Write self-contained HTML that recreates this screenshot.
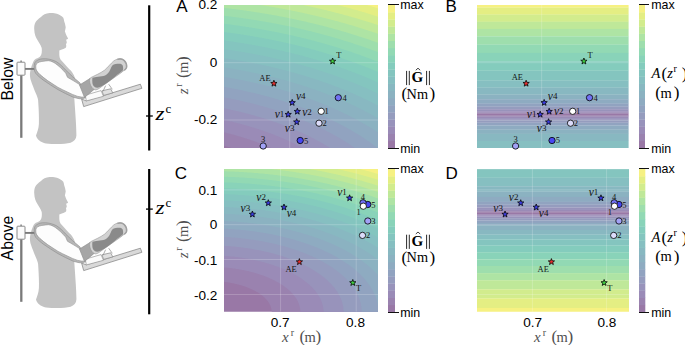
<!DOCTYPE html>
<html><head><meta charset="utf-8"><style>
html,body{margin:0;padding:0;background:#fff;}
body{width:685px;height:345px;position:relative;overflow:hidden;color:#000;}
.ab{position:absolute;}
.t{white-space:nowrap;line-height:1;}
.rot{white-space:nowrap;line-height:1;transform:translate(-50%,-50%) rotate(-90deg);}
.rotc{white-space:nowrap;line-height:1;transform:translate(-50%,-50%) rotate(-90deg);}
</style></head><body>
<svg class="ab" style="left:0;top:0" width="150" height="345" viewBox="0 0 150 345"><g transform="translate(0,0)">
<!-- stand -->
<line x1="21.3" y1="75" x2="21.3" y2="137.8" stroke="#7a7a7a" stroke-width="2.3"/>
<line x1="21.1" y1="60.6" x2="21.1" y2="62.3" stroke="#888" stroke-width="1.6"/>
<rect x="17" y="62.2" width="8" height="13" rx="0.8" fill="#fbfbfb" stroke="#8a8a8a" stroke-width="1"/>
<!-- body silhouette -->
<path d="M49.7,13 C45.5,13.3 43,15 41,17 C38.5,18.8 36.5,20.5 35.4,22.5 C34.4,24.5 34.1,26.7 34.2,28.9 C34.3,31.5 34.7,34 35.4,36.1 C36.5,38.8 38,41 39.4,43.3 C40.5,45 41.3,46.5 41.7,48 C41.9,49.5 41.9,51.2 41.7,52.8 C41.5,55 40.5,56.5 38.8,57.6 C37.8,58.2 36.9,58.5 35.9,58.7 C34,60 33.3,61.5 32.8,63 C31.8,65 31.2,67 30.9,68.8 C30.3,71 29.9,73 29.9,74.6 C30,77 30.3,79 30.9,80.4 C31.6,82.5 32.2,84.5 33,86.2 C34,89 35,91.5 35.9,93.5 C37,96 37.8,98 38.1,100 C38.5,106 39.2,116 38.9,124 C38.6,129 37.2,132 36,135.5 C37,139.5 40.5,142.2 46,143.4 C55,144.5 65,144.2 70.6,142.7 C74,141.5 76.3,139 76.4,135.5 C76.5,128 75.5,116 74.9,107 C74.6,102 74.2,97 73.8,92 L75,78 C73.5,74 71.5,71 69.6,69.6 C66.5,66 63,62.5 60.5,59.5 C59.7,58 59.3,56.5 59.3,55 L59.3,50.5 C60.4,49.8 61.8,49.3 63.3,48.9 C64.3,48.7 65.3,48.3 66.1,47.3 C66.4,46.4 66.3,45.3 66,44.2 C66.2,43.8 66.6,43.3 66.8,42.5 C66.8,41.6 66.4,40.8 66.1,39.8 C66.8,39.6 67.6,39.3 68.1,38.5 C66.8,36.5 65.5,33.5 64.9,31.3 C65.2,30 65.6,28.8 65.7,27.3 C65.4,25 64.8,23 64.1,21 C64,20 63.8,19 63.3,17.8 C61.8,16 59.5,14.8 56.9,13.8 C55,13.2 53,12.8 49.7,13 Z" fill="#c3c3c3"/>
<line x1="25" y1="68.9" x2="35.5" y2="68.9" stroke="#7a7a7a" stroke-width="1.9"/>
<!-- strap -->
<path d="M34.8,62.5 C37,60 39.5,59 42.3,58.8 C44.5,58.6 47,58.7 49.1,59.2 C52,59.8 54.5,60.6 56.6,61.8 C60,64 63,67 65.7,70.1 C70,74.5 75,79 80,82.9 L86.5,97.5 C84,98.5 81.5,98.9 79.2,98.7 C77,98.3 75,97.8 73.2,97.2 C68,95 63,92.3 58.1,89.7 C53,86.7 48,83.3 43,79.9 C40,77.7 37.5,75.5 35.5,73.1 C34,71 33.8,66 34.8,62.5 Z" fill="#b6b6b6" stroke="#8c8c8c" stroke-width="0.6"/>
<!-- upper arm -->
<path d="M36.3,64 C38,62.3 40.5,61.5 43,61.3 C45,61 46.8,60.8 48.3,60.7 C51,60.9 53,62 55.1,63.3 C59,66 62.5,69.5 65.7,73.1 C66.4,74.5 66.9,76 67.5,77.3 C69.5,78.5 71.5,79.5 73.2,80.6 C75.5,82 77.8,83.4 80,84.8 C82.5,87 84.6,90 85.6,93 C86,94.5 86.1,96 86,97.2 C83,97.3 80.3,97 77.7,96.4 C74,95.2 70.5,93.6 67.2,91.9 C64,90.4 61,89 58.1,87.4 C54.5,85.2 51,82.9 47.6,80.6 C45,78.7 42.4,76.7 40,74.6 C38.5,73.2 37.2,71.8 36.3,70.1 C35.6,68 35.6,65.5 36.3,64 Z" fill="#fdfdfd" stroke="#8c8c8c" stroke-width="0.6"/>
<!-- platform -->
<path d="M81.6,99 L86.2,100.9 L140.4,84.2 L141.9,88.3 L83.7,106.6 Z" fill="#d9d9d9" stroke="#8a8a8a" stroke-width="0.8" stroke-linejoin="round"/>
<path d="M85.2,95.2 L101,90.6 L103.5,96.3 L86.4,100.9 Z" fill="#fbfbfb" stroke="#8a8a8a" stroke-width="0.6"/>
<!-- forearm skin -->
<path d="M79.5,85 L90,78.5 L94,89.5 L84.5,97.5 Z" fill="#a6a6a6" stroke="#8a8a8a" stroke-width="0.6"/>
<!-- block + straps -->
<path d="M102,90.8 L110.7,88.8 L112.8,92.9 L103.6,95.4 Z" fill="#e0e0e0" stroke="#8a8a8a" stroke-width="0.7"/>
<line x1="105.6" y1="85.7" x2="103" y2="91.3" stroke="#8a8a8a" stroke-width="0.7"/>
<line x1="108.7" y1="84.2" x2="112.3" y2="89.3" stroke="#8a8a8a" stroke-width="0.7"/>
<!-- brace -->
<path d="M90.6,77.7 C93,76.5 95.3,75.4 97.6,74.3 C100,73 102.4,71.8 104.5,70.2 C106.2,68.8 107.7,67.2 109.1,65.6 C110.6,63.9 112.2,62.3 113.8,60.9 C115,60 116.1,59.5 117.3,59.2 C118.4,58.8 119.5,58.6 120.7,58.6 C122.2,58.8 123.3,59.5 124.2,60.4 C125.3,61.5 126.1,62.9 126.5,64.4 C126.8,65.6 126.8,66.8 126.5,67.9 C126,68.9 125.2,69.6 124.2,70.2 C123,71.2 121.9,72.2 120.7,73.1 C118.8,74.4 116.8,75.8 114.9,77.1 C113,78.5 111,79.8 109.1,81.2 C107.2,82.6 105.3,84 103.4,85.3 C101.8,86.5 100.3,87.6 98.7,88.7 C97.6,89.4 96.4,89.9 95.3,89.9 C94.4,89.7 93.6,89.3 93,88.7 C92,87.7 91.1,86.6 90.6,85.3 C90,83.8 89.6,82.2 89.5,80.6 C89.5,79.5 89.9,78.4 90.6,77.7 Z" fill="#d2d2d2" stroke="#959595" stroke-width="0.6"/>
<path d="M92.4,77.7 C95,77.2 97.5,76.9 99.9,76.6 C102.5,76.2 104.8,75.8 106.3,74.8 C108,73.5 109,72.3 109.7,70.8 C110.4,69.3 110.9,67.9 111.5,66.7 C112.2,65.5 112.9,64.8 113.8,64.4 C115.3,63.8 116.8,63.7 118.4,63.8 C119.8,63.8 121,63.9 121.9,64.4 C122.6,65 123,65.8 123,66.7 C123.2,68 123.2,69.3 123,70.2 C121.5,71.8 119.5,73.3 117.3,74.8 C115,76.7 112.7,78.7 110.3,80.6 C108,82.3 105.8,84 103.4,85.3 C101.8,86.2 100.3,87 98.7,87.6 C97,88 95.5,87.6 94.1,86.4 C93.2,85.5 92.6,84.2 92.4,82.9 C92.2,81.2 92.2,79.3 92.4,77.7 Z" fill="#8a8a8a"/>
<path d="M117.3,59.4 C119.5,58.7 122.5,58.9 124.3,60.6 C126,62.2 126.8,64.5 126.6,67.2 C126.3,68.6 125.5,69.6 124.3,70.3" fill="none" stroke="#a0a0a0" stroke-width="1.5"/>
</g><g transform="translate(0,164)">
<!-- stand -->
<line x1="21.3" y1="75" x2="21.3" y2="137.8" stroke="#7a7a7a" stroke-width="2.3"/>
<line x1="21.1" y1="60.6" x2="21.1" y2="62.3" stroke="#888" stroke-width="1.6"/>
<rect x="17" y="62.2" width="8" height="13" rx="0.8" fill="#fbfbfb" stroke="#8a8a8a" stroke-width="1"/>
<!-- body silhouette -->
<path d="M49.7,13 C45.5,13.3 43,15 41,17 C38.5,18.8 36.5,20.5 35.4,22.5 C34.4,24.5 34.1,26.7 34.2,28.9 C34.3,31.5 34.7,34 35.4,36.1 C36.5,38.8 38,41 39.4,43.3 C40.5,45 41.3,46.5 41.7,48 C41.9,49.5 41.9,51.2 41.7,52.8 C41.5,55 40.5,56.5 38.8,57.6 C37.8,58.2 36.9,58.5 35.9,58.7 C34,60 33.3,61.5 32.8,63 C31.8,65 31.2,67 30.9,68.8 C30.3,71 29.9,73 29.9,74.6 C30,77 30.3,79 30.9,80.4 C31.6,82.5 32.2,84.5 33,86.2 C34,89 35,91.5 35.9,93.5 C37,96 37.8,98 38.1,100 C38.5,106 39.2,116 38.9,124 C38.6,129 37.2,132 36,135.5 C37,139.5 40.5,142.2 46,143.4 C55,144.5 65,144.2 70.6,142.7 C74,141.5 76.3,139 76.4,135.5 C76.5,128 75.5,116 74.9,107 C74.6,102 74.2,97 73.8,92 L75,78 C73.5,74 71.5,71 69.6,69.6 C66.5,66 63,62.5 60.5,59.5 C59.7,58 59.3,56.5 59.3,55 L59.3,50.5 C60.4,49.8 61.8,49.3 63.3,48.9 C64.3,48.7 65.3,48.3 66.1,47.3 C66.4,46.4 66.3,45.3 66,44.2 C66.2,43.8 66.6,43.3 66.8,42.5 C66.8,41.6 66.4,40.8 66.1,39.8 C66.8,39.6 67.6,39.3 68.1,38.5 C66.8,36.5 65.5,33.5 64.9,31.3 C65.2,30 65.6,28.8 65.7,27.3 C65.4,25 64.8,23 64.1,21 C64,20 63.8,19 63.3,17.8 C61.8,16 59.5,14.8 56.9,13.8 C55,13.2 53,12.8 49.7,13 Z" fill="#c3c3c3"/>
<line x1="25" y1="68.9" x2="35.5" y2="68.9" stroke="#7a7a7a" stroke-width="1.9"/>
<!-- strap -->
<path d="M34.8,62.5 C37,60 39.5,59 42.3,58.8 C44.5,58.6 47,58.7 49.1,59.2 C52,59.8 54.5,60.6 56.6,61.8 C60,64 63,67 65.7,70.1 C70,74.5 75,79 80,82.9 L86.5,97.5 C84,98.5 81.5,98.9 79.2,98.7 C77,98.3 75,97.8 73.2,97.2 C68,95 63,92.3 58.1,89.7 C53,86.7 48,83.3 43,79.9 C40,77.7 37.5,75.5 35.5,73.1 C34,71 33.8,66 34.8,62.5 Z" fill="#b6b6b6" stroke="#8c8c8c" stroke-width="0.6"/>
<!-- upper arm -->
<path d="M36.3,64 C38,62.3 40.5,61.5 43,61.3 C45,61 46.8,60.8 48.3,60.7 C51,60.9 53,62 55.1,63.3 C59,66 62.5,69.5 65.7,73.1 C66.4,74.5 66.9,76 67.5,77.3 C69.5,78.5 71.5,79.5 73.2,80.6 C75.5,82 77.8,83.4 80,84.8 C82.5,87 84.6,90 85.6,93 C86,94.5 86.1,96 86,97.2 C83,97.3 80.3,97 77.7,96.4 C74,95.2 70.5,93.6 67.2,91.9 C64,90.4 61,89 58.1,87.4 C54.5,85.2 51,82.9 47.6,80.6 C45,78.7 42.4,76.7 40,74.6 C38.5,73.2 37.2,71.8 36.3,70.1 C35.6,68 35.6,65.5 36.3,64 Z" fill="#fdfdfd" stroke="#8c8c8c" stroke-width="0.6"/>
<!-- platform -->
<path d="M81.6,99 L86.2,100.9 L140.4,84.2 L141.9,88.3 L83.7,106.6 Z" fill="#d9d9d9" stroke="#8a8a8a" stroke-width="0.8" stroke-linejoin="round"/>
<path d="M85.2,95.2 L101,90.6 L103.5,96.3 L86.4,100.9 Z" fill="#fbfbfb" stroke="#8a8a8a" stroke-width="0.6"/>
<!-- forearm skin -->
<path d="M79.5,85 L90,78.5 L94,89.5 L84.5,97.5 Z" fill="#a6a6a6" stroke="#8a8a8a" stroke-width="0.6"/>
<!-- block + straps -->
<path d="M102,90.8 L110.7,88.8 L112.8,92.9 L103.6,95.4 Z" fill="#e0e0e0" stroke="#8a8a8a" stroke-width="0.7"/>
<line x1="105.6" y1="85.7" x2="103" y2="91.3" stroke="#8a8a8a" stroke-width="0.7"/>
<line x1="108.7" y1="84.2" x2="112.3" y2="89.3" stroke="#8a8a8a" stroke-width="0.7"/>
<!-- brace -->
<path d="M90.6,77.7 C93,76.5 95.3,75.4 97.6,74.3 C100,73 102.4,71.8 104.5,70.2 C106.2,68.8 107.7,67.2 109.1,65.6 C110.6,63.9 112.2,62.3 113.8,60.9 C115,60 116.1,59.5 117.3,59.2 C118.4,58.8 119.5,58.6 120.7,58.6 C122.2,58.8 123.3,59.5 124.2,60.4 C125.3,61.5 126.1,62.9 126.5,64.4 C126.8,65.6 126.8,66.8 126.5,67.9 C126,68.9 125.2,69.6 124.2,70.2 C123,71.2 121.9,72.2 120.7,73.1 C118.8,74.4 116.8,75.8 114.9,77.1 C113,78.5 111,79.8 109.1,81.2 C107.2,82.6 105.3,84 103.4,85.3 C101.8,86.5 100.3,87.6 98.7,88.7 C97.6,89.4 96.4,89.9 95.3,89.9 C94.4,89.7 93.6,89.3 93,88.7 C92,87.7 91.1,86.6 90.6,85.3 C90,83.8 89.6,82.2 89.5,80.6 C89.5,79.5 89.9,78.4 90.6,77.7 Z" fill="#d2d2d2" stroke="#959595" stroke-width="0.6"/>
<path d="M92.4,77.7 C95,77.2 97.5,76.9 99.9,76.6 C102.5,76.2 104.8,75.8 106.3,74.8 C108,73.5 109,72.3 109.7,70.8 C110.4,69.3 110.9,67.9 111.5,66.7 C112.2,65.5 112.9,64.8 113.8,64.4 C115.3,63.8 116.8,63.7 118.4,63.8 C119.8,63.8 121,63.9 121.9,64.4 C122.6,65 123,65.8 123,66.7 C123.2,68 123.2,69.3 123,70.2 C121.5,71.8 119.5,73.3 117.3,74.8 C115,76.7 112.7,78.7 110.3,80.6 C108,82.3 105.8,84 103.4,85.3 C101.8,86.2 100.3,87 98.7,87.6 C97,88 95.5,87.6 94.1,86.4 C93.2,85.5 92.6,84.2 92.4,82.9 C92.2,81.2 92.2,79.3 92.4,77.7 Z" fill="#8a8a8a"/>
<path d="M117.3,59.4 C119.5,58.7 122.5,58.9 124.3,60.6 C126,62.2 126.8,64.5 126.6,67.2 C126.3,68.6 125.5,69.6 124.3,70.3" fill="none" stroke="#a0a0a0" stroke-width="1.5"/>
</g></svg>
<div class="ab rot" style="left:8.1px;top:78.5px;font-size:15.8px;font-family:'Liberation Sans', sans-serif">Below</div>
<div class="ab rot" style="left:8.3px;top:238px;font-size:15.8px;font-family:'Liberation Sans', sans-serif">Above</div>
<svg class="ab" style="left:0;top:0" width="685" height="345">
<line x1="149.2" y1="5.3" x2="149.2" y2="150.5" stroke="#000" stroke-width="2.2"/>
<line x1="146" y1="116" x2="152.8" y2="116" stroke="#000" stroke-width="1.3"/>
<line x1="149.2" y1="169" x2="149.2" y2="314.3" stroke="#000" stroke-width="2.2"/>
<line x1="146" y1="209.1" x2="152.8" y2="209.1" stroke="#000" stroke-width="1.3"/>
</svg>
<svg class="ab" style="left:224px;top:5px;overflow:visible" width="154" height="143" viewBox="0 0 154 143">
<defs><clipPath id="cp2245"><rect x="0" y="0" width="154" height="143"/></clipPath></defs>
<g clip-path="url(#cp2245)"><rect x="-1" y="-1" width="156.0" height="145.0" fill="#9978a6"/>
<path d="M-0.2 -1.0L0.6 -1.0L1.4 -1.0L2.1 -1.0L2.9 -1.0L3.7 -1.0L4.5 -1.0L5.3 -1.0L6.1 -1.0L6.8 -1.0L7.6 -1.0L8.4 -1.0L9.2 -1.0L10.0 -1.0L10.8 -1.0L11.5 -1.0L12.3 -1.0L13.1 -1.0L13.9 -1.0L14.7 -1.0L15.5 -1.0L16.2 -1.0L17.0 -1.0L17.8 -1.0L18.6 -1.0L19.4 -1.0L20.2 -1.0L20.9 -1.0L21.7 -1.0L22.5 -1.0L23.3 -1.0L24.1 -1.0L24.9 -1.0L25.7 -1.0L26.4 -1.0L27.2 -1.0L28.0 -1.0L28.8 -1.0L29.6 -1.0L30.4 -1.0L31.1 -1.0L31.9 -1.0L32.7 -1.0L33.5 -1.0L34.3 -1.0L35.1 -1.0L35.8 -1.0L36.6 -1.0L37.4 -1.0L38.2 -1.0L39.0 -1.0L39.8 -1.0L40.5 -1.0L41.3 -1.0L42.1 -1.0L42.9 -1.0L43.7 -1.0L44.5 -1.0L45.3 -1.0L46.0 -1.0L46.8 -1.0L47.6 -1.0L48.4 -1.0L49.2 -1.0L50.0 -1.0L50.7 -1.0L51.5 -1.0L52.3 -1.0L53.1 -1.0L53.9 -1.0L54.7 -1.0L55.4 -1.0L56.2 -1.0L57.0 -1.0L57.8 -1.0L58.6 -1.0L59.4 -1.0L60.1 -1.0L60.9 -1.0L61.7 -1.0L62.5 -1.0L63.3 -1.0L64.1 -1.0L64.8 -1.0L65.6 -1.0L66.4 -1.0L67.2 -1.0L68.0 -1.0L68.8 -1.0L69.6 -1.0L70.3 -1.0L71.1 -1.0L71.9 -1.0L72.7 -1.0L73.5 -1.0L74.3 -1.0L75.0 -1.0L75.8 -1.0L76.6 -1.0L77.4 -1.0L78.2 -1.0L79.0 -1.0L79.7 -1.0L80.5 -1.0L81.3 -1.0L82.1 -1.0L82.9 -1.0L83.7 -1.0L84.4 -1.0L85.2 -1.0L86.0 -1.0L86.8 -1.0L87.6 -1.0L88.4 -1.0L89.2 -1.0L89.9 -1.0L90.7 -1.0L91.5 -1.0L92.3 -1.0L93.1 -1.0L93.9 -1.0L94.6 -1.0L95.4 -1.0L96.2 -1.0L97.0 -1.0L97.8 -1.0L98.6 -1.0L99.3 -1.0L100.1 -1.0L100.9 -1.0L101.7 -1.0L102.5 -1.0L103.3 -1.0L104.0 -1.0L104.8 -1.0L105.6 -1.0L106.4 -1.0L107.2 -1.0L108.0 -1.0L108.7 -1.0L109.5 -1.0L110.3 -1.0L111.1 -1.0L111.9 -1.0L112.7 -1.0L113.5 -1.0L114.2 -1.0L115.0 -1.0L115.8 -1.0L116.6 -1.0L117.4 -1.0L118.2 -1.0L118.9 -1.0L119.7 -1.0L120.5 -1.0L121.3 -1.0L122.1 -1.0L122.9 -1.0L123.6 -1.0L124.4 -1.0L125.2 -1.0L126.0 -1.0L126.8 -1.0L127.6 -1.0L128.3 -1.0L129.1 -1.0L129.9 -1.0L130.7 -1.0L131.5 -1.0L132.3 -1.0L133.1 -1.0L133.8 -1.0L134.6 -1.0L135.4 -1.0L136.2 -1.0L137.0 -1.0L137.8 -1.0L138.5 -1.0L139.3 -1.0L140.1 -1.0L140.9 -1.0L141.7 -1.0L142.5 -1.0L143.2 -1.0L144.0 -1.0L144.8 -1.0L145.6 -1.0L146.4 -1.0L147.2 -1.0L147.9 -1.0L148.7 -1.0L149.5 -1.0L150.3 -1.0L151.1 -1.0L151.9 -1.0L152.6 -1.0L153.4 -1.0L154.2 -1.0L155.0 -1.0L155.0 -0.2L155.0 0.5L155.0 1.3L155.0 2.1L155.0 2.8L155.0 3.6L155.0 4.4L155.0 5.1L155.0 5.9L155.0 6.7L155.0 7.4L155.0 8.2L155.0 9.0L155.0 9.7L155.0 10.5L155.0 11.3L155.0 12.0L155.0 12.8L155.0 13.6L155.0 14.3L155.0 15.1L155.0 15.9L155.0 16.6L155.0 17.4L155.0 18.2L155.0 18.9L155.0 19.7L155.0 20.5L155.0 21.2L155.0 22.0L155.0 22.8L155.0 23.6L155.0 24.3L155.0 25.1L155.0 25.9L155.0 26.6L155.0 27.4L155.0 28.2L155.0 28.9L155.0 29.7L155.0 30.5L155.0 31.2L155.0 32.0L155.0 32.8L155.0 33.5L155.0 34.3L155.0 35.1L155.0 35.8L155.0 36.6L155.0 37.4L155.0 38.1L155.0 38.9L155.0 39.7L155.0 40.4L155.0 41.2L155.0 42.0L155.0 42.7L155.0 43.5L155.0 44.3L155.0 45.0L155.0 45.8L155.0 46.6L155.0 47.3L155.0 48.1L155.0 48.9L155.0 49.6L155.0 50.4L155.0 51.2L155.0 51.9L155.0 52.7L155.0 53.5L155.0 54.2L155.0 55.0L155.0 55.8L155.0 56.5L155.0 57.3L155.0 58.1L155.0 58.8L155.0 59.6L155.0 60.4L155.0 61.1L155.0 61.9L155.0 62.7L155.0 63.4L155.0 64.2L155.0 65.0L155.0 65.7L155.0 66.5L155.0 67.3L155.0 68.0L155.0 68.8L155.0 69.6L155.0 70.3L155.0 71.1L155.0 71.9L155.0 72.7L155.0 73.4L155.0 74.2L155.0 75.0L155.0 75.7L155.0 76.5L155.0 77.3L155.0 78.0L155.0 78.8L155.0 79.6L155.0 80.3L155.0 81.1L155.0 81.9L155.0 82.6L155.0 83.4L155.0 84.2L155.0 84.9L155.0 85.7L155.0 86.5L155.0 87.2L155.0 88.0L155.0 88.8L155.0 89.5L155.0 90.3L155.0 91.1L155.0 91.8L155.0 92.6L155.0 93.4L155.0 94.1L155.0 94.9L155.0 95.7L155.0 96.4L155.0 97.2L155.0 98.0L155.0 98.7L155.0 99.5L155.0 100.3L155.0 101.0L155.0 101.8L155.0 102.6L155.0 103.3L155.0 104.1L155.0 104.9L155.0 105.6L155.0 106.4L155.0 107.2L155.0 107.9L155.0 108.7L155.0 109.5L155.0 110.2L155.0 111.0L155.0 111.8L155.0 112.5L155.0 113.3L155.0 114.1L155.0 114.8L155.0 115.6L155.0 116.4L155.0 117.1L155.0 117.9L155.0 118.7L155.0 119.4L155.0 120.2L155.0 121.0L155.0 121.8L155.0 122.5L155.0 123.3L155.0 124.1L155.0 124.8L155.0 125.6L155.0 126.4L155.0 127.1L155.0 127.9L155.0 128.7L155.0 129.4L155.0 130.2L155.0 131.0L155.0 131.7L155.0 132.5L155.0 133.3L155.0 134.0L155.0 134.8L155.0 135.6L155.0 136.3L155.0 137.1L155.0 137.9L155.0 138.6L155.0 139.4L155.0 140.2L155.0 140.9L155.0 141.7L155.0 142.5L155.0 143.2L155.0 144.0L154.2 144.0L153.4 144.0L152.6 144.0L151.9 144.0L151.1 144.0L150.3 144.0L149.5 144.0L148.7 144.0L147.9 144.0L147.2 144.0L146.4 144.0L145.6 144.0L144.8 144.0L144.0 144.0L143.2 144.0L142.5 144.0L141.7 144.0L140.9 144.0L140.1 144.0L139.3 144.0L138.5 144.0L137.8 144.0L137.0 144.0L136.2 144.0L135.4 144.0L134.6 144.0L133.8 144.0L133.1 144.0L132.3 144.0L131.5 144.0L130.7 144.0L129.9 144.0L129.1 144.0L128.3 144.0L127.6 144.0L126.8 144.0L126.0 144.0L125.2 144.0L124.4 144.0L123.6 144.0L122.9 144.0L122.1 144.0L121.3 144.0L120.5 144.0L119.7 144.0L118.9 144.0L118.2 144.0L117.4 144.0L116.6 144.0L115.8 144.0L115.0 144.0L114.2 144.0L113.5 144.0L112.7 144.0L111.9 144.0L111.1 144.0L110.3 144.0L109.5 144.0L108.7 144.0L108.0 144.0L107.2 144.0L106.4 144.0L105.6 144.0L104.8 144.0L104.0 144.0L103.3 144.0L102.5 144.0L101.7 144.0L100.9 144.0L100.1 144.0L99.3 144.0L98.6 144.0L97.8 144.0L97.0 144.0L96.2 144.0L95.4 144.0L94.6 144.0L93.9 144.0L93.1 144.0L92.3 144.0L91.5 144.0L90.7 144.0L89.9 144.0L89.2 144.0L88.4 144.0L87.6 144.0L86.8 144.0L86.0 144.0L85.2 144.0L84.4 144.0L83.7 144.0L82.9 144.0L82.1 144.0L81.3 144.0L80.5 144.0L79.7 144.0L79.0 144.0L78.2 144.0L77.4 144.0L76.6 144.0L75.8 144.0L75.0 144.0L74.3 144.0L73.5 144.0L72.7 144.0L71.9 144.0L71.1 144.0L70.3 144.0L69.6 144.0L68.8 144.0L68.0 144.0L67.2 144.0L66.4 144.0L65.6 144.0L64.8 144.0L64.1 144.0L63.3 144.0L62.5 144.0L61.7 144.0L60.9 144.0L60.1 144.0L59.4 144.0L58.6 144.0L57.8 144.0L57.0 144.0L56.2 144.0L55.4 144.0L54.7 144.0L53.9 144.0L53.1 144.0L52.3 144.0L51.5 144.0L50.7 144.0L50.0 144.0L49.2 144.0L48.4 144.0L47.6 144.0L46.8 144.0L46.0 144.0L45.3 144.0L44.5 144.0L43.7 144.0L42.9 144.0L42.1 144.0L41.3 144.0L40.5 144.0L39.8 144.0L39.0 144.0L38.2 144.0L37.4 144.0L36.6 144.0L35.8 144.0L35.1 144.0L34.3 144.0L33.5 144.0L32.7 144.0L31.9 144.0L31.1 144.0L30.4 144.0L29.6 144.0L28.8 144.0L28.0 144.0L27.2 144.0L26.4 144.0L25.7 144.0L24.9 144.0L24.1 144.0L23.3 144.0L22.5 144.0L21.7 144.0L20.9 144.0L20.2 144.0L19.4 144.0L18.6 144.0L17.8 144.0L17.0 144.0L16.2 144.0L15.5 144.0L14.7 144.0L13.9 144.0L13.1 144.0L12.3 144.0L11.5 144.0L11.0 144.0L10.8 143.9L10.0 143.7L9.2 143.4L8.6 143.2L8.4 143.2L7.6 142.9L6.8 142.7L6.1 142.5L6.1 142.5L5.3 142.2L4.5 142.0L3.7 141.8L3.5 141.7L2.9 141.5L2.1 141.3L1.4 141.1L0.9 140.9L0.6 140.8L-0.2 140.6L-1.0 140.4L-1.0 140.2L-1.0 139.4L-1.0 138.6L-1.0 137.9L-1.0 137.1L-1.0 136.3L-1.0 135.6L-1.0 134.8L-1.0 134.0L-1.0 133.3L-1.0 132.5L-1.0 131.7L-1.0 131.0L-1.0 130.2L-1.0 129.4L-1.0 128.7L-1.0 127.9L-1.0 127.1L-1.0 126.4L-1.0 125.6L-1.0 124.8L-1.0 124.1L-1.0 123.3L-1.0 122.5L-1.0 121.8L-1.0 121.0L-1.0 120.2L-1.0 119.4L-1.0 118.7L-1.0 117.9L-1.0 117.1L-1.0 116.4L-1.0 115.6L-1.0 114.8L-1.0 114.1L-1.0 113.3L-1.0 112.5L-1.0 111.8L-1.0 111.0L-1.0 110.2L-1.0 109.5L-1.0 108.7L-1.0 107.9L-1.0 107.2L-1.0 106.4L-1.0 105.6L-1.0 104.9L-1.0 104.1L-1.0 103.3L-1.0 102.6L-1.0 101.8L-1.0 101.0L-1.0 100.3L-1.0 99.5L-1.0 98.7L-1.0 98.0L-1.0 97.2L-1.0 96.4L-1.0 95.7L-1.0 94.9L-1.0 94.1L-1.0 93.4L-1.0 92.6L-1.0 91.8L-1.0 91.1L-1.0 90.3L-1.0 89.5L-1.0 88.8L-1.0 88.0L-1.0 87.2L-1.0 86.5L-1.0 85.7L-1.0 84.9L-1.0 84.2L-1.0 83.4L-1.0 82.6L-1.0 81.9L-1.0 81.1L-1.0 80.3L-1.0 79.6L-1.0 78.8L-1.0 78.0L-1.0 77.3L-1.0 76.5L-1.0 75.7L-1.0 75.0L-1.0 74.2L-1.0 73.4L-1.0 72.7L-1.0 71.9L-1.0 71.1L-1.0 70.3L-1.0 69.6L-1.0 68.8L-1.0 68.0L-1.0 67.3L-1.0 66.5L-1.0 65.7L-1.0 65.0L-1.0 64.2L-1.0 63.4L-1.0 62.7L-1.0 61.9L-1.0 61.1L-1.0 60.4L-1.0 59.6L-1.0 58.8L-1.0 58.1L-1.0 57.3L-1.0 56.5L-1.0 55.8L-1.0 55.0L-1.0 54.2L-1.0 53.5L-1.0 52.7L-1.0 51.9L-1.0 51.2L-1.0 50.4L-1.0 49.6L-1.0 48.9L-1.0 48.1L-1.0 47.3L-1.0 46.6L-1.0 45.8L-1.0 45.0L-1.0 44.3L-1.0 43.5L-1.0 42.7L-1.0 42.0L-1.0 41.2L-1.0 40.4L-1.0 39.7L-1.0 38.9L-1.0 38.1L-1.0 37.4L-1.0 36.6L-1.0 35.8L-1.0 35.1L-1.0 34.3L-1.0 33.5L-1.0 32.8L-1.0 32.0L-1.0 31.2L-1.0 30.5L-1.0 29.7L-1.0 28.9L-1.0 28.2L-1.0 27.4L-1.0 26.6L-1.0 25.9L-1.0 25.1L-1.0 24.3L-1.0 23.6L-1.0 22.8L-1.0 22.0L-1.0 21.2L-1.0 20.5L-1.0 19.7L-1.0 18.9L-1.0 18.2L-1.0 17.4L-1.0 16.6L-1.0 15.9L-1.0 15.1L-1.0 14.3L-1.0 13.6L-1.0 12.8L-1.0 12.0L-1.0 11.3L-1.0 10.5L-1.0 9.7L-1.0 9.0L-1.0 8.2L-1.0 7.4L-1.0 6.7L-1.0 5.9L-1.0 5.1L-1.0 4.4L-1.0 3.6L-1.0 2.8L-1.0 2.1L-1.0 1.3L-1.0 0.5L-1.0 -0.2L-1.0 -1.0Z" fill="#9a82af"/>
<path d="M-0.2 -1.0L0.6 -1.0L1.4 -1.0L2.1 -1.0L2.9 -1.0L3.7 -1.0L4.5 -1.0L5.3 -1.0L6.1 -1.0L6.8 -1.0L7.6 -1.0L8.4 -1.0L9.2 -1.0L10.0 -1.0L10.8 -1.0L11.5 -1.0L12.3 -1.0L13.1 -1.0L13.9 -1.0L14.7 -1.0L15.5 -1.0L16.2 -1.0L17.0 -1.0L17.8 -1.0L18.6 -1.0L19.4 -1.0L20.2 -1.0L20.9 -1.0L21.7 -1.0L22.5 -1.0L23.3 -1.0L24.1 -1.0L24.9 -1.0L25.7 -1.0L26.4 -1.0L27.2 -1.0L28.0 -1.0L28.8 -1.0L29.6 -1.0L30.4 -1.0L31.1 -1.0L31.9 -1.0L32.7 -1.0L33.5 -1.0L34.3 -1.0L35.1 -1.0L35.8 -1.0L36.6 -1.0L37.4 -1.0L38.2 -1.0L39.0 -1.0L39.8 -1.0L40.5 -1.0L41.3 -1.0L42.1 -1.0L42.9 -1.0L43.7 -1.0L44.5 -1.0L45.3 -1.0L46.0 -1.0L46.8 -1.0L47.6 -1.0L48.4 -1.0L49.2 -1.0L50.0 -1.0L50.7 -1.0L51.5 -1.0L52.3 -1.0L53.1 -1.0L53.9 -1.0L54.7 -1.0L55.4 -1.0L56.2 -1.0L57.0 -1.0L57.8 -1.0L58.6 -1.0L59.4 -1.0L60.1 -1.0L60.9 -1.0L61.7 -1.0L62.5 -1.0L63.3 -1.0L64.1 -1.0L64.8 -1.0L65.6 -1.0L66.4 -1.0L67.2 -1.0L68.0 -1.0L68.8 -1.0L69.6 -1.0L70.3 -1.0L71.1 -1.0L71.9 -1.0L72.7 -1.0L73.5 -1.0L74.3 -1.0L75.0 -1.0L75.8 -1.0L76.6 -1.0L77.4 -1.0L78.2 -1.0L79.0 -1.0L79.7 -1.0L80.5 -1.0L81.3 -1.0L82.1 -1.0L82.9 -1.0L83.7 -1.0L84.4 -1.0L85.2 -1.0L86.0 -1.0L86.8 -1.0L87.6 -1.0L88.4 -1.0L89.2 -1.0L89.9 -1.0L90.7 -1.0L91.5 -1.0L92.3 -1.0L93.1 -1.0L93.9 -1.0L94.6 -1.0L95.4 -1.0L96.2 -1.0L97.0 -1.0L97.8 -1.0L98.6 -1.0L99.3 -1.0L100.1 -1.0L100.9 -1.0L101.7 -1.0L102.5 -1.0L103.3 -1.0L104.0 -1.0L104.8 -1.0L105.6 -1.0L106.4 -1.0L107.2 -1.0L108.0 -1.0L108.7 -1.0L109.5 -1.0L110.3 -1.0L111.1 -1.0L111.9 -1.0L112.7 -1.0L113.5 -1.0L114.2 -1.0L115.0 -1.0L115.8 -1.0L116.6 -1.0L117.4 -1.0L118.2 -1.0L118.9 -1.0L119.7 -1.0L120.5 -1.0L121.3 -1.0L122.1 -1.0L122.9 -1.0L123.6 -1.0L124.4 -1.0L125.2 -1.0L126.0 -1.0L126.8 -1.0L127.6 -1.0L128.3 -1.0L129.1 -1.0L129.9 -1.0L130.7 -1.0L131.5 -1.0L132.3 -1.0L133.1 -1.0L133.8 -1.0L134.6 -1.0L135.4 -1.0L136.2 -1.0L137.0 -1.0L137.8 -1.0L138.5 -1.0L139.3 -1.0L140.1 -1.0L140.9 -1.0L141.7 -1.0L142.5 -1.0L143.2 -1.0L144.0 -1.0L144.8 -1.0L145.6 -1.0L146.4 -1.0L147.2 -1.0L147.9 -1.0L148.7 -1.0L149.5 -1.0L150.3 -1.0L151.1 -1.0L151.9 -1.0L152.6 -1.0L153.4 -1.0L154.2 -1.0L155.0 -1.0L155.0 -0.2L155.0 0.5L155.0 1.3L155.0 2.1L155.0 2.8L155.0 3.6L155.0 4.4L155.0 5.1L155.0 5.9L155.0 6.7L155.0 7.4L155.0 8.2L155.0 9.0L155.0 9.7L155.0 10.5L155.0 11.3L155.0 12.0L155.0 12.8L155.0 13.6L155.0 14.3L155.0 15.1L155.0 15.9L155.0 16.6L155.0 17.4L155.0 18.2L155.0 18.9L155.0 19.7L155.0 20.5L155.0 21.2L155.0 22.0L155.0 22.8L155.0 23.6L155.0 24.3L155.0 25.1L155.0 25.9L155.0 26.6L155.0 27.4L155.0 28.2L155.0 28.9L155.0 29.7L155.0 30.5L155.0 31.2L155.0 32.0L155.0 32.8L155.0 33.5L155.0 34.3L155.0 35.1L155.0 35.8L155.0 36.6L155.0 37.4L155.0 38.1L155.0 38.9L155.0 39.7L155.0 40.4L155.0 41.2L155.0 42.0L155.0 42.7L155.0 43.5L155.0 44.3L155.0 45.0L155.0 45.8L155.0 46.6L155.0 47.3L155.0 48.1L155.0 48.9L155.0 49.6L155.0 50.4L155.0 51.2L155.0 51.9L155.0 52.7L155.0 53.5L155.0 54.2L155.0 55.0L155.0 55.8L155.0 56.5L155.0 57.3L155.0 58.1L155.0 58.8L155.0 59.6L155.0 60.4L155.0 61.1L155.0 61.9L155.0 62.7L155.0 63.4L155.0 64.2L155.0 65.0L155.0 65.7L155.0 66.5L155.0 67.3L155.0 68.0L155.0 68.8L155.0 69.6L155.0 70.3L155.0 71.1L155.0 71.9L155.0 72.7L155.0 73.4L155.0 74.2L155.0 75.0L155.0 75.7L155.0 76.5L155.0 77.3L155.0 78.0L155.0 78.8L155.0 79.6L155.0 80.3L155.0 81.1L155.0 81.9L155.0 82.6L155.0 83.4L155.0 84.2L155.0 84.9L155.0 85.7L155.0 86.5L155.0 87.2L155.0 88.0L155.0 88.8L155.0 89.5L155.0 90.3L155.0 91.1L155.0 91.8L155.0 92.6L155.0 93.4L155.0 94.1L155.0 94.9L155.0 95.7L155.0 96.4L155.0 97.2L155.0 98.0L155.0 98.7L155.0 99.5L155.0 100.3L155.0 101.0L155.0 101.8L155.0 102.6L155.0 103.3L155.0 104.1L155.0 104.9L155.0 105.6L155.0 106.4L155.0 107.2L155.0 107.9L155.0 108.7L155.0 109.5L155.0 110.2L155.0 111.0L155.0 111.8L155.0 112.5L155.0 113.3L155.0 114.1L155.0 114.8L155.0 115.6L155.0 116.4L155.0 117.1L155.0 117.9L155.0 118.7L155.0 119.4L155.0 120.2L155.0 121.0L155.0 121.8L155.0 122.5L155.0 123.3L155.0 124.1L155.0 124.8L155.0 125.6L155.0 126.4L155.0 127.1L155.0 127.9L155.0 128.7L155.0 129.4L155.0 130.2L155.0 131.0L155.0 131.7L155.0 132.5L155.0 133.3L155.0 134.0L155.0 134.8L155.0 135.6L155.0 136.3L155.0 137.1L155.0 137.9L155.0 138.6L155.0 139.4L155.0 140.2L155.0 140.9L155.0 141.7L155.0 142.5L155.0 143.2L155.0 144.0L154.2 144.0L153.4 144.0L152.6 144.0L151.9 144.0L151.1 144.0L150.3 144.0L149.5 144.0L148.7 144.0L147.9 144.0L147.2 144.0L146.4 144.0L145.6 144.0L144.8 144.0L144.0 144.0L143.2 144.0L142.5 144.0L141.7 144.0L140.9 144.0L140.1 144.0L139.3 144.0L138.5 144.0L137.8 144.0L137.0 144.0L136.2 144.0L135.4 144.0L134.6 144.0L133.8 144.0L133.1 144.0L132.3 144.0L131.5 144.0L130.7 144.0L129.9 144.0L129.1 144.0L128.3 144.0L127.6 144.0L126.8 144.0L126.0 144.0L125.2 144.0L124.4 144.0L123.6 144.0L122.9 144.0L122.1 144.0L121.3 144.0L120.5 144.0L119.7 144.0L118.9 144.0L118.2 144.0L117.4 144.0L116.6 144.0L115.8 144.0L115.0 144.0L114.2 144.0L113.5 144.0L112.7 144.0L111.9 144.0L111.1 144.0L110.3 144.0L109.5 144.0L108.7 144.0L108.0 144.0L107.2 144.0L106.4 144.0L105.6 144.0L104.8 144.0L104.0 144.0L103.3 144.0L102.5 144.0L101.7 144.0L100.9 144.0L100.1 144.0L99.3 144.0L98.6 144.0L97.8 144.0L97.0 144.0L96.2 144.0L95.4 144.0L94.6 144.0L93.9 144.0L93.1 144.0L92.3 144.0L91.5 144.0L90.7 144.0L89.9 144.0L89.2 144.0L88.4 144.0L87.6 144.0L86.8 144.0L86.0 144.0L85.2 144.0L84.4 144.0L83.7 144.0L82.9 144.0L82.1 144.0L81.3 144.0L80.5 144.0L79.7 144.0L79.0 144.0L78.2 144.0L77.4 144.0L76.6 144.0L75.8 144.0L75.0 144.0L74.3 144.0L73.5 144.0L72.7 144.0L71.9 144.0L71.1 144.0L70.3 144.0L69.6 144.0L68.8 144.0L68.0 144.0L67.2 144.0L66.4 144.0L65.6 144.0L64.8 144.0L64.1 144.0L63.3 144.0L62.5 144.0L61.7 144.0L60.9 144.0L60.1 144.0L59.4 144.0L58.6 144.0L57.8 144.0L57.0 144.0L56.2 144.0L55.4 144.0L54.7 144.0L53.9 144.0L53.1 144.0L52.3 144.0L51.5 144.0L50.7 144.0L50.0 144.0L49.6 144.0L49.2 143.8L48.4 143.5L47.9 143.2L47.6 143.1L46.8 142.8L46.1 142.5L46.0 142.4L45.3 142.1L44.5 141.8L44.3 141.7L43.7 141.4L42.9 141.1L42.5 140.9L42.1 140.8L41.3 140.5L40.6 140.2L40.5 140.1L39.8 139.8L39.0 139.5L38.7 139.4L38.2 139.2L37.4 138.9L36.7 138.6L36.6 138.6L35.8 138.3L35.1 138.0L34.7 137.9L34.3 137.7L33.5 137.4L32.7 137.1L32.6 137.1L31.9 136.8L31.1 136.6L30.5 136.3L30.4 136.3L29.6 136.0L28.8 135.7L28.3 135.6L28.0 135.5L27.2 135.2L26.4 134.9L26.1 134.8L25.7 134.6L24.9 134.4L24.1 134.1L23.8 134.0L23.3 133.9L22.5 133.6L21.7 133.4L21.4 133.3L20.9 133.1L20.2 132.9L19.4 132.6L19.0 132.5L18.6 132.4L17.8 132.1L17.0 131.9L16.5 131.7L16.2 131.6L15.5 131.4L14.7 131.2L13.9 131.0L13.9 131.0L13.1 130.7L12.3 130.5L11.5 130.3L11.2 130.2L10.8 130.1L10.0 129.8L9.2 129.6L8.5 129.4L8.4 129.4L7.6 129.2L6.8 129.0L6.1 128.8L5.6 128.7L5.3 128.6L4.5 128.4L3.7 128.2L2.9 128.0L2.7 127.9L2.1 127.8L1.4 127.6L0.6 127.4L-0.2 127.2L-0.4 127.1L-1.0 127.0L-1.0 126.4L-1.0 125.6L-1.0 124.8L-1.0 124.1L-1.0 123.3L-1.0 122.5L-1.0 121.8L-1.0 121.0L-1.0 120.2L-1.0 119.4L-1.0 118.7L-1.0 117.9L-1.0 117.1L-1.0 116.4L-1.0 115.6L-1.0 114.8L-1.0 114.1L-1.0 113.3L-1.0 112.5L-1.0 111.8L-1.0 111.0L-1.0 110.2L-1.0 109.5L-1.0 108.7L-1.0 107.9L-1.0 107.2L-1.0 106.4L-1.0 105.6L-1.0 104.9L-1.0 104.1L-1.0 103.3L-1.0 102.6L-1.0 101.8L-1.0 101.0L-1.0 100.3L-1.0 99.5L-1.0 98.7L-1.0 98.0L-1.0 97.2L-1.0 96.4L-1.0 95.7L-1.0 94.9L-1.0 94.1L-1.0 93.4L-1.0 92.6L-1.0 91.8L-1.0 91.1L-1.0 90.3L-1.0 89.5L-1.0 88.8L-1.0 88.0L-1.0 87.2L-1.0 86.5L-1.0 85.7L-1.0 84.9L-1.0 84.2L-1.0 83.4L-1.0 82.6L-1.0 81.9L-1.0 81.1L-1.0 80.3L-1.0 79.6L-1.0 78.8L-1.0 78.0L-1.0 77.3L-1.0 76.5L-1.0 75.7L-1.0 75.0L-1.0 74.2L-1.0 73.4L-1.0 72.7L-1.0 71.9L-1.0 71.1L-1.0 70.3L-1.0 69.6L-1.0 68.8L-1.0 68.0L-1.0 67.3L-1.0 66.5L-1.0 65.7L-1.0 65.0L-1.0 64.2L-1.0 63.4L-1.0 62.7L-1.0 61.9L-1.0 61.1L-1.0 60.4L-1.0 59.6L-1.0 58.8L-1.0 58.1L-1.0 57.3L-1.0 56.5L-1.0 55.8L-1.0 55.0L-1.0 54.2L-1.0 53.5L-1.0 52.7L-1.0 51.9L-1.0 51.2L-1.0 50.4L-1.0 49.6L-1.0 48.9L-1.0 48.1L-1.0 47.3L-1.0 46.6L-1.0 45.8L-1.0 45.0L-1.0 44.3L-1.0 43.5L-1.0 42.7L-1.0 42.0L-1.0 41.2L-1.0 40.4L-1.0 39.7L-1.0 38.9L-1.0 38.1L-1.0 37.4L-1.0 36.6L-1.0 35.8L-1.0 35.1L-1.0 34.3L-1.0 33.5L-1.0 32.8L-1.0 32.0L-1.0 31.2L-1.0 30.5L-1.0 29.7L-1.0 28.9L-1.0 28.2L-1.0 27.4L-1.0 26.6L-1.0 25.9L-1.0 25.1L-1.0 24.3L-1.0 23.6L-1.0 22.8L-1.0 22.0L-1.0 21.2L-1.0 20.5L-1.0 19.7L-1.0 18.9L-1.0 18.2L-1.0 17.4L-1.0 16.6L-1.0 15.9L-1.0 15.1L-1.0 14.3L-1.0 13.6L-1.0 12.8L-1.0 12.0L-1.0 11.3L-1.0 10.5L-1.0 9.7L-1.0 9.0L-1.0 8.2L-1.0 7.4L-1.0 6.7L-1.0 5.9L-1.0 5.1L-1.0 4.4L-1.0 3.6L-1.0 2.8L-1.0 2.1L-1.0 1.3L-1.0 0.5L-1.0 -0.2L-1.0 -1.0Z" fill="#9a8bb7"/>
<path d="M-0.2 -1.0L0.6 -1.0L1.4 -1.0L2.1 -1.0L2.9 -1.0L3.7 -1.0L4.5 -1.0L5.3 -1.0L6.1 -1.0L6.8 -1.0L7.6 -1.0L8.4 -1.0L9.2 -1.0L10.0 -1.0L10.8 -1.0L11.5 -1.0L12.3 -1.0L13.1 -1.0L13.9 -1.0L14.7 -1.0L15.5 -1.0L16.2 -1.0L17.0 -1.0L17.8 -1.0L18.6 -1.0L19.4 -1.0L20.2 -1.0L20.9 -1.0L21.7 -1.0L22.5 -1.0L23.3 -1.0L24.1 -1.0L24.9 -1.0L25.7 -1.0L26.4 -1.0L27.2 -1.0L28.0 -1.0L28.8 -1.0L29.6 -1.0L30.4 -1.0L31.1 -1.0L31.9 -1.0L32.7 -1.0L33.5 -1.0L34.3 -1.0L35.1 -1.0L35.8 -1.0L36.6 -1.0L37.4 -1.0L38.2 -1.0L39.0 -1.0L39.8 -1.0L40.5 -1.0L41.3 -1.0L42.1 -1.0L42.9 -1.0L43.7 -1.0L44.5 -1.0L45.3 -1.0L46.0 -1.0L46.8 -1.0L47.6 -1.0L48.4 -1.0L49.2 -1.0L50.0 -1.0L50.7 -1.0L51.5 -1.0L52.3 -1.0L53.1 -1.0L53.9 -1.0L54.7 -1.0L55.4 -1.0L56.2 -1.0L57.0 -1.0L57.8 -1.0L58.6 -1.0L59.4 -1.0L60.1 -1.0L60.9 -1.0L61.7 -1.0L62.5 -1.0L63.3 -1.0L64.1 -1.0L64.8 -1.0L65.6 -1.0L66.4 -1.0L67.2 -1.0L68.0 -1.0L68.8 -1.0L69.6 -1.0L70.3 -1.0L71.1 -1.0L71.9 -1.0L72.7 -1.0L73.5 -1.0L74.3 -1.0L75.0 -1.0L75.8 -1.0L76.6 -1.0L77.4 -1.0L78.2 -1.0L79.0 -1.0L79.7 -1.0L80.5 -1.0L81.3 -1.0L82.1 -1.0L82.9 -1.0L83.7 -1.0L84.4 -1.0L85.2 -1.0L86.0 -1.0L86.8 -1.0L87.6 -1.0L88.4 -1.0L89.2 -1.0L89.9 -1.0L90.7 -1.0L91.5 -1.0L92.3 -1.0L93.1 -1.0L93.9 -1.0L94.6 -1.0L95.4 -1.0L96.2 -1.0L97.0 -1.0L97.8 -1.0L98.6 -1.0L99.3 -1.0L100.1 -1.0L100.9 -1.0L101.7 -1.0L102.5 -1.0L103.3 -1.0L104.0 -1.0L104.8 -1.0L105.6 -1.0L106.4 -1.0L107.2 -1.0L108.0 -1.0L108.7 -1.0L109.5 -1.0L110.3 -1.0L111.1 -1.0L111.9 -1.0L112.7 -1.0L113.5 -1.0L114.2 -1.0L115.0 -1.0L115.8 -1.0L116.6 -1.0L117.4 -1.0L118.2 -1.0L118.9 -1.0L119.7 -1.0L120.5 -1.0L121.3 -1.0L122.1 -1.0L122.9 -1.0L123.6 -1.0L124.4 -1.0L125.2 -1.0L126.0 -1.0L126.8 -1.0L127.6 -1.0L128.3 -1.0L129.1 -1.0L129.9 -1.0L130.7 -1.0L131.5 -1.0L132.3 -1.0L133.1 -1.0L133.8 -1.0L134.6 -1.0L135.4 -1.0L136.2 -1.0L137.0 -1.0L137.8 -1.0L138.5 -1.0L139.3 -1.0L140.1 -1.0L140.9 -1.0L141.7 -1.0L142.5 -1.0L143.2 -1.0L144.0 -1.0L144.8 -1.0L145.6 -1.0L146.4 -1.0L147.2 -1.0L147.9 -1.0L148.7 -1.0L149.5 -1.0L150.3 -1.0L151.1 -1.0L151.9 -1.0L152.6 -1.0L153.4 -1.0L154.2 -1.0L155.0 -1.0L155.0 -0.2L155.0 0.5L155.0 1.3L155.0 2.1L155.0 2.8L155.0 3.6L155.0 4.4L155.0 5.1L155.0 5.9L155.0 6.7L155.0 7.4L155.0 8.2L155.0 9.0L155.0 9.7L155.0 10.5L155.0 11.3L155.0 12.0L155.0 12.8L155.0 13.6L155.0 14.3L155.0 15.1L155.0 15.9L155.0 16.6L155.0 17.4L155.0 18.2L155.0 18.9L155.0 19.7L155.0 20.5L155.0 21.2L155.0 22.0L155.0 22.8L155.0 23.6L155.0 24.3L155.0 25.1L155.0 25.9L155.0 26.6L155.0 27.4L155.0 28.2L155.0 28.9L155.0 29.7L155.0 30.5L155.0 31.2L155.0 32.0L155.0 32.8L155.0 33.5L155.0 34.3L155.0 35.1L155.0 35.8L155.0 36.6L155.0 37.4L155.0 38.1L155.0 38.9L155.0 39.7L155.0 40.4L155.0 41.2L155.0 42.0L155.0 42.7L155.0 43.5L155.0 44.3L155.0 45.0L155.0 45.8L155.0 46.6L155.0 47.3L155.0 48.1L155.0 48.9L155.0 49.6L155.0 50.4L155.0 51.2L155.0 51.9L155.0 52.7L155.0 53.5L155.0 54.2L155.0 55.0L155.0 55.8L155.0 56.5L155.0 57.3L155.0 58.1L155.0 58.8L155.0 59.6L155.0 60.4L155.0 61.1L155.0 61.9L155.0 62.7L155.0 63.4L155.0 64.2L155.0 65.0L155.0 65.7L155.0 66.5L155.0 67.3L155.0 68.0L155.0 68.8L155.0 69.6L155.0 70.3L155.0 71.1L155.0 71.9L155.0 72.7L155.0 73.4L155.0 74.2L155.0 75.0L155.0 75.7L155.0 76.5L155.0 77.3L155.0 78.0L155.0 78.8L155.0 79.6L155.0 80.3L155.0 81.1L155.0 81.9L155.0 82.6L155.0 83.4L155.0 84.2L155.0 84.9L155.0 85.7L155.0 86.5L155.0 87.2L155.0 88.0L155.0 88.8L155.0 89.5L155.0 90.3L155.0 91.1L155.0 91.8L155.0 92.6L155.0 93.4L155.0 94.1L155.0 94.9L155.0 95.7L155.0 96.4L155.0 97.2L155.0 98.0L155.0 98.7L155.0 99.5L155.0 100.3L155.0 101.0L155.0 101.8L155.0 102.6L155.0 103.3L155.0 104.1L155.0 104.9L155.0 105.6L155.0 106.4L155.0 107.2L155.0 107.9L155.0 108.7L155.0 109.5L155.0 110.2L155.0 111.0L155.0 111.8L155.0 112.5L155.0 113.3L155.0 114.1L155.0 114.8L155.0 115.6L155.0 116.4L155.0 117.1L155.0 117.9L155.0 118.7L155.0 119.4L155.0 120.2L155.0 121.0L155.0 121.8L155.0 122.5L155.0 123.3L155.0 124.1L155.0 124.8L155.0 125.6L155.0 126.4L155.0 127.1L155.0 127.9L155.0 128.7L155.0 129.4L155.0 130.2L155.0 131.0L155.0 131.7L155.0 132.5L155.0 133.3L155.0 134.0L155.0 134.8L155.0 135.6L155.0 136.3L155.0 137.1L155.0 137.9L155.0 138.6L155.0 139.4L155.0 140.2L155.0 140.9L155.0 141.7L155.0 142.5L155.0 143.2L155.0 144.0L154.2 144.0L153.4 144.0L152.6 144.0L151.9 144.0L151.1 144.0L150.3 144.0L149.5 144.0L148.7 144.0L147.9 144.0L147.2 144.0L146.4 144.0L145.6 144.0L144.8 144.0L144.0 144.0L143.2 144.0L142.5 144.0L141.7 144.0L140.9 144.0L140.1 144.0L139.3 144.0L138.5 144.0L137.8 144.0L137.0 144.0L136.2 144.0L135.4 144.0L134.6 144.0L133.8 144.0L133.1 144.0L132.3 144.0L131.5 144.0L130.7 144.0L129.9 144.0L129.1 144.0L128.3 144.0L127.6 144.0L126.8 144.0L126.0 144.0L125.2 144.0L124.4 144.0L123.6 144.0L122.9 144.0L122.1 144.0L121.3 144.0L120.5 144.0L119.7 144.0L118.9 144.0L118.2 144.0L117.4 144.0L116.6 144.0L115.8 144.0L115.0 144.0L114.2 144.0L113.5 144.0L112.7 144.0L111.9 144.0L111.1 144.0L110.3 144.0L109.5 144.0L108.7 144.0L108.0 144.0L107.2 144.0L106.4 144.0L105.6 144.0L104.8 144.0L104.0 144.0L103.3 144.0L102.5 144.0L101.7 144.0L100.9 144.0L100.1 144.0L99.3 144.0L98.6 144.0L97.8 144.0L97.0 144.0L96.2 144.0L95.4 144.0L94.6 144.0L93.9 144.0L93.1 144.0L92.3 144.0L91.5 144.0L90.7 144.0L89.9 144.0L89.2 144.0L88.4 144.0L87.6 144.0L86.8 144.0L86.0 144.0L85.2 144.0L84.4 144.0L83.7 144.0L82.9 144.0L82.1 144.0L81.3 144.0L80.8 144.0L80.5 143.9L79.7 143.4L79.4 143.2L79.0 143.0L78.2 142.6L77.9 142.5L77.4 142.2L76.6 141.8L76.5 141.7L75.8 141.4L75.0 141.0L75.0 140.9L74.3 140.6L73.5 140.2L73.5 140.2L72.7 139.8L71.9 139.4L71.9 139.4L71.1 139.0L70.4 138.6L70.3 138.6L69.6 138.2L68.8 137.9L68.8 137.9L68.0 137.5L67.2 137.1L67.2 137.1L66.4 136.8L65.6 136.4L65.5 136.3L64.8 136.0L64.1 135.7L63.8 135.6L63.3 135.3L62.5 135.0L62.1 134.8L61.7 134.6L60.9 134.3L60.4 134.0L60.1 133.9L59.4 133.6L58.6 133.3L58.6 133.3L57.8 132.9L57.0 132.6L56.8 132.5L56.2 132.3L55.4 131.9L54.9 131.7L54.7 131.6L53.9 131.3L53.1 131.0L53.0 131.0L52.3 130.7L51.5 130.4L51.1 130.2L50.7 130.0L50.0 129.7L49.2 129.4L49.1 129.4L48.4 129.1L47.6 128.8L47.1 128.7L46.8 128.5L46.0 128.3L45.3 128.0L45.1 127.9L44.5 127.7L43.7 127.4L43.0 127.1L42.9 127.1L42.1 126.8L41.3 126.5L40.8 126.4L40.5 126.3L39.8 126.0L39.0 125.7L38.6 125.6L38.2 125.5L37.4 125.2L36.6 124.9L36.3 124.8L35.8 124.7L35.1 124.4L34.3 124.1L34.0 124.1L33.5 123.9L32.7 123.6L31.9 123.4L31.6 123.3L31.1 123.1L30.4 122.9L29.6 122.6L29.2 122.5L28.8 122.4L28.0 122.2L27.2 121.9L26.7 121.8L26.4 121.7L25.7 121.4L24.9 121.2L24.1 121.0L24.1 121.0L23.3 120.7L22.5 120.5L21.7 120.3L21.4 120.2L20.9 120.1L20.2 119.9L19.4 119.6L18.7 119.4L18.6 119.4L17.8 119.2L17.0 119.0L16.2 118.8L15.9 118.7L15.5 118.6L14.7 118.4L13.9 118.2L13.1 118.0L12.9 117.9L12.3 117.8L11.5 117.6L10.8 117.4L10.0 117.2L9.9 117.1L9.2 117.0L8.4 116.8L7.6 116.6L6.8 116.4L6.8 116.4L6.1 116.2L5.3 116.0L4.5 115.8L3.7 115.7L3.5 115.6L2.9 115.5L2.1 115.3L1.4 115.1L0.6 115.0L0.1 114.8L-0.2 114.8L-1.0 114.6L-1.0 114.1L-1.0 113.3L-1.0 112.5L-1.0 111.8L-1.0 111.0L-1.0 110.2L-1.0 109.5L-1.0 108.7L-1.0 107.9L-1.0 107.2L-1.0 106.4L-1.0 105.6L-1.0 104.9L-1.0 104.1L-1.0 103.3L-1.0 102.6L-1.0 101.8L-1.0 101.0L-1.0 100.3L-1.0 99.5L-1.0 98.7L-1.0 98.0L-1.0 97.2L-1.0 96.4L-1.0 95.7L-1.0 94.9L-1.0 94.1L-1.0 93.4L-1.0 92.6L-1.0 91.8L-1.0 91.1L-1.0 90.3L-1.0 89.5L-1.0 88.8L-1.0 88.0L-1.0 87.2L-1.0 86.5L-1.0 85.7L-1.0 84.9L-1.0 84.2L-1.0 83.4L-1.0 82.6L-1.0 81.9L-1.0 81.1L-1.0 80.3L-1.0 79.6L-1.0 78.8L-1.0 78.0L-1.0 77.3L-1.0 76.5L-1.0 75.7L-1.0 75.0L-1.0 74.2L-1.0 73.4L-1.0 72.7L-1.0 71.9L-1.0 71.1L-1.0 70.3L-1.0 69.6L-1.0 68.8L-1.0 68.0L-1.0 67.3L-1.0 66.5L-1.0 65.7L-1.0 65.0L-1.0 64.2L-1.0 63.4L-1.0 62.7L-1.0 61.9L-1.0 61.1L-1.0 60.4L-1.0 59.6L-1.0 58.8L-1.0 58.1L-1.0 57.3L-1.0 56.5L-1.0 55.8L-1.0 55.0L-1.0 54.2L-1.0 53.5L-1.0 52.7L-1.0 51.9L-1.0 51.2L-1.0 50.4L-1.0 49.6L-1.0 48.9L-1.0 48.1L-1.0 47.3L-1.0 46.6L-1.0 45.8L-1.0 45.0L-1.0 44.3L-1.0 43.5L-1.0 42.7L-1.0 42.0L-1.0 41.2L-1.0 40.4L-1.0 39.7L-1.0 38.9L-1.0 38.1L-1.0 37.4L-1.0 36.6L-1.0 35.8L-1.0 35.1L-1.0 34.3L-1.0 33.5L-1.0 32.8L-1.0 32.0L-1.0 31.2L-1.0 30.5L-1.0 29.7L-1.0 28.9L-1.0 28.2L-1.0 27.4L-1.0 26.6L-1.0 25.9L-1.0 25.1L-1.0 24.3L-1.0 23.6L-1.0 22.8L-1.0 22.0L-1.0 21.2L-1.0 20.5L-1.0 19.7L-1.0 18.9L-1.0 18.2L-1.0 17.4L-1.0 16.6L-1.0 15.9L-1.0 15.1L-1.0 14.3L-1.0 13.6L-1.0 12.8L-1.0 12.0L-1.0 11.3L-1.0 10.5L-1.0 9.7L-1.0 9.0L-1.0 8.2L-1.0 7.4L-1.0 6.7L-1.0 5.9L-1.0 5.1L-1.0 4.4L-1.0 3.6L-1.0 2.8L-1.0 2.1L-1.0 1.3L-1.0 0.5L-1.0 -0.2L-1.0 -1.0Z" fill="#9893bb"/>
<path d="M-0.2 -1.0L0.6 -1.0L1.4 -1.0L2.1 -1.0L2.9 -1.0L3.7 -1.0L4.5 -1.0L5.3 -1.0L6.1 -1.0L6.8 -1.0L7.6 -1.0L8.4 -1.0L9.2 -1.0L10.0 -1.0L10.8 -1.0L11.5 -1.0L12.3 -1.0L13.1 -1.0L13.9 -1.0L14.7 -1.0L15.5 -1.0L16.2 -1.0L17.0 -1.0L17.8 -1.0L18.6 -1.0L19.4 -1.0L20.2 -1.0L20.9 -1.0L21.7 -1.0L22.5 -1.0L23.3 -1.0L24.1 -1.0L24.9 -1.0L25.7 -1.0L26.4 -1.0L27.2 -1.0L28.0 -1.0L28.8 -1.0L29.6 -1.0L30.4 -1.0L31.1 -1.0L31.9 -1.0L32.7 -1.0L33.5 -1.0L34.3 -1.0L35.1 -1.0L35.8 -1.0L36.6 -1.0L37.4 -1.0L38.2 -1.0L39.0 -1.0L39.8 -1.0L40.5 -1.0L41.3 -1.0L42.1 -1.0L42.9 -1.0L43.7 -1.0L44.5 -1.0L45.3 -1.0L46.0 -1.0L46.8 -1.0L47.6 -1.0L48.4 -1.0L49.2 -1.0L50.0 -1.0L50.7 -1.0L51.5 -1.0L52.3 -1.0L53.1 -1.0L53.9 -1.0L54.7 -1.0L55.4 -1.0L56.2 -1.0L57.0 -1.0L57.8 -1.0L58.6 -1.0L59.4 -1.0L60.1 -1.0L60.9 -1.0L61.7 -1.0L62.5 -1.0L63.3 -1.0L64.1 -1.0L64.8 -1.0L65.6 -1.0L66.4 -1.0L67.2 -1.0L68.0 -1.0L68.8 -1.0L69.6 -1.0L70.3 -1.0L71.1 -1.0L71.9 -1.0L72.7 -1.0L73.5 -1.0L74.3 -1.0L75.0 -1.0L75.8 -1.0L76.6 -1.0L77.4 -1.0L78.2 -1.0L79.0 -1.0L79.7 -1.0L80.5 -1.0L81.3 -1.0L82.1 -1.0L82.9 -1.0L83.7 -1.0L84.4 -1.0L85.2 -1.0L86.0 -1.0L86.8 -1.0L87.6 -1.0L88.4 -1.0L89.2 -1.0L89.9 -1.0L90.7 -1.0L91.5 -1.0L92.3 -1.0L93.1 -1.0L93.9 -1.0L94.6 -1.0L95.4 -1.0L96.2 -1.0L97.0 -1.0L97.8 -1.0L98.6 -1.0L99.3 -1.0L100.1 -1.0L100.9 -1.0L101.7 -1.0L102.5 -1.0L103.3 -1.0L104.0 -1.0L104.8 -1.0L105.6 -1.0L106.4 -1.0L107.2 -1.0L108.0 -1.0L108.7 -1.0L109.5 -1.0L110.3 -1.0L111.1 -1.0L111.9 -1.0L112.7 -1.0L113.5 -1.0L114.2 -1.0L115.0 -1.0L115.8 -1.0L116.6 -1.0L117.4 -1.0L118.2 -1.0L118.9 -1.0L119.7 -1.0L120.5 -1.0L121.3 -1.0L122.1 -1.0L122.9 -1.0L123.6 -1.0L124.4 -1.0L125.2 -1.0L126.0 -1.0L126.8 -1.0L127.6 -1.0L128.3 -1.0L129.1 -1.0L129.9 -1.0L130.7 -1.0L131.5 -1.0L132.3 -1.0L133.1 -1.0L133.8 -1.0L134.6 -1.0L135.4 -1.0L136.2 -1.0L137.0 -1.0L137.8 -1.0L138.5 -1.0L139.3 -1.0L140.1 -1.0L140.9 -1.0L141.7 -1.0L142.5 -1.0L143.2 -1.0L144.0 -1.0L144.8 -1.0L145.6 -1.0L146.4 -1.0L147.2 -1.0L147.9 -1.0L148.7 -1.0L149.5 -1.0L150.3 -1.0L151.1 -1.0L151.9 -1.0L152.6 -1.0L153.4 -1.0L154.2 -1.0L155.0 -1.0L155.0 -0.2L155.0 0.5L155.0 1.3L155.0 2.1L155.0 2.8L155.0 3.6L155.0 4.4L155.0 5.1L155.0 5.9L155.0 6.7L155.0 7.4L155.0 8.2L155.0 9.0L155.0 9.7L155.0 10.5L155.0 11.3L155.0 12.0L155.0 12.8L155.0 13.6L155.0 14.3L155.0 15.1L155.0 15.9L155.0 16.6L155.0 17.4L155.0 18.2L155.0 18.9L155.0 19.7L155.0 20.5L155.0 21.2L155.0 22.0L155.0 22.8L155.0 23.6L155.0 24.3L155.0 25.1L155.0 25.9L155.0 26.6L155.0 27.4L155.0 28.2L155.0 28.9L155.0 29.7L155.0 30.5L155.0 31.2L155.0 32.0L155.0 32.8L155.0 33.5L155.0 34.3L155.0 35.1L155.0 35.8L155.0 36.6L155.0 37.4L155.0 38.1L155.0 38.9L155.0 39.7L155.0 40.4L155.0 41.2L155.0 42.0L155.0 42.7L155.0 43.5L155.0 44.3L155.0 45.0L155.0 45.8L155.0 46.6L155.0 47.3L155.0 48.1L155.0 48.9L155.0 49.6L155.0 50.4L155.0 51.2L155.0 51.9L155.0 52.7L155.0 53.5L155.0 54.2L155.0 55.0L155.0 55.8L155.0 56.5L155.0 57.3L155.0 58.1L155.0 58.8L155.0 59.6L155.0 60.4L155.0 61.1L155.0 61.9L155.0 62.7L155.0 63.4L155.0 64.2L155.0 65.0L155.0 65.7L155.0 66.5L155.0 67.3L155.0 68.0L155.0 68.8L155.0 69.6L155.0 70.3L155.0 71.1L155.0 71.9L155.0 72.7L155.0 73.4L155.0 74.2L155.0 75.0L155.0 75.7L155.0 76.5L155.0 77.3L155.0 78.0L155.0 78.8L155.0 79.6L155.0 80.3L155.0 81.1L155.0 81.9L155.0 82.6L155.0 83.4L155.0 84.2L155.0 84.9L155.0 85.7L155.0 86.5L155.0 87.2L155.0 88.0L155.0 88.8L155.0 89.5L155.0 90.3L155.0 91.1L155.0 91.8L155.0 92.6L155.0 93.4L155.0 94.1L155.0 94.9L155.0 95.7L155.0 96.4L155.0 97.2L155.0 98.0L155.0 98.7L155.0 99.5L155.0 100.3L155.0 101.0L155.0 101.8L155.0 102.6L155.0 103.3L155.0 104.1L155.0 104.9L155.0 105.6L155.0 106.4L155.0 107.2L155.0 107.9L155.0 108.7L155.0 109.5L155.0 110.2L155.0 111.0L155.0 111.8L155.0 112.5L155.0 113.3L155.0 114.1L155.0 114.8L155.0 115.6L155.0 116.4L155.0 117.1L155.0 117.9L155.0 118.7L155.0 119.4L155.0 120.2L155.0 121.0L155.0 121.8L155.0 122.5L155.0 123.3L155.0 124.1L155.0 124.8L155.0 125.6L155.0 126.4L155.0 127.1L155.0 127.9L155.0 128.7L155.0 129.4L155.0 130.2L155.0 131.0L155.0 131.7L155.0 132.5L155.0 133.3L155.0 134.0L155.0 134.8L155.0 135.6L155.0 136.3L155.0 137.1L155.0 137.9L155.0 138.6L155.0 139.4L155.0 140.2L155.0 140.9L155.0 141.7L155.0 142.5L155.0 143.2L155.0 144.0L154.2 144.0L153.4 144.0L152.6 144.0L151.9 144.0L151.1 144.0L150.3 144.0L149.5 144.0L148.7 144.0L147.9 144.0L147.2 144.0L146.4 144.0L145.6 144.0L144.8 144.0L144.0 144.0L143.2 144.0L142.5 144.0L141.7 144.0L140.9 144.0L140.1 144.0L139.3 144.0L138.5 144.0L137.8 144.0L137.0 144.0L136.2 144.0L135.4 144.0L134.6 144.0L133.8 144.0L133.1 144.0L132.3 144.0L131.5 144.0L130.7 144.0L129.9 144.0L129.1 144.0L128.3 144.0L127.6 144.0L126.8 144.0L126.0 144.0L125.2 144.0L124.4 144.0L123.6 144.0L122.9 144.0L122.1 144.0L121.3 144.0L120.5 144.0L119.7 144.0L118.9 144.0L118.2 144.0L117.4 144.0L116.6 144.0L115.8 144.0L115.0 144.0L114.2 144.0L113.5 144.0L112.7 144.0L111.9 144.0L111.1 144.0L110.3 144.0L109.5 144.0L108.7 144.0L108.0 144.0L107.9 144.0L107.2 143.6L106.7 143.2L106.4 143.1L105.6 142.6L105.4 142.5L104.8 142.1L104.2 141.7L104.0 141.6L103.3 141.1L102.9 140.9L102.5 140.7L101.7 140.2L101.6 140.2L100.9 139.8L100.3 139.4L100.1 139.3L99.3 138.8L99.0 138.6L98.6 138.4L97.8 137.9L97.6 137.9L97.0 137.5L96.3 137.1L96.2 137.1L95.4 136.6L94.9 136.3L94.6 136.2L93.9 135.8L93.4 135.6L93.1 135.4L92.3 134.9L92.0 134.8L91.5 134.5L90.7 134.1L90.6 134.0L89.9 133.7L89.2 133.3L89.1 133.3L88.4 132.9L87.6 132.5L87.6 132.5L86.8 132.1L86.0 131.7L86.0 131.7L85.2 131.3L84.5 131.0L84.4 130.9L83.7 130.6L82.9 130.2L82.9 130.2L82.1 129.8L81.3 129.4L81.3 129.4L80.5 129.1L79.7 128.7L79.7 128.7L79.0 128.3L78.2 128.0L78.0 127.9L77.4 127.6L76.6 127.2L76.3 127.1L75.8 126.9L75.0 126.5L74.6 126.4L74.3 126.2L73.5 125.9L72.9 125.6L72.7 125.5L71.9 125.2L71.1 124.8L71.1 124.8L70.3 124.5L69.6 124.2L69.3 124.1L68.8 123.8L68.0 123.5L67.4 123.3L67.2 123.2L66.4 122.9L65.6 122.6L65.5 122.5L64.8 122.2L64.1 121.9L63.6 121.8L63.3 121.6L62.5 121.3L61.7 121.0L61.7 121.0L60.9 120.7L60.1 120.4L59.7 120.2L59.4 120.1L58.6 119.8L57.8 119.5L57.6 119.4L57.0 119.2L56.2 118.9L55.6 118.7L55.4 118.6L54.7 118.4L53.9 118.1L53.4 117.9L53.1 117.8L52.3 117.5L51.5 117.2L51.3 117.1L50.7 117.0L50.0 116.7L49.2 116.4L49.1 116.4L48.4 116.2L47.6 115.9L46.8 115.6L46.8 115.6L46.0 115.4L45.3 115.1L44.5 114.8L44.5 114.8L43.7 114.6L42.9 114.3L42.1 114.1L42.1 114.1L41.3 113.8L40.5 113.6L39.8 113.3L39.7 113.3L39.0 113.1L38.2 112.9L37.4 112.6L37.2 112.5L36.6 112.4L35.8 112.1L35.1 111.9L34.6 111.8L34.3 111.7L33.5 111.4L32.7 111.2L32.0 111.0L31.9 111.0L31.1 110.8L30.4 110.5L29.6 110.3L29.3 110.2L28.8 110.1L28.0 109.9L27.2 109.7L26.5 109.5L26.4 109.5L25.7 109.2L24.9 109.0L24.1 108.8L23.6 108.7L23.3 108.6L22.5 108.4L21.7 108.2L20.9 108.0L20.7 107.9L20.2 107.8L19.4 107.6L18.6 107.4L17.8 107.2L17.6 107.2L17.0 107.0L16.2 106.8L15.5 106.7L14.7 106.5L14.4 106.4L13.9 106.3L13.1 106.1L12.3 105.9L11.5 105.7L11.1 105.6L10.8 105.6L10.0 105.4L9.2 105.2L8.4 105.0L7.7 104.9L7.6 104.9L6.8 104.7L6.1 104.5L5.3 104.3L4.5 104.2L4.2 104.1L3.7 104.0L2.9 103.8L2.1 103.7L1.4 103.5L0.6 103.4L0.4 103.3L-0.2 103.2L-1.0 103.1L-1.0 102.6L-1.0 101.8L-1.0 101.0L-1.0 100.3L-1.0 99.5L-1.0 98.7L-1.0 98.0L-1.0 97.2L-1.0 96.4L-1.0 95.7L-1.0 94.9L-1.0 94.1L-1.0 93.4L-1.0 92.6L-1.0 91.8L-1.0 91.1L-1.0 90.3L-1.0 89.5L-1.0 88.8L-1.0 88.0L-1.0 87.2L-1.0 86.5L-1.0 85.7L-1.0 84.9L-1.0 84.2L-1.0 83.4L-1.0 82.6L-1.0 81.9L-1.0 81.1L-1.0 80.3L-1.0 79.6L-1.0 78.8L-1.0 78.0L-1.0 77.3L-1.0 76.5L-1.0 75.7L-1.0 75.0L-1.0 74.2L-1.0 73.4L-1.0 72.7L-1.0 71.9L-1.0 71.1L-1.0 70.3L-1.0 69.6L-1.0 68.8L-1.0 68.0L-1.0 67.3L-1.0 66.5L-1.0 65.7L-1.0 65.0L-1.0 64.2L-1.0 63.4L-1.0 62.7L-1.0 61.9L-1.0 61.1L-1.0 60.4L-1.0 59.6L-1.0 58.8L-1.0 58.1L-1.0 57.3L-1.0 56.5L-1.0 55.8L-1.0 55.0L-1.0 54.2L-1.0 53.5L-1.0 52.7L-1.0 51.9L-1.0 51.2L-1.0 50.4L-1.0 49.6L-1.0 48.9L-1.0 48.1L-1.0 47.3L-1.0 46.6L-1.0 45.8L-1.0 45.0L-1.0 44.3L-1.0 43.5L-1.0 42.7L-1.0 42.0L-1.0 41.2L-1.0 40.4L-1.0 39.7L-1.0 38.9L-1.0 38.1L-1.0 37.4L-1.0 36.6L-1.0 35.8L-1.0 35.1L-1.0 34.3L-1.0 33.5L-1.0 32.8L-1.0 32.0L-1.0 31.2L-1.0 30.5L-1.0 29.7L-1.0 28.9L-1.0 28.2L-1.0 27.4L-1.0 26.6L-1.0 25.9L-1.0 25.1L-1.0 24.3L-1.0 23.6L-1.0 22.8L-1.0 22.0L-1.0 21.2L-1.0 20.5L-1.0 19.7L-1.0 18.9L-1.0 18.2L-1.0 17.4L-1.0 16.6L-1.0 15.9L-1.0 15.1L-1.0 14.3L-1.0 13.6L-1.0 12.8L-1.0 12.0L-1.0 11.3L-1.0 10.5L-1.0 9.7L-1.0 9.0L-1.0 8.2L-1.0 7.4L-1.0 6.7L-1.0 5.9L-1.0 5.1L-1.0 4.4L-1.0 3.6L-1.0 2.8L-1.0 2.1L-1.0 1.3L-1.0 0.5L-1.0 -0.2L-1.0 -1.0Z" fill="#959cbe"/>
<path d="M-0.2 -1.0L0.6 -1.0L1.4 -1.0L2.1 -1.0L2.9 -1.0L3.7 -1.0L4.5 -1.0L5.3 -1.0L6.1 -1.0L6.8 -1.0L7.6 -1.0L8.4 -1.0L9.2 -1.0L10.0 -1.0L10.8 -1.0L11.5 -1.0L12.3 -1.0L13.1 -1.0L13.9 -1.0L14.7 -1.0L15.5 -1.0L16.2 -1.0L17.0 -1.0L17.8 -1.0L18.6 -1.0L19.4 -1.0L20.2 -1.0L20.9 -1.0L21.7 -1.0L22.5 -1.0L23.3 -1.0L24.1 -1.0L24.9 -1.0L25.7 -1.0L26.4 -1.0L27.2 -1.0L28.0 -1.0L28.8 -1.0L29.6 -1.0L30.4 -1.0L31.1 -1.0L31.9 -1.0L32.7 -1.0L33.5 -1.0L34.3 -1.0L35.1 -1.0L35.8 -1.0L36.6 -1.0L37.4 -1.0L38.2 -1.0L39.0 -1.0L39.8 -1.0L40.5 -1.0L41.3 -1.0L42.1 -1.0L42.9 -1.0L43.7 -1.0L44.5 -1.0L45.3 -1.0L46.0 -1.0L46.8 -1.0L47.6 -1.0L48.4 -1.0L49.2 -1.0L50.0 -1.0L50.7 -1.0L51.5 -1.0L52.3 -1.0L53.1 -1.0L53.9 -1.0L54.7 -1.0L55.4 -1.0L56.2 -1.0L57.0 -1.0L57.8 -1.0L58.6 -1.0L59.4 -1.0L60.1 -1.0L60.9 -1.0L61.7 -1.0L62.5 -1.0L63.3 -1.0L64.1 -1.0L64.8 -1.0L65.6 -1.0L66.4 -1.0L67.2 -1.0L68.0 -1.0L68.8 -1.0L69.6 -1.0L70.3 -1.0L71.1 -1.0L71.9 -1.0L72.7 -1.0L73.5 -1.0L74.3 -1.0L75.0 -1.0L75.8 -1.0L76.6 -1.0L77.4 -1.0L78.2 -1.0L79.0 -1.0L79.7 -1.0L80.5 -1.0L81.3 -1.0L82.1 -1.0L82.9 -1.0L83.7 -1.0L84.4 -1.0L85.2 -1.0L86.0 -1.0L86.8 -1.0L87.6 -1.0L88.4 -1.0L89.2 -1.0L89.9 -1.0L90.7 -1.0L91.5 -1.0L92.3 -1.0L93.1 -1.0L93.9 -1.0L94.6 -1.0L95.4 -1.0L96.2 -1.0L97.0 -1.0L97.8 -1.0L98.6 -1.0L99.3 -1.0L100.1 -1.0L100.9 -1.0L101.7 -1.0L102.5 -1.0L103.3 -1.0L104.0 -1.0L104.8 -1.0L105.6 -1.0L106.4 -1.0L107.2 -1.0L108.0 -1.0L108.7 -1.0L109.5 -1.0L110.3 -1.0L111.1 -1.0L111.9 -1.0L112.7 -1.0L113.5 -1.0L114.2 -1.0L115.0 -1.0L115.8 -1.0L116.6 -1.0L117.4 -1.0L118.2 -1.0L118.9 -1.0L119.7 -1.0L120.5 -1.0L121.3 -1.0L122.1 -1.0L122.9 -1.0L123.6 -1.0L124.4 -1.0L125.2 -1.0L126.0 -1.0L126.8 -1.0L127.6 -1.0L128.3 -1.0L129.1 -1.0L129.9 -1.0L130.7 -1.0L131.5 -1.0L132.3 -1.0L133.1 -1.0L133.8 -1.0L134.6 -1.0L135.4 -1.0L136.2 -1.0L137.0 -1.0L137.8 -1.0L138.5 -1.0L139.3 -1.0L140.1 -1.0L140.9 -1.0L141.7 -1.0L142.5 -1.0L143.2 -1.0L144.0 -1.0L144.8 -1.0L145.6 -1.0L146.4 -1.0L147.2 -1.0L147.9 -1.0L148.7 -1.0L149.5 -1.0L150.3 -1.0L151.1 -1.0L151.9 -1.0L152.6 -1.0L153.4 -1.0L154.2 -1.0L155.0 -1.0L155.0 -0.2L155.0 0.5L155.0 1.3L155.0 2.1L155.0 2.8L155.0 3.6L155.0 4.4L155.0 5.1L155.0 5.9L155.0 6.7L155.0 7.4L155.0 8.2L155.0 9.0L155.0 9.7L155.0 10.5L155.0 11.3L155.0 12.0L155.0 12.8L155.0 13.6L155.0 14.3L155.0 15.1L155.0 15.9L155.0 16.6L155.0 17.4L155.0 18.2L155.0 18.9L155.0 19.7L155.0 20.5L155.0 21.2L155.0 22.0L155.0 22.8L155.0 23.6L155.0 24.3L155.0 25.1L155.0 25.9L155.0 26.6L155.0 27.4L155.0 28.2L155.0 28.9L155.0 29.7L155.0 30.5L155.0 31.2L155.0 32.0L155.0 32.8L155.0 33.5L155.0 34.3L155.0 35.1L155.0 35.8L155.0 36.6L155.0 37.4L155.0 38.1L155.0 38.9L155.0 39.7L155.0 40.4L155.0 41.2L155.0 42.0L155.0 42.7L155.0 43.5L155.0 44.3L155.0 45.0L155.0 45.8L155.0 46.6L155.0 47.3L155.0 48.1L155.0 48.9L155.0 49.6L155.0 50.4L155.0 51.2L155.0 51.9L155.0 52.7L155.0 53.5L155.0 54.2L155.0 55.0L155.0 55.8L155.0 56.5L155.0 57.3L155.0 58.1L155.0 58.8L155.0 59.6L155.0 60.4L155.0 61.1L155.0 61.9L155.0 62.7L155.0 63.4L155.0 64.2L155.0 65.0L155.0 65.7L155.0 66.5L155.0 67.3L155.0 68.0L155.0 68.8L155.0 69.6L155.0 70.3L155.0 71.1L155.0 71.9L155.0 72.7L155.0 73.4L155.0 74.2L155.0 75.0L155.0 75.7L155.0 76.5L155.0 77.3L155.0 78.0L155.0 78.8L155.0 79.6L155.0 80.3L155.0 81.1L155.0 81.9L155.0 82.6L155.0 83.4L155.0 84.2L155.0 84.9L155.0 85.7L155.0 86.5L155.0 87.2L155.0 88.0L155.0 88.8L155.0 89.5L155.0 90.3L155.0 91.1L155.0 91.8L155.0 92.6L155.0 93.4L155.0 94.1L155.0 94.9L155.0 95.7L155.0 96.4L155.0 97.2L155.0 98.0L155.0 98.7L155.0 99.5L155.0 100.3L155.0 101.0L155.0 101.8L155.0 102.6L155.0 103.3L155.0 104.1L155.0 104.9L155.0 105.6L155.0 106.4L155.0 107.2L155.0 107.9L155.0 108.7L155.0 109.5L155.0 110.2L155.0 111.0L155.0 111.8L155.0 112.5L155.0 113.3L155.0 114.1L155.0 114.8L155.0 115.6L155.0 116.4L155.0 117.1L155.0 117.9L155.0 118.7L155.0 119.4L155.0 120.2L155.0 121.0L155.0 121.8L155.0 122.5L155.0 123.3L155.0 124.1L155.0 124.8L155.0 125.6L155.0 126.4L155.0 127.1L155.0 127.9L155.0 128.7L155.0 129.4L155.0 130.2L155.0 131.0L155.0 131.7L155.0 132.5L155.0 133.3L155.0 134.0L155.0 134.8L155.0 135.6L155.0 136.3L155.0 137.1L155.0 137.9L155.0 138.6L155.0 139.4L155.0 140.2L155.0 140.9L155.0 141.7L155.0 142.5L155.0 143.2L155.0 144.0L154.2 144.0L153.4 144.0L152.6 144.0L151.9 144.0L151.1 144.0L150.3 144.0L149.5 144.0L148.7 144.0L147.9 144.0L147.2 144.0L146.4 144.0L145.6 144.0L144.8 144.0L144.0 144.0L143.2 144.0L142.5 144.0L141.7 144.0L140.9 144.0L140.1 144.0L139.3 144.0L138.5 144.0L137.8 144.0L137.0 144.0L136.2 144.0L135.4 144.0L134.6 144.0L133.8 144.0L133.1 144.0L132.4 144.0L132.3 143.9L131.5 143.4L131.3 143.2L130.7 142.8L130.2 142.5L129.9 142.3L129.1 141.7L129.1 141.7L128.3 141.2L127.9 140.9L127.6 140.7L126.8 140.2L126.8 140.1L126.0 139.6L125.6 139.4L125.2 139.1L124.5 138.6L124.4 138.6L123.6 138.1L123.3 137.9L122.9 137.6L122.1 137.1L122.1 137.1L121.3 136.6L120.9 136.3L120.5 136.1L119.7 135.6L119.6 135.6L118.9 135.1L118.4 134.8L118.2 134.7L117.4 134.2L117.1 134.0L116.6 133.7L115.8 133.3L115.8 133.3L115.0 132.8L114.5 132.5L114.2 132.3L113.5 131.9L113.2 131.7L112.7 131.4L111.9 131.0L111.8 131.0L111.1 130.5L110.5 130.2L110.3 130.1L109.5 129.7L109.1 129.4L108.7 129.2L108.0 128.8L107.7 128.7L107.2 128.4L106.4 128.0L106.2 127.9L105.6 127.5L104.8 127.1L104.8 127.1L104.0 126.7L103.3 126.4L103.3 126.3L102.5 125.9L101.9 125.6L101.7 125.5L100.9 125.1L100.3 124.8L100.1 124.7L99.3 124.3L98.8 124.1L98.6 123.9L97.8 123.5L97.3 123.3L97.0 123.2L96.2 122.8L95.7 122.5L95.4 122.4L94.6 122.0L94.1 121.8L93.9 121.6L93.1 121.3L92.4 121.0L92.3 120.9L91.5 120.5L90.8 120.2L90.7 120.2L89.9 119.8L89.2 119.5L89.1 119.4L88.4 119.1L87.6 118.8L87.4 118.7L86.8 118.4L86.0 118.1L85.7 117.9L85.2 117.7L84.4 117.4L83.9 117.1L83.7 117.0L82.9 116.7L82.1 116.4L82.1 116.4L81.3 116.0L80.5 115.7L80.3 115.6L79.7 115.4L79.0 115.1L78.4 114.8L78.2 114.7L77.4 114.4L76.6 114.1L76.5 114.1L75.8 113.8L75.0 113.5L74.6 113.3L74.3 113.2L73.5 112.9L72.7 112.6L72.6 112.5L71.9 112.3L71.1 112.0L70.6 111.8L70.3 111.7L69.6 111.4L68.8 111.1L68.6 111.0L68.0 110.8L67.2 110.5L66.5 110.2L66.4 110.2L65.6 109.9L64.8 109.6L64.4 109.5L64.1 109.3L63.3 109.1L62.5 108.8L62.3 108.7L61.7 108.5L60.9 108.2L60.1 108.0L60.1 107.9L59.4 107.7L58.6 107.4L57.8 107.2L57.8 107.2L57.0 106.9L56.2 106.6L55.5 106.4L55.4 106.4L54.7 106.1L53.9 105.9L53.2 105.6L53.1 105.6L52.3 105.4L51.5 105.1L50.8 104.9L50.7 104.9L50.0 104.6L49.2 104.4L48.4 104.1L48.3 104.1L47.6 103.9L46.8 103.6L46.0 103.4L45.8 103.3L45.3 103.2L44.5 102.9L43.7 102.7L43.2 102.6L42.9 102.5L42.1 102.2L41.3 102.0L40.6 101.8L40.5 101.8L39.8 101.6L39.0 101.3L38.2 101.1L37.9 101.0L37.4 100.9L36.6 100.7L35.8 100.5L35.1 100.3L35.1 100.3L34.3 100.1L33.5 99.8L32.7 99.6L32.2 99.5L31.9 99.4L31.1 99.2L30.4 99.0L29.6 98.8L29.3 98.7L28.8 98.6L28.0 98.4L27.2 98.2L26.4 98.0L26.2 98.0L25.7 97.8L24.9 97.6L24.1 97.4L23.3 97.3L23.1 97.2L22.5 97.1L21.7 96.9L20.9 96.7L20.2 96.5L19.8 96.4L19.4 96.3L18.6 96.2L17.8 96.0L17.0 95.8L16.5 95.7L16.2 95.6L15.5 95.4L14.7 95.3L13.9 95.1L13.1 94.9L13.0 94.9L12.3 94.8L11.5 94.6L10.8 94.4L10.0 94.3L9.3 94.1L9.2 94.1L8.4 93.9L7.6 93.8L6.8 93.6L6.1 93.5L5.5 93.4L5.3 93.3L4.5 93.2L3.7 93.0L2.9 92.9L2.1 92.7L1.5 92.6L1.4 92.6L0.6 92.4L-0.2 92.3L-1.0 92.1L-1.0 91.8L-1.0 91.1L-1.0 90.3L-1.0 89.5L-1.0 88.8L-1.0 88.0L-1.0 87.2L-1.0 86.5L-1.0 85.7L-1.0 84.9L-1.0 84.2L-1.0 83.4L-1.0 82.6L-1.0 81.9L-1.0 81.1L-1.0 80.3L-1.0 79.6L-1.0 78.8L-1.0 78.0L-1.0 77.3L-1.0 76.5L-1.0 75.7L-1.0 75.0L-1.0 74.2L-1.0 73.4L-1.0 72.7L-1.0 71.9L-1.0 71.1L-1.0 70.3L-1.0 69.6L-1.0 68.8L-1.0 68.0L-1.0 67.3L-1.0 66.5L-1.0 65.7L-1.0 65.0L-1.0 64.2L-1.0 63.4L-1.0 62.7L-1.0 61.9L-1.0 61.1L-1.0 60.4L-1.0 59.6L-1.0 58.8L-1.0 58.1L-1.0 57.3L-1.0 56.5L-1.0 55.8L-1.0 55.0L-1.0 54.2L-1.0 53.5L-1.0 52.7L-1.0 51.9L-1.0 51.2L-1.0 50.4L-1.0 49.6L-1.0 48.9L-1.0 48.1L-1.0 47.3L-1.0 46.6L-1.0 45.8L-1.0 45.0L-1.0 44.3L-1.0 43.5L-1.0 42.7L-1.0 42.0L-1.0 41.2L-1.0 40.4L-1.0 39.7L-1.0 38.9L-1.0 38.1L-1.0 37.4L-1.0 36.6L-1.0 35.8L-1.0 35.1L-1.0 34.3L-1.0 33.5L-1.0 32.8L-1.0 32.0L-1.0 31.2L-1.0 30.5L-1.0 29.7L-1.0 28.9L-1.0 28.2L-1.0 27.4L-1.0 26.6L-1.0 25.9L-1.0 25.1L-1.0 24.3L-1.0 23.6L-1.0 22.8L-1.0 22.0L-1.0 21.2L-1.0 20.5L-1.0 19.7L-1.0 18.9L-1.0 18.2L-1.0 17.4L-1.0 16.6L-1.0 15.9L-1.0 15.1L-1.0 14.3L-1.0 13.6L-1.0 12.8L-1.0 12.0L-1.0 11.3L-1.0 10.5L-1.0 9.7L-1.0 9.0L-1.0 8.2L-1.0 7.4L-1.0 6.7L-1.0 5.9L-1.0 5.1L-1.0 4.4L-1.0 3.6L-1.0 2.8L-1.0 2.1L-1.0 1.3L-1.0 0.5L-1.0 -0.2L-1.0 -1.0Z" fill="#91a3c0"/>
<path d="M-0.2 -1.0L0.6 -1.0L1.4 -1.0L2.1 -1.0L2.9 -1.0L3.7 -1.0L4.5 -1.0L5.3 -1.0L6.1 -1.0L6.8 -1.0L7.6 -1.0L8.4 -1.0L9.2 -1.0L10.0 -1.0L10.8 -1.0L11.5 -1.0L12.3 -1.0L13.1 -1.0L13.9 -1.0L14.7 -1.0L15.5 -1.0L16.2 -1.0L17.0 -1.0L17.8 -1.0L18.6 -1.0L19.4 -1.0L20.2 -1.0L20.9 -1.0L21.7 -1.0L22.5 -1.0L23.3 -1.0L24.1 -1.0L24.9 -1.0L25.7 -1.0L26.4 -1.0L27.2 -1.0L28.0 -1.0L28.8 -1.0L29.6 -1.0L30.4 -1.0L31.1 -1.0L31.9 -1.0L32.7 -1.0L33.5 -1.0L34.3 -1.0L35.1 -1.0L35.8 -1.0L36.6 -1.0L37.4 -1.0L38.2 -1.0L39.0 -1.0L39.8 -1.0L40.5 -1.0L41.3 -1.0L42.1 -1.0L42.9 -1.0L43.7 -1.0L44.5 -1.0L45.3 -1.0L46.0 -1.0L46.8 -1.0L47.6 -1.0L48.4 -1.0L49.2 -1.0L50.0 -1.0L50.7 -1.0L51.5 -1.0L52.3 -1.0L53.1 -1.0L53.9 -1.0L54.7 -1.0L55.4 -1.0L56.2 -1.0L57.0 -1.0L57.8 -1.0L58.6 -1.0L59.4 -1.0L60.1 -1.0L60.9 -1.0L61.7 -1.0L62.5 -1.0L63.3 -1.0L64.1 -1.0L64.8 -1.0L65.6 -1.0L66.4 -1.0L67.2 -1.0L68.0 -1.0L68.8 -1.0L69.6 -1.0L70.3 -1.0L71.1 -1.0L71.9 -1.0L72.7 -1.0L73.5 -1.0L74.3 -1.0L75.0 -1.0L75.8 -1.0L76.6 -1.0L77.4 -1.0L78.2 -1.0L79.0 -1.0L79.7 -1.0L80.5 -1.0L81.3 -1.0L82.1 -1.0L82.9 -1.0L83.7 -1.0L84.4 -1.0L85.2 -1.0L86.0 -1.0L86.8 -1.0L87.6 -1.0L88.4 -1.0L89.2 -1.0L89.9 -1.0L90.7 -1.0L91.5 -1.0L92.3 -1.0L93.1 -1.0L93.9 -1.0L94.6 -1.0L95.4 -1.0L96.2 -1.0L97.0 -1.0L97.8 -1.0L98.6 -1.0L99.3 -1.0L100.1 -1.0L100.9 -1.0L101.7 -1.0L102.5 -1.0L103.3 -1.0L104.0 -1.0L104.8 -1.0L105.6 -1.0L106.4 -1.0L107.2 -1.0L108.0 -1.0L108.7 -1.0L109.5 -1.0L110.3 -1.0L111.1 -1.0L111.9 -1.0L112.7 -1.0L113.5 -1.0L114.2 -1.0L115.0 -1.0L115.8 -1.0L116.6 -1.0L117.4 -1.0L118.2 -1.0L118.9 -1.0L119.7 -1.0L120.5 -1.0L121.3 -1.0L122.1 -1.0L122.9 -1.0L123.6 -1.0L124.4 -1.0L125.2 -1.0L126.0 -1.0L126.8 -1.0L127.6 -1.0L128.3 -1.0L129.1 -1.0L129.9 -1.0L130.7 -1.0L131.5 -1.0L132.3 -1.0L133.1 -1.0L133.8 -1.0L134.6 -1.0L135.4 -1.0L136.2 -1.0L137.0 -1.0L137.8 -1.0L138.5 -1.0L139.3 -1.0L140.1 -1.0L140.9 -1.0L141.7 -1.0L142.5 -1.0L143.2 -1.0L144.0 -1.0L144.8 -1.0L145.6 -1.0L146.4 -1.0L147.2 -1.0L147.9 -1.0L148.7 -1.0L149.5 -1.0L150.3 -1.0L151.1 -1.0L151.9 -1.0L152.6 -1.0L153.4 -1.0L154.2 -1.0L155.0 -1.0L155.0 -0.2L155.0 0.5L155.0 1.3L155.0 2.1L155.0 2.8L155.0 3.6L155.0 4.4L155.0 5.1L155.0 5.9L155.0 6.7L155.0 7.4L155.0 8.2L155.0 9.0L155.0 9.7L155.0 10.5L155.0 11.3L155.0 12.0L155.0 12.8L155.0 13.6L155.0 14.3L155.0 15.1L155.0 15.9L155.0 16.6L155.0 17.4L155.0 18.2L155.0 18.9L155.0 19.7L155.0 20.5L155.0 21.2L155.0 22.0L155.0 22.8L155.0 23.6L155.0 24.3L155.0 25.1L155.0 25.9L155.0 26.6L155.0 27.4L155.0 28.2L155.0 28.9L155.0 29.7L155.0 30.5L155.0 31.2L155.0 32.0L155.0 32.8L155.0 33.5L155.0 34.3L155.0 35.1L155.0 35.8L155.0 36.6L155.0 37.4L155.0 38.1L155.0 38.9L155.0 39.7L155.0 40.4L155.0 41.2L155.0 42.0L155.0 42.7L155.0 43.5L155.0 44.3L155.0 45.0L155.0 45.8L155.0 46.6L155.0 47.3L155.0 48.1L155.0 48.9L155.0 49.6L155.0 50.4L155.0 51.2L155.0 51.9L155.0 52.7L155.0 53.5L155.0 54.2L155.0 55.0L155.0 55.8L155.0 56.5L155.0 57.3L155.0 58.1L155.0 58.8L155.0 59.6L155.0 60.4L155.0 61.1L155.0 61.9L155.0 62.7L155.0 63.4L155.0 64.2L155.0 65.0L155.0 65.7L155.0 66.5L155.0 67.3L155.0 68.0L155.0 68.8L155.0 69.6L155.0 70.3L155.0 71.1L155.0 71.9L155.0 72.7L155.0 73.4L155.0 74.2L155.0 75.0L155.0 75.7L155.0 76.5L155.0 77.3L155.0 78.0L155.0 78.8L155.0 79.6L155.0 80.3L155.0 81.1L155.0 81.9L155.0 82.6L155.0 83.4L155.0 84.2L155.0 84.9L155.0 85.7L155.0 86.5L155.0 87.2L155.0 88.0L155.0 88.8L155.0 89.5L155.0 90.3L155.0 91.1L155.0 91.8L155.0 92.6L155.0 93.4L155.0 94.1L155.0 94.9L155.0 95.7L155.0 96.4L155.0 97.2L155.0 98.0L155.0 98.7L155.0 99.5L155.0 100.3L155.0 101.0L155.0 101.8L155.0 102.6L155.0 103.3L155.0 104.1L155.0 104.9L155.0 105.6L155.0 106.4L155.0 107.2L155.0 107.9L155.0 108.7L155.0 109.5L155.0 110.2L155.0 111.0L155.0 111.8L155.0 112.5L155.0 113.3L155.0 114.1L155.0 114.8L155.0 115.6L155.0 116.4L155.0 117.1L155.0 117.9L155.0 118.7L155.0 119.4L155.0 120.2L155.0 121.0L155.0 121.8L155.0 122.5L155.0 123.3L155.0 124.1L155.0 124.8L155.0 125.6L155.0 126.4L155.0 127.1L155.0 127.9L155.0 128.7L155.0 129.4L155.0 130.2L155.0 131.0L155.0 131.7L155.0 132.5L155.0 133.3L155.0 134.0L155.0 134.8L155.0 135.6L155.0 136.3L155.0 137.1L155.0 137.9L155.0 138.6L155.0 139.4L155.0 140.2L155.0 140.9L155.0 141.7L155.0 142.5L155.0 143.2L155.0 144.0L155.0 144.0L154.2 143.4L154.0 143.2L153.4 142.8L153.0 142.5L152.6 142.2L152.0 141.7L151.9 141.6L151.1 141.0L151.0 140.9L150.3 140.4L149.9 140.2L149.5 139.9L148.9 139.4L148.7 139.3L147.9 138.7L147.8 138.6L147.2 138.2L146.7 137.9L146.4 137.6L145.7 137.1L145.6 137.0L144.8 136.5L144.6 136.3L144.0 136.0L143.4 135.6L143.2 135.4L142.5 134.9L142.3 134.8L141.7 134.4L141.2 134.0L140.9 133.8L140.1 133.3L140.0 133.3L139.3 132.8L138.9 132.5L138.5 132.3L137.8 131.8L137.7 131.7L137.0 131.3L136.5 131.0L136.2 130.8L135.4 130.3L135.3 130.2L134.6 129.8L134.0 129.4L133.8 129.3L133.1 128.8L132.8 128.7L132.3 128.3L131.5 127.9L131.5 127.9L130.7 127.4L130.2 127.1L129.9 126.9L129.1 126.5L128.9 126.4L128.3 126.0L127.6 125.6L127.6 125.5L126.8 125.1L126.3 124.8L126.0 124.6L125.2 124.2L125.0 124.1L124.4 123.8L123.6 123.3L123.6 123.3L122.9 122.9L122.2 122.5L122.1 122.4L121.3 122.0L120.8 121.8L120.5 121.6L119.7 121.2L119.4 121.0L118.9 120.8L118.2 120.3L117.9 120.2L117.4 119.9L116.6 119.5L116.5 119.4L115.8 119.1L115.0 118.7L115.0 118.7L114.2 118.3L113.5 117.9L113.5 117.9L112.7 117.5L112.0 117.1L111.9 117.1L111.1 116.7L110.4 116.4L110.3 116.3L109.5 115.9L108.9 115.6L108.7 115.6L108.0 115.2L107.3 114.8L107.2 114.8L106.4 114.4L105.7 114.1L105.6 114.1L104.8 113.7L104.0 113.3L104.0 113.3L103.3 113.0L102.5 112.6L102.4 112.5L101.7 112.2L100.9 111.9L100.7 111.8L100.1 111.5L99.3 111.2L99.0 111.0L98.6 110.8L97.8 110.5L97.2 110.2L97.0 110.1L96.2 109.8L95.5 109.5L95.4 109.5L94.6 109.1L93.9 108.8L93.7 108.7L93.1 108.5L92.3 108.1L91.8 107.9L91.5 107.8L90.7 107.5L90.0 107.2L89.9 107.2L89.2 106.8L88.4 106.5L88.1 106.4L87.6 106.2L86.8 105.9L86.2 105.6L86.0 105.6L85.2 105.3L84.4 104.9L84.3 104.9L83.7 104.6L82.9 104.3L82.3 104.1L82.1 104.0L81.3 103.7L80.5 103.4L80.3 103.3L79.7 103.1L79.0 102.9L78.2 102.6L78.2 102.6L77.4 102.3L76.6 102.0L76.1 101.8L75.8 101.7L75.0 101.4L74.3 101.1L74.0 101.0L73.5 100.9L72.7 100.6L71.9 100.3L71.8 100.3L71.1 100.0L70.3 99.8L69.6 99.5L69.6 99.5L68.8 99.2L68.0 98.9L67.4 98.7L67.2 98.7L66.4 98.4L65.6 98.2L65.1 98.0L64.8 97.9L64.1 97.6L63.3 97.4L62.7 97.2L62.5 97.1L61.7 96.9L60.9 96.6L60.3 96.4L60.1 96.4L59.4 96.1L58.6 95.9L57.9 95.7L57.8 95.6L57.0 95.4L56.2 95.2L55.4 94.9L55.4 94.9L54.7 94.7L53.9 94.4L53.1 94.2L52.8 94.1L52.3 94.0L51.5 93.8L50.7 93.5L50.2 93.4L50.0 93.3L49.2 93.1L48.4 92.8L47.6 92.6L47.5 92.6L46.8 92.4L46.0 92.2L45.3 92.0L44.8 91.8L44.5 91.8L43.7 91.5L42.9 91.3L42.1 91.1L41.9 91.1L41.3 90.9L40.5 90.7L39.8 90.5L39.0 90.3L39.0 90.3L38.2 90.1L37.4 89.9L36.6 89.7L36.0 89.5L35.8 89.5L35.1 89.3L34.3 89.1L33.5 88.9L33.0 88.8L32.7 88.7L31.9 88.5L31.1 88.3L30.4 88.1L29.8 88.0L29.6 87.9L28.8 87.8L28.0 87.6L27.2 87.4L26.5 87.2L26.4 87.2L25.7 87.0L24.9 86.9L24.1 86.7L23.3 86.5L23.1 86.5L22.5 86.3L21.7 86.2L20.9 86.0L20.2 85.8L19.6 85.7L19.4 85.6L18.6 85.5L17.8 85.3L17.0 85.1L16.2 85.0L16.0 84.9L15.5 84.8L14.7 84.7L13.9 84.5L13.1 84.3L12.3 84.2L12.2 84.2L11.5 84.0L10.8 83.9L10.0 83.7L9.2 83.6L8.4 83.4L8.2 83.4L7.6 83.3L6.8 83.1L6.1 83.0L5.3 82.8L4.5 82.7L4.1 82.6L3.7 82.6L2.9 82.4L2.1 82.3L1.4 82.1L0.6 82.0L-0.2 81.9L-0.3 81.9L-1.0 81.7L-1.0 81.1L-1.0 80.3L-1.0 79.6L-1.0 78.8L-1.0 78.0L-1.0 77.3L-1.0 76.5L-1.0 75.7L-1.0 75.0L-1.0 74.2L-1.0 73.4L-1.0 72.7L-1.0 71.9L-1.0 71.1L-1.0 70.3L-1.0 69.6L-1.0 68.8L-1.0 68.0L-1.0 67.3L-1.0 66.5L-1.0 65.7L-1.0 65.0L-1.0 64.2L-1.0 63.4L-1.0 62.7L-1.0 61.9L-1.0 61.1L-1.0 60.4L-1.0 59.6L-1.0 58.8L-1.0 58.1L-1.0 57.3L-1.0 56.5L-1.0 55.8L-1.0 55.0L-1.0 54.2L-1.0 53.5L-1.0 52.7L-1.0 51.9L-1.0 51.2L-1.0 50.4L-1.0 49.6L-1.0 48.9L-1.0 48.1L-1.0 47.3L-1.0 46.6L-1.0 45.8L-1.0 45.0L-1.0 44.3L-1.0 43.5L-1.0 42.7L-1.0 42.0L-1.0 41.2L-1.0 40.4L-1.0 39.7L-1.0 38.9L-1.0 38.1L-1.0 37.4L-1.0 36.6L-1.0 35.8L-1.0 35.1L-1.0 34.3L-1.0 33.5L-1.0 32.8L-1.0 32.0L-1.0 31.2L-1.0 30.5L-1.0 29.7L-1.0 28.9L-1.0 28.2L-1.0 27.4L-1.0 26.6L-1.0 25.9L-1.0 25.1L-1.0 24.3L-1.0 23.6L-1.0 22.8L-1.0 22.0L-1.0 21.2L-1.0 20.5L-1.0 19.7L-1.0 18.9L-1.0 18.2L-1.0 17.4L-1.0 16.6L-1.0 15.9L-1.0 15.1L-1.0 14.3L-1.0 13.6L-1.0 12.8L-1.0 12.0L-1.0 11.3L-1.0 10.5L-1.0 9.7L-1.0 9.0L-1.0 8.2L-1.0 7.4L-1.0 6.7L-1.0 5.9L-1.0 5.1L-1.0 4.4L-1.0 3.6L-1.0 2.8L-1.0 2.1L-1.0 1.3L-1.0 0.5L-1.0 -0.2L-1.0 -1.0Z" fill="#8eabc1"/>
<path d="M-0.2 -1.0L0.6 -1.0L1.4 -1.0L2.1 -1.0L2.9 -1.0L3.7 -1.0L4.5 -1.0L5.3 -1.0L6.1 -1.0L6.8 -1.0L7.6 -1.0L8.4 -1.0L9.2 -1.0L10.0 -1.0L10.8 -1.0L11.5 -1.0L12.3 -1.0L13.1 -1.0L13.9 -1.0L14.7 -1.0L15.5 -1.0L16.2 -1.0L17.0 -1.0L17.8 -1.0L18.6 -1.0L19.4 -1.0L20.2 -1.0L20.9 -1.0L21.7 -1.0L22.5 -1.0L23.3 -1.0L24.1 -1.0L24.9 -1.0L25.7 -1.0L26.4 -1.0L27.2 -1.0L28.0 -1.0L28.8 -1.0L29.6 -1.0L30.4 -1.0L31.1 -1.0L31.9 -1.0L32.7 -1.0L33.5 -1.0L34.3 -1.0L35.1 -1.0L35.8 -1.0L36.6 -1.0L37.4 -1.0L38.2 -1.0L39.0 -1.0L39.8 -1.0L40.5 -1.0L41.3 -1.0L42.1 -1.0L42.9 -1.0L43.7 -1.0L44.5 -1.0L45.3 -1.0L46.0 -1.0L46.8 -1.0L47.6 -1.0L48.4 -1.0L49.2 -1.0L50.0 -1.0L50.7 -1.0L51.5 -1.0L52.3 -1.0L53.1 -1.0L53.9 -1.0L54.7 -1.0L55.4 -1.0L56.2 -1.0L57.0 -1.0L57.8 -1.0L58.6 -1.0L59.4 -1.0L60.1 -1.0L60.9 -1.0L61.7 -1.0L62.5 -1.0L63.3 -1.0L64.1 -1.0L64.8 -1.0L65.6 -1.0L66.4 -1.0L67.2 -1.0L68.0 -1.0L68.8 -1.0L69.6 -1.0L70.3 -1.0L71.1 -1.0L71.9 -1.0L72.7 -1.0L73.5 -1.0L74.3 -1.0L75.0 -1.0L75.8 -1.0L76.6 -1.0L77.4 -1.0L78.2 -1.0L79.0 -1.0L79.7 -1.0L80.5 -1.0L81.3 -1.0L82.1 -1.0L82.9 -1.0L83.7 -1.0L84.4 -1.0L85.2 -1.0L86.0 -1.0L86.8 -1.0L87.6 -1.0L88.4 -1.0L89.2 -1.0L89.9 -1.0L90.7 -1.0L91.5 -1.0L92.3 -1.0L93.1 -1.0L93.9 -1.0L94.6 -1.0L95.4 -1.0L96.2 -1.0L97.0 -1.0L97.8 -1.0L98.6 -1.0L99.3 -1.0L100.1 -1.0L100.9 -1.0L101.7 -1.0L102.5 -1.0L103.3 -1.0L104.0 -1.0L104.8 -1.0L105.6 -1.0L106.4 -1.0L107.2 -1.0L108.0 -1.0L108.7 -1.0L109.5 -1.0L110.3 -1.0L111.1 -1.0L111.9 -1.0L112.7 -1.0L113.5 -1.0L114.2 -1.0L115.0 -1.0L115.8 -1.0L116.6 -1.0L117.4 -1.0L118.2 -1.0L118.9 -1.0L119.7 -1.0L120.5 -1.0L121.3 -1.0L122.1 -1.0L122.9 -1.0L123.6 -1.0L124.4 -1.0L125.2 -1.0L126.0 -1.0L126.8 -1.0L127.6 -1.0L128.3 -1.0L129.1 -1.0L129.9 -1.0L130.7 -1.0L131.5 -1.0L132.3 -1.0L133.1 -1.0L133.8 -1.0L134.6 -1.0L135.4 -1.0L136.2 -1.0L137.0 -1.0L137.8 -1.0L138.5 -1.0L139.3 -1.0L140.1 -1.0L140.9 -1.0L141.7 -1.0L142.5 -1.0L143.2 -1.0L144.0 -1.0L144.8 -1.0L145.6 -1.0L146.4 -1.0L147.2 -1.0L147.9 -1.0L148.7 -1.0L149.5 -1.0L150.3 -1.0L151.1 -1.0L151.9 -1.0L152.6 -1.0L153.4 -1.0L154.2 -1.0L155.0 -1.0L155.0 -0.2L155.0 0.5L155.0 1.3L155.0 2.1L155.0 2.8L155.0 3.6L155.0 4.4L155.0 5.1L155.0 5.9L155.0 6.7L155.0 7.4L155.0 8.2L155.0 9.0L155.0 9.7L155.0 10.5L155.0 11.3L155.0 12.0L155.0 12.8L155.0 13.6L155.0 14.3L155.0 15.1L155.0 15.9L155.0 16.6L155.0 17.4L155.0 18.2L155.0 18.9L155.0 19.7L155.0 20.5L155.0 21.2L155.0 22.0L155.0 22.8L155.0 23.6L155.0 24.3L155.0 25.1L155.0 25.9L155.0 26.6L155.0 27.4L155.0 28.2L155.0 28.9L155.0 29.7L155.0 30.5L155.0 31.2L155.0 32.0L155.0 32.8L155.0 33.5L155.0 34.3L155.0 35.1L155.0 35.8L155.0 36.6L155.0 37.4L155.0 38.1L155.0 38.9L155.0 39.7L155.0 40.4L155.0 41.2L155.0 42.0L155.0 42.7L155.0 43.5L155.0 44.3L155.0 45.0L155.0 45.8L155.0 46.6L155.0 47.3L155.0 48.1L155.0 48.9L155.0 49.6L155.0 50.4L155.0 51.2L155.0 51.9L155.0 52.7L155.0 53.5L155.0 54.2L155.0 55.0L155.0 55.8L155.0 56.5L155.0 57.3L155.0 58.1L155.0 58.8L155.0 59.6L155.0 60.4L155.0 61.1L155.0 61.9L155.0 62.7L155.0 63.4L155.0 64.2L155.0 65.0L155.0 65.7L155.0 66.5L155.0 67.3L155.0 68.0L155.0 68.8L155.0 69.6L155.0 70.3L155.0 71.1L155.0 71.9L155.0 72.7L155.0 73.4L155.0 74.2L155.0 75.0L155.0 75.7L155.0 76.5L155.0 77.3L155.0 78.0L155.0 78.8L155.0 79.6L155.0 80.3L155.0 81.1L155.0 81.9L155.0 82.6L155.0 83.4L155.0 84.2L155.0 84.9L155.0 85.7L155.0 86.5L155.0 87.2L155.0 88.0L155.0 88.8L155.0 89.5L155.0 90.3L155.0 91.1L155.0 91.8L155.0 92.6L155.0 93.4L155.0 94.1L155.0 94.9L155.0 95.7L155.0 96.4L155.0 97.2L155.0 98.0L155.0 98.7L155.0 99.5L155.0 100.3L155.0 101.0L155.0 101.8L155.0 102.6L155.0 103.3L155.0 104.1L155.0 104.9L155.0 105.6L155.0 106.4L155.0 107.2L155.0 107.9L155.0 108.7L155.0 109.5L155.0 110.2L155.0 111.0L155.0 111.8L155.0 112.5L155.0 113.3L155.0 114.1L155.0 114.8L155.0 115.6L155.0 116.4L155.0 117.1L155.0 117.9L155.0 118.7L155.0 119.4L155.0 120.2L155.0 121.0L155.0 121.8L155.0 122.5L155.0 123.3L155.0 124.1L155.0 124.8L155.0 125.6L155.0 126.4L155.0 127.1L155.0 127.9L155.0 128.1L154.7 127.9L154.2 127.6L153.5 127.1L153.4 127.1L152.6 126.5L152.4 126.4L151.9 126.0L151.2 125.6L151.1 125.5L150.3 125.0L150.0 124.8L149.5 124.5L148.8 124.1L148.7 124.0L147.9 123.5L147.5 123.3L147.2 123.1L146.4 122.6L146.3 122.5L145.6 122.1L145.0 121.8L144.8 121.6L144.0 121.1L143.8 121.0L143.2 120.7L142.5 120.2L142.5 120.2L141.7 119.8L141.2 119.4L140.9 119.3L140.1 118.8L139.8 118.7L139.3 118.4L138.5 117.9L138.5 117.9L137.8 117.5L137.1 117.1L137.0 117.1L136.2 116.6L135.8 116.4L135.4 116.2L134.6 115.7L134.4 115.6L133.8 115.3L133.1 114.9L133.0 114.8L132.3 114.5L131.5 114.1L131.5 114.0L130.7 113.6L130.1 113.3L129.9 113.2L129.1 112.8L128.6 112.5L128.3 112.4L127.6 112.0L127.2 111.8L126.8 111.6L126.0 111.2L125.7 111.0L125.2 110.8L124.4 110.4L124.1 110.2L123.6 110.0L122.9 109.6L122.6 109.5L122.1 109.2L121.3 108.8L121.0 108.7L120.5 108.5L119.7 108.1L119.4 107.9L118.9 107.7L118.2 107.3L117.8 107.2L117.4 107.0L116.6 106.6L116.2 106.4L115.8 106.2L115.0 105.9L114.6 105.6L114.2 105.5L113.5 105.1L112.9 104.9L112.7 104.8L111.9 104.4L111.2 104.1L111.1 104.1L110.3 103.7L109.5 103.4L109.5 103.3L108.7 103.0L108.0 102.7L107.7 102.6L107.2 102.3L106.4 102.0L105.9 101.8L105.6 101.7L104.8 101.3L104.1 101.0L104.0 101.0L103.3 100.7L102.5 100.3L102.3 100.3L101.7 100.0L100.9 99.7L100.5 99.5L100.1 99.4L99.3 99.0L98.6 98.7L98.6 98.7L97.8 98.4L97.0 98.1L96.7 98.0L96.2 97.8L95.4 97.5L94.7 97.2L94.6 97.2L93.9 96.9L93.1 96.6L92.7 96.4L92.3 96.3L91.5 96.0L90.7 95.7L90.7 95.7L89.9 95.4L89.2 95.1L88.7 94.9L88.4 94.8L87.6 94.5L86.8 94.2L86.6 94.1L86.0 93.9L85.2 93.6L84.5 93.4L84.4 93.3L83.7 93.1L82.9 92.8L82.3 92.6L82.1 92.5L81.3 92.2L80.5 92.0L80.1 91.8L79.7 91.7L79.0 91.4L78.2 91.2L77.9 91.1L77.4 90.9L76.6 90.6L75.8 90.4L75.6 90.3L75.0 90.1L74.3 89.8L73.5 89.6L73.3 89.5L72.7 89.3L71.9 89.1L71.1 88.8L71.0 88.8L70.3 88.6L69.6 88.3L68.8 88.1L68.5 88.0L68.0 87.8L67.2 87.6L66.4 87.3L66.1 87.2L65.6 87.1L64.8 86.8L64.1 86.6L63.6 86.5L63.3 86.4L62.5 86.1L61.7 85.9L61.0 85.7L60.9 85.7L60.1 85.4L59.4 85.2L58.6 85.0L58.4 84.9L57.8 84.8L57.0 84.5L56.2 84.3L55.7 84.2L55.4 84.1L54.7 83.9L53.9 83.7L53.1 83.4L52.9 83.4L52.3 83.2L51.5 83.0L50.7 82.8L50.1 82.6L50.0 82.6L49.2 82.4L48.4 82.2L47.6 82.0L47.2 81.9L46.8 81.8L46.0 81.5L45.3 81.3L44.5 81.1L44.2 81.1L43.7 80.9L42.9 80.7L42.1 80.6L41.3 80.4L41.2 80.3L40.5 80.2L39.8 80.0L39.0 79.8L38.2 79.6L38.1 79.6L37.4 79.4L36.6 79.2L35.8 79.0L35.1 78.8L34.8 78.8L34.3 78.7L33.5 78.5L32.7 78.3L31.9 78.1L31.5 78.0L31.1 77.9L30.4 77.8L29.6 77.6L28.8 77.4L28.0 77.3L28.0 77.2L27.2 77.1L26.4 76.9L25.7 76.7L24.9 76.6L24.5 76.5L24.1 76.4L23.3 76.2L22.5 76.1L21.7 75.9L20.9 75.8L20.8 75.7L20.2 75.6L19.4 75.4L18.6 75.3L17.8 75.1L17.0 75.0L16.9 75.0L16.2 74.8L15.5 74.7L14.7 74.5L13.9 74.4L13.1 74.2L12.9 74.2L12.3 74.1L11.5 73.9L10.8 73.8L10.0 73.6L9.2 73.5L8.7 73.4L8.4 73.4L7.6 73.2L6.8 73.1L6.1 73.0L5.3 72.8L4.5 72.7L4.3 72.7L3.7 72.5L2.9 72.4L2.1 72.3L1.4 72.2L0.6 72.0L-0.2 71.9L-0.3 71.9L-1.0 71.8L-1.0 71.1L-1.0 70.3L-1.0 69.6L-1.0 68.8L-1.0 68.0L-1.0 67.3L-1.0 66.5L-1.0 65.7L-1.0 65.0L-1.0 64.2L-1.0 63.4L-1.0 62.7L-1.0 61.9L-1.0 61.1L-1.0 60.4L-1.0 59.6L-1.0 58.8L-1.0 58.1L-1.0 57.3L-1.0 56.5L-1.0 55.8L-1.0 55.0L-1.0 54.2L-1.0 53.5L-1.0 52.7L-1.0 51.9L-1.0 51.2L-1.0 50.4L-1.0 49.6L-1.0 48.9L-1.0 48.1L-1.0 47.3L-1.0 46.6L-1.0 45.8L-1.0 45.0L-1.0 44.3L-1.0 43.5L-1.0 42.7L-1.0 42.0L-1.0 41.2L-1.0 40.4L-1.0 39.7L-1.0 38.9L-1.0 38.1L-1.0 37.4L-1.0 36.6L-1.0 35.8L-1.0 35.1L-1.0 34.3L-1.0 33.5L-1.0 32.8L-1.0 32.0L-1.0 31.2L-1.0 30.5L-1.0 29.7L-1.0 28.9L-1.0 28.2L-1.0 27.4L-1.0 26.6L-1.0 25.9L-1.0 25.1L-1.0 24.3L-1.0 23.6L-1.0 22.8L-1.0 22.0L-1.0 21.2L-1.0 20.5L-1.0 19.7L-1.0 18.9L-1.0 18.2L-1.0 17.4L-1.0 16.6L-1.0 15.9L-1.0 15.1L-1.0 14.3L-1.0 13.6L-1.0 12.8L-1.0 12.0L-1.0 11.3L-1.0 10.5L-1.0 9.7L-1.0 9.0L-1.0 8.2L-1.0 7.4L-1.0 6.7L-1.0 5.9L-1.0 5.1L-1.0 4.4L-1.0 3.6L-1.0 2.8L-1.0 2.1L-1.0 1.3L-1.0 0.5L-1.0 -0.2L-1.0 -1.0Z" fill="#8bb2c1"/>
<path d="M-0.2 -1.0L0.6 -1.0L1.4 -1.0L2.1 -1.0L2.9 -1.0L3.7 -1.0L4.5 -1.0L5.3 -1.0L6.1 -1.0L6.8 -1.0L7.6 -1.0L8.4 -1.0L9.2 -1.0L10.0 -1.0L10.8 -1.0L11.5 -1.0L12.3 -1.0L13.1 -1.0L13.9 -1.0L14.7 -1.0L15.5 -1.0L16.2 -1.0L17.0 -1.0L17.8 -1.0L18.6 -1.0L19.4 -1.0L20.2 -1.0L20.9 -1.0L21.7 -1.0L22.5 -1.0L23.3 -1.0L24.1 -1.0L24.9 -1.0L25.7 -1.0L26.4 -1.0L27.2 -1.0L28.0 -1.0L28.8 -1.0L29.6 -1.0L30.4 -1.0L31.1 -1.0L31.9 -1.0L32.7 -1.0L33.5 -1.0L34.3 -1.0L35.1 -1.0L35.8 -1.0L36.6 -1.0L37.4 -1.0L38.2 -1.0L39.0 -1.0L39.8 -1.0L40.5 -1.0L41.3 -1.0L42.1 -1.0L42.9 -1.0L43.7 -1.0L44.5 -1.0L45.3 -1.0L46.0 -1.0L46.8 -1.0L47.6 -1.0L48.4 -1.0L49.2 -1.0L50.0 -1.0L50.7 -1.0L51.5 -1.0L52.3 -1.0L53.1 -1.0L53.9 -1.0L54.7 -1.0L55.4 -1.0L56.2 -1.0L57.0 -1.0L57.8 -1.0L58.6 -1.0L59.4 -1.0L60.1 -1.0L60.9 -1.0L61.7 -1.0L62.5 -1.0L63.3 -1.0L64.1 -1.0L64.8 -1.0L65.6 -1.0L66.4 -1.0L67.2 -1.0L68.0 -1.0L68.8 -1.0L69.6 -1.0L70.3 -1.0L71.1 -1.0L71.9 -1.0L72.7 -1.0L73.5 -1.0L74.3 -1.0L75.0 -1.0L75.8 -1.0L76.6 -1.0L77.4 -1.0L78.2 -1.0L79.0 -1.0L79.7 -1.0L80.5 -1.0L81.3 -1.0L82.1 -1.0L82.9 -1.0L83.7 -1.0L84.4 -1.0L85.2 -1.0L86.0 -1.0L86.8 -1.0L87.6 -1.0L88.4 -1.0L89.2 -1.0L89.9 -1.0L90.7 -1.0L91.5 -1.0L92.3 -1.0L93.1 -1.0L93.9 -1.0L94.6 -1.0L95.4 -1.0L96.2 -1.0L97.0 -1.0L97.8 -1.0L98.6 -1.0L99.3 -1.0L100.1 -1.0L100.9 -1.0L101.7 -1.0L102.5 -1.0L103.3 -1.0L104.0 -1.0L104.8 -1.0L105.6 -1.0L106.4 -1.0L107.2 -1.0L108.0 -1.0L108.7 -1.0L109.5 -1.0L110.3 -1.0L111.1 -1.0L111.9 -1.0L112.7 -1.0L113.5 -1.0L114.2 -1.0L115.0 -1.0L115.8 -1.0L116.6 -1.0L117.4 -1.0L118.2 -1.0L118.9 -1.0L119.7 -1.0L120.5 -1.0L121.3 -1.0L122.1 -1.0L122.9 -1.0L123.6 -1.0L124.4 -1.0L125.2 -1.0L126.0 -1.0L126.8 -1.0L127.6 -1.0L128.3 -1.0L129.1 -1.0L129.9 -1.0L130.7 -1.0L131.5 -1.0L132.3 -1.0L133.1 -1.0L133.8 -1.0L134.6 -1.0L135.4 -1.0L136.2 -1.0L137.0 -1.0L137.8 -1.0L138.5 -1.0L139.3 -1.0L140.1 -1.0L140.9 -1.0L141.7 -1.0L142.5 -1.0L143.2 -1.0L144.0 -1.0L144.8 -1.0L145.6 -1.0L146.4 -1.0L147.2 -1.0L147.9 -1.0L148.7 -1.0L149.5 -1.0L150.3 -1.0L151.1 -1.0L151.9 -1.0L152.6 -1.0L153.4 -1.0L154.2 -1.0L155.0 -1.0L155.0 -0.2L155.0 0.5L155.0 1.3L155.0 2.1L155.0 2.8L155.0 3.6L155.0 4.4L155.0 5.1L155.0 5.9L155.0 6.7L155.0 7.4L155.0 8.2L155.0 9.0L155.0 9.7L155.0 10.5L155.0 11.3L155.0 12.0L155.0 12.8L155.0 13.6L155.0 14.3L155.0 15.1L155.0 15.9L155.0 16.6L155.0 17.4L155.0 18.2L155.0 18.9L155.0 19.7L155.0 20.5L155.0 21.2L155.0 22.0L155.0 22.8L155.0 23.6L155.0 24.3L155.0 25.1L155.0 25.9L155.0 26.6L155.0 27.4L155.0 28.2L155.0 28.9L155.0 29.7L155.0 30.5L155.0 31.2L155.0 32.0L155.0 32.8L155.0 33.5L155.0 34.3L155.0 35.1L155.0 35.8L155.0 36.6L155.0 37.4L155.0 38.1L155.0 38.9L155.0 39.7L155.0 40.4L155.0 41.2L155.0 42.0L155.0 42.7L155.0 43.5L155.0 44.3L155.0 45.0L155.0 45.8L155.0 46.6L155.0 47.3L155.0 48.1L155.0 48.9L155.0 49.6L155.0 50.4L155.0 51.2L155.0 51.9L155.0 52.7L155.0 53.5L155.0 54.2L155.0 55.0L155.0 55.8L155.0 56.5L155.0 57.3L155.0 58.1L155.0 58.8L155.0 59.6L155.0 60.4L155.0 61.1L155.0 61.9L155.0 62.7L155.0 63.4L155.0 64.2L155.0 65.0L155.0 65.7L155.0 66.5L155.0 67.3L155.0 68.0L155.0 68.8L155.0 69.6L155.0 70.3L155.0 71.1L155.0 71.9L155.0 72.7L155.0 73.4L155.0 74.2L155.0 75.0L155.0 75.7L155.0 76.5L155.0 77.3L155.0 78.0L155.0 78.8L155.0 79.6L155.0 80.3L155.0 81.1L155.0 81.9L155.0 82.6L155.0 83.4L155.0 84.2L155.0 84.9L155.0 85.7L155.0 86.5L155.0 87.2L155.0 88.0L155.0 88.8L155.0 89.5L155.0 90.3L155.0 91.1L155.0 91.8L155.0 92.6L155.0 93.4L155.0 94.1L155.0 94.9L155.0 95.7L155.0 96.4L155.0 97.2L155.0 98.0L155.0 98.7L155.0 99.5L155.0 100.3L155.0 101.0L155.0 101.8L155.0 102.6L155.0 103.3L155.0 104.1L155.0 104.9L155.0 105.6L155.0 106.4L155.0 107.2L155.0 107.9L155.0 108.7L155.0 109.5L155.0 110.2L155.0 111.0L155.0 111.8L155.0 112.5L155.0 113.3L155.0 114.0L154.2 113.5L153.9 113.3L153.4 113.1L152.6 112.6L152.6 112.5L151.9 112.1L151.2 111.8L151.1 111.7L150.3 111.2L149.9 111.0L149.5 110.8L148.7 110.4L148.5 110.2L147.9 109.9L147.2 109.5L147.1 109.5L146.4 109.1L145.7 108.7L145.6 108.6L144.8 108.2L144.3 107.9L144.0 107.8L143.2 107.4L142.9 107.2L142.5 107.0L141.7 106.5L141.4 106.4L140.9 106.1L140.1 105.7L139.9 105.6L139.3 105.3L138.5 104.9L138.5 104.9L137.8 104.5L137.0 104.1L137.0 104.1L136.2 103.7L135.4 103.3L135.4 103.3L134.6 102.9L133.9 102.6L133.8 102.5L133.1 102.2L132.3 101.8L132.3 101.8L131.5 101.4L130.7 101.0L130.7 101.0L129.9 100.6L129.1 100.3L129.1 100.3L128.3 99.9L127.6 99.5L127.5 99.5L126.8 99.2L126.0 98.8L125.8 98.7L125.2 98.4L124.4 98.1L124.2 98.0L123.6 97.7L122.9 97.4L122.5 97.2L122.1 97.0L121.3 96.7L120.8 96.4L120.5 96.3L119.7 96.0L119.0 95.7L118.9 95.6L118.2 95.3L117.4 94.9L117.3 94.9L116.6 94.6L115.8 94.3L115.5 94.1L115.0 93.9L114.2 93.6L113.7 93.4L113.5 93.3L112.7 93.0L111.9 92.6L111.8 92.6L111.1 92.3L110.3 92.0L109.9 91.8L109.5 91.7L108.7 91.3L108.0 91.1L108.0 91.0L107.2 90.7L106.4 90.4L106.1 90.3L105.6 90.1L104.8 89.8L104.2 89.5L104.0 89.5L103.3 89.2L102.5 88.9L102.2 88.8L101.7 88.6L100.9 88.3L100.2 88.0L100.1 88.0L99.3 87.7L98.6 87.4L98.1 87.2L97.8 87.1L97.0 86.8L96.2 86.5L96.0 86.5L95.4 86.2L94.6 86.0L93.9 85.7L93.9 85.7L93.1 85.4L92.3 85.1L91.8 84.9L91.5 84.8L90.7 84.6L89.9 84.3L89.6 84.2L89.2 84.0L88.4 83.7L87.6 83.5L87.3 83.4L86.8 83.2L86.0 82.9L85.2 82.7L85.1 82.6L84.4 82.4L83.7 82.2L82.9 81.9L82.8 81.9L82.1 81.6L81.3 81.4L80.5 81.1L80.4 81.1L79.7 80.9L79.0 80.6L78.2 80.4L78.0 80.3L77.4 80.1L76.6 79.9L75.8 79.6L75.6 79.6L75.0 79.4L74.3 79.1L73.5 78.9L73.1 78.8L72.7 78.7L71.9 78.4L71.1 78.2L70.5 78.0L70.3 78.0L69.6 77.7L68.8 77.5L68.0 77.3L67.9 77.3L67.2 77.0L66.4 76.8L65.6 76.6L65.3 76.5L64.8 76.4L64.1 76.1L63.3 75.9L62.6 75.7L62.5 75.7L61.7 75.5L60.9 75.3L60.1 75.0L59.8 75.0L59.4 74.8L58.6 74.6L57.8 74.4L57.0 74.2L57.0 74.2L56.2 74.0L55.4 73.8L54.7 73.6L54.1 73.4L53.9 73.4L53.1 73.2L52.3 73.0L51.5 72.8L51.1 72.7L50.7 72.6L50.0 72.4L49.2 72.2L48.4 72.0L48.0 71.9L47.6 71.8L46.8 71.6L46.0 71.4L45.3 71.2L44.9 71.1L44.5 71.0L43.7 70.8L42.9 70.7L42.1 70.5L41.6 70.3L41.3 70.3L40.5 70.1L39.8 69.9L39.0 69.7L38.3 69.6L38.2 69.6L37.4 69.4L36.6 69.2L35.8 69.0L35.1 68.9L34.8 68.8L34.3 68.7L33.5 68.5L32.7 68.4L31.9 68.2L31.3 68.0L31.1 68.0L30.4 67.9L29.6 67.7L28.8 67.5L28.0 67.4L27.6 67.3L27.2 67.2L26.4 67.0L25.7 66.9L24.9 66.7L24.1 66.6L23.8 66.5L23.3 66.4L22.5 66.3L21.7 66.1L20.9 66.0L20.2 65.8L19.8 65.7L19.4 65.7L18.6 65.5L17.8 65.4L17.0 65.2L16.2 65.1L15.7 65.0L15.5 64.9L14.7 64.8L13.9 64.7L13.1 64.5L12.3 64.4L11.5 64.2L11.4 64.2L10.8 64.1L10.0 64.0L9.2 63.8L8.4 63.7L7.6 63.6L6.9 63.4L6.8 63.4L6.1 63.3L5.3 63.2L4.5 63.1L3.7 62.9L2.9 62.8L2.1 62.7L2.1 62.7L1.4 62.6L0.6 62.4L-0.2 62.3L-1.0 62.2L-1.0 61.9L-1.0 61.1L-1.0 60.4L-1.0 59.6L-1.0 58.8L-1.0 58.1L-1.0 57.3L-1.0 56.5L-1.0 55.8L-1.0 55.0L-1.0 54.2L-1.0 53.5L-1.0 52.7L-1.0 51.9L-1.0 51.2L-1.0 50.4L-1.0 49.6L-1.0 48.9L-1.0 48.1L-1.0 47.3L-1.0 46.6L-1.0 45.8L-1.0 45.0L-1.0 44.3L-1.0 43.5L-1.0 42.7L-1.0 42.0L-1.0 41.2L-1.0 40.4L-1.0 39.7L-1.0 38.9L-1.0 38.1L-1.0 37.4L-1.0 36.6L-1.0 35.8L-1.0 35.1L-1.0 34.3L-1.0 33.5L-1.0 32.8L-1.0 32.0L-1.0 31.2L-1.0 30.5L-1.0 29.7L-1.0 28.9L-1.0 28.2L-1.0 27.4L-1.0 26.6L-1.0 25.9L-1.0 25.1L-1.0 24.3L-1.0 23.6L-1.0 22.8L-1.0 22.0L-1.0 21.2L-1.0 20.5L-1.0 19.7L-1.0 18.9L-1.0 18.2L-1.0 17.4L-1.0 16.6L-1.0 15.9L-1.0 15.1L-1.0 14.3L-1.0 13.6L-1.0 12.8L-1.0 12.0L-1.0 11.3L-1.0 10.5L-1.0 9.7L-1.0 9.0L-1.0 8.2L-1.0 7.4L-1.0 6.7L-1.0 5.9L-1.0 5.1L-1.0 4.4L-1.0 3.6L-1.0 2.8L-1.0 2.1L-1.0 1.3L-1.0 0.5L-1.0 -0.2L-1.0 -1.0Z" fill="#88b8c1"/>
<path d="M-0.2 -1.0L0.6 -1.0L1.4 -1.0L2.1 -1.0L2.9 -1.0L3.7 -1.0L4.5 -1.0L5.3 -1.0L6.1 -1.0L6.8 -1.0L7.6 -1.0L8.4 -1.0L9.2 -1.0L10.0 -1.0L10.8 -1.0L11.5 -1.0L12.3 -1.0L13.1 -1.0L13.9 -1.0L14.7 -1.0L15.5 -1.0L16.2 -1.0L17.0 -1.0L17.8 -1.0L18.6 -1.0L19.4 -1.0L20.2 -1.0L20.9 -1.0L21.7 -1.0L22.5 -1.0L23.3 -1.0L24.1 -1.0L24.9 -1.0L25.7 -1.0L26.4 -1.0L27.2 -1.0L28.0 -1.0L28.8 -1.0L29.6 -1.0L30.4 -1.0L31.1 -1.0L31.9 -1.0L32.7 -1.0L33.5 -1.0L34.3 -1.0L35.1 -1.0L35.8 -1.0L36.6 -1.0L37.4 -1.0L38.2 -1.0L39.0 -1.0L39.8 -1.0L40.5 -1.0L41.3 -1.0L42.1 -1.0L42.9 -1.0L43.7 -1.0L44.5 -1.0L45.3 -1.0L46.0 -1.0L46.8 -1.0L47.6 -1.0L48.4 -1.0L49.2 -1.0L50.0 -1.0L50.7 -1.0L51.5 -1.0L52.3 -1.0L53.1 -1.0L53.9 -1.0L54.7 -1.0L55.4 -1.0L56.2 -1.0L57.0 -1.0L57.8 -1.0L58.6 -1.0L59.4 -1.0L60.1 -1.0L60.9 -1.0L61.7 -1.0L62.5 -1.0L63.3 -1.0L64.1 -1.0L64.8 -1.0L65.6 -1.0L66.4 -1.0L67.2 -1.0L68.0 -1.0L68.8 -1.0L69.6 -1.0L70.3 -1.0L71.1 -1.0L71.9 -1.0L72.7 -1.0L73.5 -1.0L74.3 -1.0L75.0 -1.0L75.8 -1.0L76.6 -1.0L77.4 -1.0L78.2 -1.0L79.0 -1.0L79.7 -1.0L80.5 -1.0L81.3 -1.0L82.1 -1.0L82.9 -1.0L83.7 -1.0L84.4 -1.0L85.2 -1.0L86.0 -1.0L86.8 -1.0L87.6 -1.0L88.4 -1.0L89.2 -1.0L89.9 -1.0L90.7 -1.0L91.5 -1.0L92.3 -1.0L93.1 -1.0L93.9 -1.0L94.6 -1.0L95.4 -1.0L96.2 -1.0L97.0 -1.0L97.8 -1.0L98.6 -1.0L99.3 -1.0L100.1 -1.0L100.9 -1.0L101.7 -1.0L102.5 -1.0L103.3 -1.0L104.0 -1.0L104.8 -1.0L105.6 -1.0L106.4 -1.0L107.2 -1.0L108.0 -1.0L108.7 -1.0L109.5 -1.0L110.3 -1.0L111.1 -1.0L111.9 -1.0L112.7 -1.0L113.5 -1.0L114.2 -1.0L115.0 -1.0L115.8 -1.0L116.6 -1.0L117.4 -1.0L118.2 -1.0L118.9 -1.0L119.7 -1.0L120.5 -1.0L121.3 -1.0L122.1 -1.0L122.9 -1.0L123.6 -1.0L124.4 -1.0L125.2 -1.0L126.0 -1.0L126.8 -1.0L127.6 -1.0L128.3 -1.0L129.1 -1.0L129.9 -1.0L130.7 -1.0L131.5 -1.0L132.3 -1.0L133.1 -1.0L133.8 -1.0L134.6 -1.0L135.4 -1.0L136.2 -1.0L137.0 -1.0L137.8 -1.0L138.5 -1.0L139.3 -1.0L140.1 -1.0L140.9 -1.0L141.7 -1.0L142.5 -1.0L143.2 -1.0L144.0 -1.0L144.8 -1.0L145.6 -1.0L146.4 -1.0L147.2 -1.0L147.9 -1.0L148.7 -1.0L149.5 -1.0L150.3 -1.0L151.1 -1.0L151.9 -1.0L152.6 -1.0L153.4 -1.0L154.2 -1.0L155.0 -1.0L155.0 -0.2L155.0 0.5L155.0 1.3L155.0 2.1L155.0 2.8L155.0 3.6L155.0 4.4L155.0 5.1L155.0 5.9L155.0 6.7L155.0 7.4L155.0 8.2L155.0 9.0L155.0 9.7L155.0 10.5L155.0 11.3L155.0 12.0L155.0 12.8L155.0 13.6L155.0 14.3L155.0 15.1L155.0 15.9L155.0 16.6L155.0 17.4L155.0 18.2L155.0 18.9L155.0 19.7L155.0 20.5L155.0 21.2L155.0 22.0L155.0 22.8L155.0 23.6L155.0 24.3L155.0 25.1L155.0 25.9L155.0 26.6L155.0 27.4L155.0 28.2L155.0 28.9L155.0 29.7L155.0 30.5L155.0 31.2L155.0 32.0L155.0 32.8L155.0 33.5L155.0 34.3L155.0 35.1L155.0 35.8L155.0 36.6L155.0 37.4L155.0 38.1L155.0 38.9L155.0 39.7L155.0 40.4L155.0 41.2L155.0 42.0L155.0 42.7L155.0 43.5L155.0 44.3L155.0 45.0L155.0 45.8L155.0 46.6L155.0 47.3L155.0 48.1L155.0 48.9L155.0 49.6L155.0 50.4L155.0 51.2L155.0 51.9L155.0 52.7L155.0 53.5L155.0 54.2L155.0 55.0L155.0 55.8L155.0 56.5L155.0 57.3L155.0 58.1L155.0 58.8L155.0 59.6L155.0 60.4L155.0 61.1L155.0 61.9L155.0 62.7L155.0 63.4L155.0 64.2L155.0 65.0L155.0 65.7L155.0 66.5L155.0 67.3L155.0 68.0L155.0 68.8L155.0 69.6L155.0 70.3L155.0 71.1L155.0 71.9L155.0 72.7L155.0 73.4L155.0 74.2L155.0 75.0L155.0 75.7L155.0 76.5L155.0 77.3L155.0 78.0L155.0 78.8L155.0 79.6L155.0 80.3L155.0 81.1L155.0 81.9L155.0 82.6L155.0 83.4L155.0 84.2L155.0 84.9L155.0 85.7L155.0 86.5L155.0 87.2L155.0 88.0L155.0 88.8L155.0 89.5L155.0 90.3L155.0 91.1L155.0 91.8L155.0 92.6L155.0 93.4L155.0 94.1L155.0 94.9L155.0 95.7L155.0 96.4L155.0 97.2L155.0 98.0L155.0 98.7L155.0 99.5L155.0 100.3L155.0 101.0L155.0 101.1L154.9 101.0L154.2 100.7L153.4 100.3L153.4 100.3L152.6 99.9L152.0 99.5L151.9 99.4L151.1 99.0L150.5 98.7L150.3 98.6L149.5 98.2L149.0 98.0L148.7 97.8L147.9 97.4L147.5 97.2L147.2 97.0L146.4 96.7L145.9 96.4L145.6 96.3L144.8 95.9L144.4 95.7L144.0 95.5L143.2 95.1L142.8 94.9L142.5 94.7L141.7 94.4L141.2 94.1L140.9 94.0L140.1 93.6L139.6 93.4L139.3 93.2L138.5 92.9L138.0 92.6L137.8 92.5L137.0 92.1L136.3 91.8L136.2 91.8L135.4 91.4L134.6 91.1L134.6 91.1L133.8 90.7L133.1 90.3L133.0 90.3L132.3 90.0L131.5 89.6L131.2 89.5L130.7 89.3L129.9 88.9L129.5 88.8L129.1 88.6L128.3 88.3L127.7 88.0L127.6 87.9L126.8 87.6L126.0 87.3L125.9 87.2L125.2 86.9L124.4 86.6L124.1 86.5L123.6 86.3L122.9 85.9L122.3 85.7L122.1 85.6L121.3 85.3L120.5 85.0L120.4 84.9L119.7 84.6L118.9 84.3L118.5 84.2L118.2 84.0L117.4 83.7L116.6 83.4L116.6 83.4L115.8 83.1L115.0 82.8L114.7 82.6L114.2 82.5L113.5 82.1L112.7 81.9L112.7 81.8L111.9 81.5L111.1 81.2L110.7 81.1L110.3 80.9L109.5 80.6L108.7 80.4L108.7 80.3L108.0 80.1L107.2 79.8L106.6 79.6L106.4 79.5L105.6 79.2L104.8 78.9L104.5 78.8L104.0 78.6L103.3 78.3L102.5 78.1L102.4 78.0L101.7 77.8L100.9 77.5L100.2 77.3L100.1 77.2L99.3 76.9L98.6 76.7L98.0 76.5L97.8 76.4L97.0 76.1L96.2 75.9L95.8 75.7L95.4 75.6L94.6 75.3L93.9 75.1L93.5 75.0L93.1 74.8L92.3 74.5L91.5 74.3L91.2 74.2L90.7 74.0L89.9 73.8L89.2 73.5L88.8 73.4L88.4 73.3L87.6 73.0L86.8 72.8L86.4 72.7L86.0 72.5L85.2 72.3L84.4 72.0L84.0 71.9L83.7 71.8L82.9 71.5L82.1 71.3L81.5 71.1L81.3 71.1L80.5 70.8L79.7 70.6L79.0 70.3L79.0 70.3L78.2 70.1L77.4 69.9L76.6 69.6L76.4 69.6L75.8 69.4L75.0 69.2L74.3 69.0L73.8 68.8L73.5 68.7L72.7 68.5L71.9 68.3L71.1 68.1L71.1 68.0L70.3 67.8L69.6 67.6L68.8 67.4L68.3 67.3L68.0 67.2L67.2 67.0L66.4 66.8L65.6 66.6L65.5 66.5L64.8 66.3L64.1 66.1L63.3 65.9L62.6 65.7L62.5 65.7L61.7 65.5L60.9 65.3L60.1 65.1L59.7 65.0L59.4 64.9L58.6 64.7L57.8 64.5L57.0 64.3L56.6 64.2L56.2 64.1L55.4 63.9L54.7 63.7L53.9 63.5L53.5 63.4L53.1 63.3L52.3 63.1L51.5 63.0L50.7 62.8L50.4 62.7L50.0 62.6L49.2 62.4L48.4 62.2L47.6 62.0L47.1 61.9L46.8 61.8L46.0 61.7L45.3 61.5L44.5 61.3L43.7 61.1L43.7 61.1L42.9 61.0L42.1 60.8L41.3 60.6L40.5 60.4L40.3 60.4L39.8 60.3L39.0 60.1L38.2 59.9L37.4 59.8L36.7 59.6L36.6 59.6L35.8 59.4L35.1 59.3L34.3 59.1L33.5 58.9L33.0 58.8L32.7 58.8L31.9 58.6L31.1 58.5L30.4 58.3L29.6 58.2L29.1 58.1L28.8 58.0L28.0 57.9L27.2 57.7L26.4 57.5L25.7 57.4L25.2 57.3L24.9 57.2L24.1 57.1L23.3 57.0L22.5 56.8L21.7 56.7L21.0 56.5L20.9 56.5L20.2 56.4L19.4 56.2L18.6 56.1L17.8 56.0L17.0 55.8L16.7 55.8L16.2 55.7L15.5 55.6L14.7 55.4L13.9 55.3L13.1 55.2L12.3 55.0L12.2 55.0L11.5 54.9L10.8 54.8L10.0 54.6L9.2 54.5L8.4 54.4L7.6 54.3L7.5 54.2L6.8 54.1L6.1 54.0L5.3 53.9L4.5 53.8L3.7 53.7L2.9 53.5L2.5 53.5L2.1 53.4L1.4 53.3L0.6 53.2L-0.2 53.1L-1.0 53.0L-1.0 52.7L-1.0 51.9L-1.0 51.2L-1.0 50.4L-1.0 49.6L-1.0 48.9L-1.0 48.1L-1.0 47.3L-1.0 46.6L-1.0 45.8L-1.0 45.0L-1.0 44.3L-1.0 43.5L-1.0 42.7L-1.0 42.0L-1.0 41.2L-1.0 40.4L-1.0 39.7L-1.0 38.9L-1.0 38.1L-1.0 37.4L-1.0 36.6L-1.0 35.8L-1.0 35.1L-1.0 34.3L-1.0 33.5L-1.0 32.8L-1.0 32.0L-1.0 31.2L-1.0 30.5L-1.0 29.7L-1.0 28.9L-1.0 28.2L-1.0 27.4L-1.0 26.6L-1.0 25.9L-1.0 25.1L-1.0 24.3L-1.0 23.6L-1.0 22.8L-1.0 22.0L-1.0 21.2L-1.0 20.5L-1.0 19.7L-1.0 18.9L-1.0 18.2L-1.0 17.4L-1.0 16.6L-1.0 15.9L-1.0 15.1L-1.0 14.3L-1.0 13.6L-1.0 12.8L-1.0 12.0L-1.0 11.3L-1.0 10.5L-1.0 9.7L-1.0 9.0L-1.0 8.2L-1.0 7.4L-1.0 6.7L-1.0 5.9L-1.0 5.1L-1.0 4.4L-1.0 3.6L-1.0 2.8L-1.0 2.1L-1.0 1.3L-1.0 0.5L-1.0 -0.2L-1.0 -1.0Z" fill="#86bfc1"/>
<path d="M-0.2 -1.0L0.6 -1.0L1.4 -1.0L2.1 -1.0L2.9 -1.0L3.7 -1.0L4.5 -1.0L5.3 -1.0L6.1 -1.0L6.8 -1.0L7.6 -1.0L8.4 -1.0L9.2 -1.0L10.0 -1.0L10.8 -1.0L11.5 -1.0L12.3 -1.0L13.1 -1.0L13.9 -1.0L14.7 -1.0L15.5 -1.0L16.2 -1.0L17.0 -1.0L17.8 -1.0L18.6 -1.0L19.4 -1.0L20.2 -1.0L20.9 -1.0L21.7 -1.0L22.5 -1.0L23.3 -1.0L24.1 -1.0L24.9 -1.0L25.7 -1.0L26.4 -1.0L27.2 -1.0L28.0 -1.0L28.8 -1.0L29.6 -1.0L30.4 -1.0L31.1 -1.0L31.9 -1.0L32.7 -1.0L33.5 -1.0L34.3 -1.0L35.1 -1.0L35.8 -1.0L36.6 -1.0L37.4 -1.0L38.2 -1.0L39.0 -1.0L39.8 -1.0L40.5 -1.0L41.3 -1.0L42.1 -1.0L42.9 -1.0L43.7 -1.0L44.5 -1.0L45.3 -1.0L46.0 -1.0L46.8 -1.0L47.6 -1.0L48.4 -1.0L49.2 -1.0L50.0 -1.0L50.7 -1.0L51.5 -1.0L52.3 -1.0L53.1 -1.0L53.9 -1.0L54.7 -1.0L55.4 -1.0L56.2 -1.0L57.0 -1.0L57.8 -1.0L58.6 -1.0L59.4 -1.0L60.1 -1.0L60.9 -1.0L61.7 -1.0L62.5 -1.0L63.3 -1.0L64.1 -1.0L64.8 -1.0L65.6 -1.0L66.4 -1.0L67.2 -1.0L68.0 -1.0L68.8 -1.0L69.6 -1.0L70.3 -1.0L71.1 -1.0L71.9 -1.0L72.7 -1.0L73.5 -1.0L74.3 -1.0L75.0 -1.0L75.8 -1.0L76.6 -1.0L77.4 -1.0L78.2 -1.0L79.0 -1.0L79.7 -1.0L80.5 -1.0L81.3 -1.0L82.1 -1.0L82.9 -1.0L83.7 -1.0L84.4 -1.0L85.2 -1.0L86.0 -1.0L86.8 -1.0L87.6 -1.0L88.4 -1.0L89.2 -1.0L89.9 -1.0L90.7 -1.0L91.5 -1.0L92.3 -1.0L93.1 -1.0L93.9 -1.0L94.6 -1.0L95.4 -1.0L96.2 -1.0L97.0 -1.0L97.8 -1.0L98.6 -1.0L99.3 -1.0L100.1 -1.0L100.9 -1.0L101.7 -1.0L102.5 -1.0L103.3 -1.0L104.0 -1.0L104.8 -1.0L105.6 -1.0L106.4 -1.0L107.2 -1.0L108.0 -1.0L108.7 -1.0L109.5 -1.0L110.3 -1.0L111.1 -1.0L111.9 -1.0L112.7 -1.0L113.5 -1.0L114.2 -1.0L115.0 -1.0L115.8 -1.0L116.6 -1.0L117.4 -1.0L118.2 -1.0L118.9 -1.0L119.7 -1.0L120.5 -1.0L121.3 -1.0L122.1 -1.0L122.9 -1.0L123.6 -1.0L124.4 -1.0L125.2 -1.0L126.0 -1.0L126.8 -1.0L127.6 -1.0L128.3 -1.0L129.1 -1.0L129.9 -1.0L130.7 -1.0L131.5 -1.0L132.3 -1.0L133.1 -1.0L133.8 -1.0L134.6 -1.0L135.4 -1.0L136.2 -1.0L137.0 -1.0L137.8 -1.0L138.5 -1.0L139.3 -1.0L140.1 -1.0L140.9 -1.0L141.7 -1.0L142.5 -1.0L143.2 -1.0L144.0 -1.0L144.8 -1.0L145.6 -1.0L146.4 -1.0L147.2 -1.0L147.9 -1.0L148.7 -1.0L149.5 -1.0L150.3 -1.0L151.1 -1.0L151.9 -1.0L152.6 -1.0L153.4 -1.0L154.2 -1.0L155.0 -1.0L155.0 -0.2L155.0 0.5L155.0 1.3L155.0 2.1L155.0 2.8L155.0 3.6L155.0 4.4L155.0 5.1L155.0 5.9L155.0 6.7L155.0 7.4L155.0 8.2L155.0 9.0L155.0 9.7L155.0 10.5L155.0 11.3L155.0 12.0L155.0 12.8L155.0 13.6L155.0 14.3L155.0 15.1L155.0 15.9L155.0 16.6L155.0 17.4L155.0 18.2L155.0 18.9L155.0 19.7L155.0 20.5L155.0 21.2L155.0 22.0L155.0 22.8L155.0 23.6L155.0 24.3L155.0 25.1L155.0 25.9L155.0 26.6L155.0 27.4L155.0 28.2L155.0 28.9L155.0 29.7L155.0 30.5L155.0 31.2L155.0 32.0L155.0 32.8L155.0 33.5L155.0 34.3L155.0 35.1L155.0 35.8L155.0 36.6L155.0 37.4L155.0 38.1L155.0 38.9L155.0 39.7L155.0 40.4L155.0 41.2L155.0 42.0L155.0 42.7L155.0 43.5L155.0 44.3L155.0 45.0L155.0 45.8L155.0 46.6L155.0 47.3L155.0 48.1L155.0 48.9L155.0 49.6L155.0 50.4L155.0 51.2L155.0 51.9L155.0 52.7L155.0 53.5L155.0 54.2L155.0 55.0L155.0 55.8L155.0 56.5L155.0 57.3L155.0 58.1L155.0 58.8L155.0 59.6L155.0 60.4L155.0 61.1L155.0 61.9L155.0 62.7L155.0 63.4L155.0 64.2L155.0 65.0L155.0 65.7L155.0 66.5L155.0 67.3L155.0 68.0L155.0 68.8L155.0 69.6L155.0 70.3L155.0 71.1L155.0 71.9L155.0 72.7L155.0 73.4L155.0 74.2L155.0 75.0L155.0 75.7L155.0 76.5L155.0 77.3L155.0 78.0L155.0 78.8L155.0 79.6L155.0 80.3L155.0 81.1L155.0 81.9L155.0 82.6L155.0 83.4L155.0 84.2L155.0 84.9L155.0 85.7L155.0 86.5L155.0 87.2L155.0 88.0L155.0 88.8L155.0 89.2L154.2 88.8L154.2 88.8L153.4 88.4L152.6 88.0L152.6 88.0L151.9 87.6L151.1 87.3L151.0 87.2L150.3 86.9L149.5 86.5L149.4 86.5L148.7 86.2L147.9 85.8L147.7 85.7L147.2 85.4L146.4 85.1L146.1 84.9L145.6 84.7L144.8 84.4L144.4 84.2L144.0 84.0L143.2 83.6L142.7 83.4L142.5 83.3L141.7 82.9L141.0 82.6L140.9 82.6L140.1 82.2L139.3 81.9L139.2 81.9L138.5 81.6L137.8 81.2L137.4 81.1L137.0 80.9L136.2 80.6L135.6 80.3L135.4 80.2L134.6 79.9L133.8 79.6L133.8 79.6L133.1 79.2L132.3 78.9L132.0 78.8L131.5 78.6L130.7 78.3L130.1 78.0L129.9 77.9L129.1 77.6L128.3 77.3L128.2 77.3L127.6 77.0L126.8 76.7L126.3 76.5L126.0 76.4L125.2 76.0L124.4 75.7L124.4 75.7L123.6 75.4L122.9 75.1L122.4 75.0L122.1 74.8L121.3 74.5L120.5 74.2L120.4 74.2L119.7 73.9L118.9 73.6L118.4 73.4L118.2 73.3L117.4 73.0L116.6 72.7L116.3 72.7L115.8 72.5L115.0 72.2L114.3 71.9L114.2 71.9L113.5 71.6L112.7 71.3L112.1 71.1L111.9 71.0L111.1 70.7L110.3 70.5L110.0 70.3L109.5 70.2L108.7 69.9L108.0 69.6L107.8 69.6L107.2 69.4L106.4 69.1L105.6 68.8L105.6 68.8L104.8 68.6L104.0 68.3L103.3 68.0L103.3 68.0L102.5 67.8L101.7 67.5L101.1 67.3L100.9 67.2L100.1 67.0L99.3 66.7L98.7 66.5L98.6 66.5L97.8 66.2L97.0 66.0L96.4 65.7L96.2 65.7L95.4 65.4L94.6 65.2L93.9 65.0L93.9 64.9L93.1 64.7L92.3 64.5L91.5 64.2L91.5 64.2L90.7 64.0L89.9 63.7L89.2 63.5L89.0 63.4L88.4 63.3L87.6 63.0L86.8 62.8L86.5 62.7L86.0 62.5L85.2 62.3L84.4 62.1L83.9 61.9L83.7 61.9L82.9 61.6L82.1 61.4L81.3 61.2L81.2 61.1L80.5 60.9L79.7 60.7L79.0 60.5L78.5 60.4L78.2 60.3L77.4 60.1L76.6 59.8L75.8 59.6L75.8 59.6L75.0 59.4L74.3 59.2L73.5 59.0L73.0 58.8L72.7 58.8L71.9 58.6L71.1 58.3L70.3 58.1L70.1 58.1L69.6 57.9L68.8 57.7L68.0 57.5L67.2 57.3L67.1 57.3L66.4 57.1L65.6 56.9L64.8 56.7L64.1 56.5L64.1 56.5L63.3 56.3L62.5 56.1L61.7 55.9L61.1 55.8L60.9 55.7L60.1 55.5L59.4 55.4L58.6 55.2L57.9 55.0L57.8 55.0L57.0 54.8L56.2 54.6L55.4 54.4L54.7 54.2L54.7 54.2L53.9 54.1L53.1 53.9L52.3 53.7L51.5 53.5L51.3 53.5L50.7 53.3L50.0 53.2L49.2 53.0L48.4 52.8L47.9 52.7L47.6 52.6L46.8 52.5L46.0 52.3L45.3 52.1L44.5 52.0L44.4 51.9L43.7 51.8L42.9 51.6L42.1 51.5L41.3 51.3L40.8 51.2L40.5 51.1L39.8 51.0L39.0 50.8L38.2 50.6L37.4 50.5L37.0 50.4L36.6 50.3L35.8 50.2L35.1 50.0L34.3 49.9L33.5 49.7L33.1 49.6L32.7 49.6L31.9 49.4L31.1 49.3L30.4 49.1L29.6 49.0L29.1 48.9L28.8 48.8L28.0 48.7L27.2 48.5L26.4 48.4L25.7 48.2L24.9 48.1L24.9 48.1L24.1 48.0L23.3 47.8L22.5 47.7L21.7 47.5L20.9 47.4L20.5 47.3L20.2 47.3L19.4 47.1L18.6 47.0L17.8 46.9L17.0 46.7L16.2 46.6L16.0 46.6L15.5 46.5L14.7 46.4L13.9 46.2L13.1 46.1L12.3 46.0L11.5 45.9L11.2 45.8L10.8 45.7L10.0 45.6L9.2 45.5L8.4 45.4L7.6 45.3L6.8 45.1L6.2 45.0L6.1 45.0L5.3 44.9L4.5 44.8L3.7 44.7L2.9 44.6L2.1 44.4L1.4 44.3L0.8 44.3L0.6 44.2L-0.2 44.1L-1.0 44.0L-1.0 43.5L-1.0 42.7L-1.0 42.0L-1.0 41.2L-1.0 40.4L-1.0 39.7L-1.0 38.9L-1.0 38.1L-1.0 37.4L-1.0 36.6L-1.0 35.8L-1.0 35.1L-1.0 34.3L-1.0 33.5L-1.0 32.8L-1.0 32.0L-1.0 31.2L-1.0 30.5L-1.0 29.7L-1.0 28.9L-1.0 28.2L-1.0 27.4L-1.0 26.6L-1.0 25.9L-1.0 25.1L-1.0 24.3L-1.0 23.6L-1.0 22.8L-1.0 22.0L-1.0 21.2L-1.0 20.5L-1.0 19.7L-1.0 18.9L-1.0 18.2L-1.0 17.4L-1.0 16.6L-1.0 15.9L-1.0 15.1L-1.0 14.3L-1.0 13.6L-1.0 12.8L-1.0 12.0L-1.0 11.3L-1.0 10.5L-1.0 9.7L-1.0 9.0L-1.0 8.2L-1.0 7.4L-1.0 6.7L-1.0 5.9L-1.0 5.1L-1.0 4.4L-1.0 3.6L-1.0 2.8L-1.0 2.1L-1.0 1.3L-1.0 0.5L-1.0 -0.2L-1.0 -1.0Z" fill="#84c5bf"/>
<path d="M-0.2 -1.0L0.6 -1.0L1.4 -1.0L2.1 -1.0L2.9 -1.0L3.7 -1.0L4.5 -1.0L5.3 -1.0L6.1 -1.0L6.8 -1.0L7.6 -1.0L8.4 -1.0L9.2 -1.0L10.0 -1.0L10.8 -1.0L11.5 -1.0L12.3 -1.0L13.1 -1.0L13.9 -1.0L14.7 -1.0L15.5 -1.0L16.2 -1.0L17.0 -1.0L17.8 -1.0L18.6 -1.0L19.4 -1.0L20.2 -1.0L20.9 -1.0L21.7 -1.0L22.5 -1.0L23.3 -1.0L24.1 -1.0L24.9 -1.0L25.7 -1.0L26.4 -1.0L27.2 -1.0L28.0 -1.0L28.8 -1.0L29.6 -1.0L30.4 -1.0L31.1 -1.0L31.9 -1.0L32.7 -1.0L33.5 -1.0L34.3 -1.0L35.1 -1.0L35.8 -1.0L36.6 -1.0L37.4 -1.0L38.2 -1.0L39.0 -1.0L39.8 -1.0L40.5 -1.0L41.3 -1.0L42.1 -1.0L42.9 -1.0L43.7 -1.0L44.5 -1.0L45.3 -1.0L46.0 -1.0L46.8 -1.0L47.6 -1.0L48.4 -1.0L49.2 -1.0L50.0 -1.0L50.7 -1.0L51.5 -1.0L52.3 -1.0L53.1 -1.0L53.9 -1.0L54.7 -1.0L55.4 -1.0L56.2 -1.0L57.0 -1.0L57.8 -1.0L58.6 -1.0L59.4 -1.0L60.1 -1.0L60.9 -1.0L61.7 -1.0L62.5 -1.0L63.3 -1.0L64.1 -1.0L64.8 -1.0L65.6 -1.0L66.4 -1.0L67.2 -1.0L68.0 -1.0L68.8 -1.0L69.6 -1.0L70.3 -1.0L71.1 -1.0L71.9 -1.0L72.7 -1.0L73.5 -1.0L74.3 -1.0L75.0 -1.0L75.8 -1.0L76.6 -1.0L77.4 -1.0L78.2 -1.0L79.0 -1.0L79.7 -1.0L80.5 -1.0L81.3 -1.0L82.1 -1.0L82.9 -1.0L83.7 -1.0L84.4 -1.0L85.2 -1.0L86.0 -1.0L86.8 -1.0L87.6 -1.0L88.4 -1.0L89.2 -1.0L89.9 -1.0L90.7 -1.0L91.5 -1.0L92.3 -1.0L93.1 -1.0L93.9 -1.0L94.6 -1.0L95.4 -1.0L96.2 -1.0L97.0 -1.0L97.8 -1.0L98.6 -1.0L99.3 -1.0L100.1 -1.0L100.9 -1.0L101.7 -1.0L102.5 -1.0L103.3 -1.0L104.0 -1.0L104.8 -1.0L105.6 -1.0L106.4 -1.0L107.2 -1.0L108.0 -1.0L108.7 -1.0L109.5 -1.0L110.3 -1.0L111.1 -1.0L111.9 -1.0L112.7 -1.0L113.5 -1.0L114.2 -1.0L115.0 -1.0L115.8 -1.0L116.6 -1.0L117.4 -1.0L118.2 -1.0L118.9 -1.0L119.7 -1.0L120.5 -1.0L121.3 -1.0L122.1 -1.0L122.9 -1.0L123.6 -1.0L124.4 -1.0L125.2 -1.0L126.0 -1.0L126.8 -1.0L127.6 -1.0L128.3 -1.0L129.1 -1.0L129.9 -1.0L130.7 -1.0L131.5 -1.0L132.3 -1.0L133.1 -1.0L133.8 -1.0L134.6 -1.0L135.4 -1.0L136.2 -1.0L137.0 -1.0L137.8 -1.0L138.5 -1.0L139.3 -1.0L140.1 -1.0L140.9 -1.0L141.7 -1.0L142.5 -1.0L143.2 -1.0L144.0 -1.0L144.8 -1.0L145.6 -1.0L146.4 -1.0L147.2 -1.0L147.9 -1.0L148.7 -1.0L149.5 -1.0L150.3 -1.0L151.1 -1.0L151.9 -1.0L152.6 -1.0L153.4 -1.0L154.2 -1.0L155.0 -1.0L155.0 -0.2L155.0 0.5L155.0 1.3L155.0 2.1L155.0 2.8L155.0 3.6L155.0 4.4L155.0 5.1L155.0 5.9L155.0 6.7L155.0 7.4L155.0 8.2L155.0 9.0L155.0 9.7L155.0 10.5L155.0 11.3L155.0 12.0L155.0 12.8L155.0 13.6L155.0 14.3L155.0 15.1L155.0 15.9L155.0 16.6L155.0 17.4L155.0 18.2L155.0 18.9L155.0 19.7L155.0 20.5L155.0 21.2L155.0 22.0L155.0 22.8L155.0 23.6L155.0 24.3L155.0 25.1L155.0 25.9L155.0 26.6L155.0 27.4L155.0 28.2L155.0 28.9L155.0 29.7L155.0 30.5L155.0 31.2L155.0 32.0L155.0 32.8L155.0 33.5L155.0 34.3L155.0 35.1L155.0 35.8L155.0 36.6L155.0 37.4L155.0 38.1L155.0 38.9L155.0 39.7L155.0 40.4L155.0 41.2L155.0 42.0L155.0 42.7L155.0 43.5L155.0 44.3L155.0 45.0L155.0 45.8L155.0 46.6L155.0 47.3L155.0 48.1L155.0 48.9L155.0 49.6L155.0 50.4L155.0 51.2L155.0 51.9L155.0 52.7L155.0 53.5L155.0 54.2L155.0 55.0L155.0 55.8L155.0 56.5L155.0 57.3L155.0 58.1L155.0 58.8L155.0 59.6L155.0 60.4L155.0 61.1L155.0 61.9L155.0 62.7L155.0 63.4L155.0 64.2L155.0 65.0L155.0 65.7L155.0 66.5L155.0 67.3L155.0 68.0L155.0 68.8L155.0 69.6L155.0 70.3L155.0 71.1L155.0 71.9L155.0 72.7L155.0 73.4L155.0 74.2L155.0 75.0L155.0 75.7L155.0 76.5L155.0 77.3L155.0 78.0L154.2 77.6L153.5 77.3L153.4 77.2L152.6 76.9L151.9 76.5L151.7 76.5L151.1 76.2L150.3 75.8L150.0 75.7L149.5 75.5L148.7 75.2L148.2 75.0L147.9 74.8L147.2 74.5L146.5 74.2L146.4 74.1L145.6 73.8L144.8 73.5L144.7 73.4L144.0 73.1L143.2 72.8L142.8 72.7L142.5 72.5L141.7 72.2L141.0 71.9L140.9 71.8L140.1 71.5L139.3 71.2L139.1 71.1L138.5 70.9L137.8 70.6L137.2 70.3L137.0 70.2L136.2 69.9L135.4 69.6L135.3 69.6L134.6 69.3L133.8 69.0L133.4 68.8L133.1 68.7L132.3 68.4L131.5 68.1L131.4 68.0L130.7 67.8L129.9 67.5L129.4 67.3L129.1 67.2L128.3 66.9L127.6 66.6L127.4 66.5L126.8 66.3L126.0 66.0L125.3 65.7L125.2 65.7L124.4 65.4L123.6 65.1L123.2 65.0L122.9 64.8L122.1 64.6L121.3 64.3L121.1 64.2L120.5 64.0L119.7 63.7L119.0 63.4L118.9 63.4L118.2 63.2L117.4 62.9L116.8 62.7L116.6 62.6L115.8 62.3L115.0 62.1L114.6 61.9L114.2 61.8L113.5 61.5L112.7 61.2L112.4 61.1L111.9 61.0L111.1 60.7L110.3 60.5L110.1 60.4L109.5 60.2L108.7 59.9L108.0 59.7L107.8 59.6L107.2 59.4L106.4 59.2L105.6 58.9L105.4 58.8L104.8 58.7L104.0 58.4L103.3 58.1L103.0 58.1L102.5 57.9L101.7 57.7L100.9 57.4L100.6 57.3L100.1 57.2L99.3 56.9L98.6 56.7L98.1 56.5L97.8 56.4L97.0 56.2L96.2 56.0L95.6 55.8L95.4 55.7L94.6 55.5L93.9 55.2L93.1 55.0L93.0 55.0L92.3 54.8L91.5 54.6L90.7 54.3L90.4 54.2L89.9 54.1L89.2 53.9L88.4 53.6L87.8 53.5L87.6 53.4L86.8 53.2L86.0 53.0L85.2 52.8L85.1 52.7L84.4 52.5L83.7 52.3L82.9 52.1L82.3 51.9L82.1 51.9L81.3 51.7L80.5 51.5L79.7 51.2L79.5 51.2L79.0 51.0L78.2 50.8L77.4 50.6L76.6 50.4L76.6 50.4L75.8 50.2L75.0 50.0L74.3 49.8L73.6 49.6L73.5 49.6L72.7 49.4L71.9 49.2L71.1 49.0L70.6 48.9L70.3 48.8L69.6 48.6L68.8 48.4L68.0 48.2L67.5 48.1L67.2 48.0L66.4 47.8L65.6 47.6L64.8 47.4L64.4 47.3L64.1 47.3L63.3 47.1L62.5 46.9L61.7 46.7L61.2 46.6L60.9 46.5L60.1 46.3L59.4 46.1L58.6 46.0L57.8 45.8L57.8 45.8L57.0 45.6L56.2 45.4L55.4 45.3L54.7 45.1L54.4 45.0L53.9 44.9L53.1 44.7L52.3 44.6L51.5 44.4L50.9 44.3L50.7 44.2L50.0 44.1L49.2 43.9L48.4 43.7L47.6 43.6L47.3 43.5L46.8 43.4L46.0 43.2L45.3 43.1L44.5 42.9L43.7 42.7L43.6 42.7L42.9 42.6L42.1 42.4L41.3 42.3L40.5 42.1L39.8 42.0L39.7 42.0L39.0 41.8L38.2 41.7L37.4 41.5L36.6 41.4L35.8 41.2L35.8 41.2L35.1 41.1L34.3 40.9L33.5 40.8L32.7 40.6L31.9 40.5L31.6 40.4L31.1 40.3L30.4 40.2L29.6 40.1L28.8 39.9L28.0 39.8L27.4 39.7L27.2 39.6L26.4 39.5L25.7 39.4L24.9 39.2L24.1 39.1L23.3 39.0L22.9 38.9L22.5 38.8L21.7 38.7L20.9 38.6L20.2 38.4L19.4 38.3L18.6 38.2L18.2 38.1L17.8 38.1L17.0 37.9L16.2 37.8L15.5 37.7L14.7 37.6L13.9 37.4L13.3 37.4L13.1 37.3L12.3 37.2L11.5 37.1L10.8 37.0L10.0 36.9L9.2 36.7L8.4 36.6L8.2 36.6L7.6 36.5L6.8 36.4L6.1 36.3L5.3 36.2L4.5 36.1L3.7 36.0L2.9 35.9L2.7 35.8L2.1 35.7L1.4 35.6L0.6 35.5L-0.2 35.4L-1.0 35.3L-1.0 35.1L-1.0 34.3L-1.0 33.5L-1.0 32.8L-1.0 32.0L-1.0 31.2L-1.0 30.5L-1.0 29.7L-1.0 28.9L-1.0 28.2L-1.0 27.4L-1.0 26.6L-1.0 25.9L-1.0 25.1L-1.0 24.3L-1.0 23.6L-1.0 22.8L-1.0 22.0L-1.0 21.2L-1.0 20.5L-1.0 19.7L-1.0 18.9L-1.0 18.2L-1.0 17.4L-1.0 16.6L-1.0 15.9L-1.0 15.1L-1.0 14.3L-1.0 13.6L-1.0 12.8L-1.0 12.0L-1.0 11.3L-1.0 10.5L-1.0 9.7L-1.0 9.0L-1.0 8.2L-1.0 7.4L-1.0 6.7L-1.0 5.9L-1.0 5.1L-1.0 4.4L-1.0 3.6L-1.0 2.8L-1.0 2.1L-1.0 1.3L-1.0 0.5L-1.0 -0.2L-1.0 -1.0Z" fill="#84ccbd"/>
<path d="M-0.2 -1.0L0.6 -1.0L1.4 -1.0L2.1 -1.0L2.9 -1.0L3.7 -1.0L4.5 -1.0L5.3 -1.0L6.1 -1.0L6.8 -1.0L7.6 -1.0L8.4 -1.0L9.2 -1.0L10.0 -1.0L10.8 -1.0L11.5 -1.0L12.3 -1.0L13.1 -1.0L13.9 -1.0L14.7 -1.0L15.5 -1.0L16.2 -1.0L17.0 -1.0L17.8 -1.0L18.6 -1.0L19.4 -1.0L20.2 -1.0L20.9 -1.0L21.7 -1.0L22.5 -1.0L23.3 -1.0L24.1 -1.0L24.9 -1.0L25.7 -1.0L26.4 -1.0L27.2 -1.0L28.0 -1.0L28.8 -1.0L29.6 -1.0L30.4 -1.0L31.1 -1.0L31.9 -1.0L32.7 -1.0L33.5 -1.0L34.3 -1.0L35.1 -1.0L35.8 -1.0L36.6 -1.0L37.4 -1.0L38.2 -1.0L39.0 -1.0L39.8 -1.0L40.5 -1.0L41.3 -1.0L42.1 -1.0L42.9 -1.0L43.7 -1.0L44.5 -1.0L45.3 -1.0L46.0 -1.0L46.8 -1.0L47.6 -1.0L48.4 -1.0L49.2 -1.0L50.0 -1.0L50.7 -1.0L51.5 -1.0L52.3 -1.0L53.1 -1.0L53.9 -1.0L54.7 -1.0L55.4 -1.0L56.2 -1.0L57.0 -1.0L57.8 -1.0L58.6 -1.0L59.4 -1.0L60.1 -1.0L60.9 -1.0L61.7 -1.0L62.5 -1.0L63.3 -1.0L64.1 -1.0L64.8 -1.0L65.6 -1.0L66.4 -1.0L67.2 -1.0L68.0 -1.0L68.8 -1.0L69.6 -1.0L70.3 -1.0L71.1 -1.0L71.9 -1.0L72.7 -1.0L73.5 -1.0L74.3 -1.0L75.0 -1.0L75.8 -1.0L76.6 -1.0L77.4 -1.0L78.2 -1.0L79.0 -1.0L79.7 -1.0L80.5 -1.0L81.3 -1.0L82.1 -1.0L82.9 -1.0L83.7 -1.0L84.4 -1.0L85.2 -1.0L86.0 -1.0L86.8 -1.0L87.6 -1.0L88.4 -1.0L89.2 -1.0L89.9 -1.0L90.7 -1.0L91.5 -1.0L92.3 -1.0L93.1 -1.0L93.9 -1.0L94.6 -1.0L95.4 -1.0L96.2 -1.0L97.0 -1.0L97.8 -1.0L98.6 -1.0L99.3 -1.0L100.1 -1.0L100.9 -1.0L101.7 -1.0L102.5 -1.0L103.3 -1.0L104.0 -1.0L104.8 -1.0L105.6 -1.0L106.4 -1.0L107.2 -1.0L108.0 -1.0L108.7 -1.0L109.5 -1.0L110.3 -1.0L111.1 -1.0L111.9 -1.0L112.7 -1.0L113.5 -1.0L114.2 -1.0L115.0 -1.0L115.8 -1.0L116.6 -1.0L117.4 -1.0L118.2 -1.0L118.9 -1.0L119.7 -1.0L120.5 -1.0L121.3 -1.0L122.1 -1.0L122.9 -1.0L123.6 -1.0L124.4 -1.0L125.2 -1.0L126.0 -1.0L126.8 -1.0L127.6 -1.0L128.3 -1.0L129.1 -1.0L129.9 -1.0L130.7 -1.0L131.5 -1.0L132.3 -1.0L133.1 -1.0L133.8 -1.0L134.6 -1.0L135.4 -1.0L136.2 -1.0L137.0 -1.0L137.8 -1.0L138.5 -1.0L139.3 -1.0L140.1 -1.0L140.9 -1.0L141.7 -1.0L142.5 -1.0L143.2 -1.0L144.0 -1.0L144.8 -1.0L145.6 -1.0L146.4 -1.0L147.2 -1.0L147.9 -1.0L148.7 -1.0L149.5 -1.0L150.3 -1.0L151.1 -1.0L151.9 -1.0L152.6 -1.0L153.4 -1.0L154.2 -1.0L155.0 -1.0L155.0 -0.2L155.0 0.5L155.0 1.3L155.0 2.1L155.0 2.8L155.0 3.6L155.0 4.4L155.0 5.1L155.0 5.9L155.0 6.7L155.0 7.4L155.0 8.2L155.0 9.0L155.0 9.7L155.0 10.5L155.0 11.3L155.0 12.0L155.0 12.8L155.0 13.6L155.0 14.3L155.0 15.1L155.0 15.9L155.0 16.6L155.0 17.4L155.0 18.2L155.0 18.9L155.0 19.7L155.0 20.5L155.0 21.2L155.0 22.0L155.0 22.8L155.0 23.6L155.0 24.3L155.0 25.1L155.0 25.9L155.0 26.6L155.0 27.4L155.0 28.2L155.0 28.9L155.0 29.7L155.0 30.5L155.0 31.2L155.0 32.0L155.0 32.8L155.0 33.5L155.0 34.3L155.0 35.1L155.0 35.8L155.0 36.6L155.0 37.4L155.0 38.1L155.0 38.9L155.0 39.7L155.0 40.4L155.0 41.2L155.0 42.0L155.0 42.7L155.0 43.5L155.0 44.3L155.0 45.0L155.0 45.8L155.0 46.6L155.0 47.3L155.0 48.1L155.0 48.9L155.0 49.6L155.0 50.4L155.0 51.2L155.0 51.9L155.0 52.7L155.0 53.5L155.0 54.2L155.0 55.0L155.0 55.8L155.0 56.5L155.0 57.3L155.0 58.1L155.0 58.8L155.0 59.6L155.0 60.4L155.0 61.1L155.0 61.9L155.0 62.7L155.0 63.4L155.0 64.2L155.0 65.0L155.0 65.7L155.0 66.5L155.0 67.3L155.0 67.3L154.9 67.3L154.2 67.0L153.4 66.7L153.1 66.5L152.6 66.3L151.9 66.0L151.2 65.7L151.1 65.7L150.3 65.4L149.5 65.0L149.4 65.0L148.7 64.7L147.9 64.4L147.5 64.2L147.2 64.1L146.4 63.8L145.6 63.5L145.6 63.4L144.8 63.1L144.0 62.8L143.6 62.7L143.2 62.5L142.5 62.2L141.7 61.9L141.7 61.9L140.9 61.6L140.1 61.3L139.7 61.1L139.3 61.0L138.5 60.7L137.8 60.4L137.7 60.4L137.0 60.1L136.2 59.8L135.7 59.6L135.4 59.5L134.6 59.2L133.8 58.9L133.6 58.8L133.1 58.6L132.3 58.3L131.5 58.1L131.5 58.1L130.7 57.8L129.9 57.5L129.4 57.3L129.1 57.2L128.3 56.9L127.6 56.6L127.3 56.5L126.8 56.4L126.0 56.1L125.2 55.8L125.1 55.8L124.4 55.5L123.6 55.3L122.9 55.0L122.9 55.0L122.1 54.7L121.3 54.5L120.6 54.2L120.5 54.2L119.7 53.9L118.9 53.7L118.4 53.5L118.2 53.4L117.4 53.1L116.6 52.9L116.1 52.7L115.8 52.6L115.0 52.4L114.2 52.1L113.7 51.9L113.5 51.9L112.7 51.6L111.9 51.3L111.3 51.2L111.1 51.1L110.3 50.8L109.5 50.6L108.9 50.4L108.7 50.4L108.0 50.1L107.2 49.9L106.4 49.6L106.4 49.6L105.6 49.4L104.8 49.1L104.0 48.9L103.9 48.9L103.3 48.7L102.5 48.4L101.7 48.2L101.4 48.1L100.9 48.0L100.1 47.7L99.3 47.5L98.8 47.3L98.6 47.3L97.8 47.0L97.0 46.8L96.2 46.6L96.2 46.6L95.4 46.4L94.6 46.1L93.9 45.9L93.5 45.8L93.1 45.7L92.3 45.5L91.5 45.2L90.7 45.0L90.7 45.0L89.9 44.8L89.2 44.6L88.4 44.4L88.0 44.3L87.6 44.2L86.8 44.0L86.0 43.7L85.2 43.5L85.1 43.5L84.4 43.3L83.7 43.1L82.9 42.9L82.2 42.7L82.1 42.7L81.3 42.5L80.5 42.3L79.7 42.1L79.2 42.0L79.0 41.9L78.2 41.7L77.4 41.5L76.6 41.3L76.2 41.2L75.8 41.1L75.0 40.9L74.3 40.7L73.5 40.5L73.1 40.4L72.7 40.3L71.9 40.1L71.1 39.9L70.3 39.8L69.9 39.7L69.6 39.6L68.8 39.4L68.0 39.2L67.2 39.0L66.7 38.9L66.4 38.8L65.6 38.7L64.8 38.5L64.1 38.3L63.3 38.1L63.3 38.1L62.5 37.9L61.7 37.8L60.9 37.6L60.1 37.4L59.9 37.4L59.4 37.2L58.6 37.1L57.8 36.9L57.0 36.7L56.4 36.6L56.2 36.6L55.4 36.4L54.7 36.2L53.9 36.1L53.1 35.9L52.8 35.8L52.3 35.7L51.5 35.6L50.7 35.4L50.0 35.2L49.2 35.1L49.1 35.1L48.4 34.9L47.6 34.8L46.8 34.6L46.0 34.4L45.3 34.3L45.2 34.3L44.5 34.1L43.7 34.0L42.9 33.8L42.1 33.7L41.3 33.5L41.3 33.5L40.5 33.4L39.8 33.2L39.0 33.1L38.2 32.9L37.4 32.8L37.2 32.8L36.6 32.7L35.8 32.5L35.1 32.4L34.3 32.2L33.5 32.1L32.9 32.0L32.7 32.0L31.9 31.8L31.1 31.7L30.4 31.5L29.6 31.4L28.8 31.3L28.5 31.2L28.0 31.1L27.2 31.0L26.4 30.9L25.7 30.7L24.9 30.6L24.1 30.5L23.9 30.5L23.3 30.4L22.5 30.2L21.7 30.1L20.9 30.0L20.2 29.9L19.4 29.7L19.1 29.7L18.6 29.6L17.8 29.5L17.0 29.4L16.2 29.3L15.5 29.1L14.7 29.0L14.0 28.9L13.9 28.9L13.1 28.8L12.3 28.7L11.5 28.6L10.8 28.5L10.0 28.3L9.2 28.2L8.6 28.2L8.4 28.1L7.6 28.0L6.8 27.9L6.1 27.8L5.3 27.7L4.5 27.6L3.7 27.5L3.0 27.4L2.9 27.4L2.1 27.3L1.4 27.2L0.6 27.1L-0.2 27.0L-1.0 26.9L-1.0 26.6L-1.0 25.9L-1.0 25.1L-1.0 24.3L-1.0 23.6L-1.0 22.8L-1.0 22.0L-1.0 21.2L-1.0 20.5L-1.0 19.7L-1.0 18.9L-1.0 18.2L-1.0 17.4L-1.0 16.6L-1.0 15.9L-1.0 15.1L-1.0 14.3L-1.0 13.6L-1.0 12.8L-1.0 12.0L-1.0 11.3L-1.0 10.5L-1.0 9.7L-1.0 9.0L-1.0 8.2L-1.0 7.4L-1.0 6.7L-1.0 5.9L-1.0 5.1L-1.0 4.4L-1.0 3.6L-1.0 2.8L-1.0 2.1L-1.0 1.3L-1.0 0.5L-1.0 -0.2L-1.0 -1.0Z" fill="#89d3b9"/>
<path d="M-0.2 -1.0L0.6 -1.0L1.4 -1.0L2.1 -1.0L2.9 -1.0L3.7 -1.0L4.5 -1.0L5.3 -1.0L6.1 -1.0L6.8 -1.0L7.6 -1.0L8.4 -1.0L9.2 -1.0L10.0 -1.0L10.8 -1.0L11.5 -1.0L12.3 -1.0L13.1 -1.0L13.9 -1.0L14.7 -1.0L15.5 -1.0L16.2 -1.0L17.0 -1.0L17.8 -1.0L18.6 -1.0L19.4 -1.0L20.2 -1.0L20.9 -1.0L21.7 -1.0L22.5 -1.0L23.3 -1.0L24.1 -1.0L24.9 -1.0L25.7 -1.0L26.4 -1.0L27.2 -1.0L28.0 -1.0L28.8 -1.0L29.6 -1.0L30.4 -1.0L31.1 -1.0L31.9 -1.0L32.7 -1.0L33.5 -1.0L34.3 -1.0L35.1 -1.0L35.8 -1.0L36.6 -1.0L37.4 -1.0L38.2 -1.0L39.0 -1.0L39.8 -1.0L40.5 -1.0L41.3 -1.0L42.1 -1.0L42.9 -1.0L43.7 -1.0L44.5 -1.0L45.3 -1.0L46.0 -1.0L46.8 -1.0L47.6 -1.0L48.4 -1.0L49.2 -1.0L50.0 -1.0L50.7 -1.0L51.5 -1.0L52.3 -1.0L53.1 -1.0L53.9 -1.0L54.7 -1.0L55.4 -1.0L56.2 -1.0L57.0 -1.0L57.8 -1.0L58.6 -1.0L59.4 -1.0L60.1 -1.0L60.9 -1.0L61.7 -1.0L62.5 -1.0L63.3 -1.0L64.1 -1.0L64.8 -1.0L65.6 -1.0L66.4 -1.0L67.2 -1.0L68.0 -1.0L68.8 -1.0L69.6 -1.0L70.3 -1.0L71.1 -1.0L71.9 -1.0L72.7 -1.0L73.5 -1.0L74.3 -1.0L75.0 -1.0L75.8 -1.0L76.6 -1.0L77.4 -1.0L78.2 -1.0L79.0 -1.0L79.7 -1.0L80.5 -1.0L81.3 -1.0L82.1 -1.0L82.9 -1.0L83.7 -1.0L84.4 -1.0L85.2 -1.0L86.0 -1.0L86.8 -1.0L87.6 -1.0L88.4 -1.0L89.2 -1.0L89.9 -1.0L90.7 -1.0L91.5 -1.0L92.3 -1.0L93.1 -1.0L93.9 -1.0L94.6 -1.0L95.4 -1.0L96.2 -1.0L97.0 -1.0L97.8 -1.0L98.6 -1.0L99.3 -1.0L100.1 -1.0L100.9 -1.0L101.7 -1.0L102.5 -1.0L103.3 -1.0L104.0 -1.0L104.8 -1.0L105.6 -1.0L106.4 -1.0L107.2 -1.0L108.0 -1.0L108.7 -1.0L109.5 -1.0L110.3 -1.0L111.1 -1.0L111.9 -1.0L112.7 -1.0L113.5 -1.0L114.2 -1.0L115.0 -1.0L115.8 -1.0L116.6 -1.0L117.4 -1.0L118.2 -1.0L118.9 -1.0L119.7 -1.0L120.5 -1.0L121.3 -1.0L122.1 -1.0L122.9 -1.0L123.6 -1.0L124.4 -1.0L125.2 -1.0L126.0 -1.0L126.8 -1.0L127.6 -1.0L128.3 -1.0L129.1 -1.0L129.9 -1.0L130.7 -1.0L131.5 -1.0L132.3 -1.0L133.1 -1.0L133.8 -1.0L134.6 -1.0L135.4 -1.0L136.2 -1.0L137.0 -1.0L137.8 -1.0L138.5 -1.0L139.3 -1.0L140.1 -1.0L140.9 -1.0L141.7 -1.0L142.5 -1.0L143.2 -1.0L144.0 -1.0L144.8 -1.0L145.6 -1.0L146.4 -1.0L147.2 -1.0L147.9 -1.0L148.7 -1.0L149.5 -1.0L150.3 -1.0L151.1 -1.0L151.9 -1.0L152.6 -1.0L153.4 -1.0L154.2 -1.0L155.0 -1.0L155.0 -0.2L155.0 0.5L155.0 1.3L155.0 2.1L155.0 2.8L155.0 3.6L155.0 4.4L155.0 5.1L155.0 5.9L155.0 6.7L155.0 7.4L155.0 8.2L155.0 9.0L155.0 9.7L155.0 10.5L155.0 11.3L155.0 12.0L155.0 12.8L155.0 13.6L155.0 14.3L155.0 15.1L155.0 15.9L155.0 16.6L155.0 17.4L155.0 18.2L155.0 18.9L155.0 19.7L155.0 20.5L155.0 21.2L155.0 22.0L155.0 22.8L155.0 23.6L155.0 24.3L155.0 25.1L155.0 25.9L155.0 26.6L155.0 27.4L155.0 28.2L155.0 28.9L155.0 29.7L155.0 30.5L155.0 31.2L155.0 32.0L155.0 32.8L155.0 33.5L155.0 34.3L155.0 35.1L155.0 35.8L155.0 36.6L155.0 37.4L155.0 38.1L155.0 38.9L155.0 39.7L155.0 40.4L155.0 41.2L155.0 42.0L155.0 42.7L155.0 43.5L155.0 44.3L155.0 45.0L155.0 45.8L155.0 46.6L155.0 47.3L155.0 48.1L155.0 48.9L155.0 49.6L155.0 50.4L155.0 51.2L155.0 51.9L155.0 52.7L155.0 53.5L155.0 54.2L155.0 55.0L155.0 55.8L155.0 56.5L155.0 57.2L154.2 56.9L153.4 56.6L153.3 56.5L152.6 56.3L151.9 56.0L151.4 55.8L151.1 55.7L150.3 55.4L149.5 55.0L149.4 55.0L148.7 54.7L147.9 54.4L147.4 54.2L147.2 54.1L146.4 53.8L145.6 53.5L145.4 53.5L144.8 53.2L144.0 53.0L143.4 52.7L143.2 52.7L142.5 52.4L141.7 52.1L141.3 51.9L140.9 51.8L140.1 51.5L139.3 51.2L139.2 51.2L138.5 50.9L137.8 50.7L137.1 50.4L137.0 50.4L136.2 50.1L135.4 49.8L134.9 49.6L134.6 49.5L133.8 49.3L133.1 49.0L132.7 48.9L132.3 48.7L131.5 48.4L130.7 48.2L130.5 48.1L129.9 47.9L129.1 47.6L128.3 47.4L128.3 47.3L127.6 47.1L126.8 46.8L126.0 46.6L126.0 46.6L125.2 46.3L124.4 46.0L123.7 45.8L123.6 45.8L122.9 45.5L122.1 45.3L121.3 45.0L121.3 45.0L120.5 44.8L119.7 44.5L118.9 44.3L118.9 44.3L118.2 44.0L117.4 43.8L116.6 43.5L116.5 43.5L115.8 43.3L115.0 43.0L114.2 42.8L114.1 42.7L113.5 42.5L112.7 42.3L111.9 42.1L111.6 42.0L111.1 41.8L110.3 41.6L109.5 41.3L109.0 41.2L108.7 41.1L108.0 40.9L107.2 40.6L106.4 40.4L106.4 40.4L105.6 40.2L104.8 40.0L104.0 39.7L103.8 39.7L103.3 39.5L102.5 39.3L101.7 39.1L101.1 38.9L100.9 38.8L100.1 38.6L99.3 38.4L98.6 38.2L98.4 38.1L97.8 37.9L97.0 37.7L96.2 37.5L95.6 37.4L95.4 37.3L94.6 37.1L93.9 36.9L93.1 36.7L92.8 36.6L92.3 36.5L91.5 36.2L90.7 36.0L89.9 35.8L89.9 35.8L89.2 35.6L88.4 35.4L87.6 35.2L87.0 35.1L86.8 35.0L86.0 34.8L85.2 34.6L84.4 34.4L84.0 34.3L83.7 34.2L82.9 34.0L82.1 33.8L81.3 33.6L80.9 33.5L80.5 33.4L79.7 33.2L79.0 33.0L78.2 32.9L77.8 32.8L77.4 32.7L76.6 32.5L75.8 32.3L75.0 32.1L74.6 32.0L74.3 31.9L73.5 31.7L72.7 31.5L71.9 31.4L71.3 31.2L71.1 31.2L70.3 31.0L69.6 30.8L68.8 30.6L68.0 30.5L67.9 30.5L67.2 30.3L66.4 30.1L65.6 29.9L64.8 29.8L64.5 29.7L64.1 29.6L63.3 29.4L62.5 29.3L61.7 29.1L60.9 28.9L60.9 28.9L60.1 28.8L59.4 28.6L58.6 28.4L57.8 28.3L57.3 28.2L57.0 28.1L56.2 27.9L55.4 27.8L54.7 27.6L53.9 27.5L53.6 27.4L53.1 27.3L52.3 27.1L51.5 27.0L50.7 26.8L50.0 26.7L49.7 26.6L49.2 26.5L48.4 26.4L47.6 26.2L46.8 26.1L46.0 25.9L45.7 25.9L45.3 25.8L44.5 25.6L43.7 25.5L42.9 25.3L42.1 25.2L41.6 25.1L41.3 25.0L40.5 24.9L39.8 24.8L39.0 24.6L38.2 24.5L37.4 24.3L37.3 24.3L36.6 24.2L35.8 24.1L35.1 23.9L34.3 23.8L33.5 23.7L32.9 23.6L32.7 23.5L31.9 23.4L31.1 23.3L30.4 23.1L29.6 23.0L28.8 22.9L28.3 22.8L28.0 22.7L27.2 22.6L26.4 22.5L25.7 22.4L24.9 22.2L24.1 22.1L23.5 22.0L23.3 22.0L22.5 21.9L21.7 21.7L20.9 21.6L20.2 21.5L19.4 21.4L18.6 21.3L18.4 21.2L17.8 21.2L17.0 21.0L16.2 20.9L15.5 20.8L14.7 20.7L13.9 20.6L13.1 20.5L13.1 20.5L12.3 20.4L11.5 20.3L10.8 20.2L10.0 20.0L9.2 19.9L8.4 19.8L7.6 19.7L7.5 19.7L6.8 19.6L6.1 19.5L5.3 19.4L4.5 19.3L3.7 19.2L2.9 19.1L2.1 19.0L1.5 18.9L1.4 18.9L0.6 18.8L-0.2 18.7L-1.0 18.6L-1.0 18.2L-1.0 17.4L-1.0 16.6L-1.0 15.9L-1.0 15.1L-1.0 14.3L-1.0 13.6L-1.0 12.8L-1.0 12.0L-1.0 11.3L-1.0 10.5L-1.0 9.7L-1.0 9.0L-1.0 8.2L-1.0 7.4L-1.0 6.7L-1.0 5.9L-1.0 5.1L-1.0 4.4L-1.0 3.6L-1.0 2.8L-1.0 2.1L-1.0 1.3L-1.0 0.5L-1.0 -0.2L-1.0 -1.0Z" fill="#92d9b4"/>
<path d="M-0.2 -1.0L0.6 -1.0L1.4 -1.0L2.1 -1.0L2.9 -1.0L3.7 -1.0L4.5 -1.0L5.3 -1.0L6.1 -1.0L6.8 -1.0L7.6 -1.0L8.4 -1.0L9.2 -1.0L10.0 -1.0L10.8 -1.0L11.5 -1.0L12.3 -1.0L13.1 -1.0L13.9 -1.0L14.7 -1.0L15.5 -1.0L16.2 -1.0L17.0 -1.0L17.8 -1.0L18.6 -1.0L19.4 -1.0L20.2 -1.0L20.9 -1.0L21.7 -1.0L22.5 -1.0L23.3 -1.0L24.1 -1.0L24.9 -1.0L25.7 -1.0L26.4 -1.0L27.2 -1.0L28.0 -1.0L28.8 -1.0L29.6 -1.0L30.4 -1.0L31.1 -1.0L31.9 -1.0L32.7 -1.0L33.5 -1.0L34.3 -1.0L35.1 -1.0L35.8 -1.0L36.6 -1.0L37.4 -1.0L38.2 -1.0L39.0 -1.0L39.8 -1.0L40.5 -1.0L41.3 -1.0L42.1 -1.0L42.9 -1.0L43.7 -1.0L44.5 -1.0L45.3 -1.0L46.0 -1.0L46.8 -1.0L47.6 -1.0L48.4 -1.0L49.2 -1.0L50.0 -1.0L50.7 -1.0L51.5 -1.0L52.3 -1.0L53.1 -1.0L53.9 -1.0L54.7 -1.0L55.4 -1.0L56.2 -1.0L57.0 -1.0L57.8 -1.0L58.6 -1.0L59.4 -1.0L60.1 -1.0L60.9 -1.0L61.7 -1.0L62.5 -1.0L63.3 -1.0L64.1 -1.0L64.8 -1.0L65.6 -1.0L66.4 -1.0L67.2 -1.0L68.0 -1.0L68.8 -1.0L69.6 -1.0L70.3 -1.0L71.1 -1.0L71.9 -1.0L72.7 -1.0L73.5 -1.0L74.3 -1.0L75.0 -1.0L75.8 -1.0L76.6 -1.0L77.4 -1.0L78.2 -1.0L79.0 -1.0L79.7 -1.0L80.5 -1.0L81.3 -1.0L82.1 -1.0L82.9 -1.0L83.7 -1.0L84.4 -1.0L85.2 -1.0L86.0 -1.0L86.8 -1.0L87.6 -1.0L88.4 -1.0L89.2 -1.0L89.9 -1.0L90.7 -1.0L91.5 -1.0L92.3 -1.0L93.1 -1.0L93.9 -1.0L94.6 -1.0L95.4 -1.0L96.2 -1.0L97.0 -1.0L97.8 -1.0L98.6 -1.0L99.3 -1.0L100.1 -1.0L100.9 -1.0L101.7 -1.0L102.5 -1.0L103.3 -1.0L104.0 -1.0L104.8 -1.0L105.6 -1.0L106.4 -1.0L107.2 -1.0L108.0 -1.0L108.7 -1.0L109.5 -1.0L110.3 -1.0L111.1 -1.0L111.9 -1.0L112.7 -1.0L113.5 -1.0L114.2 -1.0L115.0 -1.0L115.8 -1.0L116.6 -1.0L117.4 -1.0L118.2 -1.0L118.9 -1.0L119.7 -1.0L120.5 -1.0L121.3 -1.0L122.1 -1.0L122.9 -1.0L123.6 -1.0L124.4 -1.0L125.2 -1.0L126.0 -1.0L126.8 -1.0L127.6 -1.0L128.3 -1.0L129.1 -1.0L129.9 -1.0L130.7 -1.0L131.5 -1.0L132.3 -1.0L133.1 -1.0L133.8 -1.0L134.6 -1.0L135.4 -1.0L136.2 -1.0L137.0 -1.0L137.8 -1.0L138.5 -1.0L139.3 -1.0L140.1 -1.0L140.9 -1.0L141.7 -1.0L142.5 -1.0L143.2 -1.0L144.0 -1.0L144.8 -1.0L145.6 -1.0L146.4 -1.0L147.2 -1.0L147.9 -1.0L148.7 -1.0L149.5 -1.0L150.3 -1.0L151.1 -1.0L151.9 -1.0L152.6 -1.0L153.4 -1.0L154.2 -1.0L155.0 -1.0L155.0 -0.2L155.0 0.5L155.0 1.3L155.0 2.1L155.0 2.8L155.0 3.6L155.0 4.4L155.0 5.1L155.0 5.9L155.0 6.7L155.0 7.4L155.0 8.2L155.0 9.0L155.0 9.7L155.0 10.5L155.0 11.3L155.0 12.0L155.0 12.8L155.0 13.6L155.0 14.3L155.0 15.1L155.0 15.9L155.0 16.6L155.0 17.4L155.0 18.2L155.0 18.9L155.0 19.7L155.0 20.5L155.0 21.2L155.0 22.0L155.0 22.8L155.0 23.6L155.0 24.3L155.0 25.1L155.0 25.9L155.0 26.6L155.0 27.4L155.0 28.2L155.0 28.9L155.0 29.7L155.0 30.5L155.0 31.2L155.0 32.0L155.0 32.8L155.0 33.5L155.0 34.3L155.0 35.1L155.0 35.8L155.0 36.6L155.0 37.4L155.0 38.1L155.0 38.9L155.0 39.7L155.0 40.4L155.0 41.2L155.0 42.0L155.0 42.7L155.0 43.5L155.0 44.3L155.0 45.0L155.0 45.8L155.0 46.6L155.0 47.3L155.0 47.5L154.5 47.3L154.2 47.2L153.4 46.9L152.6 46.6L152.5 46.6L151.9 46.3L151.1 46.0L150.4 45.8L150.3 45.7L149.5 45.5L148.7 45.2L148.4 45.0L147.9 44.9L147.2 44.6L146.4 44.3L146.3 44.3L145.6 44.0L144.8 43.7L144.1 43.5L144.0 43.5L143.2 43.2L142.5 42.9L141.9 42.7L141.7 42.6L140.9 42.4L140.1 42.1L139.7 42.0L139.3 41.8L138.5 41.5L137.8 41.3L137.5 41.2L137.0 41.0L136.2 40.7L135.4 40.5L135.3 40.4L134.6 40.2L133.8 39.9L133.1 39.7L133.0 39.7L132.3 39.4L131.5 39.2L130.7 38.9L130.7 38.9L129.9 38.7L129.1 38.4L128.3 38.1L128.3 38.1L127.6 37.9L126.8 37.6L126.0 37.4L125.9 37.4L125.2 37.1L124.4 36.9L123.6 36.6L123.5 36.6L122.9 36.4L122.1 36.2L121.3 35.9L121.0 35.8L120.5 35.7L119.7 35.4L118.9 35.2L118.5 35.1L118.2 35.0L117.4 34.7L116.6 34.5L116.0 34.3L115.8 34.2L115.0 34.0L114.2 33.8L113.5 33.5L113.4 33.5L112.7 33.3L111.9 33.1L111.1 32.9L110.8 32.8L110.3 32.6L109.5 32.4L108.7 32.2L108.1 32.0L108.0 32.0L107.2 31.7L106.4 31.5L105.6 31.3L105.4 31.2L104.8 31.1L104.0 30.9L103.3 30.6L102.6 30.5L102.5 30.4L101.7 30.2L100.9 30.0L100.1 29.8L99.8 29.7L99.3 29.6L98.6 29.4L97.8 29.2L97.0 28.9L96.9 28.9L96.2 28.7L95.4 28.5L94.6 28.3L94.0 28.2L93.9 28.1L93.1 27.9L92.3 27.7L91.5 27.5L91.0 27.4L90.7 27.3L89.9 27.1L89.2 26.9L88.4 26.7L87.9 26.6L87.6 26.5L86.8 26.3L86.0 26.1L85.2 26.0L84.8 25.9L84.4 25.8L83.7 25.6L82.9 25.4L82.1 25.2L81.6 25.1L81.3 25.0L80.5 24.8L79.7 24.6L79.0 24.5L78.4 24.3L78.2 24.3L77.4 24.1L76.6 23.9L75.8 23.7L75.1 23.6L75.0 23.5L74.3 23.4L73.5 23.2L72.7 23.0L71.9 22.8L71.6 22.8L71.1 22.7L70.3 22.5L69.6 22.3L68.8 22.2L68.2 22.0L68.0 22.0L67.2 21.8L66.4 21.6L65.6 21.5L64.8 21.3L64.6 21.2L64.1 21.1L63.3 21.0L62.5 20.8L61.7 20.7L60.9 20.5L60.9 20.5L60.1 20.3L59.4 20.2L58.6 20.0L57.8 19.9L57.1 19.7L57.0 19.7L56.2 19.5L55.4 19.4L54.7 19.2L53.9 19.1L53.2 18.9L53.1 18.9L52.3 18.8L51.5 18.6L50.7 18.5L50.0 18.3L49.2 18.2L49.2 18.2L48.4 18.0L47.6 17.9L46.8 17.7L46.0 17.6L45.3 17.5L45.0 17.4L44.5 17.3L43.7 17.2L42.9 17.0L42.1 16.9L41.3 16.8L40.7 16.6L40.5 16.6L39.8 16.5L39.0 16.4L38.2 16.2L37.4 16.1L36.6 16.0L36.2 15.9L35.8 15.8L35.1 15.7L34.3 15.6L33.5 15.4L32.7 15.3L31.9 15.2L31.5 15.1L31.1 15.0L30.4 14.9L29.6 14.8L28.8 14.7L28.0 14.5L27.2 14.4L26.7 14.3L26.4 14.3L25.7 14.2L24.9 14.1L24.1 13.9L23.3 13.8L22.5 13.7L21.7 13.6L21.6 13.6L20.9 13.5L20.2 13.4L19.4 13.3L18.6 13.1L17.8 13.0L17.0 12.9L16.3 12.8L16.2 12.8L15.5 12.7L14.7 12.6L13.9 12.5L13.1 12.4L12.3 12.3L11.5 12.2L10.8 12.1L10.6 12.0L10.0 12.0L9.2 11.9L8.4 11.8L7.6 11.7L6.8 11.6L6.1 11.5L5.3 11.4L4.6 11.3L4.5 11.3L3.7 11.2L2.9 11.1L2.1 11.0L1.4 10.9L0.6 10.8L-0.2 10.7L-1.0 10.6L-1.0 10.5L-1.0 9.7L-1.0 9.0L-1.0 8.2L-1.0 7.4L-1.0 6.7L-1.0 5.9L-1.0 5.1L-1.0 4.4L-1.0 3.6L-1.0 2.8L-1.0 2.1L-1.0 1.3L-1.0 0.5L-1.0 -0.2L-1.0 -1.0Z" fill="#9edead"/>
<path d="M-0.2 -1.0L0.6 -1.0L1.4 -1.0L2.1 -1.0L2.9 -1.0L3.7 -1.0L4.5 -1.0L5.3 -1.0L6.1 -1.0L6.8 -1.0L7.6 -1.0L8.4 -1.0L9.2 -1.0L10.0 -1.0L10.8 -1.0L11.5 -1.0L12.3 -1.0L13.1 -1.0L13.9 -1.0L14.7 -1.0L15.5 -1.0L16.2 -1.0L17.0 -1.0L17.8 -1.0L18.6 -1.0L19.4 -1.0L20.2 -1.0L20.9 -1.0L21.7 -1.0L22.5 -1.0L23.3 -1.0L24.1 -1.0L24.9 -1.0L25.7 -1.0L26.4 -1.0L27.2 -1.0L28.0 -1.0L28.8 -1.0L29.6 -1.0L30.4 -1.0L31.1 -1.0L31.9 -1.0L32.7 -1.0L33.5 -1.0L34.3 -1.0L35.1 -1.0L35.8 -1.0L36.6 -1.0L37.4 -1.0L38.2 -1.0L39.0 -1.0L39.8 -1.0L40.5 -1.0L41.3 -1.0L42.1 -1.0L42.9 -1.0L43.7 -1.0L44.5 -1.0L45.3 -1.0L46.0 -1.0L46.8 -1.0L47.6 -1.0L48.4 -1.0L49.2 -1.0L50.0 -1.0L50.7 -1.0L51.5 -1.0L52.3 -1.0L53.1 -1.0L53.9 -1.0L54.7 -1.0L55.4 -1.0L56.2 -1.0L57.0 -1.0L57.8 -1.0L58.6 -1.0L59.4 -1.0L60.1 -1.0L60.9 -1.0L61.7 -1.0L62.5 -1.0L63.3 -1.0L64.1 -1.0L64.8 -1.0L65.6 -1.0L66.4 -1.0L67.2 -1.0L68.0 -1.0L68.8 -1.0L69.6 -1.0L70.3 -1.0L71.1 -1.0L71.9 -1.0L72.7 -1.0L73.5 -1.0L74.3 -1.0L75.0 -1.0L75.8 -1.0L76.6 -1.0L77.4 -1.0L78.2 -1.0L79.0 -1.0L79.7 -1.0L80.5 -1.0L81.3 -1.0L82.1 -1.0L82.9 -1.0L83.7 -1.0L84.4 -1.0L85.2 -1.0L86.0 -1.0L86.8 -1.0L87.6 -1.0L88.4 -1.0L89.2 -1.0L89.9 -1.0L90.7 -1.0L91.5 -1.0L92.3 -1.0L93.1 -1.0L93.9 -1.0L94.6 -1.0L95.4 -1.0L96.2 -1.0L97.0 -1.0L97.8 -1.0L98.6 -1.0L99.3 -1.0L100.1 -1.0L100.9 -1.0L101.7 -1.0L102.5 -1.0L103.3 -1.0L104.0 -1.0L104.8 -1.0L105.6 -1.0L106.4 -1.0L107.2 -1.0L108.0 -1.0L108.7 -1.0L109.5 -1.0L110.3 -1.0L111.1 -1.0L111.9 -1.0L112.7 -1.0L113.5 -1.0L114.2 -1.0L115.0 -1.0L115.8 -1.0L116.6 -1.0L117.4 -1.0L118.2 -1.0L118.9 -1.0L119.7 -1.0L120.5 -1.0L121.3 -1.0L122.1 -1.0L122.9 -1.0L123.6 -1.0L124.4 -1.0L125.2 -1.0L126.0 -1.0L126.8 -1.0L127.6 -1.0L128.3 -1.0L129.1 -1.0L129.9 -1.0L130.7 -1.0L131.5 -1.0L132.3 -1.0L133.1 -1.0L133.8 -1.0L134.6 -1.0L135.4 -1.0L136.2 -1.0L137.0 -1.0L137.8 -1.0L138.5 -1.0L139.3 -1.0L140.1 -1.0L140.9 -1.0L141.7 -1.0L142.5 -1.0L143.2 -1.0L144.0 -1.0L144.8 -1.0L145.6 -1.0L146.4 -1.0L147.2 -1.0L147.9 -1.0L148.7 -1.0L149.5 -1.0L150.3 -1.0L151.1 -1.0L151.9 -1.0L152.6 -1.0L153.4 -1.0L154.2 -1.0L155.0 -1.0L155.0 -0.2L155.0 0.5L155.0 1.3L155.0 2.1L155.0 2.8L155.0 3.6L155.0 4.4L155.0 5.1L155.0 5.9L155.0 6.7L155.0 7.4L155.0 8.2L155.0 9.0L155.0 9.7L155.0 10.5L155.0 11.3L155.0 12.0L155.0 12.8L155.0 13.6L155.0 14.3L155.0 15.1L155.0 15.9L155.0 16.6L155.0 17.4L155.0 18.2L155.0 18.9L155.0 19.7L155.0 20.5L155.0 21.2L155.0 22.0L155.0 22.8L155.0 23.6L155.0 24.3L155.0 25.1L155.0 25.9L155.0 26.6L155.0 27.4L155.0 28.2L155.0 28.9L155.0 29.7L155.0 30.5L155.0 31.2L155.0 32.0L155.0 32.8L155.0 33.5L155.0 34.3L155.0 35.1L155.0 35.8L155.0 36.6L155.0 37.4L155.0 38.1L155.0 38.2L154.9 38.1L154.2 37.9L153.4 37.6L152.8 37.4L152.6 37.3L151.9 37.0L151.1 36.8L150.6 36.6L150.3 36.5L149.5 36.2L148.7 35.9L148.4 35.8L147.9 35.7L147.2 35.4L146.4 35.1L146.2 35.1L145.6 34.8L144.8 34.6L144.0 34.3L144.0 34.3L143.2 34.0L142.5 33.8L141.7 33.5L141.7 33.5L140.9 33.3L140.1 33.0L139.4 32.8L139.3 32.7L138.5 32.5L137.8 32.2L137.0 32.0L137.0 32.0L136.2 31.7L135.4 31.5L134.7 31.2L134.6 31.2L133.8 31.0L133.1 30.7L132.3 30.5L132.3 30.5L131.5 30.2L130.7 30.0L129.9 29.7L129.8 29.7L129.1 29.5L128.3 29.2L127.6 29.0L127.4 28.9L126.8 28.7L126.0 28.5L125.2 28.3L124.8 28.2L124.4 28.0L123.6 27.8L122.9 27.6L122.3 27.4L122.1 27.3L121.3 27.1L120.5 26.9L119.7 26.6L119.7 26.6L118.9 26.4L118.2 26.2L117.4 25.9L117.1 25.9L116.6 25.7L115.8 25.5L115.0 25.3L114.4 25.1L114.2 25.0L113.5 24.8L112.7 24.6L111.9 24.4L111.7 24.3L111.1 24.2L110.3 23.9L109.5 23.7L108.9 23.6L108.7 23.5L108.0 23.3L107.2 23.1L106.4 22.9L106.1 22.8L105.6 22.7L104.8 22.5L104.0 22.2L103.3 22.0L103.2 22.0L102.5 21.8L101.7 21.6L100.9 21.4L100.3 21.2L100.1 21.2L99.3 21.0L98.6 20.8L97.8 20.6L97.3 20.5L97.0 20.4L96.2 20.2L95.4 20.0L94.6 19.8L94.2 19.7L93.9 19.6L93.1 19.4L92.3 19.2L91.5 19.0L91.1 18.9L90.7 18.8L89.9 18.7L89.2 18.5L88.4 18.3L87.9 18.2L87.6 18.1L86.8 17.9L86.0 17.7L85.2 17.5L84.7 17.4L84.4 17.4L83.7 17.2L82.9 17.0L82.1 16.8L81.4 16.6L81.3 16.6L80.5 16.4L79.7 16.3L79.0 16.1L78.2 15.9L78.0 15.9L77.4 15.7L76.6 15.6L75.8 15.4L75.0 15.2L74.5 15.1L74.3 15.1L73.5 14.9L72.7 14.7L71.9 14.5L71.1 14.4L71.0 14.3L70.3 14.2L69.6 14.0L68.8 13.9L68.0 13.7L67.3 13.6L67.2 13.6L66.4 13.4L65.6 13.2L64.8 13.1L64.1 12.9L63.6 12.8L63.3 12.8L62.5 12.6L61.7 12.4L60.9 12.3L60.1 12.1L59.7 12.0L59.4 12.0L58.6 11.8L57.8 11.7L57.0 11.5L56.2 11.4L55.7 11.3L55.4 11.2L54.7 11.1L53.9 10.9L53.1 10.8L52.3 10.6L51.6 10.5L51.5 10.5L50.7 10.3L50.0 10.2L49.2 10.1L48.4 9.9L47.6 9.8L47.4 9.7L46.8 9.6L46.0 9.5L45.3 9.4L44.5 9.2L43.7 9.1L43.0 9.0L42.9 9.0L42.1 8.8L41.3 8.7L40.5 8.6L39.8 8.4L39.0 8.3L38.5 8.2L38.2 8.2L37.4 8.0L36.6 7.9L35.8 7.8L35.1 7.7L34.3 7.5L33.7 7.4L33.5 7.4L32.7 7.3L31.9 7.2L31.1 7.0L30.4 6.9L29.6 6.8L28.8 6.7L28.8 6.7L28.0 6.6L27.2 6.4L26.4 6.3L25.7 6.2L24.9 6.1L24.1 6.0L23.6 5.9L23.3 5.9L22.5 5.7L21.7 5.6L20.9 5.5L20.2 5.4L19.4 5.3L18.6 5.2L18.2 5.1L17.8 5.1L17.0 5.0L16.2 4.9L15.5 4.8L14.7 4.7L13.9 4.6L13.1 4.5L12.5 4.4L12.3 4.4L11.5 4.3L10.8 4.2L10.0 4.1L9.2 4.0L8.4 3.9L7.6 3.8L6.8 3.7L6.4 3.6L6.1 3.6L5.3 3.5L4.5 3.4L3.7 3.3L2.9 3.2L2.1 3.1L1.4 3.0L0.6 2.9L-0.2 2.8L-0.2 2.8L-1.0 2.7L-1.0 2.1L-1.0 1.3L-1.0 0.5L-1.0 -0.2L-1.0 -1.0Z" fill="#aee4a4"/>
<path d="M30.4 -1.0L31.1 -1.0L31.9 -1.0L32.7 -1.0L33.5 -1.0L34.3 -1.0L35.1 -1.0L35.8 -1.0L36.6 -1.0L37.4 -1.0L38.2 -1.0L39.0 -1.0L39.8 -1.0L40.5 -1.0L41.3 -1.0L42.1 -1.0L42.9 -1.0L43.7 -1.0L44.5 -1.0L45.3 -1.0L46.0 -1.0L46.8 -1.0L47.6 -1.0L48.4 -1.0L49.2 -1.0L50.0 -1.0L50.7 -1.0L51.5 -1.0L52.3 -1.0L53.1 -1.0L53.9 -1.0L54.7 -1.0L55.4 -1.0L56.2 -1.0L57.0 -1.0L57.8 -1.0L58.6 -1.0L59.4 -1.0L60.1 -1.0L60.9 -1.0L61.7 -1.0L62.5 -1.0L63.3 -1.0L64.1 -1.0L64.8 -1.0L65.6 -1.0L66.4 -1.0L67.2 -1.0L68.0 -1.0L68.8 -1.0L69.6 -1.0L70.3 -1.0L71.1 -1.0L71.9 -1.0L72.7 -1.0L73.5 -1.0L74.3 -1.0L75.0 -1.0L75.8 -1.0L76.6 -1.0L77.4 -1.0L78.2 -1.0L79.0 -1.0L79.7 -1.0L80.5 -1.0L81.3 -1.0L82.1 -1.0L82.9 -1.0L83.7 -1.0L84.4 -1.0L85.2 -1.0L86.0 -1.0L86.8 -1.0L87.6 -1.0L88.4 -1.0L89.2 -1.0L89.9 -1.0L90.7 -1.0L91.5 -1.0L92.3 -1.0L93.1 -1.0L93.9 -1.0L94.6 -1.0L95.4 -1.0L96.2 -1.0L97.0 -1.0L97.8 -1.0L98.6 -1.0L99.3 -1.0L100.1 -1.0L100.9 -1.0L101.7 -1.0L102.5 -1.0L103.3 -1.0L104.0 -1.0L104.8 -1.0L105.6 -1.0L106.4 -1.0L107.2 -1.0L108.0 -1.0L108.7 -1.0L109.5 -1.0L110.3 -1.0L111.1 -1.0L111.9 -1.0L112.7 -1.0L113.5 -1.0L114.2 -1.0L115.0 -1.0L115.8 -1.0L116.6 -1.0L117.4 -1.0L118.2 -1.0L118.9 -1.0L119.7 -1.0L120.5 -1.0L121.3 -1.0L122.1 -1.0L122.9 -1.0L123.6 -1.0L124.4 -1.0L125.2 -1.0L126.0 -1.0L126.8 -1.0L127.6 -1.0L128.3 -1.0L129.1 -1.0L129.9 -1.0L130.7 -1.0L131.5 -1.0L132.3 -1.0L133.1 -1.0L133.8 -1.0L134.6 -1.0L135.4 -1.0L136.2 -1.0L137.0 -1.0L137.8 -1.0L138.5 -1.0L139.3 -1.0L140.1 -1.0L140.9 -1.0L141.7 -1.0L142.5 -1.0L143.2 -1.0L144.0 -1.0L144.8 -1.0L145.6 -1.0L146.4 -1.0L147.2 -1.0L147.9 -1.0L148.7 -1.0L149.5 -1.0L150.3 -1.0L151.1 -1.0L151.9 -1.0L152.6 -1.0L153.4 -1.0L154.2 -1.0L155.0 -1.0L155.0 -0.2L155.0 0.5L155.0 1.3L155.0 2.1L155.0 2.8L155.0 3.6L155.0 4.4L155.0 5.1L155.0 5.9L155.0 6.7L155.0 7.4L155.0 8.2L155.0 9.0L155.0 9.7L155.0 10.5L155.0 11.3L155.0 12.0L155.0 12.8L155.0 13.6L155.0 14.3L155.0 15.1L155.0 15.9L155.0 16.6L155.0 17.4L155.0 18.2L155.0 18.9L155.0 19.7L155.0 20.5L155.0 21.2L155.0 22.0L155.0 22.8L155.0 23.6L155.0 24.3L155.0 25.1L155.0 25.9L155.0 26.6L155.0 27.4L155.0 28.2L155.0 28.9L155.0 29.1L154.4 28.9L154.2 28.9L153.4 28.6L152.6 28.3L152.1 28.2L151.9 28.1L151.1 27.8L150.3 27.5L149.9 27.4L149.5 27.3L148.7 27.0L147.9 26.7L147.6 26.6L147.2 26.5L146.4 26.2L145.6 26.0L145.2 25.9L144.8 25.7L144.0 25.5L143.2 25.2L142.9 25.1L142.5 24.9L141.7 24.7L140.9 24.4L140.5 24.3L140.1 24.2L139.3 23.9L138.5 23.7L138.1 23.6L137.8 23.4L137.0 23.2L136.2 23.0L135.6 22.8L135.4 22.7L134.6 22.5L133.8 22.2L133.1 22.0L133.1 22.0L132.3 21.8L131.5 21.5L130.7 21.3L130.6 21.2L129.9 21.0L129.1 20.8L128.3 20.6L128.0 20.5L127.6 20.3L126.8 20.1L126.0 19.9L125.4 19.7L125.2 19.7L124.4 19.4L123.6 19.2L122.9 19.0L122.8 18.9L122.1 18.8L121.3 18.5L120.5 18.3L120.1 18.2L119.7 18.1L118.9 17.9L118.2 17.6L117.4 17.4L117.3 17.4L116.6 17.2L115.8 17.0L115.0 16.8L114.5 16.6L114.2 16.6L113.5 16.3L112.7 16.1L111.9 15.9L111.7 15.9L111.1 15.7L110.3 15.5L109.5 15.3L108.8 15.1L108.7 15.1L108.0 14.9L107.2 14.7L106.4 14.5L105.9 14.3L105.6 14.3L104.8 14.1L104.0 13.9L103.3 13.7L102.9 13.6L102.5 13.5L101.7 13.3L100.9 13.1L100.1 12.9L99.8 12.8L99.3 12.7L98.6 12.5L97.8 12.3L97.0 12.1L96.7 12.0L96.2 11.9L95.4 11.7L94.6 11.5L93.9 11.3L93.6 11.3L93.1 11.2L92.3 11.0L91.5 10.8L90.7 10.6L90.3 10.5L89.9 10.4L89.2 10.2L88.4 10.1L87.6 9.9L87.0 9.7L86.8 9.7L86.0 9.5L85.2 9.3L84.4 9.2L83.7 9.0L83.6 9.0L82.9 8.8L82.1 8.6L81.3 8.5L80.5 8.3L80.2 8.2L79.7 8.1L79.0 7.9L78.2 7.8L77.4 7.6L76.6 7.4L76.6 7.4L75.8 7.3L75.0 7.1L74.3 6.9L73.5 6.8L73.0 6.7L72.7 6.6L71.9 6.4L71.1 6.3L70.3 6.1L69.6 6.0L69.2 5.9L68.8 5.8L68.0 5.7L67.2 5.5L66.4 5.3L65.6 5.2L65.4 5.1L64.8 5.0L64.1 4.9L63.3 4.7L62.5 4.6L61.7 4.4L61.5 4.4L60.9 4.3L60.1 4.1L59.4 4.0L58.6 3.8L57.8 3.7L57.4 3.6L57.0 3.5L56.2 3.4L55.4 3.2L54.7 3.1L53.9 3.0L53.2 2.8L53.1 2.8L52.3 2.7L51.5 2.5L50.7 2.4L50.0 2.3L49.2 2.1L48.9 2.1L48.4 2.0L47.6 1.8L46.8 1.7L46.0 1.6L45.3 1.4L44.5 1.3L44.4 1.3L43.7 1.2L42.9 1.1L42.1 0.9L41.3 0.8L40.5 0.7L39.8 0.5L39.7 0.5L39.0 0.4L38.2 0.3L37.4 0.2L36.6 0.0L35.8 -0.1L35.1 -0.2L34.9 -0.2L34.3 -0.3L33.5 -0.4L32.7 -0.6L31.9 -0.7L31.1 -0.8L30.4 -0.9L29.8 -1.0Z" fill="#bfe899"/>
<path d="M74.3 -1.0L75.0 -1.0L75.8 -1.0L76.6 -1.0L77.4 -1.0L78.2 -1.0L79.0 -1.0L79.7 -1.0L80.5 -1.0L81.3 -1.0L82.1 -1.0L82.9 -1.0L83.7 -1.0L84.4 -1.0L85.2 -1.0L86.0 -1.0L86.8 -1.0L87.6 -1.0L88.4 -1.0L89.2 -1.0L89.9 -1.0L90.7 -1.0L91.5 -1.0L92.3 -1.0L93.1 -1.0L93.9 -1.0L94.6 -1.0L95.4 -1.0L96.2 -1.0L97.0 -1.0L97.8 -1.0L98.6 -1.0L99.3 -1.0L100.1 -1.0L100.9 -1.0L101.7 -1.0L102.5 -1.0L103.3 -1.0L104.0 -1.0L104.8 -1.0L105.6 -1.0L106.4 -1.0L107.2 -1.0L108.0 -1.0L108.7 -1.0L109.5 -1.0L110.3 -1.0L111.1 -1.0L111.9 -1.0L112.7 -1.0L113.5 -1.0L114.2 -1.0L115.0 -1.0L115.8 -1.0L116.6 -1.0L117.4 -1.0L118.2 -1.0L118.9 -1.0L119.7 -1.0L120.5 -1.0L121.3 -1.0L122.1 -1.0L122.9 -1.0L123.6 -1.0L124.4 -1.0L125.2 -1.0L126.0 -1.0L126.8 -1.0L127.6 -1.0L128.3 -1.0L129.1 -1.0L129.9 -1.0L130.7 -1.0L131.5 -1.0L132.3 -1.0L133.1 -1.0L133.8 -1.0L134.6 -1.0L135.4 -1.0L136.2 -1.0L137.0 -1.0L137.8 -1.0L138.5 -1.0L139.3 -1.0L140.1 -1.0L140.9 -1.0L141.7 -1.0L142.5 -1.0L143.2 -1.0L144.0 -1.0L144.8 -1.0L145.6 -1.0L146.4 -1.0L147.2 -1.0L147.9 -1.0L148.7 -1.0L149.5 -1.0L150.3 -1.0L151.1 -1.0L151.9 -1.0L152.6 -1.0L153.4 -1.0L154.2 -1.0L155.0 -1.0L155.0 -0.2L155.0 0.5L155.0 1.3L155.0 2.1L155.0 2.8L155.0 3.6L155.0 4.4L155.0 5.1L155.0 5.9L155.0 6.7L155.0 7.4L155.0 8.2L155.0 9.0L155.0 9.7L155.0 10.5L155.0 11.3L155.0 12.0L155.0 12.8L155.0 13.6L155.0 14.3L155.0 15.1L155.0 15.9L155.0 16.6L155.0 17.4L155.0 18.2L155.0 18.9L155.0 19.7L155.0 20.4L154.2 20.1L153.4 19.9L152.9 19.7L152.6 19.6L151.9 19.4L151.1 19.1L150.6 18.9L150.3 18.9L149.5 18.6L148.7 18.3L148.2 18.2L147.9 18.1L147.2 17.8L146.4 17.6L145.8 17.4L145.6 17.3L144.8 17.1L144.0 16.9L143.3 16.6L143.2 16.6L142.5 16.4L141.7 16.1L140.9 15.9L140.9 15.9L140.1 15.6L139.3 15.4L138.5 15.2L138.3 15.1L137.8 14.9L137.0 14.7L136.2 14.5L135.8 14.3L135.4 14.2L134.6 14.0L133.8 13.8L133.2 13.6L133.1 13.5L132.3 13.3L131.5 13.1L130.7 12.8L130.6 12.8L129.9 12.6L129.1 12.4L128.3 12.2L127.9 12.0L127.6 11.9L126.8 11.7L126.0 11.5L125.2 11.3L125.2 11.3L124.4 11.1L123.6 10.8L122.9 10.6L122.4 10.5L122.1 10.4L121.3 10.2L120.5 10.0L119.7 9.8L119.6 9.7L118.9 9.6L118.2 9.3L117.4 9.1L116.8 9.0L116.6 8.9L115.8 8.7L115.0 8.5L114.2 8.3L113.9 8.2L113.5 8.1L112.7 7.9L111.9 7.7L111.1 7.5L110.9 7.4L110.3 7.3L109.5 7.1L108.7 6.9L108.0 6.7L107.9 6.7L107.2 6.5L106.4 6.3L105.6 6.1L104.8 5.9L104.8 5.9L104.0 5.7L103.3 5.5L102.5 5.3L101.7 5.1L101.7 5.1L100.9 4.9L100.1 4.8L99.3 4.6L98.6 4.4L98.5 4.4L97.8 4.2L97.0 4.0L96.2 3.8L95.4 3.6L95.3 3.6L94.6 3.5L93.9 3.3L93.1 3.1L92.3 2.9L92.0 2.8L91.5 2.7L90.7 2.6L89.9 2.4L89.2 2.2L88.6 2.1L88.4 2.0L87.6 1.8L86.8 1.7L86.0 1.5L85.2 1.3L85.1 1.3L84.4 1.2L83.7 1.0L82.9 0.8L82.1 0.7L81.5 0.5L81.3 0.5L80.5 0.3L79.7 0.2L79.0 -0.0L78.2 -0.2L77.9 -0.2L77.4 -0.3L76.6 -0.5L75.8 -0.7L75.0 -0.8L74.3 -1.0L74.2 -1.0Z" fill="#d2ec8d"/>
<path d="M109.5 -1.0L110.3 -1.0L111.1 -1.0L111.9 -1.0L112.7 -1.0L113.5 -1.0L114.2 -1.0L115.0 -1.0L115.8 -1.0L116.6 -1.0L117.4 -1.0L118.2 -1.0L118.9 -1.0L119.7 -1.0L120.5 -1.0L121.3 -1.0L122.1 -1.0L122.9 -1.0L123.6 -1.0L124.4 -1.0L125.2 -1.0L126.0 -1.0L126.8 -1.0L127.6 -1.0L128.3 -1.0L129.1 -1.0L129.9 -1.0L130.7 -1.0L131.5 -1.0L132.3 -1.0L133.1 -1.0L133.8 -1.0L134.6 -1.0L135.4 -1.0L136.2 -1.0L137.0 -1.0L137.8 -1.0L138.5 -1.0L139.3 -1.0L140.1 -1.0L140.9 -1.0L141.7 -1.0L142.5 -1.0L143.2 -1.0L144.0 -1.0L144.8 -1.0L145.6 -1.0L146.4 -1.0L147.2 -1.0L147.9 -1.0L148.7 -1.0L149.5 -1.0L150.3 -1.0L151.1 -1.0L151.9 -1.0L152.6 -1.0L153.4 -1.0L154.2 -1.0L155.0 -1.0L155.0 -0.2L155.0 0.5L155.0 1.3L155.0 2.1L155.0 2.8L155.0 3.6L155.0 4.4L155.0 5.1L155.0 5.9L155.0 6.7L155.0 7.4L155.0 8.2L155.0 9.0L155.0 9.7L155.0 10.5L155.0 11.3L155.0 11.9L154.2 11.7L153.4 11.4L153.0 11.3L152.6 11.2L151.9 10.9L151.1 10.7L150.6 10.5L150.3 10.4L149.5 10.2L148.7 9.9L148.1 9.7L147.9 9.7L147.2 9.4L146.4 9.2L145.6 9.0L145.6 9.0L144.8 8.7L144.0 8.5L143.2 8.3L143.1 8.2L142.5 8.0L141.7 7.8L140.9 7.6L140.5 7.4L140.1 7.3L139.3 7.1L138.5 6.9L137.9 6.7L137.8 6.6L137.0 6.4L136.2 6.2L135.4 6.0L135.2 5.9L134.6 5.7L133.8 5.5L133.1 5.3L132.5 5.1L132.3 5.1L131.5 4.9L130.7 4.6L129.9 4.4L129.8 4.4L129.1 4.2L128.3 4.0L127.6 3.8L127.0 3.6L126.8 3.5L126.0 3.3L125.2 3.1L124.4 2.9L124.1 2.8L123.6 2.7L122.9 2.5L122.1 2.3L121.3 2.1L121.3 2.1L120.5 1.9L119.7 1.7L118.9 1.5L118.3 1.3L118.2 1.3L117.4 1.1L116.6 0.8L115.8 0.6L115.4 0.5L115.0 0.4L114.2 0.2L113.5 0.0L112.7 -0.1L112.3 -0.2L111.9 -0.3L111.1 -0.5L110.3 -0.7L109.5 -0.9L109.2 -1.0Z" fill="#e4ee83"/>
<path d="M139.3 -1.0L140.1 -1.0L140.9 -1.0L141.7 -1.0L142.5 -1.0L143.2 -1.0L144.0 -1.0L144.8 -1.0L145.6 -1.0L146.4 -1.0L147.2 -1.0L147.9 -1.0L148.7 -1.0L149.5 -1.0L150.3 -1.0L151.1 -1.0L151.9 -1.0L152.6 -1.0L153.4 -1.0L154.2 -1.0L155.0 -1.0L155.0 -0.2L155.0 0.5L155.0 1.3L155.0 2.1L155.0 2.8L155.0 3.6L155.0 3.6L154.9 3.6L154.2 3.4L153.4 3.2L152.6 2.9L152.4 2.8L151.9 2.7L151.1 2.4L150.3 2.2L149.8 2.1L149.5 2.0L148.7 1.7L147.9 1.5L147.3 1.3L147.2 1.3L146.4 1.0L145.6 0.8L144.8 0.6L144.7 0.5L144.0 0.4L143.2 0.1L142.5 -0.1L142.0 -0.2L141.7 -0.3L140.9 -0.6L140.1 -0.8L139.3 -1.0L139.3 -1.0Z" fill="#f6f182"/>
<line x1="65.70" y1="0" x2="65.70" y2="143.0" stroke="#fff" stroke-opacity="0.25" stroke-width="0.8"/><line x1="0" y1="57.70" x2="154.0" y2="57.70" stroke="#fff" stroke-opacity="0.25" stroke-width="0.8"/><line x1="0" y1="115.00" x2="154.0" y2="115.00" stroke="#fff" stroke-opacity="0.25" stroke-width="0.8"/></g>
<g font-family="'Liberation Serif', serif"><circle cx="76.20" cy="135.50" r="3.15" fill="#4848f2" stroke="#000" stroke-width="0.8"/>
<circle cx="114.30" cy="92.70" r="3.15" fill="#7272f4" stroke="#000" stroke-width="0.8"/>
<circle cx="39.20" cy="141.00" r="3.15" fill="#a2a2f6" stroke="#000" stroke-width="0.8"/>
<circle cx="95.00" cy="118.20" r="3.15" fill="#dcdcfa" stroke="#000" stroke-width="0.8"/>
<circle cx="97.20" cy="106.30" r="3.15" fill="#ffffff" stroke="#000" stroke-width="0.8"/>
<text x="82.20" y="135.50" font-size="8.5" text-anchor="middle" dominant-baseline="central" style="" fill="#151515">5</text>
<text x="120.50" y="93.40" font-size="8.5" text-anchor="middle" dominant-baseline="central" style="" fill="#151515">4</text>
<text x="39.20" y="134.30" font-size="8.5" text-anchor="middle" dominant-baseline="central" style="" fill="#151515">3</text>
<text x="100.50" y="118.20" font-size="8.5" text-anchor="middle" dominant-baseline="central" style="" fill="#151515">2</text>
<text x="102.70" y="106.30" font-size="8.5" text-anchor="middle" dominant-baseline="central" style="" fill="#151515">1</text>
<polygon points="64.20,106.20 65.01,108.38 67.34,108.48 65.52,109.93 66.14,112.17 64.20,110.89 62.26,112.17 62.88,109.93 61.06,108.48 63.39,108.38" fill="#3c3ce4" stroke="#000" stroke-width="0.75" stroke-linejoin="miter"/>
<text x="55.50" y="109.10" font-size="9" text-anchor="middle" dominant-baseline="central" fill="#151515"><tspan font-style="italic" font-size="11.5">&#957;</tspan>1</text>
<polygon points="73.30,103.20 74.11,105.38 76.44,105.48 74.62,106.93 75.24,109.17 73.30,107.89 71.36,109.17 71.98,106.93 70.16,105.48 72.49,105.38" fill="#3c3ce4" stroke="#000" stroke-width="0.75" stroke-linejoin="miter"/>
<text x="83.00" y="106.50" font-size="9" text-anchor="middle" dominant-baseline="central" fill="#151515"><tspan font-style="italic" font-size="11.5">&#957;</tspan>2</text>
<polygon points="72.70,113.70 73.51,115.88 75.84,115.98 74.02,117.43 74.64,119.67 72.70,118.39 70.76,119.67 71.38,117.43 69.56,115.98 71.89,115.88" fill="#3c3ce4" stroke="#000" stroke-width="0.75" stroke-linejoin="miter"/>
<text x="65.60" y="122.70" font-size="9" text-anchor="middle" dominant-baseline="central" fill="#151515"><tspan font-style="italic" font-size="11.5">&#957;</tspan>3</text>
<polygon points="68.20,94.40 69.01,96.58 71.34,96.68 69.52,98.13 70.14,100.37 68.20,99.09 66.26,100.37 66.88,98.13 65.06,96.68 67.39,96.58" fill="#3c3ce4" stroke="#000" stroke-width="0.75" stroke-linejoin="miter"/>
<text x="76.80" y="91.20" font-size="9" text-anchor="middle" dominant-baseline="central" fill="#151515"><tspan font-style="italic" font-size="11.5">&#957;</tspan>4</text>
<polygon points="49.90,75.20 50.71,77.38 53.04,77.48 51.22,78.93 51.84,81.17 49.90,79.89 47.96,81.17 48.58,78.93 46.76,77.48 49.09,77.38" fill="#e83030" stroke="#000" stroke-width="0.75" stroke-linejoin="miter"/>
<text x="41.00" y="72.50" font-size="8.5" text-anchor="middle" dominant-baseline="central" style="" fill="#151515">AE</text>
<polygon points="108.60,53.00 109.41,55.18 111.74,55.28 109.92,56.73 110.54,58.97 108.60,57.69 106.66,58.97 107.28,56.73 105.46,55.28 107.79,55.18" fill="#40d040" stroke="#000" stroke-width="0.75" stroke-linejoin="miter"/>
<text x="114.90" y="50.30" font-size="8.5" text-anchor="middle" dominant-baseline="central" style="" fill="#151515">T</text></g>
</svg>
<svg class="ab" style="left:477px;top:5px;overflow:visible" width="151.6" height="143" viewBox="0 0 151.6 143">
<defs><clipPath id="cp4775"><rect x="0" y="0" width="151.6" height="143"/></clipPath></defs>
<g clip-path="url(#cp4775)"><rect x="-1" y="-1.00" width="153.6" height="3.65" fill="#f6f182"/>
<rect x="-1" y="2.50" width="153.6" height="7.30" fill="#e4ee83"/>
<rect x="-1" y="9.65" width="153.6" height="7.25" fill="#d2ec8d"/>
<rect x="-1" y="16.75" width="153.6" height="7.30" fill="#bfe899"/>
<rect x="-1" y="23.90" width="153.6" height="7.55" fill="#aee4a4"/>
<rect x="-1" y="31.30" width="153.6" height="8.50" fill="#9edead"/>
<rect x="-1" y="39.65" width="153.6" height="8.45" fill="#92d9b4"/>
<rect x="-1" y="47.95" width="153.6" height="8.50" fill="#89d3b9"/>
<rect x="-1" y="56.30" width="153.6" height="9.50" fill="#84ccbd"/>
<rect x="-1" y="65.65" width="153.6" height="10.15" fill="#84c5bf"/>
<rect x="-1" y="75.65" width="153.6" height="7.15" fill="#86bfc1"/>
<rect x="-1" y="82.65" width="153.6" height="7.15" fill="#88b8c1"/>
<rect x="-1" y="89.65" width="153.6" height="4.65" fill="#8bb2c1"/>
<rect x="-1" y="94.15" width="153.6" height="4.70" fill="#8eabc1"/>
<rect x="-1" y="98.70" width="153.6" height="3.10" fill="#91a3c0"/>
<rect x="-1" y="101.65" width="153.6" height="2.65" fill="#959cbe"/>
<rect x="-1" y="104.15" width="153.6" height="2.20" fill="#9893bb"/>
<rect x="-1" y="106.20" width="153.6" height="1.60" fill="#9a8bb7"/>
<rect x="-1" y="107.65" width="153.6" height="1.15" fill="#9a82af"/>
<rect x="-1" y="108.65" width="153.6" height="2.15" fill="#9978a6"/>
<rect x="-1" y="110.65" width="153.6" height="1.15" fill="#9a82af"/>
<rect x="-1" y="111.65" width="153.6" height="1.55" fill="#9a8bb7"/>
<rect x="-1" y="113.05" width="153.6" height="2.25" fill="#9893bb"/>
<rect x="-1" y="115.15" width="153.6" height="2.65" fill="#959cbe"/>
<rect x="-1" y="117.65" width="153.6" height="2.95" fill="#91a3c0"/>
<rect x="-1" y="120.45" width="153.6" height="4.35" fill="#8eabc1"/>
<rect x="-1" y="124.65" width="153.6" height="4.30" fill="#8bb2c1"/>
<rect x="-1" y="128.80" width="153.6" height="7.20" fill="#88b8c1"/>
<rect x="-1" y="135.85" width="153.6" height="8.30" fill="#86bfc1"/>
<line x1="64.68" y1="0" x2="64.68" y2="143.0" stroke="#fff" stroke-opacity="0.25" stroke-width="0.8"/><line x1="0" y1="57.70" x2="151.6" y2="57.70" stroke="#fff" stroke-opacity="0.25" stroke-width="0.8"/><line x1="0" y1="115.00" x2="151.6" y2="115.00" stroke="#fff" stroke-opacity="0.25" stroke-width="0.8"/></g>
<g font-family="'Liberation Serif', serif"><circle cx="75.01" cy="135.50" r="3.15" fill="#4848f2" stroke="#000" stroke-width="0.8"/>
<circle cx="112.52" cy="92.70" r="3.15" fill="#7272f4" stroke="#000" stroke-width="0.8"/>
<circle cx="38.59" cy="141.00" r="3.15" fill="#a2a2f6" stroke="#000" stroke-width="0.8"/>
<circle cx="93.52" cy="118.20" r="3.15" fill="#dcdcfa" stroke="#000" stroke-width="0.8"/>
<circle cx="95.69" cy="106.30" r="3.15" fill="#ffffff" stroke="#000" stroke-width="0.8"/>
<text x="80.92" y="135.50" font-size="8.5" text-anchor="middle" dominant-baseline="central" style="" fill="#151515">5</text>
<text x="118.62" y="93.40" font-size="8.5" text-anchor="middle" dominant-baseline="central" style="" fill="#151515">4</text>
<text x="38.59" y="134.30" font-size="8.5" text-anchor="middle" dominant-baseline="central" style="" fill="#151515">3</text>
<text x="98.93" y="118.20" font-size="8.5" text-anchor="middle" dominant-baseline="central" style="" fill="#151515">2</text>
<text x="101.10" y="106.30" font-size="8.5" text-anchor="middle" dominant-baseline="central" style="" fill="#151515">1</text>
<polygon points="63.20,106.20 64.01,108.38 66.34,108.48 64.52,109.93 65.14,112.17 63.20,110.89 61.26,112.17 61.88,109.93 60.06,108.48 62.38,108.38" fill="#3c3ce4" stroke="#000" stroke-width="0.75" stroke-linejoin="miter"/>
<text x="54.64" y="109.10" font-size="9" text-anchor="middle" dominant-baseline="central" fill="#151515"><tspan font-style="italic" font-size="11.5">&#957;</tspan>1</text>
<polygon points="72.16,103.20 72.97,105.38 75.30,105.48 73.48,106.93 74.10,109.17 72.16,107.89 70.22,109.17 70.84,106.93 69.02,105.48 71.34,105.38" fill="#3c3ce4" stroke="#000" stroke-width="0.75" stroke-linejoin="miter"/>
<text x="81.71" y="106.50" font-size="9" text-anchor="middle" dominant-baseline="central" fill="#151515"><tspan font-style="italic" font-size="11.5">&#957;</tspan>2</text>
<polygon points="71.57,113.70 72.38,115.88 74.71,115.98 72.89,117.43 73.51,119.67 71.57,118.39 69.63,119.67 70.25,117.43 68.43,115.98 70.75,115.88" fill="#3c3ce4" stroke="#000" stroke-width="0.75" stroke-linejoin="miter"/>
<text x="64.58" y="122.70" font-size="9" text-anchor="middle" dominant-baseline="central" fill="#151515"><tspan font-style="italic" font-size="11.5">&#957;</tspan>3</text>
<polygon points="67.14,94.40 67.95,96.58 70.28,96.68 68.46,98.13 69.08,100.37 67.14,99.09 65.20,100.37 65.82,98.13 64.00,96.68 66.32,96.58" fill="#3c3ce4" stroke="#000" stroke-width="0.75" stroke-linejoin="miter"/>
<text x="75.60" y="91.20" font-size="9" text-anchor="middle" dominant-baseline="central" fill="#151515"><tspan font-style="italic" font-size="11.5">&#957;</tspan>4</text>
<polygon points="49.12,75.20 49.94,77.38 52.26,77.48 50.44,78.93 51.06,81.17 49.12,79.89 47.18,81.17 47.80,78.93 45.98,77.48 48.31,77.38" fill="#e83030" stroke="#000" stroke-width="0.75" stroke-linejoin="miter"/>
<text x="40.36" y="72.50" font-size="8.5" text-anchor="middle" dominant-baseline="central" style="" fill="#151515">AE</text>
<polygon points="106.91,53.00 107.72,55.18 110.05,55.28 108.23,56.73 108.85,58.97 106.91,57.69 104.97,58.97 105.59,56.73 103.77,55.28 106.09,55.18" fill="#40d040" stroke="#000" stroke-width="0.75" stroke-linejoin="miter"/>
<text x="113.11" y="50.30" font-size="8.5" text-anchor="middle" dominant-baseline="central" style="" fill="#151515">T</text></g>
</svg>
<svg class="ab" style="left:224px;top:168.8px;overflow:visible" width="154" height="142.8" viewBox="0 0 154 142.8">
<defs><clipPath id="cp224168"><rect x="0" y="0" width="154" height="142.8"/></clipPath></defs>
<g clip-path="url(#cp224168)"><rect x="-1" y="-1" width="156.0" height="144.8" fill="#9978a6"/>
<path d="M-0.2 -1.0L0.6 -1.0L1.4 -1.0L2.1 -1.0L2.9 -1.0L3.7 -1.0L4.5 -1.0L5.3 -1.0L6.1 -1.0L6.8 -1.0L7.6 -1.0L8.4 -1.0L9.2 -1.0L10.0 -1.0L10.8 -1.0L11.5 -1.0L12.3 -1.0L13.1 -1.0L13.9 -1.0L14.7 -1.0L15.5 -1.0L16.2 -1.0L17.0 -1.0L17.8 -1.0L18.6 -1.0L19.4 -1.0L20.2 -1.0L20.9 -1.0L21.7 -1.0L22.5 -1.0L23.3 -1.0L24.1 -1.0L24.9 -1.0L25.7 -1.0L26.4 -1.0L27.2 -1.0L28.0 -1.0L28.8 -1.0L29.6 -1.0L30.4 -1.0L31.1 -1.0L31.9 -1.0L32.7 -1.0L33.5 -1.0L34.3 -1.0L35.1 -1.0L35.8 -1.0L36.6 -1.0L37.4 -1.0L38.2 -1.0L39.0 -1.0L39.8 -1.0L40.5 -1.0L41.3 -1.0L42.1 -1.0L42.9 -1.0L43.7 -1.0L44.5 -1.0L45.3 -1.0L46.0 -1.0L46.8 -1.0L47.6 -1.0L48.4 -1.0L49.2 -1.0L50.0 -1.0L50.7 -1.0L51.5 -1.0L52.3 -1.0L53.1 -1.0L53.9 -1.0L54.7 -1.0L55.4 -1.0L56.2 -1.0L57.0 -1.0L57.8 -1.0L58.6 -1.0L59.4 -1.0L60.1 -1.0L60.9 -1.0L61.7 -1.0L62.5 -1.0L63.3 -1.0L64.1 -1.0L64.8 -1.0L65.6 -1.0L66.4 -1.0L67.2 -1.0L68.0 -1.0L68.8 -1.0L69.6 -1.0L70.3 -1.0L71.1 -1.0L71.9 -1.0L72.7 -1.0L73.5 -1.0L74.3 -1.0L75.0 -1.0L75.8 -1.0L76.6 -1.0L77.4 -1.0L78.2 -1.0L79.0 -1.0L79.7 -1.0L80.5 -1.0L81.3 -1.0L82.1 -1.0L82.9 -1.0L83.7 -1.0L84.4 -1.0L85.2 -1.0L86.0 -1.0L86.8 -1.0L87.6 -1.0L88.4 -1.0L89.2 -1.0L89.9 -1.0L90.7 -1.0L91.5 -1.0L92.3 -1.0L93.1 -1.0L93.9 -1.0L94.6 -1.0L95.4 -1.0L96.2 -1.0L97.0 -1.0L97.8 -1.0L98.6 -1.0L99.3 -1.0L100.1 -1.0L100.9 -1.0L101.7 -1.0L102.5 -1.0L103.3 -1.0L104.0 -1.0L104.8 -1.0L105.6 -1.0L106.4 -1.0L107.2 -1.0L108.0 -1.0L108.7 -1.0L109.5 -1.0L110.3 -1.0L111.1 -1.0L111.9 -1.0L112.7 -1.0L113.5 -1.0L114.2 -1.0L115.0 -1.0L115.8 -1.0L116.6 -1.0L117.4 -1.0L118.2 -1.0L118.9 -1.0L119.7 -1.0L120.5 -1.0L121.3 -1.0L122.1 -1.0L122.9 -1.0L123.6 -1.0L124.4 -1.0L125.2 -1.0L126.0 -1.0L126.8 -1.0L127.6 -1.0L128.3 -1.0L129.1 -1.0L129.9 -1.0L130.7 -1.0L131.5 -1.0L132.3 -1.0L133.1 -1.0L133.8 -1.0L134.6 -1.0L135.4 -1.0L136.2 -1.0L137.0 -1.0L137.8 -1.0L138.5 -1.0L139.3 -1.0L140.1 -1.0L140.9 -1.0L141.7 -1.0L142.5 -1.0L143.2 -1.0L144.0 -1.0L144.8 -1.0L145.6 -1.0L146.4 -1.0L147.2 -1.0L147.9 -1.0L148.7 -1.0L149.5 -1.0L150.3 -1.0L151.1 -1.0L151.9 -1.0L152.6 -1.0L153.4 -1.0L154.2 -1.0L155.0 -1.0L155.0 -0.2L155.0 0.5L155.0 1.3L155.0 2.1L155.0 2.8L155.0 3.6L155.0 4.4L155.0 5.1L155.0 5.9L155.0 6.7L155.0 7.4L155.0 8.2L155.0 9.0L155.0 9.7L155.0 10.5L155.0 11.3L155.0 12.0L155.0 12.8L155.0 13.6L155.0 14.3L155.0 15.1L155.0 15.9L155.0 16.6L155.0 17.4L155.0 18.2L155.0 18.9L155.0 19.7L155.0 20.5L155.0 21.2L155.0 22.0L155.0 22.8L155.0 23.5L155.0 24.3L155.0 25.0L155.0 25.8L155.0 26.6L155.0 27.3L155.0 28.1L155.0 28.9L155.0 29.6L155.0 30.4L155.0 31.2L155.0 31.9L155.0 32.7L155.0 33.5L155.0 34.2L155.0 35.0L155.0 35.8L155.0 36.5L155.0 37.3L155.0 38.1L155.0 38.8L155.0 39.6L155.0 40.4L155.0 41.1L155.0 41.9L155.0 42.7L155.0 43.4L155.0 44.2L155.0 45.0L155.0 45.7L155.0 46.5L155.0 47.3L155.0 48.0L155.0 48.8L155.0 49.6L155.0 50.3L155.0 51.1L155.0 51.9L155.0 52.6L155.0 53.4L155.0 54.2L155.0 54.9L155.0 55.7L155.0 56.5L155.0 57.2L155.0 58.0L155.0 58.8L155.0 59.5L155.0 60.3L155.0 61.1L155.0 61.8L155.0 62.6L155.0 63.4L155.0 64.1L155.0 64.9L155.0 65.7L155.0 66.4L155.0 67.2L155.0 68.0L155.0 68.7L155.0 69.5L155.0 70.3L155.0 71.0L155.0 71.8L155.0 72.5L155.0 73.3L155.0 74.1L155.0 74.8L155.0 75.6L155.0 76.4L155.0 77.1L155.0 77.9L155.0 78.7L155.0 79.4L155.0 80.2L155.0 81.0L155.0 81.7L155.0 82.5L155.0 83.3L155.0 84.0L155.0 84.8L155.0 85.6L155.0 86.3L155.0 87.1L155.0 87.9L155.0 88.6L155.0 89.4L155.0 90.2L155.0 90.9L155.0 91.7L155.0 92.5L155.0 93.2L155.0 94.0L155.0 94.8L155.0 95.5L155.0 96.3L155.0 97.1L155.0 97.8L155.0 98.6L155.0 99.4L155.0 100.1L155.0 100.9L155.0 101.7L155.0 102.4L155.0 103.2L155.0 104.0L155.0 104.7L155.0 105.5L155.0 106.3L155.0 107.0L155.0 107.8L155.0 108.6L155.0 109.3L155.0 110.1L155.0 110.9L155.0 111.6L155.0 112.4L155.0 113.2L155.0 113.9L155.0 114.7L155.0 115.5L155.0 116.2L155.0 117.0L155.0 117.8L155.0 118.5L155.0 119.3L155.0 120.0L155.0 120.8L155.0 121.6L155.0 122.3L155.0 123.1L155.0 123.9L155.0 124.6L155.0 125.4L155.0 126.2L155.0 126.9L155.0 127.7L155.0 128.5L155.0 129.2L155.0 130.0L155.0 130.8L155.0 131.5L155.0 132.3L155.0 133.1L155.0 133.8L155.0 134.6L155.0 135.4L155.0 136.1L155.0 136.9L155.0 137.7L155.0 138.4L155.0 139.2L155.0 140.0L155.0 140.7L155.0 141.5L155.0 142.3L155.0 143.0L155.0 143.8L154.2 143.8L153.4 143.8L152.6 143.8L151.9 143.8L151.1 143.8L150.3 143.8L149.5 143.8L148.7 143.8L147.9 143.8L147.2 143.8L146.4 143.8L145.6 143.8L144.8 143.8L144.0 143.8L143.2 143.8L142.5 143.8L141.7 143.8L140.9 143.8L140.1 143.8L139.3 143.8L138.5 143.8L137.8 143.8L137.0 143.8L136.2 143.8L135.4 143.8L134.6 143.8L133.8 143.8L133.1 143.8L132.3 143.8L131.5 143.8L130.7 143.8L129.9 143.8L129.1 143.8L128.3 143.8L127.6 143.8L126.8 143.8L126.0 143.8L125.2 143.8L124.4 143.8L123.6 143.8L122.9 143.8L122.1 143.8L121.3 143.8L120.5 143.8L119.7 143.8L118.9 143.8L118.2 143.8L117.4 143.8L116.6 143.8L115.8 143.8L115.0 143.8L114.2 143.8L113.5 143.8L112.7 143.8L111.9 143.8L111.1 143.8L110.3 143.8L109.5 143.8L108.7 143.8L108.0 143.8L107.2 143.8L106.4 143.8L105.6 143.8L104.8 143.8L104.0 143.8L103.3 143.8L102.5 143.8L101.7 143.8L100.9 143.8L100.1 143.8L99.3 143.8L98.6 143.8L97.8 143.8L97.0 143.8L96.2 143.8L95.4 143.8L94.6 143.8L93.9 143.8L93.1 143.8L92.3 143.8L91.5 143.8L90.7 143.8L89.9 143.8L89.2 143.8L88.4 143.8L87.6 143.8L86.8 143.8L86.0 143.8L85.2 143.8L84.4 143.8L83.7 143.8L82.9 143.8L82.1 143.8L81.3 143.8L80.5 143.8L79.7 143.8L79.0 143.8L78.2 143.8L77.4 143.8L76.6 143.8L75.8 143.8L75.0 143.8L74.3 143.8L73.5 143.8L72.7 143.8L71.9 143.8L71.1 143.8L70.3 143.8L69.6 143.8L68.8 143.8L68.0 143.8L67.2 143.8L66.4 143.8L65.6 143.8L64.8 143.8L64.1 143.8L63.3 143.8L62.5 143.8L61.7 143.8L60.9 143.8L60.1 143.8L59.4 143.8L58.6 143.8L57.8 143.8L57.0 143.8L56.2 143.8L55.4 143.8L54.7 143.8L53.9 143.8L53.1 143.8L52.3 143.8L51.5 143.8L50.7 143.8L50.0 143.8L49.2 143.8L48.4 143.8L47.7 143.8L47.7 143.0L47.7 142.3L47.6 141.5L47.6 141.5L47.5 140.7L47.4 140.0L47.2 139.2L47.0 138.4L46.8 137.9L46.7 137.7L46.5 136.9L46.1 136.1L46.0 135.9L45.8 135.4L45.3 134.6L45.3 134.5L44.9 133.8L44.5 133.2L44.4 133.1L43.8 132.3L43.7 132.1L43.2 131.5L42.9 131.1L42.6 130.8L42.1 130.2L41.9 130.0L41.3 129.4L41.2 129.2L40.5 128.6L40.4 128.5L39.8 127.9L39.5 127.7L39.0 127.2L38.6 126.9L38.2 126.6L37.7 126.2L37.4 126.0L36.6 125.4L36.6 125.4L35.8 124.9L35.5 124.6L35.1 124.3L34.4 123.9L34.3 123.8L33.5 123.3L33.1 123.1L32.7 122.9L31.9 122.4L31.8 122.3L31.1 122.0L30.4 121.6L30.4 121.6L29.6 121.2L28.8 120.8L28.8 120.8L28.0 120.4L27.2 120.1L27.2 120.0L26.4 119.7L25.7 119.4L25.4 119.3L24.9 119.1L24.1 118.7L23.5 118.5L23.3 118.4L22.5 118.1L21.7 117.8L21.5 117.8L20.9 117.6L20.2 117.3L19.4 117.0L19.2 117.0L18.6 116.8L17.8 116.5L17.0 116.3L16.7 116.2L16.2 116.1L15.5 115.9L14.7 115.6L13.9 115.5L13.9 115.4L13.1 115.2L12.3 115.1L11.5 114.9L10.8 114.7L10.8 114.7L10.0 114.5L9.2 114.3L8.4 114.2L7.6 114.0L7.1 113.9L6.8 113.9L6.1 113.7L5.3 113.6L4.5 113.5L3.7 113.3L2.9 113.2L2.5 113.2L2.1 113.1L1.4 113.0L0.6 112.9L-0.2 112.8L-1.0 112.7L-1.0 112.4L-1.0 111.6L-1.0 110.9L-1.0 110.1L-1.0 109.3L-1.0 108.6L-1.0 107.8L-1.0 107.0L-1.0 106.3L-1.0 105.5L-1.0 104.7L-1.0 104.0L-1.0 103.2L-1.0 102.4L-1.0 101.7L-1.0 100.9L-1.0 100.1L-1.0 99.4L-1.0 98.6L-1.0 97.8L-1.0 97.1L-1.0 96.3L-1.0 95.5L-1.0 94.8L-1.0 94.0L-1.0 93.2L-1.0 92.5L-1.0 91.7L-1.0 90.9L-1.0 90.2L-1.0 89.4L-1.0 88.6L-1.0 87.9L-1.0 87.1L-1.0 86.3L-1.0 85.6L-1.0 84.8L-1.0 84.0L-1.0 83.3L-1.0 82.5L-1.0 81.7L-1.0 81.0L-1.0 80.2L-1.0 79.4L-1.0 78.7L-1.0 77.9L-1.0 77.1L-1.0 76.4L-1.0 75.6L-1.0 74.8L-1.0 74.1L-1.0 73.3L-1.0 72.5L-1.0 71.8L-1.0 71.0L-1.0 70.3L-1.0 69.5L-1.0 68.7L-1.0 68.0L-1.0 67.2L-1.0 66.4L-1.0 65.7L-1.0 64.9L-1.0 64.1L-1.0 63.4L-1.0 62.6L-1.0 61.8L-1.0 61.1L-1.0 60.3L-1.0 59.5L-1.0 58.8L-1.0 58.0L-1.0 57.2L-1.0 56.5L-1.0 55.7L-1.0 54.9L-1.0 54.2L-1.0 53.4L-1.0 52.6L-1.0 51.9L-1.0 51.1L-1.0 50.3L-1.0 49.6L-1.0 48.8L-1.0 48.0L-1.0 47.3L-1.0 46.5L-1.0 45.7L-1.0 45.0L-1.0 44.2L-1.0 43.4L-1.0 42.7L-1.0 41.9L-1.0 41.1L-1.0 40.4L-1.0 39.6L-1.0 38.8L-1.0 38.1L-1.0 37.3L-1.0 36.5L-1.0 35.8L-1.0 35.0L-1.0 34.2L-1.0 33.5L-1.0 32.7L-1.0 31.9L-1.0 31.2L-1.0 30.4L-1.0 29.6L-1.0 28.9L-1.0 28.1L-1.0 27.3L-1.0 26.6L-1.0 25.8L-1.0 25.0L-1.0 24.3L-1.0 23.5L-1.0 22.8L-1.0 22.0L-1.0 21.2L-1.0 20.5L-1.0 19.7L-1.0 18.9L-1.0 18.2L-1.0 17.4L-1.0 16.6L-1.0 15.9L-1.0 15.1L-1.0 14.3L-1.0 13.6L-1.0 12.8L-1.0 12.0L-1.0 11.3L-1.0 10.5L-1.0 9.7L-1.0 9.0L-1.0 8.2L-1.0 7.4L-1.0 6.7L-1.0 5.9L-1.0 5.1L-1.0 4.4L-1.0 3.6L-1.0 2.8L-1.0 2.1L-1.0 1.3L-1.0 0.5L-1.0 -0.2L-1.0 -1.0Z" fill="#9a82af"/>
<path d="M-0.2 -1.0L0.6 -1.0L1.4 -1.0L2.1 -1.0L2.9 -1.0L3.7 -1.0L4.5 -1.0L5.3 -1.0L6.1 -1.0L6.8 -1.0L7.6 -1.0L8.4 -1.0L9.2 -1.0L10.0 -1.0L10.8 -1.0L11.5 -1.0L12.3 -1.0L13.1 -1.0L13.9 -1.0L14.7 -1.0L15.5 -1.0L16.2 -1.0L17.0 -1.0L17.8 -1.0L18.6 -1.0L19.4 -1.0L20.2 -1.0L20.9 -1.0L21.7 -1.0L22.5 -1.0L23.3 -1.0L24.1 -1.0L24.9 -1.0L25.7 -1.0L26.4 -1.0L27.2 -1.0L28.0 -1.0L28.8 -1.0L29.6 -1.0L30.4 -1.0L31.1 -1.0L31.9 -1.0L32.7 -1.0L33.5 -1.0L34.3 -1.0L35.1 -1.0L35.8 -1.0L36.6 -1.0L37.4 -1.0L38.2 -1.0L39.0 -1.0L39.8 -1.0L40.5 -1.0L41.3 -1.0L42.1 -1.0L42.9 -1.0L43.7 -1.0L44.5 -1.0L45.3 -1.0L46.0 -1.0L46.8 -1.0L47.6 -1.0L48.4 -1.0L49.2 -1.0L50.0 -1.0L50.7 -1.0L51.5 -1.0L52.3 -1.0L53.1 -1.0L53.9 -1.0L54.7 -1.0L55.4 -1.0L56.2 -1.0L57.0 -1.0L57.8 -1.0L58.6 -1.0L59.4 -1.0L60.1 -1.0L60.9 -1.0L61.7 -1.0L62.5 -1.0L63.3 -1.0L64.1 -1.0L64.8 -1.0L65.6 -1.0L66.4 -1.0L67.2 -1.0L68.0 -1.0L68.8 -1.0L69.6 -1.0L70.3 -1.0L71.1 -1.0L71.9 -1.0L72.7 -1.0L73.5 -1.0L74.3 -1.0L75.0 -1.0L75.8 -1.0L76.6 -1.0L77.4 -1.0L78.2 -1.0L79.0 -1.0L79.7 -1.0L80.5 -1.0L81.3 -1.0L82.1 -1.0L82.9 -1.0L83.7 -1.0L84.4 -1.0L85.2 -1.0L86.0 -1.0L86.8 -1.0L87.6 -1.0L88.4 -1.0L89.2 -1.0L89.9 -1.0L90.7 -1.0L91.5 -1.0L92.3 -1.0L93.1 -1.0L93.9 -1.0L94.6 -1.0L95.4 -1.0L96.2 -1.0L97.0 -1.0L97.8 -1.0L98.6 -1.0L99.3 -1.0L100.1 -1.0L100.9 -1.0L101.7 -1.0L102.5 -1.0L103.3 -1.0L104.0 -1.0L104.8 -1.0L105.6 -1.0L106.4 -1.0L107.2 -1.0L108.0 -1.0L108.7 -1.0L109.5 -1.0L110.3 -1.0L111.1 -1.0L111.9 -1.0L112.7 -1.0L113.5 -1.0L114.2 -1.0L115.0 -1.0L115.8 -1.0L116.6 -1.0L117.4 -1.0L118.2 -1.0L118.9 -1.0L119.7 -1.0L120.5 -1.0L121.3 -1.0L122.1 -1.0L122.9 -1.0L123.6 -1.0L124.4 -1.0L125.2 -1.0L126.0 -1.0L126.8 -1.0L127.6 -1.0L128.3 -1.0L129.1 -1.0L129.9 -1.0L130.7 -1.0L131.5 -1.0L132.3 -1.0L133.1 -1.0L133.8 -1.0L134.6 -1.0L135.4 -1.0L136.2 -1.0L137.0 -1.0L137.8 -1.0L138.5 -1.0L139.3 -1.0L140.1 -1.0L140.9 -1.0L141.7 -1.0L142.5 -1.0L143.2 -1.0L144.0 -1.0L144.8 -1.0L145.6 -1.0L146.4 -1.0L147.2 -1.0L147.9 -1.0L148.7 -1.0L149.5 -1.0L150.3 -1.0L151.1 -1.0L151.9 -1.0L152.6 -1.0L153.4 -1.0L154.2 -1.0L155.0 -1.0L155.0 -0.2L155.0 0.5L155.0 1.3L155.0 2.1L155.0 2.8L155.0 3.6L155.0 4.4L155.0 5.1L155.0 5.9L155.0 6.7L155.0 7.4L155.0 8.2L155.0 9.0L155.0 9.7L155.0 10.5L155.0 11.3L155.0 12.0L155.0 12.8L155.0 13.6L155.0 14.3L155.0 15.1L155.0 15.9L155.0 16.6L155.0 17.4L155.0 18.2L155.0 18.9L155.0 19.7L155.0 20.5L155.0 21.2L155.0 22.0L155.0 22.8L155.0 23.5L155.0 24.3L155.0 25.0L155.0 25.8L155.0 26.6L155.0 27.3L155.0 28.1L155.0 28.9L155.0 29.6L155.0 30.4L155.0 31.2L155.0 31.9L155.0 32.7L155.0 33.5L155.0 34.2L155.0 35.0L155.0 35.8L155.0 36.5L155.0 37.3L155.0 38.1L155.0 38.8L155.0 39.6L155.0 40.4L155.0 41.1L155.0 41.9L155.0 42.7L155.0 43.4L155.0 44.2L155.0 45.0L155.0 45.7L155.0 46.5L155.0 47.3L155.0 48.0L155.0 48.8L155.0 49.6L155.0 50.3L155.0 51.1L155.0 51.9L155.0 52.6L155.0 53.4L155.0 54.2L155.0 54.9L155.0 55.7L155.0 56.5L155.0 57.2L155.0 58.0L155.0 58.8L155.0 59.5L155.0 60.3L155.0 61.1L155.0 61.8L155.0 62.6L155.0 63.4L155.0 64.1L155.0 64.9L155.0 65.7L155.0 66.4L155.0 67.2L155.0 68.0L155.0 68.7L155.0 69.5L155.0 70.3L155.0 71.0L155.0 71.8L155.0 72.5L155.0 73.3L155.0 74.1L155.0 74.8L155.0 75.6L155.0 76.4L155.0 77.1L155.0 77.9L155.0 78.7L155.0 79.4L155.0 80.2L155.0 81.0L155.0 81.7L155.0 82.5L155.0 83.3L155.0 84.0L155.0 84.8L155.0 85.6L155.0 86.3L155.0 87.1L155.0 87.9L155.0 88.6L155.0 89.4L155.0 90.2L155.0 90.9L155.0 91.7L155.0 92.5L155.0 93.2L155.0 94.0L155.0 94.8L155.0 95.5L155.0 96.3L155.0 97.1L155.0 97.8L155.0 98.6L155.0 99.4L155.0 100.1L155.0 100.9L155.0 101.7L155.0 102.4L155.0 103.2L155.0 104.0L155.0 104.7L155.0 105.5L155.0 106.3L155.0 107.0L155.0 107.8L155.0 108.6L155.0 109.3L155.0 110.1L155.0 110.9L155.0 111.6L155.0 112.4L155.0 113.2L155.0 113.9L155.0 114.7L155.0 115.5L155.0 116.2L155.0 117.0L155.0 117.8L155.0 118.5L155.0 119.3L155.0 120.0L155.0 120.8L155.0 121.6L155.0 122.3L155.0 123.1L155.0 123.9L155.0 124.6L155.0 125.4L155.0 126.2L155.0 126.9L155.0 127.7L155.0 128.5L155.0 129.2L155.0 130.0L155.0 130.8L155.0 131.5L155.0 132.3L155.0 133.1L155.0 133.8L155.0 134.6L155.0 135.4L155.0 136.1L155.0 136.9L155.0 137.7L155.0 138.4L155.0 139.2L155.0 140.0L155.0 140.7L155.0 141.5L155.0 142.3L155.0 143.0L155.0 143.8L154.2 143.8L153.4 143.8L152.6 143.8L151.9 143.8L151.1 143.8L150.3 143.8L149.5 143.8L148.7 143.8L147.9 143.8L147.2 143.8L146.4 143.8L145.6 143.8L144.8 143.8L144.0 143.8L143.2 143.8L142.5 143.8L141.7 143.8L140.9 143.8L140.1 143.8L139.3 143.8L138.5 143.8L137.8 143.8L137.0 143.8L136.2 143.8L135.4 143.8L134.6 143.8L133.8 143.8L133.1 143.8L132.3 143.8L131.5 143.8L130.7 143.8L129.9 143.8L129.1 143.8L128.3 143.8L127.6 143.8L126.8 143.8L126.0 143.8L125.2 143.8L124.4 143.8L123.6 143.8L122.9 143.8L122.1 143.8L121.3 143.8L120.5 143.8L119.7 143.8L118.9 143.8L118.2 143.8L117.4 143.8L116.6 143.8L115.8 143.8L115.0 143.8L114.2 143.8L113.5 143.8L112.7 143.8L111.9 143.8L111.1 143.8L110.3 143.8L109.5 143.8L108.7 143.8L108.0 143.8L107.2 143.8L106.4 143.8L105.6 143.8L104.8 143.8L104.0 143.8L103.3 143.8L102.5 143.8L101.7 143.8L100.9 143.8L100.1 143.8L99.3 143.8L98.6 143.8L97.8 143.8L97.0 143.8L96.2 143.8L95.4 143.8L94.6 143.8L93.9 143.8L93.1 143.8L92.3 143.8L91.5 143.8L90.7 143.8L89.9 143.8L89.2 143.8L88.4 143.8L87.6 143.8L86.8 143.8L86.0 143.8L85.2 143.8L84.4 143.8L83.7 143.8L82.9 143.8L82.1 143.8L81.3 143.8L80.5 143.8L79.7 143.8L79.0 143.8L78.2 143.8L77.4 143.8L76.6 143.8L76.4 143.8L76.4 143.0L76.4 142.3L76.3 141.5L76.3 140.7L76.2 140.0L76.0 139.2L75.9 138.4L75.8 138.1L75.7 137.7L75.5 136.9L75.3 136.1L75.1 135.4L75.0 135.3L74.8 134.6L74.5 133.8L74.3 133.4L74.1 133.1L73.8 132.3L73.5 131.7L73.4 131.5L73.0 130.8L72.7 130.3L72.5 130.0L72.0 129.2L71.9 129.1L71.5 128.5L71.1 127.9L71.0 127.7L70.4 126.9L70.3 126.9L69.8 126.2L69.6 125.9L69.2 125.4L68.8 125.0L68.5 124.6L68.0 124.1L67.8 123.9L67.2 123.3L67.0 123.1L66.4 122.5L66.3 122.3L65.6 121.8L65.4 121.6L64.8 121.1L64.6 120.8L64.1 120.4L63.7 120.0L63.3 119.7L62.8 119.3L62.5 119.1L61.8 118.5L61.7 118.5L60.9 117.9L60.8 117.8L60.1 117.3L59.7 117.0L59.4 116.8L58.6 116.2L58.6 116.2L57.8 115.7L57.4 115.5L57.0 115.2L56.2 114.7L56.2 114.7L55.4 114.2L54.9 113.9L54.7 113.8L53.9 113.3L53.6 113.2L53.1 112.9L52.3 112.5L52.2 112.4L51.5 112.0L50.7 111.6L50.7 111.6L50.0 111.2L49.2 110.9L49.2 110.8L48.4 110.5L47.6 110.1L47.6 110.1L46.8 109.7L46.0 109.4L45.9 109.3L45.3 109.0L44.5 108.7L44.1 108.6L43.7 108.4L42.9 108.1L42.2 107.8L42.1 107.7L41.3 107.4L40.5 107.1L40.3 107.0L39.8 106.8L39.0 106.6L38.2 106.3L38.2 106.3L37.4 106.0L36.6 105.7L35.9 105.5L35.8 105.5L35.1 105.2L34.3 105.0L33.6 104.7L33.5 104.7L32.7 104.5L31.9 104.2L31.1 104.0L31.0 104.0L30.4 103.8L29.6 103.6L28.8 103.3L28.3 103.2L28.0 103.1L27.2 102.9L26.4 102.7L25.7 102.5L25.3 102.4L24.9 102.3L24.1 102.1L23.3 102.0L22.5 101.8L21.9 101.7L21.7 101.6L20.9 101.4L20.2 101.3L19.4 101.1L18.6 101.0L18.3 100.9L17.8 100.8L17.0 100.7L16.2 100.5L15.5 100.4L14.7 100.2L14.0 100.1L13.9 100.1L13.1 100.0L12.3 99.9L11.5 99.7L10.8 99.6L10.0 99.5L9.2 99.4L9.0 99.4L8.4 99.3L7.6 99.2L6.8 99.1L6.1 99.0L5.3 98.9L4.5 98.8L3.7 98.7L2.9 98.6L2.4 98.6L2.1 98.6L1.4 98.5L0.6 98.4L-0.2 98.4L-1.0 98.3L-1.0 97.8L-1.0 97.1L-1.0 96.3L-1.0 95.5L-1.0 94.8L-1.0 94.0L-1.0 93.2L-1.0 92.5L-1.0 91.7L-1.0 90.9L-1.0 90.2L-1.0 89.4L-1.0 88.6L-1.0 87.9L-1.0 87.1L-1.0 86.3L-1.0 85.6L-1.0 84.8L-1.0 84.0L-1.0 83.3L-1.0 82.5L-1.0 81.7L-1.0 81.0L-1.0 80.2L-1.0 79.4L-1.0 78.7L-1.0 77.9L-1.0 77.1L-1.0 76.4L-1.0 75.6L-1.0 74.8L-1.0 74.1L-1.0 73.3L-1.0 72.5L-1.0 71.8L-1.0 71.0L-1.0 70.3L-1.0 69.5L-1.0 68.7L-1.0 68.0L-1.0 67.2L-1.0 66.4L-1.0 65.7L-1.0 64.9L-1.0 64.1L-1.0 63.4L-1.0 62.6L-1.0 61.8L-1.0 61.1L-1.0 60.3L-1.0 59.5L-1.0 58.8L-1.0 58.0L-1.0 57.2L-1.0 56.5L-1.0 55.7L-1.0 54.9L-1.0 54.2L-1.0 53.4L-1.0 52.6L-1.0 51.9L-1.0 51.1L-1.0 50.3L-1.0 49.6L-1.0 48.8L-1.0 48.0L-1.0 47.3L-1.0 46.5L-1.0 45.7L-1.0 45.0L-1.0 44.2L-1.0 43.4L-1.0 42.7L-1.0 41.9L-1.0 41.1L-1.0 40.4L-1.0 39.6L-1.0 38.8L-1.0 38.1L-1.0 37.3L-1.0 36.5L-1.0 35.8L-1.0 35.0L-1.0 34.2L-1.0 33.5L-1.0 32.7L-1.0 31.9L-1.0 31.2L-1.0 30.4L-1.0 29.6L-1.0 28.9L-1.0 28.1L-1.0 27.3L-1.0 26.6L-1.0 25.8L-1.0 25.0L-1.0 24.3L-1.0 23.5L-1.0 22.8L-1.0 22.0L-1.0 21.2L-1.0 20.5L-1.0 19.7L-1.0 18.9L-1.0 18.2L-1.0 17.4L-1.0 16.6L-1.0 15.9L-1.0 15.1L-1.0 14.3L-1.0 13.6L-1.0 12.8L-1.0 12.0L-1.0 11.3L-1.0 10.5L-1.0 9.7L-1.0 9.0L-1.0 8.2L-1.0 7.4L-1.0 6.7L-1.0 5.9L-1.0 5.1L-1.0 4.4L-1.0 3.6L-1.0 2.8L-1.0 2.1L-1.0 1.3L-1.0 0.5L-1.0 -0.2L-1.0 -1.0Z" fill="#9a8bb7"/>
<path d="M-0.2 -1.0L0.6 -1.0L1.4 -1.0L2.1 -1.0L2.9 -1.0L3.7 -1.0L4.5 -1.0L5.3 -1.0L6.1 -1.0L6.8 -1.0L7.6 -1.0L8.4 -1.0L9.2 -1.0L10.0 -1.0L10.8 -1.0L11.5 -1.0L12.3 -1.0L13.1 -1.0L13.9 -1.0L14.7 -1.0L15.5 -1.0L16.2 -1.0L17.0 -1.0L17.8 -1.0L18.6 -1.0L19.4 -1.0L20.2 -1.0L20.9 -1.0L21.7 -1.0L22.5 -1.0L23.3 -1.0L24.1 -1.0L24.9 -1.0L25.7 -1.0L26.4 -1.0L27.2 -1.0L28.0 -1.0L28.8 -1.0L29.6 -1.0L30.4 -1.0L31.1 -1.0L31.9 -1.0L32.7 -1.0L33.5 -1.0L34.3 -1.0L35.1 -1.0L35.8 -1.0L36.6 -1.0L37.4 -1.0L38.2 -1.0L39.0 -1.0L39.8 -1.0L40.5 -1.0L41.3 -1.0L42.1 -1.0L42.9 -1.0L43.7 -1.0L44.5 -1.0L45.3 -1.0L46.0 -1.0L46.8 -1.0L47.6 -1.0L48.4 -1.0L49.2 -1.0L50.0 -1.0L50.7 -1.0L51.5 -1.0L52.3 -1.0L53.1 -1.0L53.9 -1.0L54.7 -1.0L55.4 -1.0L56.2 -1.0L57.0 -1.0L57.8 -1.0L58.6 -1.0L59.4 -1.0L60.1 -1.0L60.9 -1.0L61.7 -1.0L62.5 -1.0L63.3 -1.0L64.1 -1.0L64.8 -1.0L65.6 -1.0L66.4 -1.0L67.2 -1.0L68.0 -1.0L68.8 -1.0L69.6 -1.0L70.3 -1.0L71.1 -1.0L71.9 -1.0L72.7 -1.0L73.5 -1.0L74.3 -1.0L75.0 -1.0L75.8 -1.0L76.6 -1.0L77.4 -1.0L78.2 -1.0L79.0 -1.0L79.7 -1.0L80.5 -1.0L81.3 -1.0L82.1 -1.0L82.9 -1.0L83.7 -1.0L84.4 -1.0L85.2 -1.0L86.0 -1.0L86.8 -1.0L87.6 -1.0L88.4 -1.0L89.2 -1.0L89.9 -1.0L90.7 -1.0L91.5 -1.0L92.3 -1.0L93.1 -1.0L93.9 -1.0L94.6 -1.0L95.4 -1.0L96.2 -1.0L97.0 -1.0L97.8 -1.0L98.6 -1.0L99.3 -1.0L100.1 -1.0L100.9 -1.0L101.7 -1.0L102.5 -1.0L103.3 -1.0L104.0 -1.0L104.8 -1.0L105.6 -1.0L106.4 -1.0L107.2 -1.0L108.0 -1.0L108.7 -1.0L109.5 -1.0L110.3 -1.0L111.1 -1.0L111.9 -1.0L112.7 -1.0L113.5 -1.0L114.2 -1.0L115.0 -1.0L115.8 -1.0L116.6 -1.0L117.4 -1.0L118.2 -1.0L118.9 -1.0L119.7 -1.0L120.5 -1.0L121.3 -1.0L122.1 -1.0L122.9 -1.0L123.6 -1.0L124.4 -1.0L125.2 -1.0L126.0 -1.0L126.8 -1.0L127.6 -1.0L128.3 -1.0L129.1 -1.0L129.9 -1.0L130.7 -1.0L131.5 -1.0L132.3 -1.0L133.1 -1.0L133.8 -1.0L134.6 -1.0L135.4 -1.0L136.2 -1.0L137.0 -1.0L137.8 -1.0L138.5 -1.0L139.3 -1.0L140.1 -1.0L140.9 -1.0L141.7 -1.0L142.5 -1.0L143.2 -1.0L144.0 -1.0L144.8 -1.0L145.6 -1.0L146.4 -1.0L147.2 -1.0L147.9 -1.0L148.7 -1.0L149.5 -1.0L150.3 -1.0L151.1 -1.0L151.9 -1.0L152.6 -1.0L153.4 -1.0L154.2 -1.0L155.0 -1.0L155.0 -0.2L155.0 0.5L155.0 1.3L155.0 2.1L155.0 2.8L155.0 3.6L155.0 4.4L155.0 5.1L155.0 5.9L155.0 6.7L155.0 7.4L155.0 8.2L155.0 9.0L155.0 9.7L155.0 10.5L155.0 11.3L155.0 12.0L155.0 12.8L155.0 13.6L155.0 14.3L155.0 15.1L155.0 15.9L155.0 16.6L155.0 17.4L155.0 18.2L155.0 18.9L155.0 19.7L155.0 20.5L155.0 21.2L155.0 22.0L155.0 22.8L155.0 23.5L155.0 24.3L155.0 25.0L155.0 25.8L155.0 26.6L155.0 27.3L155.0 28.1L155.0 28.9L155.0 29.6L155.0 30.4L155.0 31.2L155.0 31.9L155.0 32.7L155.0 33.5L155.0 34.2L155.0 35.0L155.0 35.8L155.0 36.5L155.0 37.3L155.0 38.1L155.0 38.8L155.0 39.6L155.0 40.4L155.0 41.1L155.0 41.9L155.0 42.7L155.0 43.4L155.0 44.2L155.0 45.0L155.0 45.7L155.0 46.5L155.0 47.3L155.0 48.0L155.0 48.8L155.0 49.6L155.0 50.3L155.0 51.1L155.0 51.9L155.0 52.6L155.0 53.4L155.0 54.2L155.0 54.9L155.0 55.7L155.0 56.5L155.0 57.2L155.0 58.0L155.0 58.8L155.0 59.5L155.0 60.3L155.0 61.1L155.0 61.8L155.0 62.6L155.0 63.4L155.0 64.1L155.0 64.9L155.0 65.7L155.0 66.4L155.0 67.2L155.0 68.0L155.0 68.7L155.0 69.5L155.0 70.3L155.0 71.0L155.0 71.8L155.0 72.5L155.0 73.3L155.0 74.1L155.0 74.8L155.0 75.6L155.0 76.4L155.0 77.1L155.0 77.9L155.0 78.7L155.0 79.4L155.0 80.2L155.0 81.0L155.0 81.7L155.0 82.5L155.0 83.3L155.0 84.0L155.0 84.8L155.0 85.6L155.0 86.3L155.0 87.1L155.0 87.9L155.0 88.6L155.0 89.4L155.0 90.2L155.0 90.9L155.0 91.7L155.0 92.5L155.0 93.2L155.0 94.0L155.0 94.8L155.0 95.5L155.0 96.3L155.0 97.1L155.0 97.8L155.0 98.6L155.0 99.4L155.0 100.1L155.0 100.9L155.0 101.7L155.0 102.4L155.0 103.2L155.0 104.0L155.0 104.7L155.0 105.5L155.0 106.3L155.0 107.0L155.0 107.8L155.0 108.6L155.0 109.3L155.0 110.1L155.0 110.9L155.0 111.6L155.0 112.4L155.0 113.2L155.0 113.9L155.0 114.7L155.0 115.5L155.0 116.2L155.0 117.0L155.0 117.8L155.0 118.5L155.0 119.3L155.0 120.0L155.0 120.8L155.0 121.6L155.0 122.3L155.0 123.1L155.0 123.9L155.0 124.6L155.0 125.4L155.0 126.2L155.0 126.9L155.0 127.7L155.0 128.5L155.0 129.2L155.0 130.0L155.0 130.8L155.0 131.5L155.0 132.3L155.0 133.1L155.0 133.8L155.0 134.6L155.0 135.4L155.0 136.1L155.0 136.9L155.0 137.7L155.0 138.4L155.0 139.2L155.0 140.0L155.0 140.7L155.0 141.5L155.0 142.3L155.0 143.0L155.0 143.8L154.2 143.8L153.4 143.8L152.6 143.8L151.9 143.8L151.1 143.8L150.3 143.8L149.5 143.8L148.7 143.8L147.9 143.8L147.2 143.8L146.4 143.8L145.6 143.8L144.8 143.8L144.0 143.8L143.2 143.8L142.5 143.8L141.7 143.8L140.9 143.8L140.1 143.8L139.3 143.8L138.5 143.8L137.8 143.8L137.0 143.8L136.2 143.8L135.4 143.8L134.6 143.8L133.8 143.8L133.1 143.8L132.3 143.8L131.5 143.8L130.7 143.8L129.9 143.8L129.1 143.8L128.3 143.8L127.6 143.8L126.8 143.8L126.0 143.8L125.2 143.8L124.4 143.8L123.6 143.8L122.9 143.8L122.1 143.8L121.3 143.8L120.5 143.8L119.7 143.8L118.9 143.8L118.2 143.8L117.4 143.8L116.6 143.8L115.8 143.8L115.0 143.8L114.2 143.8L113.5 143.8L112.7 143.8L111.9 143.8L111.1 143.8L110.3 143.8L109.5 143.8L108.7 143.8L108.0 143.8L107.2 143.8L106.4 143.8L105.6 143.8L104.8 143.8L104.0 143.8L103.3 143.8L102.5 143.8L101.7 143.8L100.9 143.8L100.1 143.8L99.5 143.8L99.5 143.0L99.5 142.3L99.5 141.5L99.4 140.7L99.4 140.0L99.3 139.9L99.3 139.2L99.1 138.4L99.0 137.7L98.9 136.9L98.7 136.1L98.6 135.7L98.5 135.4L98.2 134.6L98.0 133.8L97.8 133.2L97.7 133.1L97.5 132.3L97.1 131.5L97.0 131.2L96.8 130.8L96.5 130.0L96.2 129.5L96.1 129.2L95.7 128.5L95.4 128.0L95.3 127.7L94.8 126.9L94.6 126.7L94.3 126.2L93.9 125.4L93.8 125.4L93.3 124.6L93.1 124.3L92.8 123.9L92.3 123.2L92.2 123.1L91.6 122.3L91.5 122.2L91.0 121.6L90.7 121.3L90.3 120.8L89.9 120.4L89.7 120.0L89.2 119.5L89.0 119.3L88.4 118.7L88.2 118.5L87.6 117.9L87.5 117.8L86.8 117.1L86.7 117.0L86.0 116.4L85.9 116.2L85.2 115.6L85.0 115.5L84.4 115.0L84.1 114.7L83.7 114.3L83.2 113.9L82.9 113.6L82.3 113.2L82.1 113.0L81.3 112.4L81.3 112.4L80.5 111.8L80.3 111.6L79.7 111.2L79.2 110.9L79.0 110.7L78.2 110.1L78.1 110.1L77.4 109.6L77.0 109.3L76.6 109.1L75.8 108.6L75.8 108.5L75.0 108.0L74.6 107.8L74.3 107.6L73.5 107.1L73.4 107.0L72.7 106.6L72.1 106.3L71.9 106.2L71.1 105.7L70.7 105.5L70.3 105.3L69.6 104.8L69.3 104.7L68.8 104.4L68.0 104.0L67.9 104.0L67.2 103.6L66.4 103.2L66.4 103.2L65.6 102.8L64.8 102.4L64.8 102.4L64.1 102.1L63.3 101.7L63.2 101.7L62.5 101.3L61.7 101.0L61.5 100.9L60.9 100.6L60.1 100.3L59.7 100.1L59.4 100.0L58.6 99.6L57.9 99.4L57.8 99.3L57.0 99.0L56.2 98.7L56.0 98.6L55.4 98.4L54.7 98.1L54.0 97.8L53.9 97.8L53.1 97.5L52.3 97.2L51.9 97.1L51.5 96.9L50.7 96.7L50.0 96.4L49.7 96.3L49.2 96.1L48.4 95.9L47.6 95.6L47.3 95.5L46.8 95.4L46.0 95.1L45.3 94.9L44.9 94.8L44.5 94.6L43.7 94.4L42.9 94.2L42.3 94.0L42.1 93.9L41.3 93.7L40.5 93.5L39.8 93.3L39.5 93.2L39.0 93.1L38.2 92.9L37.4 92.7L36.6 92.5L36.6 92.5L35.8 92.3L35.1 92.1L34.3 91.9L33.5 91.7L33.4 91.7L32.7 91.5L31.9 91.4L31.1 91.2L30.4 91.0L29.9 90.9L29.6 90.9L28.8 90.7L28.0 90.5L27.2 90.4L26.4 90.2L26.2 90.2L25.7 90.1L24.9 89.9L24.1 89.8L23.3 89.6L22.5 89.5L21.9 89.4L21.7 89.4L20.9 89.2L20.2 89.1L19.4 89.0L18.6 88.9L17.8 88.8L17.0 88.6L17.0 88.6L16.2 88.5L15.5 88.4L14.7 88.3L13.9 88.2L13.1 88.1L12.3 88.0L11.5 87.9L11.2 87.9L10.8 87.8L10.0 87.7L9.2 87.6L8.4 87.6L7.6 87.5L6.8 87.4L6.1 87.3L5.3 87.3L4.5 87.2L3.7 87.1L3.5 87.1L2.9 87.1L2.1 87.0L1.4 86.9L0.6 86.9L-0.2 86.8L-1.0 86.8L-1.0 86.3L-1.0 85.6L-1.0 84.8L-1.0 84.0L-1.0 83.3L-1.0 82.5L-1.0 81.7L-1.0 81.0L-1.0 80.2L-1.0 79.4L-1.0 78.7L-1.0 77.9L-1.0 77.1L-1.0 76.4L-1.0 75.6L-1.0 74.8L-1.0 74.1L-1.0 73.3L-1.0 72.5L-1.0 71.8L-1.0 71.0L-1.0 70.3L-1.0 69.5L-1.0 68.7L-1.0 68.0L-1.0 67.2L-1.0 66.4L-1.0 65.7L-1.0 64.9L-1.0 64.1L-1.0 63.4L-1.0 62.6L-1.0 61.8L-1.0 61.1L-1.0 60.3L-1.0 59.5L-1.0 58.8L-1.0 58.0L-1.0 57.2L-1.0 56.5L-1.0 55.7L-1.0 54.9L-1.0 54.2L-1.0 53.4L-1.0 52.6L-1.0 51.9L-1.0 51.1L-1.0 50.3L-1.0 49.6L-1.0 48.8L-1.0 48.0L-1.0 47.3L-1.0 46.5L-1.0 45.7L-1.0 45.0L-1.0 44.2L-1.0 43.4L-1.0 42.7L-1.0 41.9L-1.0 41.1L-1.0 40.4L-1.0 39.6L-1.0 38.8L-1.0 38.1L-1.0 37.3L-1.0 36.5L-1.0 35.8L-1.0 35.0L-1.0 34.2L-1.0 33.5L-1.0 32.7L-1.0 31.9L-1.0 31.2L-1.0 30.4L-1.0 29.6L-1.0 28.9L-1.0 28.1L-1.0 27.3L-1.0 26.6L-1.0 25.8L-1.0 25.0L-1.0 24.3L-1.0 23.5L-1.0 22.8L-1.0 22.0L-1.0 21.2L-1.0 20.5L-1.0 19.7L-1.0 18.9L-1.0 18.2L-1.0 17.4L-1.0 16.6L-1.0 15.9L-1.0 15.1L-1.0 14.3L-1.0 13.6L-1.0 12.8L-1.0 12.0L-1.0 11.3L-1.0 10.5L-1.0 9.7L-1.0 9.0L-1.0 8.2L-1.0 7.4L-1.0 6.7L-1.0 5.9L-1.0 5.1L-1.0 4.4L-1.0 3.6L-1.0 2.8L-1.0 2.1L-1.0 1.3L-1.0 0.5L-1.0 -0.2L-1.0 -1.0Z" fill="#9893bb"/>
<path d="M-0.2 -1.0L0.6 -1.0L1.4 -1.0L2.1 -1.0L2.9 -1.0L3.7 -1.0L4.5 -1.0L5.3 -1.0L6.1 -1.0L6.8 -1.0L7.6 -1.0L8.4 -1.0L9.2 -1.0L10.0 -1.0L10.8 -1.0L11.5 -1.0L12.3 -1.0L13.1 -1.0L13.9 -1.0L14.7 -1.0L15.5 -1.0L16.2 -1.0L17.0 -1.0L17.8 -1.0L18.6 -1.0L19.4 -1.0L20.2 -1.0L20.9 -1.0L21.7 -1.0L22.5 -1.0L23.3 -1.0L24.1 -1.0L24.9 -1.0L25.7 -1.0L26.4 -1.0L27.2 -1.0L28.0 -1.0L28.8 -1.0L29.6 -1.0L30.4 -1.0L31.1 -1.0L31.9 -1.0L32.7 -1.0L33.5 -1.0L34.3 -1.0L35.1 -1.0L35.8 -1.0L36.6 -1.0L37.4 -1.0L38.2 -1.0L39.0 -1.0L39.8 -1.0L40.5 -1.0L41.3 -1.0L42.1 -1.0L42.9 -1.0L43.7 -1.0L44.5 -1.0L45.3 -1.0L46.0 -1.0L46.8 -1.0L47.6 -1.0L48.4 -1.0L49.2 -1.0L50.0 -1.0L50.7 -1.0L51.5 -1.0L52.3 -1.0L53.1 -1.0L53.9 -1.0L54.7 -1.0L55.4 -1.0L56.2 -1.0L57.0 -1.0L57.8 -1.0L58.6 -1.0L59.4 -1.0L60.1 -1.0L60.9 -1.0L61.7 -1.0L62.5 -1.0L63.3 -1.0L64.1 -1.0L64.8 -1.0L65.6 -1.0L66.4 -1.0L67.2 -1.0L68.0 -1.0L68.8 -1.0L69.6 -1.0L70.3 -1.0L71.1 -1.0L71.9 -1.0L72.7 -1.0L73.5 -1.0L74.3 -1.0L75.0 -1.0L75.8 -1.0L76.6 -1.0L77.4 -1.0L78.2 -1.0L79.0 -1.0L79.7 -1.0L80.5 -1.0L81.3 -1.0L82.1 -1.0L82.9 -1.0L83.7 -1.0L84.4 -1.0L85.2 -1.0L86.0 -1.0L86.8 -1.0L87.6 -1.0L88.4 -1.0L89.2 -1.0L89.9 -1.0L90.7 -1.0L91.5 -1.0L92.3 -1.0L93.1 -1.0L93.9 -1.0L94.6 -1.0L95.4 -1.0L96.2 -1.0L97.0 -1.0L97.8 -1.0L98.6 -1.0L99.3 -1.0L100.1 -1.0L100.9 -1.0L101.7 -1.0L102.5 -1.0L103.3 -1.0L104.0 -1.0L104.8 -1.0L105.6 -1.0L106.4 -1.0L107.2 -1.0L108.0 -1.0L108.7 -1.0L109.5 -1.0L110.3 -1.0L111.1 -1.0L111.9 -1.0L112.7 -1.0L113.5 -1.0L114.2 -1.0L115.0 -1.0L115.8 -1.0L116.6 -1.0L117.4 -1.0L118.2 -1.0L118.9 -1.0L119.7 -1.0L120.5 -1.0L121.3 -1.0L122.1 -1.0L122.9 -1.0L123.6 -1.0L124.4 -1.0L125.2 -1.0L126.0 -1.0L126.8 -1.0L127.6 -1.0L128.3 -1.0L129.1 -1.0L129.9 -1.0L130.7 -1.0L131.5 -1.0L132.3 -1.0L133.1 -1.0L133.8 -1.0L134.6 -1.0L135.4 -1.0L136.2 -1.0L137.0 -1.0L137.8 -1.0L138.5 -1.0L139.3 -1.0L140.1 -1.0L140.9 -1.0L141.7 -1.0L142.5 -1.0L143.2 -1.0L144.0 -1.0L144.8 -1.0L145.6 -1.0L146.4 -1.0L147.2 -1.0L147.9 -1.0L148.7 -1.0L149.5 -1.0L150.3 -1.0L151.1 -1.0L151.9 -1.0L152.6 -1.0L153.4 -1.0L154.2 -1.0L155.0 -1.0L155.0 -0.2L155.0 0.5L155.0 1.3L155.0 2.1L155.0 2.8L155.0 3.6L155.0 4.4L155.0 5.1L155.0 5.9L155.0 6.7L155.0 7.4L155.0 8.2L155.0 9.0L155.0 9.7L155.0 10.5L155.0 11.3L155.0 12.0L155.0 12.8L155.0 13.6L155.0 14.3L155.0 15.1L155.0 15.9L155.0 16.6L155.0 17.4L155.0 18.2L155.0 18.9L155.0 19.7L155.0 20.5L155.0 21.2L155.0 22.0L155.0 22.8L155.0 23.5L155.0 24.3L155.0 25.0L155.0 25.8L155.0 26.6L155.0 27.3L155.0 28.1L155.0 28.9L155.0 29.6L155.0 30.4L155.0 31.2L155.0 31.9L155.0 32.7L155.0 33.5L155.0 34.2L155.0 35.0L155.0 35.8L155.0 36.5L155.0 37.3L155.0 38.1L155.0 38.8L155.0 39.6L155.0 40.4L155.0 41.1L155.0 41.9L155.0 42.7L155.0 43.4L155.0 44.2L155.0 45.0L155.0 45.7L155.0 46.5L155.0 47.3L155.0 48.0L155.0 48.8L155.0 49.6L155.0 50.3L155.0 51.1L155.0 51.9L155.0 52.6L155.0 53.4L155.0 54.2L155.0 54.9L155.0 55.7L155.0 56.5L155.0 57.2L155.0 58.0L155.0 58.8L155.0 59.5L155.0 60.3L155.0 61.1L155.0 61.8L155.0 62.6L155.0 63.4L155.0 64.1L155.0 64.9L155.0 65.7L155.0 66.4L155.0 67.2L155.0 68.0L155.0 68.7L155.0 69.5L155.0 70.3L155.0 71.0L155.0 71.8L155.0 72.5L155.0 73.3L155.0 74.1L155.0 74.8L155.0 75.6L155.0 76.4L155.0 77.1L155.0 77.9L155.0 78.7L155.0 79.4L155.0 80.2L155.0 81.0L155.0 81.7L155.0 82.5L155.0 83.3L155.0 84.0L155.0 84.8L155.0 85.6L155.0 86.3L155.0 87.1L155.0 87.9L155.0 88.6L155.0 89.4L155.0 90.2L155.0 90.9L155.0 91.7L155.0 92.5L155.0 93.2L155.0 94.0L155.0 94.8L155.0 95.5L155.0 96.3L155.0 97.1L155.0 97.8L155.0 98.6L155.0 99.4L155.0 100.1L155.0 100.9L155.0 101.7L155.0 102.4L155.0 103.2L155.0 104.0L155.0 104.7L155.0 105.5L155.0 106.3L155.0 107.0L155.0 107.8L155.0 108.6L155.0 109.3L155.0 110.1L155.0 110.9L155.0 111.6L155.0 112.4L155.0 113.2L155.0 113.9L155.0 114.7L155.0 115.5L155.0 116.2L155.0 117.0L155.0 117.8L155.0 118.5L155.0 119.3L155.0 120.0L155.0 120.8L155.0 121.6L155.0 122.3L155.0 123.1L155.0 123.9L155.0 124.6L155.0 125.4L155.0 126.2L155.0 126.9L155.0 127.7L155.0 128.5L155.0 129.2L155.0 130.0L155.0 130.8L155.0 131.5L155.0 132.3L155.0 133.1L155.0 133.8L155.0 134.6L155.0 135.4L155.0 136.1L155.0 136.9L155.0 137.7L155.0 138.4L155.0 139.2L155.0 140.0L155.0 140.7L155.0 141.5L155.0 142.3L155.0 143.0L155.0 143.8L154.2 143.8L153.4 143.8L152.6 143.8L151.9 143.8L151.1 143.8L150.3 143.8L149.5 143.8L148.7 143.8L147.9 143.8L147.2 143.8L146.4 143.8L145.6 143.8L144.8 143.8L144.0 143.8L143.2 143.8L142.5 143.8L141.7 143.8L140.9 143.8L140.1 143.8L139.3 143.8L138.5 143.8L137.8 143.8L137.0 143.8L136.2 143.8L135.4 143.8L134.6 143.8L133.8 143.8L133.1 143.8L132.3 143.8L131.5 143.8L130.7 143.8L129.9 143.8L129.1 143.8L128.3 143.8L127.6 143.8L126.8 143.8L126.0 143.8L125.2 143.8L124.4 143.8L123.6 143.8L122.9 143.8L122.1 143.8L121.3 143.8L120.5 143.8L119.7 143.8L119.6 143.8L119.6 143.0L119.6 142.3L119.6 141.5L119.5 140.7L119.5 140.0L119.4 139.2L119.3 138.4L119.2 137.7L119.1 136.9L118.9 136.3L118.9 136.1L118.7 135.4L118.5 134.6L118.3 133.8L118.2 133.2L118.1 133.1L117.9 132.3L117.6 131.5L117.4 130.9L117.3 130.8L117.0 130.0L116.7 129.2L116.6 129.0L116.4 128.5L116.0 127.7L115.8 127.3L115.6 126.9L115.2 126.2L115.0 125.8L114.8 125.4L114.4 124.6L114.2 124.4L113.9 123.9L113.5 123.1L113.5 123.1L113.0 122.3L112.7 121.9L112.4 121.6L111.9 120.8L111.9 120.8L111.3 120.0L111.1 119.7L110.8 119.3L110.3 118.7L110.2 118.5L109.5 117.8L109.5 117.8L108.9 117.0L108.7 116.8L108.2 116.2L108.0 115.9L107.5 115.5L107.2 115.1L106.8 114.7L106.4 114.3L106.1 113.9L105.6 113.5L105.3 113.2L104.8 112.7L104.5 112.4L104.0 112.0L103.7 111.6L103.3 111.2L102.8 110.9L102.5 110.5L102.0 110.1L101.7 109.9L101.1 109.3L100.9 109.2L100.1 108.6L100.1 108.5L99.3 107.9L99.2 107.8L98.6 107.3L98.2 107.0L97.8 106.7L97.2 106.3L97.0 106.1L96.2 105.5L96.1 105.5L95.4 105.0L95.1 104.7L94.6 104.4L94.0 104.0L93.9 103.9L93.1 103.4L92.8 103.2L92.3 102.8L91.6 102.4L91.5 102.3L90.7 101.8L90.4 101.7L89.9 101.4L89.2 100.9L89.2 100.9L88.4 100.4L87.9 100.1L87.6 100.0L86.8 99.5L86.6 99.4L86.0 99.1L85.2 98.6L85.2 98.6L84.4 98.2L83.8 97.8L83.7 97.8L82.9 97.4L82.3 97.1L82.1 97.0L81.3 96.6L80.8 96.3L80.5 96.2L79.7 95.8L79.3 95.5L79.0 95.4L78.2 95.0L77.7 94.8L77.4 94.6L76.6 94.3L76.0 94.0L75.8 93.9L75.0 93.6L74.3 93.2L74.3 93.2L73.5 92.9L72.7 92.6L72.5 92.5L71.9 92.2L71.1 91.9L70.6 91.7L70.3 91.6L69.6 91.3L68.8 91.0L68.7 90.9L68.0 90.6L67.2 90.3L66.7 90.2L66.4 90.0L65.6 89.8L64.8 89.5L64.7 89.4L64.1 89.2L63.3 88.9L62.5 88.6L62.5 88.6L61.7 88.4L60.9 88.1L60.3 87.9L60.1 87.8L59.4 87.6L58.6 87.3L57.9 87.1L57.8 87.1L57.0 86.8L56.2 86.6L55.5 86.3L55.4 86.3L54.7 86.1L53.9 85.9L53.1 85.6L52.9 85.6L52.3 85.4L51.5 85.2L50.7 85.0L50.2 84.8L50.0 84.8L49.2 84.5L48.4 84.3L47.6 84.1L47.3 84.0L46.8 83.9L46.0 83.7L45.3 83.5L44.5 83.3L44.2 83.3L43.7 83.1L42.9 83.0L42.1 82.8L41.3 82.6L41.0 82.5L40.5 82.4L39.8 82.2L39.0 82.1L38.2 81.9L37.5 81.7L37.4 81.7L36.6 81.6L35.8 81.4L35.1 81.3L34.3 81.1L33.6 81.0L33.5 80.9L32.7 80.8L31.9 80.7L31.1 80.5L30.4 80.4L29.6 80.2L29.5 80.2L28.8 80.1L28.0 80.0L27.2 79.8L26.4 79.7L25.7 79.6L24.9 79.5L24.8 79.4L24.1 79.3L23.3 79.2L22.5 79.1L21.7 79.0L20.9 78.9L20.2 78.8L19.4 78.7L19.4 78.7L18.6 78.6L17.8 78.5L17.0 78.4L16.2 78.3L15.5 78.2L14.7 78.1L13.9 78.0L13.1 77.9L13.0 77.9L12.3 77.8L11.5 77.8L10.8 77.7L10.0 77.6L9.2 77.5L8.4 77.5L7.6 77.4L6.8 77.3L6.1 77.3L5.3 77.2L4.5 77.1L4.4 77.1L3.7 77.1L2.9 77.0L2.1 77.0L1.4 76.9L0.6 76.9L-0.2 76.8L-1.0 76.8L-1.0 76.4L-1.0 75.6L-1.0 74.8L-1.0 74.1L-1.0 73.3L-1.0 72.5L-1.0 71.8L-1.0 71.0L-1.0 70.3L-1.0 69.5L-1.0 68.7L-1.0 68.0L-1.0 67.2L-1.0 66.4L-1.0 65.7L-1.0 64.9L-1.0 64.1L-1.0 63.4L-1.0 62.6L-1.0 61.8L-1.0 61.1L-1.0 60.3L-1.0 59.5L-1.0 58.8L-1.0 58.0L-1.0 57.2L-1.0 56.5L-1.0 55.7L-1.0 54.9L-1.0 54.2L-1.0 53.4L-1.0 52.6L-1.0 51.9L-1.0 51.1L-1.0 50.3L-1.0 49.6L-1.0 48.8L-1.0 48.0L-1.0 47.3L-1.0 46.5L-1.0 45.7L-1.0 45.0L-1.0 44.2L-1.0 43.4L-1.0 42.7L-1.0 41.9L-1.0 41.1L-1.0 40.4L-1.0 39.6L-1.0 38.8L-1.0 38.1L-1.0 37.3L-1.0 36.5L-1.0 35.8L-1.0 35.0L-1.0 34.2L-1.0 33.5L-1.0 32.7L-1.0 31.9L-1.0 31.2L-1.0 30.4L-1.0 29.6L-1.0 28.9L-1.0 28.1L-1.0 27.3L-1.0 26.6L-1.0 25.8L-1.0 25.0L-1.0 24.3L-1.0 23.5L-1.0 22.8L-1.0 22.0L-1.0 21.2L-1.0 20.5L-1.0 19.7L-1.0 18.9L-1.0 18.2L-1.0 17.4L-1.0 16.6L-1.0 15.9L-1.0 15.1L-1.0 14.3L-1.0 13.6L-1.0 12.8L-1.0 12.0L-1.0 11.3L-1.0 10.5L-1.0 9.7L-1.0 9.0L-1.0 8.2L-1.0 7.4L-1.0 6.7L-1.0 5.9L-1.0 5.1L-1.0 4.4L-1.0 3.6L-1.0 2.8L-1.0 2.1L-1.0 1.3L-1.0 0.5L-1.0 -0.2L-1.0 -1.0Z" fill="#959cbe"/>
<path d="M-0.2 -1.0L0.6 -1.0L1.4 -1.0L2.1 -1.0L2.9 -1.0L3.7 -1.0L4.5 -1.0L5.3 -1.0L6.1 -1.0L6.8 -1.0L7.6 -1.0L8.4 -1.0L9.2 -1.0L10.0 -1.0L10.8 -1.0L11.5 -1.0L12.3 -1.0L13.1 -1.0L13.9 -1.0L14.7 -1.0L15.5 -1.0L16.2 -1.0L17.0 -1.0L17.8 -1.0L18.6 -1.0L19.4 -1.0L20.2 -1.0L20.9 -1.0L21.7 -1.0L22.5 -1.0L23.3 -1.0L24.1 -1.0L24.9 -1.0L25.7 -1.0L26.4 -1.0L27.2 -1.0L28.0 -1.0L28.8 -1.0L29.6 -1.0L30.4 -1.0L31.1 -1.0L31.9 -1.0L32.7 -1.0L33.5 -1.0L34.3 -1.0L35.1 -1.0L35.8 -1.0L36.6 -1.0L37.4 -1.0L38.2 -1.0L39.0 -1.0L39.8 -1.0L40.5 -1.0L41.3 -1.0L42.1 -1.0L42.9 -1.0L43.7 -1.0L44.5 -1.0L45.3 -1.0L46.0 -1.0L46.8 -1.0L47.6 -1.0L48.4 -1.0L49.2 -1.0L50.0 -1.0L50.7 -1.0L51.5 -1.0L52.3 -1.0L53.1 -1.0L53.9 -1.0L54.7 -1.0L55.4 -1.0L56.2 -1.0L57.0 -1.0L57.8 -1.0L58.6 -1.0L59.4 -1.0L60.1 -1.0L60.9 -1.0L61.7 -1.0L62.5 -1.0L63.3 -1.0L64.1 -1.0L64.8 -1.0L65.6 -1.0L66.4 -1.0L67.2 -1.0L68.0 -1.0L68.8 -1.0L69.6 -1.0L70.3 -1.0L71.1 -1.0L71.9 -1.0L72.7 -1.0L73.5 -1.0L74.3 -1.0L75.0 -1.0L75.8 -1.0L76.6 -1.0L77.4 -1.0L78.2 -1.0L79.0 -1.0L79.7 -1.0L80.5 -1.0L81.3 -1.0L82.1 -1.0L82.9 -1.0L83.7 -1.0L84.4 -1.0L85.2 -1.0L86.0 -1.0L86.8 -1.0L87.6 -1.0L88.4 -1.0L89.2 -1.0L89.9 -1.0L90.7 -1.0L91.5 -1.0L92.3 -1.0L93.1 -1.0L93.9 -1.0L94.6 -1.0L95.4 -1.0L96.2 -1.0L97.0 -1.0L97.8 -1.0L98.6 -1.0L99.3 -1.0L100.1 -1.0L100.9 -1.0L101.7 -1.0L102.5 -1.0L103.3 -1.0L104.0 -1.0L104.8 -1.0L105.6 -1.0L106.4 -1.0L107.2 -1.0L108.0 -1.0L108.7 -1.0L109.5 -1.0L110.3 -1.0L111.1 -1.0L111.9 -1.0L112.7 -1.0L113.5 -1.0L114.2 -1.0L115.0 -1.0L115.8 -1.0L116.6 -1.0L117.4 -1.0L118.2 -1.0L118.9 -1.0L119.7 -1.0L120.5 -1.0L121.3 -1.0L122.1 -1.0L122.9 -1.0L123.6 -1.0L124.4 -1.0L125.2 -1.0L126.0 -1.0L126.8 -1.0L127.6 -1.0L128.3 -1.0L129.1 -1.0L129.9 -1.0L130.7 -1.0L131.5 -1.0L132.3 -1.0L133.1 -1.0L133.8 -1.0L134.6 -1.0L135.4 -1.0L136.2 -1.0L137.0 -1.0L137.8 -1.0L138.5 -1.0L139.3 -1.0L140.1 -1.0L140.9 -1.0L141.7 -1.0L142.5 -1.0L143.2 -1.0L144.0 -1.0L144.8 -1.0L145.6 -1.0L146.4 -1.0L147.2 -1.0L147.9 -1.0L148.7 -1.0L149.5 -1.0L150.3 -1.0L151.1 -1.0L151.9 -1.0L152.6 -1.0L153.4 -1.0L154.2 -1.0L155.0 -1.0L155.0 -0.2L155.0 0.5L155.0 1.3L155.0 2.1L155.0 2.8L155.0 3.6L155.0 4.4L155.0 5.1L155.0 5.9L155.0 6.7L155.0 7.4L155.0 8.2L155.0 9.0L155.0 9.7L155.0 10.5L155.0 11.3L155.0 12.0L155.0 12.8L155.0 13.6L155.0 14.3L155.0 15.1L155.0 15.9L155.0 16.6L155.0 17.4L155.0 18.2L155.0 18.9L155.0 19.7L155.0 20.5L155.0 21.2L155.0 22.0L155.0 22.8L155.0 23.5L155.0 24.3L155.0 25.0L155.0 25.8L155.0 26.6L155.0 27.3L155.0 28.1L155.0 28.9L155.0 29.6L155.0 30.4L155.0 31.2L155.0 31.9L155.0 32.7L155.0 33.5L155.0 34.2L155.0 35.0L155.0 35.8L155.0 36.5L155.0 37.3L155.0 38.1L155.0 38.8L155.0 39.6L155.0 40.4L155.0 41.1L155.0 41.9L155.0 42.7L155.0 43.4L155.0 44.2L155.0 45.0L155.0 45.7L155.0 46.5L155.0 47.3L155.0 48.0L155.0 48.8L155.0 49.6L155.0 50.3L155.0 51.1L155.0 51.9L155.0 52.6L155.0 53.4L155.0 54.2L155.0 54.9L155.0 55.7L155.0 56.5L155.0 57.2L155.0 58.0L155.0 58.8L155.0 59.5L155.0 60.3L155.0 61.1L155.0 61.8L155.0 62.6L155.0 63.4L155.0 64.1L155.0 64.9L155.0 65.7L155.0 66.4L155.0 67.2L155.0 68.0L155.0 68.7L155.0 69.5L155.0 70.3L155.0 71.0L155.0 71.8L155.0 72.5L155.0 73.3L155.0 74.1L155.0 74.8L155.0 75.6L155.0 76.4L155.0 77.1L155.0 77.9L155.0 78.7L155.0 79.4L155.0 80.2L155.0 81.0L155.0 81.7L155.0 82.5L155.0 83.3L155.0 84.0L155.0 84.8L155.0 85.6L155.0 86.3L155.0 87.1L155.0 87.9L155.0 88.6L155.0 89.4L155.0 90.2L155.0 90.9L155.0 91.7L155.0 92.5L155.0 93.2L155.0 94.0L155.0 94.8L155.0 95.5L155.0 96.3L155.0 97.1L155.0 97.8L155.0 98.6L155.0 99.4L155.0 100.1L155.0 100.9L155.0 101.7L155.0 102.4L155.0 103.2L155.0 104.0L155.0 104.7L155.0 105.5L155.0 106.3L155.0 107.0L155.0 107.8L155.0 108.6L155.0 109.3L155.0 110.1L155.0 110.9L155.0 111.6L155.0 112.4L155.0 113.2L155.0 113.9L155.0 114.7L155.0 115.5L155.0 116.2L155.0 117.0L155.0 117.8L155.0 118.5L155.0 119.3L155.0 120.0L155.0 120.8L155.0 121.6L155.0 122.3L155.0 123.1L155.0 123.9L155.0 124.6L155.0 125.4L155.0 126.2L155.0 126.9L155.0 127.7L155.0 128.5L155.0 129.2L155.0 130.0L155.0 130.8L155.0 131.5L155.0 132.3L155.0 133.1L155.0 133.8L155.0 134.6L155.0 135.4L155.0 136.1L155.0 136.9L155.0 137.7L155.0 138.4L155.0 139.2L155.0 140.0L155.0 140.7L155.0 141.5L155.0 142.3L155.0 143.0L155.0 143.8L154.2 143.8L153.4 143.8L152.6 143.8L151.9 143.8L151.1 143.8L150.3 143.8L149.5 143.8L148.7 143.8L147.9 143.8L147.2 143.8L146.4 143.8L145.6 143.8L144.8 143.8L144.0 143.8L143.2 143.8L142.5 143.8L141.7 143.8L140.9 143.8L140.1 143.8L139.3 143.8L138.5 143.8L137.8 143.8L137.7 143.8L137.7 143.0L137.7 142.3L137.7 141.5L137.6 140.7L137.6 140.0L137.5 139.2L137.4 138.4L137.3 137.7L137.2 136.9L137.1 136.1L137.0 135.6L136.9 135.4L136.8 134.6L136.6 133.8L136.4 133.1L136.2 132.4L136.2 132.3L135.9 131.5L135.7 130.8L135.4 130.0L135.4 129.9L135.2 129.2L134.9 128.5L134.6 127.9L134.5 127.7L134.2 126.9L133.9 126.2L133.8 126.1L133.5 125.4L133.1 124.6L133.1 124.5L132.7 123.9L132.3 123.1L132.3 123.0L131.9 122.3L131.5 121.7L131.4 121.6L131.0 120.8L130.7 120.4L130.5 120.0L130.0 119.3L129.9 119.2L129.4 118.5L129.1 118.1L128.9 117.8L128.3 117.0L128.3 117.0L127.8 116.2L127.6 116.0L127.2 115.5L126.8 115.0L126.5 114.7L126.0 114.0L125.9 113.9L125.2 113.2L125.2 113.1L124.6 112.4L124.4 112.2L123.9 111.6L123.6 111.4L123.1 110.9L122.9 110.6L122.4 110.1L122.1 109.8L121.6 109.3L121.3 109.0L120.8 108.6L120.5 108.2L120.0 107.8L119.7 107.5L119.2 107.0L118.9 106.8L118.3 106.3L118.2 106.1L117.5 105.5L117.4 105.4L116.6 104.7L116.6 104.7L115.8 104.1L115.6 104.0L115.0 103.5L114.7 103.2L114.2 102.8L113.7 102.4L113.5 102.2L112.7 101.7L112.7 101.6L111.9 101.0L111.7 100.9L111.1 100.5L110.6 100.1L110.3 99.9L109.5 99.4L109.5 99.4L108.7 98.8L108.4 98.6L108.0 98.3L107.3 97.8L107.2 97.8L106.4 97.3L106.1 97.1L105.6 96.8L104.9 96.3L104.8 96.3L104.0 95.8L103.6 95.5L103.3 95.3L102.5 94.8L102.4 94.8L101.7 94.4L101.1 94.0L100.9 93.9L100.1 93.5L99.7 93.2L99.3 93.0L98.6 92.6L98.3 92.5L97.8 92.2L97.0 91.7L96.9 91.7L96.2 91.3L95.5 90.9L95.4 90.9L94.6 90.5L94.0 90.2L93.9 90.1L93.1 89.7L92.4 89.4L92.3 89.3L91.5 89.0L90.8 88.6L90.7 88.6L89.9 88.2L89.2 87.9L89.2 87.9L88.4 87.5L87.6 87.1L87.5 87.1L86.8 86.8L86.0 86.5L85.8 86.3L85.2 86.1L84.4 85.8L84.0 85.6L83.7 85.4L82.9 85.1L82.1 84.8L82.1 84.8L81.3 84.5L80.5 84.2L80.2 84.0L79.7 83.9L79.0 83.6L78.2 83.3L78.2 83.3L77.4 83.0L76.6 82.7L76.2 82.5L75.8 82.4L75.0 82.1L74.3 81.8L74.1 81.7L73.5 81.5L72.7 81.3L71.9 81.0L71.9 81.0L71.1 80.7L70.3 80.5L69.6 80.2L69.6 80.2L68.8 79.9L68.0 79.7L67.2 79.4L67.2 79.4L66.4 79.2L65.6 79.0L64.8 78.7L64.7 78.7L64.1 78.5L63.3 78.2L62.5 78.0L62.1 77.9L61.7 77.8L60.9 77.6L60.1 77.3L59.4 77.1L59.4 77.1L58.6 76.9L57.8 76.7L57.0 76.5L56.6 76.4L56.2 76.3L55.4 76.1L54.7 75.9L53.9 75.7L53.6 75.6L53.1 75.5L52.3 75.3L51.5 75.1L50.7 74.9L50.4 74.8L50.0 74.7L49.2 74.6L48.4 74.4L47.6 74.2L47.1 74.1L46.8 74.0L46.0 73.9L45.3 73.7L44.5 73.5L43.7 73.4L43.5 73.3L42.9 73.2L42.1 73.0L41.3 72.9L40.5 72.7L39.8 72.6L39.6 72.5L39.0 72.4L38.2 72.3L37.4 72.1L36.6 72.0L35.8 71.9L35.4 71.8L35.1 71.7L34.3 71.6L33.5 71.5L32.7 71.3L31.9 71.2L31.1 71.1L30.7 71.0L30.4 71.0L29.6 70.8L28.8 70.7L28.0 70.6L27.2 70.5L26.4 70.4L25.7 70.3L25.5 70.3L24.9 70.2L24.1 70.1L23.3 70.0L22.5 69.9L21.7 69.8L20.9 69.7L20.2 69.6L19.4 69.5L19.4 69.5L18.6 69.4L17.8 69.3L17.0 69.2L16.2 69.1L15.5 69.1L14.7 69.0L13.9 68.9L13.1 68.8L12.3 68.8L11.9 68.7L11.5 68.7L10.8 68.6L10.0 68.6L9.2 68.5L8.4 68.4L7.6 68.4L6.8 68.3L6.1 68.3L5.3 68.2L4.5 68.1L3.7 68.1L2.9 68.0L2.1 68.0L1.4 68.0L1.2 68.0L0.6 67.9L-0.2 67.9L-1.0 67.8L-1.0 67.2L-1.0 66.4L-1.0 65.7L-1.0 64.9L-1.0 64.1L-1.0 63.4L-1.0 62.6L-1.0 61.8L-1.0 61.1L-1.0 60.3L-1.0 59.5L-1.0 58.8L-1.0 58.0L-1.0 57.2L-1.0 56.5L-1.0 55.7L-1.0 54.9L-1.0 54.2L-1.0 53.4L-1.0 52.6L-1.0 51.9L-1.0 51.1L-1.0 50.3L-1.0 49.6L-1.0 48.8L-1.0 48.0L-1.0 47.3L-1.0 46.5L-1.0 45.7L-1.0 45.0L-1.0 44.2L-1.0 43.4L-1.0 42.7L-1.0 41.9L-1.0 41.1L-1.0 40.4L-1.0 39.6L-1.0 38.8L-1.0 38.1L-1.0 37.3L-1.0 36.5L-1.0 35.8L-1.0 35.0L-1.0 34.2L-1.0 33.5L-1.0 32.7L-1.0 31.9L-1.0 31.2L-1.0 30.4L-1.0 29.6L-1.0 28.9L-1.0 28.1L-1.0 27.3L-1.0 26.6L-1.0 25.8L-1.0 25.0L-1.0 24.3L-1.0 23.5L-1.0 22.8L-1.0 22.0L-1.0 21.2L-1.0 20.5L-1.0 19.7L-1.0 18.9L-1.0 18.2L-1.0 17.4L-1.0 16.6L-1.0 15.9L-1.0 15.1L-1.0 14.3L-1.0 13.6L-1.0 12.8L-1.0 12.0L-1.0 11.3L-1.0 10.5L-1.0 9.7L-1.0 9.0L-1.0 8.2L-1.0 7.4L-1.0 6.7L-1.0 5.9L-1.0 5.1L-1.0 4.4L-1.0 3.6L-1.0 2.8L-1.0 2.1L-1.0 1.3L-1.0 0.5L-1.0 -0.2L-1.0 -1.0Z" fill="#91a3c0"/>
<path d="M-0.2 -1.0L0.6 -1.0L1.4 -1.0L2.1 -1.0L2.9 -1.0L3.7 -1.0L4.5 -1.0L5.3 -1.0L6.1 -1.0L6.8 -1.0L7.6 -1.0L8.4 -1.0L9.2 -1.0L10.0 -1.0L10.8 -1.0L11.5 -1.0L12.3 -1.0L13.1 -1.0L13.9 -1.0L14.7 -1.0L15.5 -1.0L16.2 -1.0L17.0 -1.0L17.8 -1.0L18.6 -1.0L19.4 -1.0L20.2 -1.0L20.9 -1.0L21.7 -1.0L22.5 -1.0L23.3 -1.0L24.1 -1.0L24.9 -1.0L25.7 -1.0L26.4 -1.0L27.2 -1.0L28.0 -1.0L28.8 -1.0L29.6 -1.0L30.4 -1.0L31.1 -1.0L31.9 -1.0L32.7 -1.0L33.5 -1.0L34.3 -1.0L35.1 -1.0L35.8 -1.0L36.6 -1.0L37.4 -1.0L38.2 -1.0L39.0 -1.0L39.8 -1.0L40.5 -1.0L41.3 -1.0L42.1 -1.0L42.9 -1.0L43.7 -1.0L44.5 -1.0L45.3 -1.0L46.0 -1.0L46.8 -1.0L47.6 -1.0L48.4 -1.0L49.2 -1.0L50.0 -1.0L50.7 -1.0L51.5 -1.0L52.3 -1.0L53.1 -1.0L53.9 -1.0L54.7 -1.0L55.4 -1.0L56.2 -1.0L57.0 -1.0L57.8 -1.0L58.6 -1.0L59.4 -1.0L60.1 -1.0L60.9 -1.0L61.7 -1.0L62.5 -1.0L63.3 -1.0L64.1 -1.0L64.8 -1.0L65.6 -1.0L66.4 -1.0L67.2 -1.0L68.0 -1.0L68.8 -1.0L69.6 -1.0L70.3 -1.0L71.1 -1.0L71.9 -1.0L72.7 -1.0L73.5 -1.0L74.3 -1.0L75.0 -1.0L75.8 -1.0L76.6 -1.0L77.4 -1.0L78.2 -1.0L79.0 -1.0L79.7 -1.0L80.5 -1.0L81.3 -1.0L82.1 -1.0L82.9 -1.0L83.7 -1.0L84.4 -1.0L85.2 -1.0L86.0 -1.0L86.8 -1.0L87.6 -1.0L88.4 -1.0L89.2 -1.0L89.9 -1.0L90.7 -1.0L91.5 -1.0L92.3 -1.0L93.1 -1.0L93.9 -1.0L94.6 -1.0L95.4 -1.0L96.2 -1.0L97.0 -1.0L97.8 -1.0L98.6 -1.0L99.3 -1.0L100.1 -1.0L100.9 -1.0L101.7 -1.0L102.5 -1.0L103.3 -1.0L104.0 -1.0L104.8 -1.0L105.6 -1.0L106.4 -1.0L107.2 -1.0L108.0 -1.0L108.7 -1.0L109.5 -1.0L110.3 -1.0L111.1 -1.0L111.9 -1.0L112.7 -1.0L113.5 -1.0L114.2 -1.0L115.0 -1.0L115.8 -1.0L116.6 -1.0L117.4 -1.0L118.2 -1.0L118.9 -1.0L119.7 -1.0L120.5 -1.0L121.3 -1.0L122.1 -1.0L122.9 -1.0L123.6 -1.0L124.4 -1.0L125.2 -1.0L126.0 -1.0L126.8 -1.0L127.6 -1.0L128.3 -1.0L129.1 -1.0L129.9 -1.0L130.7 -1.0L131.5 -1.0L132.3 -1.0L133.1 -1.0L133.8 -1.0L134.6 -1.0L135.4 -1.0L136.2 -1.0L137.0 -1.0L137.8 -1.0L138.5 -1.0L139.3 -1.0L140.1 -1.0L140.9 -1.0L141.7 -1.0L142.5 -1.0L143.2 -1.0L144.0 -1.0L144.8 -1.0L145.6 -1.0L146.4 -1.0L147.2 -1.0L147.9 -1.0L148.7 -1.0L149.5 -1.0L150.3 -1.0L151.1 -1.0L151.9 -1.0L152.6 -1.0L153.4 -1.0L154.2 -1.0L155.0 -1.0L155.0 -0.2L155.0 0.5L155.0 1.3L155.0 2.1L155.0 2.8L155.0 3.6L155.0 4.4L155.0 5.1L155.0 5.9L155.0 6.7L155.0 7.4L155.0 8.2L155.0 9.0L155.0 9.7L155.0 10.5L155.0 11.3L155.0 12.0L155.0 12.8L155.0 13.6L155.0 14.3L155.0 15.1L155.0 15.9L155.0 16.6L155.0 17.4L155.0 18.2L155.0 18.9L155.0 19.7L155.0 20.5L155.0 21.2L155.0 22.0L155.0 22.8L155.0 23.5L155.0 24.3L155.0 25.0L155.0 25.8L155.0 26.6L155.0 27.3L155.0 28.1L155.0 28.9L155.0 29.6L155.0 30.4L155.0 31.2L155.0 31.9L155.0 32.7L155.0 33.5L155.0 34.2L155.0 35.0L155.0 35.8L155.0 36.5L155.0 37.3L155.0 38.1L155.0 38.8L155.0 39.6L155.0 40.4L155.0 41.1L155.0 41.9L155.0 42.7L155.0 43.4L155.0 44.2L155.0 45.0L155.0 45.7L155.0 46.5L155.0 47.3L155.0 48.0L155.0 48.8L155.0 49.6L155.0 50.3L155.0 51.1L155.0 51.9L155.0 52.6L155.0 53.4L155.0 54.2L155.0 54.9L155.0 55.7L155.0 56.5L155.0 57.2L155.0 58.0L155.0 58.8L155.0 59.5L155.0 60.3L155.0 61.1L155.0 61.8L155.0 62.6L155.0 63.4L155.0 64.1L155.0 64.9L155.0 65.7L155.0 66.4L155.0 67.2L155.0 68.0L155.0 68.7L155.0 69.5L155.0 70.3L155.0 71.0L155.0 71.8L155.0 72.5L155.0 73.3L155.0 74.1L155.0 74.8L155.0 75.6L155.0 76.4L155.0 77.1L155.0 77.9L155.0 78.7L155.0 79.4L155.0 80.2L155.0 81.0L155.0 81.7L155.0 82.5L155.0 83.3L155.0 84.0L155.0 84.8L155.0 85.6L155.0 86.3L155.0 87.1L155.0 87.9L155.0 88.6L155.0 89.4L155.0 90.2L155.0 90.9L155.0 91.7L155.0 92.5L155.0 93.2L155.0 94.0L155.0 94.8L155.0 95.5L155.0 96.3L155.0 97.1L155.0 97.8L155.0 98.6L155.0 99.4L155.0 100.1L155.0 100.9L155.0 101.7L155.0 102.4L155.0 103.2L155.0 104.0L155.0 104.7L155.0 105.5L155.0 106.3L155.0 107.0L155.0 107.8L155.0 108.6L155.0 109.3L155.0 110.1L155.0 110.9L155.0 111.6L155.0 112.4L155.0 113.2L155.0 113.9L155.0 114.7L155.0 115.5L155.0 116.2L155.0 117.0L155.0 117.8L155.0 118.5L155.0 119.3L155.0 120.0L155.0 120.8L155.0 121.6L155.0 122.3L155.0 123.1L155.0 123.9L155.0 124.6L155.0 125.4L155.0 126.2L155.0 126.9L155.0 127.7L155.0 128.5L155.0 129.2L155.0 130.0L155.0 130.8L155.0 131.5L155.0 132.3L155.0 133.1L155.0 133.8L155.0 134.6L155.0 135.4L155.0 136.1L155.0 136.9L155.0 137.7L155.0 138.4L155.0 139.2L155.0 140.0L155.0 140.7L155.0 141.5L155.0 142.3L155.0 143.0L155.0 143.8L154.3 143.8L154.3 143.0L154.3 142.3L154.3 141.5L154.3 140.7L154.2 140.0L154.2 139.7L154.2 139.2L154.1 138.4L154.0 137.7L153.9 136.9L153.8 136.1L153.6 135.4L153.5 134.6L153.4 134.3L153.3 133.8L153.1 133.1L153.0 132.3L152.7 131.5L152.6 131.2L152.5 130.8L152.3 130.0L152.0 129.2L151.9 128.8L151.8 128.5L151.5 127.7L151.2 126.9L151.1 126.7L150.9 126.2L150.6 125.4L150.3 124.8L150.2 124.6L149.9 123.9L149.5 123.2L149.5 123.1L149.1 122.3L148.7 121.7L148.7 121.6L148.3 120.8L147.9 120.2L147.8 120.0L147.4 119.3L147.2 118.9L146.9 118.5L146.4 117.8L146.4 117.7L145.9 117.0L145.6 116.5L145.4 116.2L144.9 115.5L144.8 115.4L144.3 114.7L144.0 114.3L143.8 113.9L143.2 113.2L143.2 113.2L142.6 112.4L142.5 112.2L142.0 111.6L141.7 111.3L141.3 110.9L140.9 110.4L140.7 110.1L140.1 109.5L140.0 109.3L139.3 108.6L139.3 108.6L138.6 107.8L138.5 107.7L137.9 107.0L137.8 106.9L137.1 106.3L137.0 106.1L136.3 105.5L136.2 105.3L135.5 104.7L135.4 104.6L134.7 104.0L134.6 103.9L133.9 103.2L133.8 103.1L133.1 102.4L133.1 102.4L132.3 101.7L132.2 101.7L131.5 101.1L131.3 100.9L130.7 100.4L130.4 100.1L129.9 99.8L129.4 99.4L129.1 99.1L128.5 98.6L128.3 98.5L127.6 97.9L127.5 97.8L126.8 97.3L126.5 97.1L126.0 96.7L125.4 96.3L125.2 96.1L124.4 95.6L124.4 95.5L123.6 95.0L123.3 94.8L122.9 94.5L122.2 94.0L122.1 93.9L121.3 93.4L121.1 93.2L120.5 92.9L119.9 92.5L119.7 92.4L118.9 91.9L118.7 91.7L118.2 91.4L117.5 90.9L117.4 90.9L116.6 90.4L116.2 90.2L115.8 89.9L115.0 89.4L114.9 89.4L114.2 89.0L113.6 88.6L113.5 88.5L112.7 88.1L112.3 87.9L111.9 87.6L111.1 87.2L110.9 87.1L110.3 86.8L109.5 86.4L109.5 86.3L108.7 85.9L108.1 85.6L108.0 85.5L107.2 85.1L106.6 84.8L106.4 84.7L105.6 84.3L105.0 84.0L104.8 83.9L104.0 83.5L103.5 83.3L103.3 83.2L102.5 82.8L101.9 82.5L101.7 82.4L100.9 82.1L100.2 81.7L100.1 81.7L99.3 81.3L98.6 81.0L98.5 81.0L97.8 80.6L97.0 80.3L96.8 80.2L96.2 80.0L95.4 79.6L95.0 79.4L94.6 79.3L93.9 79.0L93.2 78.7L93.1 78.6L92.3 78.3L91.5 78.0L91.3 77.9L90.7 77.7L89.9 77.4L89.3 77.1L89.2 77.1L88.4 76.8L87.6 76.5L87.3 76.4L86.8 76.2L86.0 75.9L85.2 75.6L85.2 75.6L84.4 75.3L83.7 75.1L83.1 74.8L82.9 74.8L82.1 74.5L81.3 74.2L80.9 74.1L80.5 74.0L79.7 73.7L79.0 73.4L78.6 73.3L78.2 73.2L77.4 72.9L76.6 72.7L76.2 72.5L75.8 72.4L75.0 72.2L74.3 71.9L73.7 71.8L73.5 71.7L72.7 71.5L71.9 71.2L71.1 71.0L71.1 71.0L70.3 70.8L69.6 70.6L68.8 70.3L68.5 70.3L68.0 70.1L67.2 69.9L66.4 69.7L65.7 69.5L65.6 69.5L64.8 69.3L64.1 69.1L63.3 68.9L62.7 68.7L62.5 68.7L61.7 68.5L60.9 68.3L60.1 68.1L59.7 68.0L59.4 67.9L58.6 67.7L57.8 67.5L57.0 67.3L56.4 67.2L56.2 67.1L55.4 67.0L54.7 66.8L53.9 66.6L53.1 66.4L53.0 66.4L52.3 66.3L51.5 66.1L50.7 65.9L50.0 65.8L49.4 65.7L49.2 65.6L48.4 65.5L47.6 65.3L46.8 65.1L46.0 65.0L45.5 64.9L45.3 64.8L44.5 64.7L43.7 64.6L42.9 64.4L42.1 64.3L41.3 64.1L41.3 64.1L40.5 64.0L39.8 63.9L39.0 63.7L38.2 63.6L37.4 63.5L36.7 63.4L36.6 63.3L35.8 63.2L35.1 63.1L34.3 63.0L33.5 62.9L32.7 62.7L31.9 62.6L31.6 62.6L31.1 62.5L30.4 62.4L29.6 62.3L28.8 62.2L28.0 62.1L27.2 62.0L26.4 61.9L25.8 61.8L25.7 61.8L24.9 61.7L24.1 61.6L23.3 61.5L22.5 61.4L21.7 61.3L20.9 61.3L20.2 61.2L19.4 61.1L19.1 61.1L18.6 61.0L17.8 60.9L17.0 60.9L16.2 60.8L15.5 60.7L14.7 60.6L13.9 60.6L13.1 60.5L12.3 60.4L11.5 60.4L10.8 60.3L10.5 60.3L10.0 60.3L9.2 60.2L8.4 60.1L7.6 60.1L6.8 60.0L6.1 60.0L5.3 59.9L4.5 59.9L3.7 59.8L2.9 59.8L2.1 59.8L1.4 59.7L0.6 59.7L-0.2 59.6L-1.0 59.6L-1.0 59.5L-1.0 58.8L-1.0 58.0L-1.0 57.2L-1.0 56.5L-1.0 55.7L-1.0 54.9L-1.0 54.2L-1.0 53.4L-1.0 52.6L-1.0 51.9L-1.0 51.1L-1.0 50.3L-1.0 49.6L-1.0 48.8L-1.0 48.0L-1.0 47.3L-1.0 46.5L-1.0 45.7L-1.0 45.0L-1.0 44.2L-1.0 43.4L-1.0 42.7L-1.0 41.9L-1.0 41.1L-1.0 40.4L-1.0 39.6L-1.0 38.8L-1.0 38.1L-1.0 37.3L-1.0 36.5L-1.0 35.8L-1.0 35.0L-1.0 34.2L-1.0 33.5L-1.0 32.7L-1.0 31.9L-1.0 31.2L-1.0 30.4L-1.0 29.6L-1.0 28.9L-1.0 28.1L-1.0 27.3L-1.0 26.6L-1.0 25.8L-1.0 25.0L-1.0 24.3L-1.0 23.5L-1.0 22.8L-1.0 22.0L-1.0 21.2L-1.0 20.5L-1.0 19.7L-1.0 18.9L-1.0 18.2L-1.0 17.4L-1.0 16.6L-1.0 15.9L-1.0 15.1L-1.0 14.3L-1.0 13.6L-1.0 12.8L-1.0 12.0L-1.0 11.3L-1.0 10.5L-1.0 9.7L-1.0 9.0L-1.0 8.2L-1.0 7.4L-1.0 6.7L-1.0 5.9L-1.0 5.1L-1.0 4.4L-1.0 3.6L-1.0 2.8L-1.0 2.1L-1.0 1.3L-1.0 0.5L-1.0 -0.2L-1.0 -1.0Z" fill="#8eabc1"/>
<path d="M-0.2 -1.0L0.6 -1.0L1.4 -1.0L2.1 -1.0L2.9 -1.0L3.7 -1.0L4.5 -1.0L5.3 -1.0L6.1 -1.0L6.8 -1.0L7.6 -1.0L8.4 -1.0L9.2 -1.0L10.0 -1.0L10.8 -1.0L11.5 -1.0L12.3 -1.0L13.1 -1.0L13.9 -1.0L14.7 -1.0L15.5 -1.0L16.2 -1.0L17.0 -1.0L17.8 -1.0L18.6 -1.0L19.4 -1.0L20.2 -1.0L20.9 -1.0L21.7 -1.0L22.5 -1.0L23.3 -1.0L24.1 -1.0L24.9 -1.0L25.7 -1.0L26.4 -1.0L27.2 -1.0L28.0 -1.0L28.8 -1.0L29.6 -1.0L30.4 -1.0L31.1 -1.0L31.9 -1.0L32.7 -1.0L33.5 -1.0L34.3 -1.0L35.1 -1.0L35.8 -1.0L36.6 -1.0L37.4 -1.0L38.2 -1.0L39.0 -1.0L39.8 -1.0L40.5 -1.0L41.3 -1.0L42.1 -1.0L42.9 -1.0L43.7 -1.0L44.5 -1.0L45.3 -1.0L46.0 -1.0L46.8 -1.0L47.6 -1.0L48.4 -1.0L49.2 -1.0L50.0 -1.0L50.7 -1.0L51.5 -1.0L52.3 -1.0L53.1 -1.0L53.9 -1.0L54.7 -1.0L55.4 -1.0L56.2 -1.0L57.0 -1.0L57.8 -1.0L58.6 -1.0L59.4 -1.0L60.1 -1.0L60.9 -1.0L61.7 -1.0L62.5 -1.0L63.3 -1.0L64.1 -1.0L64.8 -1.0L65.6 -1.0L66.4 -1.0L67.2 -1.0L68.0 -1.0L68.8 -1.0L69.6 -1.0L70.3 -1.0L71.1 -1.0L71.9 -1.0L72.7 -1.0L73.5 -1.0L74.3 -1.0L75.0 -1.0L75.8 -1.0L76.6 -1.0L77.4 -1.0L78.2 -1.0L79.0 -1.0L79.7 -1.0L80.5 -1.0L81.3 -1.0L82.1 -1.0L82.9 -1.0L83.7 -1.0L84.4 -1.0L85.2 -1.0L86.0 -1.0L86.8 -1.0L87.6 -1.0L88.4 -1.0L89.2 -1.0L89.9 -1.0L90.7 -1.0L91.5 -1.0L92.3 -1.0L93.1 -1.0L93.9 -1.0L94.6 -1.0L95.4 -1.0L96.2 -1.0L97.0 -1.0L97.8 -1.0L98.6 -1.0L99.3 -1.0L100.1 -1.0L100.9 -1.0L101.7 -1.0L102.5 -1.0L103.3 -1.0L104.0 -1.0L104.8 -1.0L105.6 -1.0L106.4 -1.0L107.2 -1.0L108.0 -1.0L108.7 -1.0L109.5 -1.0L110.3 -1.0L111.1 -1.0L111.9 -1.0L112.7 -1.0L113.5 -1.0L114.2 -1.0L115.0 -1.0L115.8 -1.0L116.6 -1.0L117.4 -1.0L118.2 -1.0L118.9 -1.0L119.7 -1.0L120.5 -1.0L121.3 -1.0L122.1 -1.0L122.9 -1.0L123.6 -1.0L124.4 -1.0L125.2 -1.0L126.0 -1.0L126.8 -1.0L127.6 -1.0L128.3 -1.0L129.1 -1.0L129.9 -1.0L130.7 -1.0L131.5 -1.0L132.3 -1.0L133.1 -1.0L133.8 -1.0L134.6 -1.0L135.4 -1.0L136.2 -1.0L137.0 -1.0L137.8 -1.0L138.5 -1.0L139.3 -1.0L140.1 -1.0L140.9 -1.0L141.7 -1.0L142.5 -1.0L143.2 -1.0L144.0 -1.0L144.8 -1.0L145.6 -1.0L146.4 -1.0L147.2 -1.0L147.9 -1.0L148.7 -1.0L149.5 -1.0L150.3 -1.0L151.1 -1.0L151.9 -1.0L152.6 -1.0L153.4 -1.0L154.2 -1.0L155.0 -1.0L155.0 -0.2L155.0 0.5L155.0 1.3L155.0 2.1L155.0 2.8L155.0 3.6L155.0 4.4L155.0 5.1L155.0 5.9L155.0 6.7L155.0 7.4L155.0 8.2L155.0 9.0L155.0 9.7L155.0 10.5L155.0 11.3L155.0 12.0L155.0 12.8L155.0 13.6L155.0 14.3L155.0 15.1L155.0 15.9L155.0 16.6L155.0 17.4L155.0 18.2L155.0 18.9L155.0 19.7L155.0 20.5L155.0 21.2L155.0 22.0L155.0 22.8L155.0 23.5L155.0 24.3L155.0 25.0L155.0 25.8L155.0 26.6L155.0 27.3L155.0 28.1L155.0 28.9L155.0 29.6L155.0 30.4L155.0 31.2L155.0 31.9L155.0 32.7L155.0 33.5L155.0 34.2L155.0 35.0L155.0 35.8L155.0 36.5L155.0 37.3L155.0 38.1L155.0 38.8L155.0 39.6L155.0 40.4L155.0 41.1L155.0 41.9L155.0 42.7L155.0 43.4L155.0 44.2L155.0 45.0L155.0 45.7L155.0 46.5L155.0 47.3L155.0 48.0L155.0 48.8L155.0 49.6L155.0 50.3L155.0 51.1L155.0 51.9L155.0 52.6L155.0 53.4L155.0 54.2L155.0 54.9L155.0 55.7L155.0 56.5L155.0 57.2L155.0 58.0L155.0 58.8L155.0 59.5L155.0 60.3L155.0 61.1L155.0 61.8L155.0 62.6L155.0 63.4L155.0 64.1L155.0 64.9L155.0 65.7L155.0 66.4L155.0 67.2L155.0 68.0L155.0 68.7L155.0 69.5L155.0 70.3L155.0 71.0L155.0 71.8L155.0 72.5L155.0 73.3L155.0 74.1L155.0 74.8L155.0 75.6L155.0 76.4L155.0 77.1L155.0 77.9L155.0 78.7L155.0 79.4L155.0 80.2L155.0 81.0L155.0 81.7L155.0 82.5L155.0 83.3L155.0 84.0L155.0 84.8L155.0 85.6L155.0 86.3L155.0 87.1L155.0 87.9L155.0 88.6L155.0 89.4L155.0 90.2L155.0 90.9L155.0 91.7L155.0 92.5L155.0 93.2L155.0 94.0L155.0 94.8L155.0 95.5L155.0 96.3L155.0 97.1L155.0 97.8L155.0 98.6L155.0 99.4L155.0 100.1L155.0 100.9L155.0 101.7L155.0 102.4L155.0 103.2L155.0 104.0L155.0 104.7L155.0 105.5L155.0 106.3L155.0 107.0L155.0 107.2L154.9 107.0L154.2 106.3L154.2 106.3L153.5 105.5L153.4 105.4L152.8 104.7L152.6 104.6L152.1 104.0L151.9 103.8L151.3 103.2L151.1 103.0L150.6 102.4L150.3 102.2L149.8 101.7L149.5 101.4L149.0 100.9L148.7 100.7L148.2 100.1L147.9 99.9L147.3 99.4L147.2 99.2L146.5 98.6L146.4 98.5L145.6 97.8L145.6 97.8L144.8 97.2L144.7 97.1L144.0 96.5L143.8 96.3L143.2 95.9L142.8 95.5L142.5 95.2L141.9 94.8L141.7 94.6L140.9 94.0L140.9 94.0L140.1 93.4L139.9 93.2L139.3 92.8L138.9 92.5L138.5 92.2L137.8 91.7L137.8 91.6L137.0 91.1L136.8 90.9L136.2 90.5L135.7 90.2L135.4 90.0L134.6 89.4L134.6 89.4L133.8 88.9L133.4 88.6L133.1 88.4L132.3 87.9L132.3 87.9L131.5 87.4L131.1 87.1L130.7 86.9L129.9 86.4L129.9 86.3L129.1 85.9L128.6 85.6L128.3 85.4L127.6 84.9L127.4 84.8L126.8 84.5L126.1 84.0L126.0 84.0L125.2 83.6L124.7 83.3L124.4 83.1L123.6 82.7L123.4 82.5L122.9 82.2L122.1 81.8L122.0 81.7L121.3 81.4L120.6 81.0L120.5 81.0L119.7 80.5L119.1 80.2L118.9 80.1L118.2 79.7L117.6 79.4L117.4 79.3L116.6 78.9L116.1 78.7L115.8 78.5L115.0 78.2L114.5 77.9L114.2 77.8L113.5 77.4L112.9 77.1L112.7 77.0L111.9 76.7L111.3 76.4L111.1 76.3L110.3 75.9L109.6 75.6L109.5 75.6L108.7 75.2L108.0 74.9L107.9 74.8L107.2 74.5L106.4 74.2L106.1 74.1L105.6 73.9L104.8 73.5L104.3 73.3L104.0 73.2L103.3 72.9L102.5 72.6L102.4 72.5L101.7 72.2L100.9 71.9L100.5 71.8L100.1 71.6L99.3 71.3L98.6 71.0L98.6 71.0L97.8 70.7L97.0 70.4L96.6 70.3L96.2 70.1L95.4 69.8L94.6 69.5L94.5 69.5L93.9 69.3L93.1 69.0L92.3 68.7L92.3 68.7L91.5 68.4L90.7 68.2L90.1 68.0L89.9 67.9L89.2 67.6L88.4 67.4L87.9 67.2L87.6 67.1L86.8 66.8L86.0 66.6L85.5 66.4L85.2 66.3L84.4 66.1L83.7 65.8L83.1 65.7L82.9 65.6L82.1 65.4L81.3 65.1L80.5 64.9L80.5 64.9L79.7 64.7L79.0 64.4L78.2 64.2L77.9 64.1L77.4 64.0L76.6 63.7L75.8 63.5L75.2 63.4L75.0 63.3L74.3 63.1L73.5 62.9L72.7 62.7L72.4 62.6L71.9 62.5L71.1 62.3L70.3 62.1L69.6 61.9L69.4 61.8L68.8 61.7L68.0 61.5L67.2 61.3L66.4 61.1L66.3 61.1L65.6 60.9L64.8 60.7L64.1 60.5L63.3 60.3L63.1 60.3L62.5 60.2L61.7 60.0L60.9 59.8L60.1 59.6L59.7 59.5L59.4 59.5L58.6 59.3L57.8 59.1L57.0 58.9L56.2 58.8L56.1 58.8L55.4 58.6L54.7 58.5L53.9 58.3L53.1 58.2L52.3 58.0L52.3 58.0L51.5 57.9L50.7 57.7L50.0 57.6L49.2 57.4L48.4 57.3L48.2 57.2L47.6 57.1L46.8 57.0L46.0 56.9L45.3 56.7L44.5 56.6L43.7 56.5L43.7 56.5L42.9 56.3L42.1 56.2L41.3 56.1L40.5 55.9L39.8 55.8L39.0 55.7L38.9 55.7L38.2 55.6L37.4 55.5L36.6 55.4L35.8 55.2L35.1 55.1L34.3 55.0L33.6 54.9L33.5 54.9L32.7 54.8L31.9 54.7L31.1 54.6L30.4 54.5L29.6 54.4L28.8 54.3L28.0 54.2L27.5 54.2L27.2 54.1L26.4 54.0L25.7 53.9L24.9 53.9L24.1 53.8L23.3 53.7L22.5 53.6L21.7 53.5L20.9 53.5L20.4 53.4L20.2 53.4L19.4 53.3L18.6 53.2L17.8 53.2L17.0 53.1L16.2 53.0L15.5 53.0L14.7 52.9L13.9 52.8L13.1 52.8L12.3 52.7L11.5 52.6L11.3 52.6L10.8 52.6L10.0 52.5L9.2 52.5L8.4 52.4L7.6 52.4L6.8 52.3L6.1 52.3L5.3 52.2L4.5 52.2L3.7 52.2L2.9 52.1L2.1 52.1L1.4 52.0L0.6 52.0L-0.2 52.0L-1.0 51.9L-1.0 51.9L-1.0 51.1L-1.0 50.3L-1.0 49.6L-1.0 48.8L-1.0 48.0L-1.0 47.3L-1.0 46.5L-1.0 45.7L-1.0 45.0L-1.0 44.2L-1.0 43.4L-1.0 42.7L-1.0 41.9L-1.0 41.1L-1.0 40.4L-1.0 39.6L-1.0 38.8L-1.0 38.1L-1.0 37.3L-1.0 36.5L-1.0 35.8L-1.0 35.0L-1.0 34.2L-1.0 33.5L-1.0 32.7L-1.0 31.9L-1.0 31.2L-1.0 30.4L-1.0 29.6L-1.0 28.9L-1.0 28.1L-1.0 27.3L-1.0 26.6L-1.0 25.8L-1.0 25.0L-1.0 24.3L-1.0 23.5L-1.0 22.8L-1.0 22.0L-1.0 21.2L-1.0 20.5L-1.0 19.7L-1.0 18.9L-1.0 18.2L-1.0 17.4L-1.0 16.6L-1.0 15.9L-1.0 15.1L-1.0 14.3L-1.0 13.6L-1.0 12.8L-1.0 12.0L-1.0 11.3L-1.0 10.5L-1.0 9.7L-1.0 9.0L-1.0 8.2L-1.0 7.4L-1.0 6.7L-1.0 5.9L-1.0 5.1L-1.0 4.4L-1.0 3.6L-1.0 2.8L-1.0 2.1L-1.0 1.3L-1.0 0.5L-1.0 -0.2L-1.0 -1.0Z" fill="#8bb2c1"/>
<path d="M-0.2 -1.0L0.6 -1.0L1.4 -1.0L2.1 -1.0L2.9 -1.0L3.7 -1.0L4.5 -1.0L5.3 -1.0L6.1 -1.0L6.8 -1.0L7.6 -1.0L8.4 -1.0L9.2 -1.0L10.0 -1.0L10.8 -1.0L11.5 -1.0L12.3 -1.0L13.1 -1.0L13.9 -1.0L14.7 -1.0L15.5 -1.0L16.2 -1.0L17.0 -1.0L17.8 -1.0L18.6 -1.0L19.4 -1.0L20.2 -1.0L20.9 -1.0L21.7 -1.0L22.5 -1.0L23.3 -1.0L24.1 -1.0L24.9 -1.0L25.7 -1.0L26.4 -1.0L27.2 -1.0L28.0 -1.0L28.8 -1.0L29.6 -1.0L30.4 -1.0L31.1 -1.0L31.9 -1.0L32.7 -1.0L33.5 -1.0L34.3 -1.0L35.1 -1.0L35.8 -1.0L36.6 -1.0L37.4 -1.0L38.2 -1.0L39.0 -1.0L39.8 -1.0L40.5 -1.0L41.3 -1.0L42.1 -1.0L42.9 -1.0L43.7 -1.0L44.5 -1.0L45.3 -1.0L46.0 -1.0L46.8 -1.0L47.6 -1.0L48.4 -1.0L49.2 -1.0L50.0 -1.0L50.7 -1.0L51.5 -1.0L52.3 -1.0L53.1 -1.0L53.9 -1.0L54.7 -1.0L55.4 -1.0L56.2 -1.0L57.0 -1.0L57.8 -1.0L58.6 -1.0L59.4 -1.0L60.1 -1.0L60.9 -1.0L61.7 -1.0L62.5 -1.0L63.3 -1.0L64.1 -1.0L64.8 -1.0L65.6 -1.0L66.4 -1.0L67.2 -1.0L68.0 -1.0L68.8 -1.0L69.6 -1.0L70.3 -1.0L71.1 -1.0L71.9 -1.0L72.7 -1.0L73.5 -1.0L74.3 -1.0L75.0 -1.0L75.8 -1.0L76.6 -1.0L77.4 -1.0L78.2 -1.0L79.0 -1.0L79.7 -1.0L80.5 -1.0L81.3 -1.0L82.1 -1.0L82.9 -1.0L83.7 -1.0L84.4 -1.0L85.2 -1.0L86.0 -1.0L86.8 -1.0L87.6 -1.0L88.4 -1.0L89.2 -1.0L89.9 -1.0L90.7 -1.0L91.5 -1.0L92.3 -1.0L93.1 -1.0L93.9 -1.0L94.6 -1.0L95.4 -1.0L96.2 -1.0L97.0 -1.0L97.8 -1.0L98.6 -1.0L99.3 -1.0L100.1 -1.0L100.9 -1.0L101.7 -1.0L102.5 -1.0L103.3 -1.0L104.0 -1.0L104.8 -1.0L105.6 -1.0L106.4 -1.0L107.2 -1.0L108.0 -1.0L108.7 -1.0L109.5 -1.0L110.3 -1.0L111.1 -1.0L111.9 -1.0L112.7 -1.0L113.5 -1.0L114.2 -1.0L115.0 -1.0L115.8 -1.0L116.6 -1.0L117.4 -1.0L118.2 -1.0L118.9 -1.0L119.7 -1.0L120.5 -1.0L121.3 -1.0L122.1 -1.0L122.9 -1.0L123.6 -1.0L124.4 -1.0L125.2 -1.0L126.0 -1.0L126.8 -1.0L127.6 -1.0L128.3 -1.0L129.1 -1.0L129.9 -1.0L130.7 -1.0L131.5 -1.0L132.3 -1.0L133.1 -1.0L133.8 -1.0L134.6 -1.0L135.4 -1.0L136.2 -1.0L137.0 -1.0L137.8 -1.0L138.5 -1.0L139.3 -1.0L140.1 -1.0L140.9 -1.0L141.7 -1.0L142.5 -1.0L143.2 -1.0L144.0 -1.0L144.8 -1.0L145.6 -1.0L146.4 -1.0L147.2 -1.0L147.9 -1.0L148.7 -1.0L149.5 -1.0L150.3 -1.0L151.1 -1.0L151.9 -1.0L152.6 -1.0L153.4 -1.0L154.2 -1.0L155.0 -1.0L155.0 -0.2L155.0 0.5L155.0 1.3L155.0 2.1L155.0 2.8L155.0 3.6L155.0 4.4L155.0 5.1L155.0 5.9L155.0 6.7L155.0 7.4L155.0 8.2L155.0 9.0L155.0 9.7L155.0 10.5L155.0 11.3L155.0 12.0L155.0 12.8L155.0 13.6L155.0 14.3L155.0 15.1L155.0 15.9L155.0 16.6L155.0 17.4L155.0 18.2L155.0 18.9L155.0 19.7L155.0 20.5L155.0 21.2L155.0 22.0L155.0 22.8L155.0 23.5L155.0 24.3L155.0 25.0L155.0 25.8L155.0 26.6L155.0 27.3L155.0 28.1L155.0 28.9L155.0 29.6L155.0 30.4L155.0 31.2L155.0 31.9L155.0 32.7L155.0 33.5L155.0 34.2L155.0 35.0L155.0 35.8L155.0 36.5L155.0 37.3L155.0 38.1L155.0 38.8L155.0 39.6L155.0 40.4L155.0 41.1L155.0 41.9L155.0 42.7L155.0 43.4L155.0 44.2L155.0 45.0L155.0 45.7L155.0 46.5L155.0 47.3L155.0 48.0L155.0 48.8L155.0 49.6L155.0 50.3L155.0 51.1L155.0 51.9L155.0 52.6L155.0 53.4L155.0 54.2L155.0 54.9L155.0 55.7L155.0 56.5L155.0 57.2L155.0 58.0L155.0 58.8L155.0 59.5L155.0 60.3L155.0 61.1L155.0 61.8L155.0 62.6L155.0 63.4L155.0 64.1L155.0 64.9L155.0 65.7L155.0 66.4L155.0 67.2L155.0 68.0L155.0 68.7L155.0 69.5L155.0 70.3L155.0 71.0L155.0 71.8L155.0 72.5L155.0 73.3L155.0 74.1L155.0 74.8L155.0 75.6L155.0 76.4L155.0 77.1L155.0 77.9L155.0 78.7L155.0 79.4L155.0 80.2L155.0 81.0L155.0 81.7L155.0 82.5L155.0 83.3L155.0 84.0L155.0 84.8L155.0 85.6L155.0 86.3L155.0 87.1L155.0 87.9L155.0 88.6L155.0 89.4L155.0 90.2L155.0 90.9L155.0 91.5L154.2 90.9L154.2 90.9L153.4 90.3L153.3 90.2L152.6 89.7L152.3 89.4L151.9 89.1L151.2 88.6L151.1 88.5L150.3 87.9L150.2 87.9L149.5 87.4L149.1 87.1L148.7 86.8L148.1 86.3L147.9 86.3L147.2 85.7L147.0 85.6L146.4 85.2L145.8 84.8L145.6 84.6L144.8 84.1L144.7 84.0L144.0 83.6L143.5 83.3L143.2 83.1L142.5 82.6L142.3 82.5L141.7 82.1L141.1 81.7L140.9 81.6L140.1 81.1L139.8 81.0L139.3 80.7L138.6 80.2L138.5 80.2L137.8 79.7L137.3 79.4L137.0 79.3L136.2 78.8L135.9 78.7L135.4 78.4L134.6 77.9L134.6 77.9L133.8 77.5L133.2 77.1L133.1 77.1L132.3 76.6L131.8 76.4L131.5 76.2L130.7 75.8L130.4 75.6L129.9 75.4L129.1 75.0L128.9 74.8L128.3 74.6L127.6 74.2L127.4 74.1L126.8 73.8L126.0 73.4L125.8 73.3L125.2 73.0L124.4 72.6L124.3 72.5L123.6 72.3L122.9 71.9L122.7 71.8L122.1 71.5L121.3 71.1L121.0 71.0L120.5 70.8L119.7 70.4L119.3 70.3L118.9 70.1L118.2 69.7L117.6 69.5L117.4 69.4L116.6 69.0L115.8 68.7L115.8 68.7L115.0 68.4L114.2 68.0L114.0 68.0L113.5 67.7L112.7 67.4L112.2 67.2L111.9 67.1L111.1 66.7L110.3 66.4L110.3 66.4L109.5 66.1L108.7 65.8L108.3 65.7L108.0 65.5L107.2 65.2L106.4 64.9L106.3 64.9L105.6 64.6L104.8 64.3L104.3 64.1L104.0 64.0L103.3 63.7L102.5 63.5L102.2 63.4L101.7 63.2L100.9 62.9L100.1 62.6L100.0 62.6L99.3 62.4L98.6 62.1L97.8 61.8L97.8 61.8L97.0 61.6L96.2 61.3L95.5 61.1L95.4 61.0L94.6 60.8L93.9 60.5L93.1 60.3L93.1 60.3L92.3 60.0L91.5 59.8L90.7 59.5L90.7 59.5L89.9 59.3L89.2 59.1L88.4 58.8L88.2 58.8L87.6 58.6L86.8 58.4L86.0 58.1L85.6 58.0L85.2 57.9L84.4 57.7L83.7 57.5L82.9 57.2L82.9 57.2L82.1 57.0L81.3 56.8L80.5 56.6L80.1 56.5L79.7 56.4L79.0 56.2L78.2 56.0L77.4 55.8L77.1 55.7L76.6 55.6L75.8 55.4L75.0 55.2L74.3 55.0L74.1 54.9L73.5 54.8L72.7 54.6L71.9 54.4L71.1 54.2L70.9 54.2L70.3 54.0L69.6 53.8L68.8 53.7L68.0 53.5L67.6 53.4L67.2 53.3L66.4 53.1L65.6 53.0L64.8 52.8L64.1 52.6L64.1 52.6L63.3 52.4L62.5 52.3L61.7 52.1L60.9 52.0L60.4 51.9L60.1 51.8L59.4 51.6L58.6 51.5L57.8 51.3L57.0 51.2L56.5 51.1L56.2 51.0L55.4 50.9L54.7 50.7L53.9 50.6L53.1 50.5L52.4 50.3L52.3 50.3L51.5 50.2L50.7 50.0L50.0 49.9L49.2 49.8L48.4 49.6L47.9 49.6L47.6 49.5L46.8 49.4L46.0 49.3L45.3 49.1L44.5 49.0L43.7 48.9L43.1 48.8L42.9 48.8L42.1 48.7L41.3 48.5L40.5 48.4L39.8 48.3L39.0 48.2L38.2 48.1L37.7 48.0L37.4 48.0L36.6 47.9L35.8 47.8L35.1 47.7L34.3 47.6L33.5 47.5L32.7 47.4L31.9 47.3L31.7 47.3L31.1 47.2L30.4 47.1L29.6 47.0L28.8 46.9L28.0 46.8L27.2 46.8L26.4 46.7L25.7 46.6L24.9 46.5L24.8 46.5L24.1 46.4L23.3 46.4L22.5 46.3L21.7 46.2L20.9 46.1L20.2 46.1L19.4 46.0L18.6 45.9L17.8 45.9L17.0 45.8L16.3 45.7L16.2 45.7L15.5 45.7L14.7 45.6L13.9 45.5L13.1 45.5L12.3 45.4L11.5 45.4L10.8 45.3L10.0 45.3L9.2 45.2L8.4 45.2L7.6 45.1L6.8 45.1L6.1 45.1L5.3 45.0L4.5 45.0L4.4 45.0L3.7 44.9L2.9 44.9L2.1 44.9L1.4 44.8L0.6 44.8L-0.2 44.8L-1.0 44.7L-1.0 44.2L-1.0 43.4L-1.0 42.7L-1.0 41.9L-1.0 41.1L-1.0 40.4L-1.0 39.6L-1.0 38.8L-1.0 38.1L-1.0 37.3L-1.0 36.5L-1.0 35.8L-1.0 35.0L-1.0 34.2L-1.0 33.5L-1.0 32.7L-1.0 31.9L-1.0 31.2L-1.0 30.4L-1.0 29.6L-1.0 28.9L-1.0 28.1L-1.0 27.3L-1.0 26.6L-1.0 25.8L-1.0 25.0L-1.0 24.3L-1.0 23.5L-1.0 22.8L-1.0 22.0L-1.0 21.2L-1.0 20.5L-1.0 19.7L-1.0 18.9L-1.0 18.2L-1.0 17.4L-1.0 16.6L-1.0 15.9L-1.0 15.1L-1.0 14.3L-1.0 13.6L-1.0 12.8L-1.0 12.0L-1.0 11.3L-1.0 10.5L-1.0 9.7L-1.0 9.0L-1.0 8.2L-1.0 7.4L-1.0 6.7L-1.0 5.9L-1.0 5.1L-1.0 4.4L-1.0 3.6L-1.0 2.8L-1.0 2.1L-1.0 1.3L-1.0 0.5L-1.0 -0.2L-1.0 -1.0Z" fill="#88b8c1"/>
<path d="M-0.2 -1.0L0.6 -1.0L1.4 -1.0L2.1 -1.0L2.9 -1.0L3.7 -1.0L4.5 -1.0L5.3 -1.0L6.1 -1.0L6.8 -1.0L7.6 -1.0L8.4 -1.0L9.2 -1.0L10.0 -1.0L10.8 -1.0L11.5 -1.0L12.3 -1.0L13.1 -1.0L13.9 -1.0L14.7 -1.0L15.5 -1.0L16.2 -1.0L17.0 -1.0L17.8 -1.0L18.6 -1.0L19.4 -1.0L20.2 -1.0L20.9 -1.0L21.7 -1.0L22.5 -1.0L23.3 -1.0L24.1 -1.0L24.9 -1.0L25.7 -1.0L26.4 -1.0L27.2 -1.0L28.0 -1.0L28.8 -1.0L29.6 -1.0L30.4 -1.0L31.1 -1.0L31.9 -1.0L32.7 -1.0L33.5 -1.0L34.3 -1.0L35.1 -1.0L35.8 -1.0L36.6 -1.0L37.4 -1.0L38.2 -1.0L39.0 -1.0L39.8 -1.0L40.5 -1.0L41.3 -1.0L42.1 -1.0L42.9 -1.0L43.7 -1.0L44.5 -1.0L45.3 -1.0L46.0 -1.0L46.8 -1.0L47.6 -1.0L48.4 -1.0L49.2 -1.0L50.0 -1.0L50.7 -1.0L51.5 -1.0L52.3 -1.0L53.1 -1.0L53.9 -1.0L54.7 -1.0L55.4 -1.0L56.2 -1.0L57.0 -1.0L57.8 -1.0L58.6 -1.0L59.4 -1.0L60.1 -1.0L60.9 -1.0L61.7 -1.0L62.5 -1.0L63.3 -1.0L64.1 -1.0L64.8 -1.0L65.6 -1.0L66.4 -1.0L67.2 -1.0L68.0 -1.0L68.8 -1.0L69.6 -1.0L70.3 -1.0L71.1 -1.0L71.9 -1.0L72.7 -1.0L73.5 -1.0L74.3 -1.0L75.0 -1.0L75.8 -1.0L76.6 -1.0L77.4 -1.0L78.2 -1.0L79.0 -1.0L79.7 -1.0L80.5 -1.0L81.3 -1.0L82.1 -1.0L82.9 -1.0L83.7 -1.0L84.4 -1.0L85.2 -1.0L86.0 -1.0L86.8 -1.0L87.6 -1.0L88.4 -1.0L89.2 -1.0L89.9 -1.0L90.7 -1.0L91.5 -1.0L92.3 -1.0L93.1 -1.0L93.9 -1.0L94.6 -1.0L95.4 -1.0L96.2 -1.0L97.0 -1.0L97.8 -1.0L98.6 -1.0L99.3 -1.0L100.1 -1.0L100.9 -1.0L101.7 -1.0L102.5 -1.0L103.3 -1.0L104.0 -1.0L104.8 -1.0L105.6 -1.0L106.4 -1.0L107.2 -1.0L108.0 -1.0L108.7 -1.0L109.5 -1.0L110.3 -1.0L111.1 -1.0L111.9 -1.0L112.7 -1.0L113.5 -1.0L114.2 -1.0L115.0 -1.0L115.8 -1.0L116.6 -1.0L117.4 -1.0L118.2 -1.0L118.9 -1.0L119.7 -1.0L120.5 -1.0L121.3 -1.0L122.1 -1.0L122.9 -1.0L123.6 -1.0L124.4 -1.0L125.2 -1.0L126.0 -1.0L126.8 -1.0L127.6 -1.0L128.3 -1.0L129.1 -1.0L129.9 -1.0L130.7 -1.0L131.5 -1.0L132.3 -1.0L133.1 -1.0L133.8 -1.0L134.6 -1.0L135.4 -1.0L136.2 -1.0L137.0 -1.0L137.8 -1.0L138.5 -1.0L139.3 -1.0L140.1 -1.0L140.9 -1.0L141.7 -1.0L142.5 -1.0L143.2 -1.0L144.0 -1.0L144.8 -1.0L145.6 -1.0L146.4 -1.0L147.2 -1.0L147.9 -1.0L148.7 -1.0L149.5 -1.0L150.3 -1.0L151.1 -1.0L151.9 -1.0L152.6 -1.0L153.4 -1.0L154.2 -1.0L155.0 -1.0L155.0 -0.2L155.0 0.5L155.0 1.3L155.0 2.1L155.0 2.8L155.0 3.6L155.0 4.4L155.0 5.1L155.0 5.9L155.0 6.7L155.0 7.4L155.0 8.2L155.0 9.0L155.0 9.7L155.0 10.5L155.0 11.3L155.0 12.0L155.0 12.8L155.0 13.6L155.0 14.3L155.0 15.1L155.0 15.9L155.0 16.6L155.0 17.4L155.0 18.2L155.0 18.9L155.0 19.7L155.0 20.5L155.0 21.2L155.0 22.0L155.0 22.8L155.0 23.5L155.0 24.3L155.0 25.0L155.0 25.8L155.0 26.6L155.0 27.3L155.0 28.1L155.0 28.9L155.0 29.6L155.0 30.4L155.0 31.2L155.0 31.9L155.0 32.7L155.0 33.5L155.0 34.2L155.0 35.0L155.0 35.8L155.0 36.5L155.0 37.3L155.0 38.1L155.0 38.8L155.0 39.6L155.0 40.4L155.0 41.1L155.0 41.9L155.0 42.7L155.0 43.4L155.0 44.2L155.0 45.0L155.0 45.7L155.0 46.5L155.0 47.3L155.0 48.0L155.0 48.8L155.0 49.6L155.0 50.3L155.0 51.1L155.0 51.9L155.0 52.6L155.0 53.4L155.0 54.2L155.0 54.9L155.0 55.7L155.0 56.5L155.0 57.2L155.0 58.0L155.0 58.8L155.0 59.5L155.0 60.3L155.0 61.1L155.0 61.8L155.0 62.6L155.0 63.4L155.0 64.1L155.0 64.9L155.0 65.7L155.0 66.4L155.0 67.2L155.0 68.0L155.0 68.7L155.0 69.5L155.0 70.3L155.0 71.0L155.0 71.8L155.0 72.5L155.0 73.3L155.0 74.1L155.0 74.8L155.0 75.6L155.0 76.4L155.0 77.1L155.0 77.9L155.0 78.7L155.0 79.4L155.0 79.5L155.0 79.4L154.2 78.9L153.8 78.7L153.4 78.4L152.6 77.9L152.6 77.9L151.9 77.5L151.4 77.1L151.1 77.0L150.3 76.5L150.1 76.4L149.5 76.0L148.8 75.6L148.7 75.6L147.9 75.1L147.5 74.8L147.2 74.6L146.4 74.2L146.2 74.1L145.6 73.7L144.8 73.3L144.8 73.3L144.0 72.9L143.4 72.5L143.2 72.4L142.5 72.0L142.0 71.8L141.7 71.6L140.9 71.2L140.6 71.0L140.1 70.8L139.3 70.4L139.1 70.3L138.5 70.0L137.8 69.6L137.6 69.5L137.0 69.2L136.2 68.8L136.1 68.7L135.4 68.4L134.6 68.0L134.5 68.0L133.8 67.6L133.1 67.2L132.9 67.2L132.3 66.9L131.5 66.5L131.3 66.4L130.7 66.1L129.9 65.8L129.6 65.7L129.1 65.4L128.3 65.1L127.9 64.9L127.6 64.7L126.8 64.4L126.2 64.1L126.0 64.0L125.2 63.7L124.4 63.4L124.4 63.4L123.6 63.0L122.9 62.7L122.6 62.6L122.1 62.4L121.3 62.0L120.7 61.8L120.5 61.7L119.7 61.4L118.9 61.1L118.8 61.1L118.2 60.8L117.4 60.5L116.9 60.3L116.6 60.2L115.8 59.9L115.0 59.6L114.9 59.5L114.2 59.3L113.5 59.0L112.9 58.8L112.7 58.7L111.9 58.4L111.1 58.1L110.8 58.0L110.3 57.8L109.5 57.6L108.7 57.3L108.6 57.2L108.0 57.0L107.2 56.7L106.4 56.5L106.4 56.5L105.6 56.2L104.8 55.9L104.1 55.7L104.0 55.7L103.3 55.4L102.5 55.2L101.8 54.9L101.7 54.9L100.9 54.6L100.1 54.4L99.4 54.2L99.3 54.1L98.6 53.9L97.8 53.7L97.0 53.4L96.9 53.4L96.2 53.2L95.4 52.9L94.6 52.7L94.4 52.6L93.9 52.5L93.1 52.3L92.3 52.0L91.7 51.9L91.5 51.8L90.7 51.6L89.9 51.4L89.2 51.1L89.0 51.1L88.4 50.9L87.6 50.7L86.8 50.5L86.2 50.3L86.0 50.3L85.2 50.1L84.4 49.9L83.7 49.7L83.2 49.6L82.9 49.5L82.1 49.3L81.3 49.1L80.5 48.9L80.2 48.8L79.7 48.7L79.0 48.5L78.2 48.3L77.4 48.1L77.0 48.0L76.6 47.9L75.8 47.8L75.0 47.6L74.3 47.4L73.7 47.3L73.5 47.2L72.7 47.0L71.9 46.9L71.1 46.7L70.3 46.5L70.2 46.5L69.6 46.4L68.8 46.2L68.0 46.0L67.2 45.9L66.6 45.7L66.4 45.7L65.6 45.5L64.8 45.4L64.1 45.2L63.3 45.1L62.8 45.0L62.5 44.9L61.7 44.8L60.9 44.6L60.1 44.5L59.4 44.3L58.7 44.2L58.6 44.2L57.8 44.0L57.0 43.9L56.2 43.8L55.4 43.6L54.7 43.5L54.3 43.4L53.9 43.4L53.1 43.2L52.3 43.1L51.5 43.0L50.7 42.8L50.0 42.7L49.7 42.7L49.2 42.6L48.4 42.5L47.6 42.4L46.8 42.2L46.0 42.1L45.3 42.0L44.6 41.9L44.5 41.9L43.7 41.8L42.9 41.7L42.1 41.6L41.3 41.4L40.5 41.3L39.8 41.2L39.0 41.1L39.0 41.1L38.2 41.0L37.4 40.9L36.6 40.8L35.8 40.7L35.1 40.6L34.3 40.6L33.5 40.5L32.7 40.4L32.7 40.4L31.9 40.3L31.1 40.2L30.4 40.1L29.6 40.0L28.8 39.9L28.0 39.9L27.2 39.8L26.4 39.7L25.7 39.6L25.4 39.6L24.9 39.6L24.1 39.5L23.3 39.4L22.5 39.3L21.7 39.3L20.9 39.2L20.2 39.1L19.4 39.1L18.6 39.0L17.8 38.9L17.0 38.9L16.4 38.8L16.2 38.8L15.5 38.8L14.7 38.7L13.9 38.7L13.1 38.6L12.3 38.6L11.5 38.5L10.8 38.5L10.0 38.4L9.2 38.4L8.4 38.3L7.6 38.3L6.8 38.2L6.1 38.2L5.3 38.2L4.5 38.1L3.7 38.1L3.5 38.1L2.9 38.0L2.1 38.0L1.4 38.0L0.6 38.0L-0.2 37.9L-1.0 37.9L-1.0 37.3L-1.0 36.5L-1.0 35.8L-1.0 35.0L-1.0 34.2L-1.0 33.5L-1.0 32.7L-1.0 31.9L-1.0 31.2L-1.0 30.4L-1.0 29.6L-1.0 28.9L-1.0 28.1L-1.0 27.3L-1.0 26.6L-1.0 25.8L-1.0 25.0L-1.0 24.3L-1.0 23.5L-1.0 22.8L-1.0 22.0L-1.0 21.2L-1.0 20.5L-1.0 19.7L-1.0 18.9L-1.0 18.2L-1.0 17.4L-1.0 16.6L-1.0 15.9L-1.0 15.1L-1.0 14.3L-1.0 13.6L-1.0 12.8L-1.0 12.0L-1.0 11.3L-1.0 10.5L-1.0 9.7L-1.0 9.0L-1.0 8.2L-1.0 7.4L-1.0 6.7L-1.0 5.9L-1.0 5.1L-1.0 4.4L-1.0 3.6L-1.0 2.8L-1.0 2.1L-1.0 1.3L-1.0 0.5L-1.0 -0.2L-1.0 -1.0Z" fill="#86bfc1"/>
<path d="M-0.2 -1.0L0.6 -1.0L1.4 -1.0L2.1 -1.0L2.9 -1.0L3.7 -1.0L4.5 -1.0L5.3 -1.0L6.1 -1.0L6.8 -1.0L7.6 -1.0L8.4 -1.0L9.2 -1.0L10.0 -1.0L10.8 -1.0L11.5 -1.0L12.3 -1.0L13.1 -1.0L13.9 -1.0L14.7 -1.0L15.5 -1.0L16.2 -1.0L17.0 -1.0L17.8 -1.0L18.6 -1.0L19.4 -1.0L20.2 -1.0L20.9 -1.0L21.7 -1.0L22.5 -1.0L23.3 -1.0L24.1 -1.0L24.9 -1.0L25.7 -1.0L26.4 -1.0L27.2 -1.0L28.0 -1.0L28.8 -1.0L29.6 -1.0L30.4 -1.0L31.1 -1.0L31.9 -1.0L32.7 -1.0L33.5 -1.0L34.3 -1.0L35.1 -1.0L35.8 -1.0L36.6 -1.0L37.4 -1.0L38.2 -1.0L39.0 -1.0L39.8 -1.0L40.5 -1.0L41.3 -1.0L42.1 -1.0L42.9 -1.0L43.7 -1.0L44.5 -1.0L45.3 -1.0L46.0 -1.0L46.8 -1.0L47.6 -1.0L48.4 -1.0L49.2 -1.0L50.0 -1.0L50.7 -1.0L51.5 -1.0L52.3 -1.0L53.1 -1.0L53.9 -1.0L54.7 -1.0L55.4 -1.0L56.2 -1.0L57.0 -1.0L57.8 -1.0L58.6 -1.0L59.4 -1.0L60.1 -1.0L60.9 -1.0L61.7 -1.0L62.5 -1.0L63.3 -1.0L64.1 -1.0L64.8 -1.0L65.6 -1.0L66.4 -1.0L67.2 -1.0L68.0 -1.0L68.8 -1.0L69.6 -1.0L70.3 -1.0L71.1 -1.0L71.9 -1.0L72.7 -1.0L73.5 -1.0L74.3 -1.0L75.0 -1.0L75.8 -1.0L76.6 -1.0L77.4 -1.0L78.2 -1.0L79.0 -1.0L79.7 -1.0L80.5 -1.0L81.3 -1.0L82.1 -1.0L82.9 -1.0L83.7 -1.0L84.4 -1.0L85.2 -1.0L86.0 -1.0L86.8 -1.0L87.6 -1.0L88.4 -1.0L89.2 -1.0L89.9 -1.0L90.7 -1.0L91.5 -1.0L92.3 -1.0L93.1 -1.0L93.9 -1.0L94.6 -1.0L95.4 -1.0L96.2 -1.0L97.0 -1.0L97.8 -1.0L98.6 -1.0L99.3 -1.0L100.1 -1.0L100.9 -1.0L101.7 -1.0L102.5 -1.0L103.3 -1.0L104.0 -1.0L104.8 -1.0L105.6 -1.0L106.4 -1.0L107.2 -1.0L108.0 -1.0L108.7 -1.0L109.5 -1.0L110.3 -1.0L111.1 -1.0L111.9 -1.0L112.7 -1.0L113.5 -1.0L114.2 -1.0L115.0 -1.0L115.8 -1.0L116.6 -1.0L117.4 -1.0L118.2 -1.0L118.9 -1.0L119.7 -1.0L120.5 -1.0L121.3 -1.0L122.1 -1.0L122.9 -1.0L123.6 -1.0L124.4 -1.0L125.2 -1.0L126.0 -1.0L126.8 -1.0L127.6 -1.0L128.3 -1.0L129.1 -1.0L129.9 -1.0L130.7 -1.0L131.5 -1.0L132.3 -1.0L133.1 -1.0L133.8 -1.0L134.6 -1.0L135.4 -1.0L136.2 -1.0L137.0 -1.0L137.8 -1.0L138.5 -1.0L139.3 -1.0L140.1 -1.0L140.9 -1.0L141.7 -1.0L142.5 -1.0L143.2 -1.0L144.0 -1.0L144.8 -1.0L145.6 -1.0L146.4 -1.0L147.2 -1.0L147.9 -1.0L148.7 -1.0L149.5 -1.0L150.3 -1.0L151.1 -1.0L151.9 -1.0L152.6 -1.0L153.4 -1.0L154.2 -1.0L155.0 -1.0L155.0 -0.2L155.0 0.5L155.0 1.3L155.0 2.1L155.0 2.8L155.0 3.6L155.0 4.4L155.0 5.1L155.0 5.9L155.0 6.7L155.0 7.4L155.0 8.2L155.0 9.0L155.0 9.7L155.0 10.5L155.0 11.3L155.0 12.0L155.0 12.8L155.0 13.6L155.0 14.3L155.0 15.1L155.0 15.9L155.0 16.6L155.0 17.4L155.0 18.2L155.0 18.9L155.0 19.7L155.0 20.5L155.0 21.2L155.0 22.0L155.0 22.8L155.0 23.5L155.0 24.3L155.0 25.0L155.0 25.8L155.0 26.6L155.0 27.3L155.0 28.1L155.0 28.9L155.0 29.6L155.0 30.4L155.0 31.2L155.0 31.9L155.0 32.7L155.0 33.5L155.0 34.2L155.0 35.0L155.0 35.8L155.0 36.5L155.0 37.3L155.0 38.1L155.0 38.8L155.0 39.6L155.0 40.4L155.0 41.1L155.0 41.9L155.0 42.7L155.0 43.4L155.0 44.2L155.0 45.0L155.0 45.7L155.0 46.5L155.0 47.3L155.0 48.0L155.0 48.8L155.0 49.6L155.0 50.3L155.0 51.1L155.0 51.9L155.0 52.6L155.0 53.4L155.0 54.2L155.0 54.9L155.0 55.7L155.0 56.5L155.0 57.2L155.0 58.0L155.0 58.8L155.0 59.5L155.0 60.3L155.0 61.1L155.0 61.8L155.0 62.6L155.0 63.4L155.0 64.1L155.0 64.9L155.0 65.7L155.0 66.4L155.0 67.2L155.0 68.0L155.0 68.7L155.0 69.2L154.2 68.7L154.2 68.7L153.4 68.3L152.8 68.0L152.6 67.9L151.9 67.4L151.4 67.2L151.1 67.0L150.3 66.6L149.9 66.4L149.5 66.2L148.7 65.8L148.5 65.7L147.9 65.4L147.2 65.0L147.0 64.9L146.4 64.6L145.6 64.2L145.4 64.1L144.8 63.8L144.0 63.4L143.9 63.4L143.2 63.1L142.5 62.7L142.3 62.6L141.7 62.3L140.9 61.9L140.7 61.8L140.1 61.6L139.3 61.2L139.0 61.1L138.5 60.8L137.8 60.5L137.3 60.3L137.0 60.1L136.2 59.8L135.6 59.5L135.4 59.4L134.6 59.1L133.8 58.8L133.8 58.8L133.1 58.4L132.3 58.1L132.0 58.0L131.5 57.8L130.7 57.4L130.2 57.2L129.9 57.1L129.1 56.8L128.3 56.5L128.3 56.5L127.6 56.2L126.8 55.8L126.4 55.7L126.0 55.5L125.2 55.2L124.4 54.9L124.4 54.9L123.6 54.6L122.9 54.3L122.4 54.2L122.1 54.0L121.3 53.7L120.5 53.5L120.4 53.4L119.7 53.2L118.9 52.9L118.3 52.6L118.2 52.6L117.4 52.3L116.6 52.0L116.1 51.9L115.8 51.8L115.0 51.5L114.2 51.2L113.9 51.1L113.5 51.0L112.7 50.7L111.9 50.4L111.6 50.3L111.1 50.2L110.3 49.9L109.5 49.6L109.3 49.6L108.7 49.4L108.0 49.1L107.2 48.9L106.9 48.8L106.4 48.6L105.6 48.4L104.8 48.2L104.4 48.0L104.0 47.9L103.3 47.7L102.5 47.4L101.9 47.3L101.7 47.2L100.9 47.0L100.1 46.7L99.3 46.5L99.3 46.5L98.6 46.3L97.8 46.1L97.0 45.9L96.6 45.7L96.2 45.6L95.4 45.4L94.6 45.2L93.9 45.0L93.8 45.0L93.1 44.8L92.3 44.6L91.5 44.4L90.9 44.2L90.7 44.2L89.9 43.9L89.2 43.7L88.4 43.5L87.9 43.4L87.6 43.3L86.8 43.2L86.0 43.0L85.2 42.8L84.8 42.7L84.4 42.6L83.7 42.4L82.9 42.2L82.1 42.0L81.6 41.9L81.3 41.8L80.5 41.7L79.7 41.5L79.0 41.3L78.3 41.1L78.2 41.1L77.4 40.9L76.6 40.8L75.8 40.6L75.0 40.4L74.8 40.4L74.3 40.3L73.5 40.1L72.7 39.9L71.9 39.8L71.1 39.6L71.1 39.6L70.3 39.5L69.6 39.3L68.8 39.1L68.0 39.0L67.2 38.8L67.2 38.8L66.4 38.7L65.6 38.5L64.8 38.4L64.1 38.2L63.3 38.1L63.1 38.1L62.5 38.0L61.7 37.8L60.9 37.7L60.1 37.5L59.4 37.4L58.8 37.3L58.6 37.3L57.8 37.1L57.0 37.0L56.2 36.9L55.4 36.8L54.7 36.6L54.1 36.5L53.9 36.5L53.1 36.4L52.3 36.3L51.5 36.1L50.7 36.0L50.0 35.9L49.2 35.8L49.1 35.8L48.4 35.7L47.6 35.6L46.8 35.4L46.0 35.3L45.3 35.2L44.5 35.1L43.7 35.0L43.6 35.0L42.9 34.9L42.1 34.8L41.3 34.7L40.5 34.6L39.8 34.5L39.0 34.4L38.2 34.3L37.5 34.2L37.4 34.2L36.6 34.1L35.8 34.0L35.1 34.0L34.3 33.9L33.5 33.8L32.7 33.7L31.9 33.6L31.1 33.5L30.6 33.5L30.4 33.5L29.6 33.4L28.8 33.3L28.0 33.2L27.2 33.1L26.4 33.1L25.7 33.0L24.9 32.9L24.1 32.9L23.3 32.8L22.5 32.7L22.3 32.7L21.7 32.7L20.9 32.6L20.2 32.5L19.4 32.5L18.6 32.4L17.8 32.4L17.0 32.3L16.2 32.2L15.5 32.2L14.7 32.1L13.9 32.1L13.1 32.0L12.3 32.0L11.5 31.9L11.5 31.9L10.8 31.9L10.0 31.9L9.2 31.8L8.4 31.8L7.6 31.7L6.8 31.7L6.1 31.7L5.3 31.6L4.5 31.6L3.7 31.6L2.9 31.5L2.1 31.5L1.4 31.5L0.6 31.4L-0.2 31.4L-1.0 31.4L-1.0 31.2L-1.0 30.4L-1.0 29.6L-1.0 28.9L-1.0 28.1L-1.0 27.3L-1.0 26.6L-1.0 25.8L-1.0 25.0L-1.0 24.3L-1.0 23.5L-1.0 22.8L-1.0 22.0L-1.0 21.2L-1.0 20.5L-1.0 19.7L-1.0 18.9L-1.0 18.2L-1.0 17.4L-1.0 16.6L-1.0 15.9L-1.0 15.1L-1.0 14.3L-1.0 13.6L-1.0 12.8L-1.0 12.0L-1.0 11.3L-1.0 10.5L-1.0 9.7L-1.0 9.0L-1.0 8.2L-1.0 7.4L-1.0 6.7L-1.0 5.9L-1.0 5.1L-1.0 4.4L-1.0 3.6L-1.0 2.8L-1.0 2.1L-1.0 1.3L-1.0 0.5L-1.0 -0.2L-1.0 -1.0Z" fill="#84c5bf"/>
<path d="M-0.2 -1.0L0.6 -1.0L1.4 -1.0L2.1 -1.0L2.9 -1.0L3.7 -1.0L4.5 -1.0L5.3 -1.0L6.1 -1.0L6.8 -1.0L7.6 -1.0L8.4 -1.0L9.2 -1.0L10.0 -1.0L10.8 -1.0L11.5 -1.0L12.3 -1.0L13.1 -1.0L13.9 -1.0L14.7 -1.0L15.5 -1.0L16.2 -1.0L17.0 -1.0L17.8 -1.0L18.6 -1.0L19.4 -1.0L20.2 -1.0L20.9 -1.0L21.7 -1.0L22.5 -1.0L23.3 -1.0L24.1 -1.0L24.9 -1.0L25.7 -1.0L26.4 -1.0L27.2 -1.0L28.0 -1.0L28.8 -1.0L29.6 -1.0L30.4 -1.0L31.1 -1.0L31.9 -1.0L32.7 -1.0L33.5 -1.0L34.3 -1.0L35.1 -1.0L35.8 -1.0L36.6 -1.0L37.4 -1.0L38.2 -1.0L39.0 -1.0L39.8 -1.0L40.5 -1.0L41.3 -1.0L42.1 -1.0L42.9 -1.0L43.7 -1.0L44.5 -1.0L45.3 -1.0L46.0 -1.0L46.8 -1.0L47.6 -1.0L48.4 -1.0L49.2 -1.0L50.0 -1.0L50.7 -1.0L51.5 -1.0L52.3 -1.0L53.1 -1.0L53.9 -1.0L54.7 -1.0L55.4 -1.0L56.2 -1.0L57.0 -1.0L57.8 -1.0L58.6 -1.0L59.4 -1.0L60.1 -1.0L60.9 -1.0L61.7 -1.0L62.5 -1.0L63.3 -1.0L64.1 -1.0L64.8 -1.0L65.6 -1.0L66.4 -1.0L67.2 -1.0L68.0 -1.0L68.8 -1.0L69.6 -1.0L70.3 -1.0L71.1 -1.0L71.9 -1.0L72.7 -1.0L73.5 -1.0L74.3 -1.0L75.0 -1.0L75.8 -1.0L76.6 -1.0L77.4 -1.0L78.2 -1.0L79.0 -1.0L79.7 -1.0L80.5 -1.0L81.3 -1.0L82.1 -1.0L82.9 -1.0L83.7 -1.0L84.4 -1.0L85.2 -1.0L86.0 -1.0L86.8 -1.0L87.6 -1.0L88.4 -1.0L89.2 -1.0L89.9 -1.0L90.7 -1.0L91.5 -1.0L92.3 -1.0L93.1 -1.0L93.9 -1.0L94.6 -1.0L95.4 -1.0L96.2 -1.0L97.0 -1.0L97.8 -1.0L98.6 -1.0L99.3 -1.0L100.1 -1.0L100.9 -1.0L101.7 -1.0L102.5 -1.0L103.3 -1.0L104.0 -1.0L104.8 -1.0L105.6 -1.0L106.4 -1.0L107.2 -1.0L108.0 -1.0L108.7 -1.0L109.5 -1.0L110.3 -1.0L111.1 -1.0L111.9 -1.0L112.7 -1.0L113.5 -1.0L114.2 -1.0L115.0 -1.0L115.8 -1.0L116.6 -1.0L117.4 -1.0L118.2 -1.0L118.9 -1.0L119.7 -1.0L120.5 -1.0L121.3 -1.0L122.1 -1.0L122.9 -1.0L123.6 -1.0L124.4 -1.0L125.2 -1.0L126.0 -1.0L126.8 -1.0L127.6 -1.0L128.3 -1.0L129.1 -1.0L129.9 -1.0L130.7 -1.0L131.5 -1.0L132.3 -1.0L133.1 -1.0L133.8 -1.0L134.6 -1.0L135.4 -1.0L136.2 -1.0L137.0 -1.0L137.8 -1.0L138.5 -1.0L139.3 -1.0L140.1 -1.0L140.9 -1.0L141.7 -1.0L142.5 -1.0L143.2 -1.0L144.0 -1.0L144.8 -1.0L145.6 -1.0L146.4 -1.0L147.2 -1.0L147.9 -1.0L148.7 -1.0L149.5 -1.0L150.3 -1.0L151.1 -1.0L151.9 -1.0L152.6 -1.0L153.4 -1.0L154.2 -1.0L155.0 -1.0L155.0 -0.2L155.0 0.5L155.0 1.3L155.0 2.1L155.0 2.8L155.0 3.6L155.0 4.4L155.0 5.1L155.0 5.9L155.0 6.7L155.0 7.4L155.0 8.2L155.0 9.0L155.0 9.7L155.0 10.5L155.0 11.3L155.0 12.0L155.0 12.8L155.0 13.6L155.0 14.3L155.0 15.1L155.0 15.9L155.0 16.6L155.0 17.4L155.0 18.2L155.0 18.9L155.0 19.7L155.0 20.5L155.0 21.2L155.0 22.0L155.0 22.8L155.0 23.5L155.0 24.3L155.0 25.0L155.0 25.8L155.0 26.6L155.0 27.3L155.0 28.1L155.0 28.9L155.0 29.6L155.0 30.4L155.0 31.2L155.0 31.9L155.0 32.7L155.0 33.5L155.0 34.2L155.0 35.0L155.0 35.8L155.0 36.5L155.0 37.3L155.0 38.1L155.0 38.8L155.0 39.6L155.0 40.4L155.0 41.1L155.0 41.9L155.0 42.7L155.0 43.4L155.0 44.2L155.0 45.0L155.0 45.7L155.0 46.5L155.0 47.3L155.0 48.0L155.0 48.8L155.0 49.6L155.0 50.3L155.0 51.1L155.0 51.9L155.0 52.6L155.0 53.4L155.0 54.2L155.0 54.9L155.0 55.7L155.0 56.5L155.0 57.2L155.0 58.0L155.0 58.8L155.0 59.5L155.0 60.0L154.2 59.6L154.0 59.5L153.4 59.2L152.6 58.9L152.4 58.8L151.9 58.5L151.1 58.1L150.8 58.0L150.3 57.7L149.5 57.4L149.2 57.2L148.7 57.0L147.9 56.6L147.6 56.5L147.2 56.3L146.4 55.9L145.9 55.7L145.6 55.6L144.8 55.2L144.1 54.9L144.0 54.9L143.2 54.5L142.5 54.2L142.4 54.2L141.7 53.9L140.9 53.5L140.6 53.4L140.1 53.2L139.3 52.9L138.8 52.6L138.5 52.5L137.8 52.2L137.0 51.9L136.9 51.9L136.2 51.6L135.4 51.3L135.0 51.1L134.6 51.0L133.8 50.6L133.1 50.3L133.0 50.3L132.3 50.0L131.5 49.7L131.1 49.6L130.7 49.4L129.9 49.1L129.1 48.8L129.0 48.8L128.3 48.6L127.6 48.3L126.9 48.0L126.8 48.0L126.0 47.7L125.2 47.4L124.8 47.3L124.4 47.1L123.6 46.9L122.9 46.6L122.6 46.5L122.1 46.3L121.3 46.0L120.5 45.8L120.4 45.7L119.7 45.5L118.9 45.2L118.2 45.0L118.1 45.0L117.4 44.7L116.6 44.5L115.8 44.2L115.8 44.2L115.0 44.0L114.2 43.7L113.5 43.5L113.4 43.4L112.7 43.2L111.9 43.0L111.1 42.7L110.9 42.7L110.3 42.5L109.5 42.3L108.7 42.0L108.4 41.9L108.0 41.8L107.2 41.6L106.4 41.3L105.7 41.1L105.6 41.1L104.8 40.9L104.0 40.7L103.3 40.4L103.0 40.4L102.5 40.2L101.7 40.0L100.9 39.8L100.3 39.6L100.1 39.6L99.3 39.4L98.6 39.1L97.8 38.9L97.4 38.8L97.0 38.7L96.2 38.5L95.4 38.3L94.6 38.1L94.4 38.1L93.9 37.9L93.1 37.7L92.3 37.5L91.5 37.3L91.4 37.3L90.7 37.1L89.9 37.0L89.2 36.8L88.4 36.6L88.2 36.5L87.6 36.4L86.8 36.2L86.0 36.0L85.2 35.8L84.9 35.8L84.4 35.7L83.7 35.5L82.9 35.3L82.1 35.1L81.5 35.0L81.3 35.0L80.5 34.8L79.7 34.6L79.0 34.5L78.2 34.3L77.9 34.2L77.4 34.1L76.6 34.0L75.8 33.8L75.0 33.7L74.3 33.5L74.1 33.5L73.5 33.4L72.7 33.2L71.9 33.0L71.1 32.9L70.3 32.7L70.1 32.7L69.6 32.6L68.8 32.5L68.0 32.3L67.2 32.2L66.4 32.0L66.0 31.9L65.6 31.9L64.8 31.7L64.1 31.6L63.3 31.5L62.5 31.3L61.7 31.2L61.5 31.2L60.9 31.1L60.1 30.9L59.4 30.8L58.6 30.7L57.8 30.6L57.0 30.4L56.8 30.4L56.2 30.3L55.4 30.2L54.7 30.1L53.9 30.0L53.1 29.9L52.3 29.7L51.7 29.6L51.5 29.6L50.7 29.5L50.0 29.4L49.2 29.3L48.4 29.2L47.6 29.1L46.8 29.0L46.1 28.9L46.0 28.9L45.3 28.8L44.5 28.7L43.7 28.6L42.9 28.5L42.1 28.4L41.3 28.3L40.5 28.2L39.9 28.1L39.8 28.1L39.0 28.0L38.2 27.9L37.4 27.8L36.6 27.7L35.8 27.7L35.1 27.6L34.3 27.5L33.5 27.4L32.9 27.3L32.7 27.3L31.9 27.2L31.1 27.2L30.4 27.1L29.6 27.0L28.8 26.9L28.0 26.9L27.2 26.8L26.4 26.7L25.7 26.7L24.9 26.6L24.7 26.6L24.1 26.5L23.3 26.5L22.5 26.4L21.7 26.3L20.9 26.3L20.2 26.2L19.4 26.2L18.6 26.1L17.8 26.1L17.0 26.0L16.2 26.0L15.5 25.9L14.7 25.9L14.1 25.8L13.9 25.8L13.1 25.8L12.3 25.7L11.5 25.7L10.8 25.6L10.0 25.6L9.2 25.5L8.4 25.5L7.6 25.5L6.8 25.4L6.1 25.4L5.3 25.4L4.5 25.3L3.7 25.3L2.9 25.3L2.1 25.2L1.4 25.2L0.6 25.2L-0.2 25.2L-1.0 25.1L-1.0 25.0L-1.0 24.3L-1.0 23.5L-1.0 22.8L-1.0 22.0L-1.0 21.2L-1.0 20.5L-1.0 19.7L-1.0 18.9L-1.0 18.2L-1.0 17.4L-1.0 16.6L-1.0 15.9L-1.0 15.1L-1.0 14.3L-1.0 13.6L-1.0 12.8L-1.0 12.0L-1.0 11.3L-1.0 10.5L-1.0 9.7L-1.0 9.0L-1.0 8.2L-1.0 7.4L-1.0 6.7L-1.0 5.9L-1.0 5.1L-1.0 4.4L-1.0 3.6L-1.0 2.8L-1.0 2.1L-1.0 1.3L-1.0 0.5L-1.0 -0.2L-1.0 -1.0Z" fill="#84ccbd"/>
<path d="M-0.2 -1.0L0.6 -1.0L1.4 -1.0L2.1 -1.0L2.9 -1.0L3.7 -1.0L4.5 -1.0L5.3 -1.0L6.1 -1.0L6.8 -1.0L7.6 -1.0L8.4 -1.0L9.2 -1.0L10.0 -1.0L10.8 -1.0L11.5 -1.0L12.3 -1.0L13.1 -1.0L13.9 -1.0L14.7 -1.0L15.5 -1.0L16.2 -1.0L17.0 -1.0L17.8 -1.0L18.6 -1.0L19.4 -1.0L20.2 -1.0L20.9 -1.0L21.7 -1.0L22.5 -1.0L23.3 -1.0L24.1 -1.0L24.9 -1.0L25.7 -1.0L26.4 -1.0L27.2 -1.0L28.0 -1.0L28.8 -1.0L29.6 -1.0L30.4 -1.0L31.1 -1.0L31.9 -1.0L32.7 -1.0L33.5 -1.0L34.3 -1.0L35.1 -1.0L35.8 -1.0L36.6 -1.0L37.4 -1.0L38.2 -1.0L39.0 -1.0L39.8 -1.0L40.5 -1.0L41.3 -1.0L42.1 -1.0L42.9 -1.0L43.7 -1.0L44.5 -1.0L45.3 -1.0L46.0 -1.0L46.8 -1.0L47.6 -1.0L48.4 -1.0L49.2 -1.0L50.0 -1.0L50.7 -1.0L51.5 -1.0L52.3 -1.0L53.1 -1.0L53.9 -1.0L54.7 -1.0L55.4 -1.0L56.2 -1.0L57.0 -1.0L57.8 -1.0L58.6 -1.0L59.4 -1.0L60.1 -1.0L60.9 -1.0L61.7 -1.0L62.5 -1.0L63.3 -1.0L64.1 -1.0L64.8 -1.0L65.6 -1.0L66.4 -1.0L67.2 -1.0L68.0 -1.0L68.8 -1.0L69.6 -1.0L70.3 -1.0L71.1 -1.0L71.9 -1.0L72.7 -1.0L73.5 -1.0L74.3 -1.0L75.0 -1.0L75.8 -1.0L76.6 -1.0L77.4 -1.0L78.2 -1.0L79.0 -1.0L79.7 -1.0L80.5 -1.0L81.3 -1.0L82.1 -1.0L82.9 -1.0L83.7 -1.0L84.4 -1.0L85.2 -1.0L86.0 -1.0L86.8 -1.0L87.6 -1.0L88.4 -1.0L89.2 -1.0L89.9 -1.0L90.7 -1.0L91.5 -1.0L92.3 -1.0L93.1 -1.0L93.9 -1.0L94.6 -1.0L95.4 -1.0L96.2 -1.0L97.0 -1.0L97.8 -1.0L98.6 -1.0L99.3 -1.0L100.1 -1.0L100.9 -1.0L101.7 -1.0L102.5 -1.0L103.3 -1.0L104.0 -1.0L104.8 -1.0L105.6 -1.0L106.4 -1.0L107.2 -1.0L108.0 -1.0L108.7 -1.0L109.5 -1.0L110.3 -1.0L111.1 -1.0L111.9 -1.0L112.7 -1.0L113.5 -1.0L114.2 -1.0L115.0 -1.0L115.8 -1.0L116.6 -1.0L117.4 -1.0L118.2 -1.0L118.9 -1.0L119.7 -1.0L120.5 -1.0L121.3 -1.0L122.1 -1.0L122.9 -1.0L123.6 -1.0L124.4 -1.0L125.2 -1.0L126.0 -1.0L126.8 -1.0L127.6 -1.0L128.3 -1.0L129.1 -1.0L129.9 -1.0L130.7 -1.0L131.5 -1.0L132.3 -1.0L133.1 -1.0L133.8 -1.0L134.6 -1.0L135.4 -1.0L136.2 -1.0L137.0 -1.0L137.8 -1.0L138.5 -1.0L139.3 -1.0L140.1 -1.0L140.9 -1.0L141.7 -1.0L142.5 -1.0L143.2 -1.0L144.0 -1.0L144.8 -1.0L145.6 -1.0L146.4 -1.0L147.2 -1.0L147.9 -1.0L148.7 -1.0L149.5 -1.0L150.3 -1.0L151.1 -1.0L151.9 -1.0L152.6 -1.0L153.4 -1.0L154.2 -1.0L155.0 -1.0L155.0 -0.2L155.0 0.5L155.0 1.3L155.0 2.1L155.0 2.8L155.0 3.6L155.0 4.4L155.0 5.1L155.0 5.9L155.0 6.7L155.0 7.4L155.0 8.2L155.0 9.0L155.0 9.7L155.0 10.5L155.0 11.3L155.0 12.0L155.0 12.8L155.0 13.6L155.0 14.3L155.0 15.1L155.0 15.9L155.0 16.6L155.0 17.4L155.0 18.2L155.0 18.9L155.0 19.7L155.0 20.5L155.0 21.2L155.0 22.0L155.0 22.8L155.0 23.5L155.0 24.3L155.0 25.0L155.0 25.8L155.0 26.6L155.0 27.3L155.0 28.1L155.0 28.9L155.0 29.6L155.0 30.4L155.0 31.2L155.0 31.9L155.0 32.7L155.0 33.5L155.0 34.2L155.0 35.0L155.0 35.8L155.0 36.5L155.0 37.3L155.0 38.1L155.0 38.8L155.0 39.6L155.0 40.4L155.0 41.1L155.0 41.9L155.0 42.7L155.0 43.4L155.0 44.2L155.0 45.0L155.0 45.7L155.0 46.5L155.0 47.3L155.0 48.0L155.0 48.8L155.0 49.6L155.0 50.3L155.0 51.1L155.0 51.7L154.2 51.3L153.7 51.1L153.4 51.0L152.6 50.6L152.0 50.3L151.9 50.3L151.1 49.9L150.3 49.6L150.2 49.6L149.5 49.3L148.7 48.9L148.4 48.8L147.9 48.6L147.2 48.3L146.6 48.0L146.4 47.9L145.6 47.6L144.8 47.3L144.7 47.3L144.0 47.0L143.2 46.7L142.8 46.5L142.5 46.4L141.7 46.0L140.9 45.7L140.9 45.7L140.1 45.4L139.3 45.1L138.9 45.0L138.5 44.8L137.8 44.5L137.0 44.2L136.9 44.2L136.2 43.9L135.4 43.7L134.8 43.4L134.6 43.4L133.8 43.1L133.1 42.8L132.7 42.7L132.3 42.5L131.5 42.2L130.7 42.0L130.5 41.9L129.9 41.7L129.1 41.4L128.3 41.1L128.3 41.1L127.6 40.9L126.8 40.6L126.1 40.4L126.0 40.3L125.2 40.1L124.4 39.8L123.8 39.6L123.6 39.6L122.9 39.3L122.1 39.1L121.4 38.8L121.3 38.8L120.5 38.6L119.7 38.3L118.9 38.1L118.9 38.1L118.2 37.8L117.4 37.6L116.6 37.3L116.5 37.3L115.8 37.1L115.0 36.9L114.2 36.6L113.9 36.5L113.5 36.4L112.7 36.2L111.9 36.0L111.3 35.8L111.1 35.7L110.3 35.5L109.5 35.3L108.7 35.1L108.6 35.0L108.0 34.8L107.2 34.6L106.4 34.4L105.8 34.2L105.6 34.2L104.8 34.0L104.0 33.8L103.3 33.6L102.9 33.5L102.5 33.4L101.7 33.2L100.9 33.0L100.1 32.8L99.9 32.7L99.3 32.6L98.6 32.4L97.8 32.2L97.0 32.0L96.9 31.9L96.2 31.8L95.4 31.6L94.6 31.4L93.9 31.2L93.7 31.2L93.1 31.0L92.3 30.8L91.5 30.7L90.7 30.5L90.4 30.4L89.9 30.3L89.2 30.1L88.4 30.0L87.6 29.8L87.0 29.6L86.8 29.6L86.0 29.4L85.2 29.3L84.4 29.1L83.7 28.9L83.4 28.9L82.9 28.8L82.1 28.6L81.3 28.4L80.5 28.3L79.7 28.1L79.7 28.1L79.0 28.0L78.2 27.8L77.4 27.7L76.6 27.5L75.8 27.4L75.8 27.3L75.0 27.2L74.3 27.1L73.5 26.9L72.7 26.8L71.9 26.6L71.7 26.6L71.1 26.5L70.3 26.3L69.6 26.2L68.8 26.1L68.0 25.9L67.3 25.8L67.2 25.8L66.4 25.7L65.6 25.5L64.8 25.4L64.1 25.3L63.3 25.1L62.7 25.0L62.5 25.0L61.7 24.9L60.9 24.8L60.1 24.6L59.4 24.5L58.6 24.4L57.8 24.3L57.8 24.3L57.0 24.2L56.2 24.0L55.4 23.9L54.7 23.8L53.9 23.7L53.1 23.6L52.5 23.5L52.3 23.5L51.5 23.4L50.7 23.3L50.0 23.2L49.2 23.1L48.4 23.0L47.6 22.9L46.8 22.8L46.7 22.8L46.0 22.7L45.3 22.6L44.5 22.5L43.7 22.4L42.9 22.3L42.1 22.2L41.3 22.1L40.5 22.0L40.2 22.0L39.8 21.9L39.0 21.8L38.2 21.8L37.4 21.7L36.6 21.6L35.8 21.5L35.1 21.4L34.3 21.4L33.5 21.3L32.9 21.2L32.7 21.2L31.9 21.1L31.1 21.1L30.4 21.0L29.6 20.9L28.8 20.8L28.0 20.8L27.2 20.7L26.4 20.6L25.7 20.6L24.9 20.5L24.1 20.5L24.1 20.5L23.3 20.4L22.5 20.3L21.7 20.3L20.9 20.2L20.2 20.2L19.4 20.1L18.6 20.1L17.8 20.0L17.0 19.9L16.2 19.9L15.5 19.8L14.7 19.8L13.9 19.8L13.1 19.7L12.7 19.7L12.3 19.7L11.5 19.6L10.8 19.6L10.0 19.5L9.2 19.5L8.4 19.5L7.6 19.4L6.8 19.4L6.1 19.4L5.3 19.3L4.5 19.3L3.7 19.3L2.9 19.2L2.1 19.2L1.4 19.2L0.6 19.2L-0.2 19.1L-1.0 19.1L-1.0 18.9L-1.0 18.2L-1.0 17.4L-1.0 16.6L-1.0 15.9L-1.0 15.1L-1.0 14.3L-1.0 13.6L-1.0 12.8L-1.0 12.0L-1.0 11.3L-1.0 10.5L-1.0 9.7L-1.0 9.0L-1.0 8.2L-1.0 7.4L-1.0 6.7L-1.0 5.9L-1.0 5.1L-1.0 4.4L-1.0 3.6L-1.0 2.8L-1.0 2.1L-1.0 1.3L-1.0 0.5L-1.0 -0.2L-1.0 -1.0Z" fill="#89d3b9"/>
<path d="M-0.2 -1.0L0.6 -1.0L1.4 -1.0L2.1 -1.0L2.9 -1.0L3.7 -1.0L4.5 -1.0L5.3 -1.0L6.1 -1.0L6.8 -1.0L7.6 -1.0L8.4 -1.0L9.2 -1.0L10.0 -1.0L10.8 -1.0L11.5 -1.0L12.3 -1.0L13.1 -1.0L13.9 -1.0L14.7 -1.0L15.5 -1.0L16.2 -1.0L17.0 -1.0L17.8 -1.0L18.6 -1.0L19.4 -1.0L20.2 -1.0L20.9 -1.0L21.7 -1.0L22.5 -1.0L23.3 -1.0L24.1 -1.0L24.9 -1.0L25.7 -1.0L26.4 -1.0L27.2 -1.0L28.0 -1.0L28.8 -1.0L29.6 -1.0L30.4 -1.0L31.1 -1.0L31.9 -1.0L32.7 -1.0L33.5 -1.0L34.3 -1.0L35.1 -1.0L35.8 -1.0L36.6 -1.0L37.4 -1.0L38.2 -1.0L39.0 -1.0L39.8 -1.0L40.5 -1.0L41.3 -1.0L42.1 -1.0L42.9 -1.0L43.7 -1.0L44.5 -1.0L45.3 -1.0L46.0 -1.0L46.8 -1.0L47.6 -1.0L48.4 -1.0L49.2 -1.0L50.0 -1.0L50.7 -1.0L51.5 -1.0L52.3 -1.0L53.1 -1.0L53.9 -1.0L54.7 -1.0L55.4 -1.0L56.2 -1.0L57.0 -1.0L57.8 -1.0L58.6 -1.0L59.4 -1.0L60.1 -1.0L60.9 -1.0L61.7 -1.0L62.5 -1.0L63.3 -1.0L64.1 -1.0L64.8 -1.0L65.6 -1.0L66.4 -1.0L67.2 -1.0L68.0 -1.0L68.8 -1.0L69.6 -1.0L70.3 -1.0L71.1 -1.0L71.9 -1.0L72.7 -1.0L73.5 -1.0L74.3 -1.0L75.0 -1.0L75.8 -1.0L76.6 -1.0L77.4 -1.0L78.2 -1.0L79.0 -1.0L79.7 -1.0L80.5 -1.0L81.3 -1.0L82.1 -1.0L82.9 -1.0L83.7 -1.0L84.4 -1.0L85.2 -1.0L86.0 -1.0L86.8 -1.0L87.6 -1.0L88.4 -1.0L89.2 -1.0L89.9 -1.0L90.7 -1.0L91.5 -1.0L92.3 -1.0L93.1 -1.0L93.9 -1.0L94.6 -1.0L95.4 -1.0L96.2 -1.0L97.0 -1.0L97.8 -1.0L98.6 -1.0L99.3 -1.0L100.1 -1.0L100.9 -1.0L101.7 -1.0L102.5 -1.0L103.3 -1.0L104.0 -1.0L104.8 -1.0L105.6 -1.0L106.4 -1.0L107.2 -1.0L108.0 -1.0L108.7 -1.0L109.5 -1.0L110.3 -1.0L111.1 -1.0L111.9 -1.0L112.7 -1.0L113.5 -1.0L114.2 -1.0L115.0 -1.0L115.8 -1.0L116.6 -1.0L117.4 -1.0L118.2 -1.0L118.9 -1.0L119.7 -1.0L120.5 -1.0L121.3 -1.0L122.1 -1.0L122.9 -1.0L123.6 -1.0L124.4 -1.0L125.2 -1.0L126.0 -1.0L126.8 -1.0L127.6 -1.0L128.3 -1.0L129.1 -1.0L129.9 -1.0L130.7 -1.0L131.5 -1.0L132.3 -1.0L133.1 -1.0L133.8 -1.0L134.6 -1.0L135.4 -1.0L136.2 -1.0L137.0 -1.0L137.8 -1.0L138.5 -1.0L139.3 -1.0L140.1 -1.0L140.9 -1.0L141.7 -1.0L142.5 -1.0L143.2 -1.0L144.0 -1.0L144.8 -1.0L145.6 -1.0L146.4 -1.0L147.2 -1.0L147.9 -1.0L148.7 -1.0L149.5 -1.0L150.3 -1.0L151.1 -1.0L151.9 -1.0L152.6 -1.0L153.4 -1.0L154.2 -1.0L155.0 -1.0L155.0 -0.2L155.0 0.5L155.0 1.3L155.0 2.1L155.0 2.8L155.0 3.6L155.0 4.4L155.0 5.1L155.0 5.9L155.0 6.7L155.0 7.4L155.0 8.2L155.0 9.0L155.0 9.7L155.0 10.5L155.0 11.3L155.0 12.0L155.0 12.8L155.0 13.6L155.0 14.3L155.0 15.1L155.0 15.9L155.0 16.6L155.0 17.4L155.0 18.2L155.0 18.9L155.0 19.7L155.0 20.5L155.0 21.2L155.0 22.0L155.0 22.8L155.0 23.5L155.0 24.3L155.0 25.0L155.0 25.8L155.0 26.6L155.0 27.3L155.0 28.1L155.0 28.9L155.0 29.6L155.0 30.4L155.0 31.2L155.0 31.9L155.0 32.7L155.0 33.5L155.0 34.2L155.0 35.0L155.0 35.8L155.0 36.5L155.0 37.3L155.0 38.1L155.0 38.8L155.0 39.6L155.0 40.4L155.0 41.1L155.0 41.9L155.0 42.7L155.0 43.4L155.0 43.9L154.2 43.6L153.8 43.4L153.4 43.3L152.6 43.0L151.9 42.7L151.9 42.7L151.1 42.3L150.3 42.0L150.0 41.9L149.5 41.7L148.7 41.4L148.0 41.1L147.9 41.1L147.2 40.8L146.4 40.5L146.1 40.4L145.6 40.2L144.8 39.9L144.0 39.6L144.0 39.6L143.2 39.3L142.5 39.0L142.0 38.8L141.7 38.7L140.9 38.4L140.1 38.2L139.9 38.1L139.3 37.9L138.5 37.6L137.8 37.3L137.7 37.3L137.0 37.0L136.2 36.8L135.5 36.5L135.4 36.5L134.6 36.2L133.8 36.0L133.3 35.8L133.1 35.7L132.3 35.4L131.5 35.2L131.0 35.0L130.7 34.9L129.9 34.7L129.1 34.4L128.6 34.2L128.3 34.2L127.6 33.9L126.8 33.7L126.2 33.5L126.0 33.4L125.2 33.2L124.4 32.9L123.7 32.7L123.6 32.7L122.9 32.4L122.1 32.2L121.3 32.0L121.2 31.9L120.5 31.7L119.7 31.5L118.9 31.3L118.6 31.2L118.2 31.0L117.4 30.8L116.6 30.6L115.9 30.4L115.8 30.4L115.0 30.2L114.2 29.9L113.5 29.7L113.2 29.6L112.7 29.5L111.9 29.3L111.1 29.1L110.4 28.9L110.3 28.9L109.5 28.7L108.7 28.4L108.0 28.2L107.5 28.1L107.2 28.0L106.4 27.8L105.6 27.6L104.8 27.4L104.5 27.3L104.0 27.2L103.3 27.0L102.5 26.8L101.7 26.7L101.4 26.6L100.9 26.5L100.1 26.3L99.3 26.1L98.6 25.9L98.2 25.8L97.8 25.7L97.0 25.5L96.2 25.4L95.4 25.2L94.9 25.0L94.6 25.0L93.9 24.8L93.1 24.6L92.3 24.5L91.5 24.3L91.4 24.3L90.7 24.1L89.9 24.0L89.2 23.8L88.4 23.6L87.9 23.5L87.6 23.5L86.8 23.3L86.0 23.1L85.2 23.0L84.4 22.8L84.1 22.8L83.7 22.7L82.9 22.5L82.1 22.3L81.3 22.2L80.5 22.0L80.2 22.0L79.7 21.9L79.0 21.7L78.2 21.6L77.4 21.4L76.6 21.3L76.2 21.2L75.8 21.2L75.0 21.0L74.3 20.9L73.5 20.7L72.7 20.6L71.9 20.5L71.8 20.5L71.1 20.3L70.3 20.2L69.6 20.1L68.8 19.9L68.0 19.8L67.3 19.7L67.2 19.7L66.4 19.5L65.6 19.4L64.8 19.3L64.1 19.2L63.3 19.1L62.5 18.9L62.4 18.9L61.7 18.8L60.9 18.7L60.1 18.6L59.4 18.5L58.6 18.3L57.8 18.2L57.2 18.2L57.0 18.1L56.2 18.0L55.4 17.9L54.7 17.8L53.9 17.7L53.1 17.6L52.3 17.5L51.6 17.4L51.5 17.4L50.7 17.3L50.0 17.2L49.2 17.1L48.4 17.0L47.6 16.9L46.8 16.8L46.0 16.7L45.3 16.6L45.3 16.6L44.5 16.5L43.7 16.4L42.9 16.3L42.1 16.3L41.3 16.2L40.5 16.1L39.8 16.0L39.0 15.9L38.4 15.9L38.2 15.8L37.4 15.8L36.6 15.7L35.8 15.6L35.1 15.5L34.3 15.5L33.5 15.4L32.7 15.3L31.9 15.2L31.1 15.2L30.4 15.1L30.3 15.1L29.6 15.0L28.8 15.0L28.0 14.9L27.2 14.8L26.4 14.8L25.7 14.7L24.9 14.6L24.1 14.6L23.3 14.5L22.5 14.5L21.7 14.4L20.9 14.4L20.4 14.3L20.2 14.3L19.4 14.3L18.6 14.2L17.8 14.2L17.0 14.1L16.2 14.1L15.5 14.0L14.7 14.0L13.9 13.9L13.1 13.9L12.3 13.8L11.5 13.8L10.8 13.8L10.0 13.7L9.2 13.7L8.4 13.6L7.6 13.6L6.8 13.6L6.3 13.6L6.1 13.5L5.3 13.5L4.5 13.5L3.7 13.5L2.9 13.4L2.1 13.4L1.4 13.4L0.6 13.4L-0.2 13.3L-1.0 13.3L-1.0 12.8L-1.0 12.0L-1.0 11.3L-1.0 10.5L-1.0 9.7L-1.0 9.0L-1.0 8.2L-1.0 7.4L-1.0 6.7L-1.0 5.9L-1.0 5.1L-1.0 4.4L-1.0 3.6L-1.0 2.8L-1.0 2.1L-1.0 1.3L-1.0 0.5L-1.0 -0.2L-1.0 -1.0Z" fill="#92d9b4"/>
<path d="M-0.2 -1.0L0.6 -1.0L1.4 -1.0L2.1 -1.0L2.9 -1.0L3.7 -1.0L4.5 -1.0L5.3 -1.0L6.1 -1.0L6.8 -1.0L7.6 -1.0L8.4 -1.0L9.2 -1.0L10.0 -1.0L10.8 -1.0L11.5 -1.0L12.3 -1.0L13.1 -1.0L13.9 -1.0L14.7 -1.0L15.5 -1.0L16.2 -1.0L17.0 -1.0L17.8 -1.0L18.6 -1.0L19.4 -1.0L20.2 -1.0L20.9 -1.0L21.7 -1.0L22.5 -1.0L23.3 -1.0L24.1 -1.0L24.9 -1.0L25.7 -1.0L26.4 -1.0L27.2 -1.0L28.0 -1.0L28.8 -1.0L29.6 -1.0L30.4 -1.0L31.1 -1.0L31.9 -1.0L32.7 -1.0L33.5 -1.0L34.3 -1.0L35.1 -1.0L35.8 -1.0L36.6 -1.0L37.4 -1.0L38.2 -1.0L39.0 -1.0L39.8 -1.0L40.5 -1.0L41.3 -1.0L42.1 -1.0L42.9 -1.0L43.7 -1.0L44.5 -1.0L45.3 -1.0L46.0 -1.0L46.8 -1.0L47.6 -1.0L48.4 -1.0L49.2 -1.0L50.0 -1.0L50.7 -1.0L51.5 -1.0L52.3 -1.0L53.1 -1.0L53.9 -1.0L54.7 -1.0L55.4 -1.0L56.2 -1.0L57.0 -1.0L57.8 -1.0L58.6 -1.0L59.4 -1.0L60.1 -1.0L60.9 -1.0L61.7 -1.0L62.5 -1.0L63.3 -1.0L64.1 -1.0L64.8 -1.0L65.6 -1.0L66.4 -1.0L67.2 -1.0L68.0 -1.0L68.8 -1.0L69.6 -1.0L70.3 -1.0L71.1 -1.0L71.9 -1.0L72.7 -1.0L73.5 -1.0L74.3 -1.0L75.0 -1.0L75.8 -1.0L76.6 -1.0L77.4 -1.0L78.2 -1.0L79.0 -1.0L79.7 -1.0L80.5 -1.0L81.3 -1.0L82.1 -1.0L82.9 -1.0L83.7 -1.0L84.4 -1.0L85.2 -1.0L86.0 -1.0L86.8 -1.0L87.6 -1.0L88.4 -1.0L89.2 -1.0L89.9 -1.0L90.7 -1.0L91.5 -1.0L92.3 -1.0L93.1 -1.0L93.9 -1.0L94.6 -1.0L95.4 -1.0L96.2 -1.0L97.0 -1.0L97.8 -1.0L98.6 -1.0L99.3 -1.0L100.1 -1.0L100.9 -1.0L101.7 -1.0L102.5 -1.0L103.3 -1.0L104.0 -1.0L104.8 -1.0L105.6 -1.0L106.4 -1.0L107.2 -1.0L108.0 -1.0L108.7 -1.0L109.5 -1.0L110.3 -1.0L111.1 -1.0L111.9 -1.0L112.7 -1.0L113.5 -1.0L114.2 -1.0L115.0 -1.0L115.8 -1.0L116.6 -1.0L117.4 -1.0L118.2 -1.0L118.9 -1.0L119.7 -1.0L120.5 -1.0L121.3 -1.0L122.1 -1.0L122.9 -1.0L123.6 -1.0L124.4 -1.0L125.2 -1.0L126.0 -1.0L126.8 -1.0L127.6 -1.0L128.3 -1.0L129.1 -1.0L129.9 -1.0L130.7 -1.0L131.5 -1.0L132.3 -1.0L133.1 -1.0L133.8 -1.0L134.6 -1.0L135.4 -1.0L136.2 -1.0L137.0 -1.0L137.8 -1.0L138.5 -1.0L139.3 -1.0L140.1 -1.0L140.9 -1.0L141.7 -1.0L142.5 -1.0L143.2 -1.0L144.0 -1.0L144.8 -1.0L145.6 -1.0L146.4 -1.0L147.2 -1.0L147.9 -1.0L148.7 -1.0L149.5 -1.0L150.3 -1.0L151.1 -1.0L151.9 -1.0L152.6 -1.0L153.4 -1.0L154.2 -1.0L155.0 -1.0L155.0 -0.2L155.0 0.5L155.0 1.3L155.0 2.1L155.0 2.8L155.0 3.6L155.0 4.4L155.0 5.1L155.0 5.9L155.0 6.7L155.0 7.4L155.0 8.2L155.0 9.0L155.0 9.7L155.0 10.5L155.0 11.3L155.0 12.0L155.0 12.8L155.0 13.6L155.0 14.3L155.0 15.1L155.0 15.9L155.0 16.6L155.0 17.4L155.0 18.2L155.0 18.9L155.0 19.7L155.0 20.5L155.0 21.2L155.0 22.0L155.0 22.8L155.0 23.5L155.0 24.3L155.0 25.0L155.0 25.8L155.0 26.6L155.0 27.3L155.0 28.1L155.0 28.9L155.0 29.6L155.0 30.4L155.0 31.2L155.0 31.9L155.0 32.7L155.0 33.5L155.0 34.2L155.0 35.0L155.0 35.8L155.0 36.5L155.0 36.7L154.6 36.5L154.2 36.4L153.4 36.1L152.6 35.8L152.6 35.8L151.9 35.5L151.1 35.2L150.6 35.0L150.3 34.9L149.5 34.6L148.7 34.3L148.5 34.2L147.9 34.0L147.2 33.8L146.4 33.5L146.4 33.5L145.6 33.2L144.8 32.9L144.2 32.7L144.0 32.6L143.2 32.4L142.5 32.1L142.0 31.9L141.7 31.8L140.9 31.6L140.1 31.3L139.8 31.2L139.3 31.0L138.5 30.8L137.8 30.5L137.5 30.4L137.0 30.2L136.2 30.0L135.4 29.7L135.1 29.6L134.6 29.5L133.8 29.2L133.1 29.0L132.7 28.9L132.3 28.7L131.5 28.5L130.7 28.2L130.3 28.1L129.9 28.0L129.1 27.8L128.3 27.5L127.8 27.3L127.6 27.3L126.8 27.1L126.0 26.8L125.2 26.6L125.2 26.6L124.4 26.4L123.6 26.1L122.9 25.9L122.5 25.8L122.1 25.7L121.3 25.5L120.5 25.2L119.8 25.0L119.7 25.0L118.9 24.8L118.2 24.6L117.4 24.4L117.0 24.3L116.6 24.2L115.8 24.0L115.0 23.7L114.2 23.5L114.2 23.5L113.5 23.3L112.7 23.1L111.9 22.9L111.2 22.8L111.1 22.7L110.3 22.5L109.5 22.3L108.7 22.1L108.2 22.0L108.0 21.9L107.2 21.7L106.4 21.5L105.6 21.4L105.0 21.2L104.8 21.2L104.0 21.0L103.3 20.8L102.5 20.6L101.8 20.5L101.7 20.4L100.9 20.2L100.1 20.1L99.3 19.9L98.6 19.7L98.5 19.7L97.8 19.5L97.0 19.4L96.2 19.2L95.4 19.0L95.0 18.9L94.6 18.8L93.9 18.7L93.1 18.5L92.3 18.3L91.5 18.2L91.4 18.2L90.7 18.0L89.9 17.9L89.2 17.7L88.4 17.5L87.6 17.4L87.6 17.4L86.8 17.2L86.0 17.1L85.2 16.9L84.4 16.8L83.7 16.6L83.7 16.6L82.9 16.5L82.1 16.3L81.3 16.2L80.5 16.0L79.7 15.9L79.5 15.9L79.0 15.7L78.2 15.6L77.4 15.5L76.6 15.3L75.8 15.2L75.2 15.1L75.0 15.1L74.3 14.9L73.5 14.8L72.7 14.7L71.9 14.5L71.1 14.4L70.6 14.3L70.3 14.3L69.6 14.1L68.8 14.0L68.0 13.9L67.2 13.8L66.4 13.7L65.8 13.6L65.6 13.5L64.8 13.4L64.1 13.3L63.3 13.2L62.5 13.1L61.7 13.0L60.9 12.8L60.6 12.8L60.1 12.7L59.4 12.6L58.6 12.5L57.8 12.4L57.0 12.3L56.2 12.2L55.4 12.1L54.9 12.0L54.7 12.0L53.9 11.9L53.1 11.8L52.3 11.7L51.5 11.6L50.7 11.5L50.0 11.4L49.2 11.3L48.8 11.3L48.4 11.2L47.6 11.1L46.8 11.0L46.0 10.9L45.3 10.9L44.5 10.8L43.7 10.7L42.9 10.6L42.1 10.5L41.9 10.5L41.3 10.4L40.5 10.3L39.8 10.3L39.0 10.2L38.2 10.1L37.4 10.0L36.6 10.0L35.8 9.9L35.1 9.8L34.3 9.7L34.1 9.7L33.5 9.7L32.7 9.6L31.9 9.5L31.1 9.5L30.4 9.4L29.6 9.3L28.8 9.3L28.0 9.2L27.2 9.1L26.4 9.1L25.7 9.0L24.9 9.0L24.7 9.0L24.1 8.9L23.3 8.9L22.5 8.8L21.7 8.8L20.9 8.7L20.2 8.6L19.4 8.6L18.6 8.5L17.8 8.5L17.0 8.5L16.2 8.4L15.5 8.4L14.7 8.3L13.9 8.3L13.1 8.2L12.3 8.2L12.2 8.2L11.5 8.2L10.8 8.1L10.0 8.1L9.2 8.1L8.4 8.0L7.6 8.0L6.8 8.0L6.1 7.9L5.3 7.9L4.5 7.9L3.7 7.8L2.9 7.8L2.1 7.8L1.4 7.8L0.6 7.7L-0.2 7.7L-1.0 7.7L-1.0 7.4L-1.0 6.7L-1.0 5.9L-1.0 5.1L-1.0 4.4L-1.0 3.6L-1.0 2.8L-1.0 2.1L-1.0 1.3L-1.0 0.5L-1.0 -0.2L-1.0 -1.0Z" fill="#9edead"/>
<path d="M-0.2 -1.0L0.6 -1.0L1.4 -1.0L2.1 -1.0L2.9 -1.0L3.7 -1.0L4.5 -1.0L5.3 -1.0L6.1 -1.0L6.8 -1.0L7.6 -1.0L8.4 -1.0L9.2 -1.0L10.0 -1.0L10.8 -1.0L11.5 -1.0L12.3 -1.0L13.1 -1.0L13.9 -1.0L14.7 -1.0L15.5 -1.0L16.2 -1.0L17.0 -1.0L17.8 -1.0L18.6 -1.0L19.4 -1.0L20.2 -1.0L20.9 -1.0L21.7 -1.0L22.5 -1.0L23.3 -1.0L24.1 -1.0L24.9 -1.0L25.7 -1.0L26.4 -1.0L27.2 -1.0L28.0 -1.0L28.8 -1.0L29.6 -1.0L30.4 -1.0L31.1 -1.0L31.9 -1.0L32.7 -1.0L33.5 -1.0L34.3 -1.0L35.1 -1.0L35.8 -1.0L36.6 -1.0L37.4 -1.0L38.2 -1.0L39.0 -1.0L39.8 -1.0L40.5 -1.0L41.3 -1.0L42.1 -1.0L42.9 -1.0L43.7 -1.0L44.5 -1.0L45.3 -1.0L46.0 -1.0L46.8 -1.0L47.6 -1.0L48.4 -1.0L49.2 -1.0L50.0 -1.0L50.7 -1.0L51.5 -1.0L52.3 -1.0L53.1 -1.0L53.9 -1.0L54.7 -1.0L55.4 -1.0L56.2 -1.0L57.0 -1.0L57.8 -1.0L58.6 -1.0L59.4 -1.0L60.1 -1.0L60.9 -1.0L61.7 -1.0L62.5 -1.0L63.3 -1.0L64.1 -1.0L64.8 -1.0L65.6 -1.0L66.4 -1.0L67.2 -1.0L68.0 -1.0L68.8 -1.0L69.6 -1.0L70.3 -1.0L71.1 -1.0L71.9 -1.0L72.7 -1.0L73.5 -1.0L74.3 -1.0L75.0 -1.0L75.8 -1.0L76.6 -1.0L77.4 -1.0L78.2 -1.0L79.0 -1.0L79.7 -1.0L80.5 -1.0L81.3 -1.0L82.1 -1.0L82.9 -1.0L83.7 -1.0L84.4 -1.0L85.2 -1.0L86.0 -1.0L86.8 -1.0L87.6 -1.0L88.4 -1.0L89.2 -1.0L89.9 -1.0L90.7 -1.0L91.5 -1.0L92.3 -1.0L93.1 -1.0L93.9 -1.0L94.6 -1.0L95.4 -1.0L96.2 -1.0L97.0 -1.0L97.8 -1.0L98.6 -1.0L99.3 -1.0L100.1 -1.0L100.9 -1.0L101.7 -1.0L102.5 -1.0L103.3 -1.0L104.0 -1.0L104.8 -1.0L105.6 -1.0L106.4 -1.0L107.2 -1.0L108.0 -1.0L108.7 -1.0L109.5 -1.0L110.3 -1.0L111.1 -1.0L111.9 -1.0L112.7 -1.0L113.5 -1.0L114.2 -1.0L115.0 -1.0L115.8 -1.0L116.6 -1.0L117.4 -1.0L118.2 -1.0L118.9 -1.0L119.7 -1.0L120.5 -1.0L121.3 -1.0L122.1 -1.0L122.9 -1.0L123.6 -1.0L124.4 -1.0L125.2 -1.0L126.0 -1.0L126.8 -1.0L127.6 -1.0L128.3 -1.0L129.1 -1.0L129.9 -1.0L130.7 -1.0L131.5 -1.0L132.3 -1.0L133.1 -1.0L133.8 -1.0L134.6 -1.0L135.4 -1.0L136.2 -1.0L137.0 -1.0L137.8 -1.0L138.5 -1.0L139.3 -1.0L140.1 -1.0L140.9 -1.0L141.7 -1.0L142.5 -1.0L143.2 -1.0L144.0 -1.0L144.8 -1.0L145.6 -1.0L146.4 -1.0L147.2 -1.0L147.9 -1.0L148.7 -1.0L149.5 -1.0L150.3 -1.0L151.1 -1.0L151.9 -1.0L152.6 -1.0L153.4 -1.0L154.2 -1.0L155.0 -1.0L155.0 -0.2L155.0 0.5L155.0 1.3L155.0 2.1L155.0 2.8L155.0 3.6L155.0 4.4L155.0 5.1L155.0 5.9L155.0 6.7L155.0 7.4L155.0 8.2L155.0 9.0L155.0 9.7L155.0 10.5L155.0 11.3L155.0 12.0L155.0 12.8L155.0 13.6L155.0 14.3L155.0 15.1L155.0 15.9L155.0 16.6L155.0 17.4L155.0 18.2L155.0 18.9L155.0 19.7L155.0 20.5L155.0 21.2L155.0 22.0L155.0 22.8L155.0 23.5L155.0 24.3L155.0 25.0L155.0 25.8L155.0 26.6L155.0 27.3L155.0 28.1L155.0 28.9L155.0 29.6L155.0 29.8L154.5 29.6L154.2 29.6L153.4 29.3L152.6 29.0L152.3 28.9L151.9 28.7L151.1 28.4L150.3 28.2L150.2 28.1L149.5 27.9L148.7 27.6L148.0 27.3L147.9 27.3L147.2 27.1L146.4 26.8L145.7 26.6L145.6 26.5L144.8 26.3L144.0 26.0L143.4 25.8L143.2 25.8L142.5 25.5L141.7 25.2L141.1 25.0L140.9 25.0L140.1 24.7L139.3 24.5L138.7 24.3L138.5 24.2L137.8 24.0L137.0 23.8L136.2 23.5L136.2 23.5L135.4 23.3L134.6 23.0L133.8 22.8L133.7 22.8L133.1 22.6L132.3 22.3L131.5 22.1L131.1 22.0L130.7 21.9L129.9 21.6L129.1 21.4L128.5 21.2L128.3 21.2L127.6 21.0L126.8 20.7L126.0 20.5L125.8 20.5L125.2 20.3L124.4 20.1L123.6 19.9L123.0 19.7L122.9 19.6L122.1 19.4L121.3 19.2L120.5 19.0L120.1 18.9L119.7 18.8L118.9 18.6L118.2 18.4L117.4 18.2L117.2 18.2L116.6 18.0L115.8 17.8L115.0 17.6L114.2 17.4L114.2 17.4L113.5 17.2L112.7 17.0L111.9 16.8L111.1 16.6L111.1 16.6L110.3 16.4L109.5 16.2L108.7 16.1L108.0 15.9L107.9 15.9L107.2 15.7L106.4 15.5L105.6 15.3L104.8 15.1L104.6 15.1L104.0 15.0L103.3 14.8L102.5 14.6L101.7 14.4L101.2 14.3L100.9 14.3L100.1 14.1L99.3 13.9L98.6 13.8L97.8 13.6L97.6 13.6L97.0 13.4L96.2 13.3L95.4 13.1L94.6 12.9L94.0 12.8L93.9 12.8L93.1 12.6L92.3 12.5L91.5 12.3L90.7 12.1L90.1 12.0L89.9 12.0L89.2 11.8L88.4 11.7L87.6 11.5L86.8 11.4L86.1 11.3L86.0 11.2L85.2 11.1L84.4 10.9L83.7 10.8L82.9 10.7L82.1 10.5L81.9 10.5L81.3 10.4L80.5 10.2L79.7 10.1L79.0 10.0L78.2 9.8L77.5 9.7L77.4 9.7L76.6 9.6L75.8 9.4L75.0 9.3L74.3 9.2L73.5 9.1L72.9 9.0L72.7 8.9L71.9 8.8L71.1 8.7L70.3 8.6L69.6 8.4L68.8 8.3L68.0 8.2L67.9 8.2L67.2 8.1L66.4 8.0L65.6 7.9L64.8 7.7L64.1 7.6L63.3 7.5L62.7 7.4L62.5 7.4L61.7 7.3L60.9 7.2L60.1 7.1L59.4 7.0L58.6 6.9L57.8 6.8L57.0 6.7L57.0 6.7L56.2 6.6L55.4 6.5L54.7 6.4L53.9 6.3L53.1 6.2L52.3 6.1L51.5 6.0L50.8 5.9L50.7 5.9L50.0 5.8L49.2 5.7L48.4 5.6L47.6 5.5L46.8 5.4L46.0 5.4L45.3 5.3L44.5 5.2L43.8 5.1L43.7 5.1L42.9 5.0L42.1 5.0L41.3 4.9L40.5 4.8L39.8 4.7L39.0 4.6L38.2 4.6L37.4 4.5L36.6 4.4L36.0 4.4L35.8 4.4L35.1 4.3L34.3 4.2L33.5 4.1L32.7 4.1L31.9 4.0L31.1 3.9L30.4 3.9L29.6 3.8L28.8 3.8L28.0 3.7L27.2 3.6L26.6 3.6L26.4 3.6L25.7 3.5L24.9 3.5L24.1 3.4L23.3 3.4L22.5 3.3L21.7 3.3L20.9 3.2L20.2 3.2L19.4 3.1L18.6 3.1L17.8 3.0L17.0 3.0L16.2 2.9L15.5 2.9L14.7 2.8L14.3 2.8L13.9 2.8L13.1 2.8L12.3 2.7L11.5 2.7L10.8 2.7L10.0 2.6L9.2 2.6L8.4 2.6L7.6 2.5L6.8 2.5L6.1 2.5L5.3 2.4L4.5 2.4L3.7 2.4L2.9 2.4L2.1 2.3L1.4 2.3L0.6 2.3L-0.2 2.3L-1.0 2.2L-1.0 2.1L-1.0 1.3L-1.0 0.5L-1.0 -0.2L-1.0 -1.0Z" fill="#aee4a4"/>
<path d="M36.6 -1.0L37.4 -1.0L38.2 -1.0L39.0 -1.0L39.8 -1.0L40.5 -1.0L41.3 -1.0L42.1 -1.0L42.9 -1.0L43.7 -1.0L44.5 -1.0L45.3 -1.0L46.0 -1.0L46.8 -1.0L47.6 -1.0L48.4 -1.0L49.2 -1.0L50.0 -1.0L50.7 -1.0L51.5 -1.0L52.3 -1.0L53.1 -1.0L53.9 -1.0L54.7 -1.0L55.4 -1.0L56.2 -1.0L57.0 -1.0L57.8 -1.0L58.6 -1.0L59.4 -1.0L60.1 -1.0L60.9 -1.0L61.7 -1.0L62.5 -1.0L63.3 -1.0L64.1 -1.0L64.8 -1.0L65.6 -1.0L66.4 -1.0L67.2 -1.0L68.0 -1.0L68.8 -1.0L69.6 -1.0L70.3 -1.0L71.1 -1.0L71.9 -1.0L72.7 -1.0L73.5 -1.0L74.3 -1.0L75.0 -1.0L75.8 -1.0L76.6 -1.0L77.4 -1.0L78.2 -1.0L79.0 -1.0L79.7 -1.0L80.5 -1.0L81.3 -1.0L82.1 -1.0L82.9 -1.0L83.7 -1.0L84.4 -1.0L85.2 -1.0L86.0 -1.0L86.8 -1.0L87.6 -1.0L88.4 -1.0L89.2 -1.0L89.9 -1.0L90.7 -1.0L91.5 -1.0L92.3 -1.0L93.1 -1.0L93.9 -1.0L94.6 -1.0L95.4 -1.0L96.2 -1.0L97.0 -1.0L97.8 -1.0L98.6 -1.0L99.3 -1.0L100.1 -1.0L100.9 -1.0L101.7 -1.0L102.5 -1.0L103.3 -1.0L104.0 -1.0L104.8 -1.0L105.6 -1.0L106.4 -1.0L107.2 -1.0L108.0 -1.0L108.7 -1.0L109.5 -1.0L110.3 -1.0L111.1 -1.0L111.9 -1.0L112.7 -1.0L113.5 -1.0L114.2 -1.0L115.0 -1.0L115.8 -1.0L116.6 -1.0L117.4 -1.0L118.2 -1.0L118.9 -1.0L119.7 -1.0L120.5 -1.0L121.3 -1.0L122.1 -1.0L122.9 -1.0L123.6 -1.0L124.4 -1.0L125.2 -1.0L126.0 -1.0L126.8 -1.0L127.6 -1.0L128.3 -1.0L129.1 -1.0L129.9 -1.0L130.7 -1.0L131.5 -1.0L132.3 -1.0L133.1 -1.0L133.8 -1.0L134.6 -1.0L135.4 -1.0L136.2 -1.0L137.0 -1.0L137.8 -1.0L138.5 -1.0L139.3 -1.0L140.1 -1.0L140.9 -1.0L141.7 -1.0L142.5 -1.0L143.2 -1.0L144.0 -1.0L144.8 -1.0L145.6 -1.0L146.4 -1.0L147.2 -1.0L147.9 -1.0L148.7 -1.0L149.5 -1.0L150.3 -1.0L151.1 -1.0L151.9 -1.0L152.6 -1.0L153.4 -1.0L154.2 -1.0L155.0 -1.0L155.0 -0.2L155.0 0.5L155.0 1.3L155.0 2.1L155.0 2.8L155.0 3.6L155.0 4.4L155.0 5.1L155.0 5.9L155.0 6.7L155.0 7.4L155.0 8.2L155.0 9.0L155.0 9.7L155.0 10.5L155.0 11.3L155.0 12.0L155.0 12.8L155.0 13.6L155.0 14.3L155.0 15.1L155.0 15.9L155.0 16.6L155.0 17.4L155.0 18.2L155.0 18.9L155.0 19.7L155.0 20.5L155.0 21.2L155.0 22.0L155.0 22.8L155.0 23.3L154.2 23.0L153.4 22.8L153.4 22.8L152.6 22.5L151.9 22.2L151.1 22.0L151.1 22.0L150.3 21.7L149.5 21.5L148.8 21.2L148.7 21.2L147.9 20.9L147.2 20.7L146.4 20.5L146.4 20.4L145.6 20.2L144.8 19.9L144.0 19.7L144.0 19.7L143.2 19.5L142.5 19.2L141.7 19.0L141.5 18.9L140.9 18.7L140.1 18.5L139.3 18.2L139.0 18.2L138.5 18.0L137.8 17.8L137.0 17.5L136.4 17.4L136.2 17.3L135.4 17.1L134.6 16.9L133.8 16.6L133.8 16.6L133.1 16.4L132.3 16.2L131.5 16.0L131.1 15.9L130.7 15.7L129.9 15.5L129.1 15.3L128.3 15.1L128.3 15.1L127.6 14.9L126.8 14.7L126.0 14.5L125.5 14.3L125.2 14.3L124.4 14.0L123.6 13.8L122.9 13.6L122.5 13.6L122.1 13.4L121.3 13.2L120.5 13.0L119.7 12.8L119.5 12.8L118.9 12.6L118.2 12.4L117.4 12.2L116.6 12.1L116.5 12.0L115.8 11.9L115.0 11.7L114.2 11.5L113.5 11.3L113.3 11.3L112.7 11.1L111.9 10.9L111.1 10.7L110.3 10.6L110.0 10.5L109.5 10.4L108.7 10.2L108.0 10.0L107.2 9.9L106.6 9.7L106.4 9.7L105.6 9.5L104.8 9.3L104.0 9.2L103.3 9.0L103.1 9.0L102.5 8.8L101.7 8.7L100.9 8.5L100.1 8.3L99.5 8.2L99.3 8.2L98.6 8.0L97.8 7.8L97.0 7.7L96.2 7.5L95.7 7.4L95.4 7.4L94.6 7.2L93.9 7.1L93.1 6.9L92.3 6.8L91.8 6.7L91.5 6.6L90.7 6.5L89.9 6.3L89.2 6.2L88.4 6.0L87.7 5.9L87.6 5.9L86.8 5.7L86.0 5.6L85.2 5.5L84.4 5.3L83.7 5.2L83.4 5.1L82.9 5.0L82.1 4.9L81.3 4.8L80.5 4.6L79.7 4.5L79.0 4.4L78.9 4.4L78.2 4.2L77.4 4.1L76.6 4.0L75.8 3.9L75.0 3.7L74.3 3.6L74.1 3.6L73.5 3.5L72.7 3.4L71.9 3.3L71.1 3.1L70.3 3.0L69.6 2.9L69.0 2.8L68.8 2.8L68.0 2.7L67.2 2.6L66.4 2.5L65.6 2.3L64.8 2.2L64.1 2.1L63.6 2.1L63.3 2.0L62.5 1.9L61.7 1.8L60.9 1.7L60.1 1.6L59.4 1.5L58.6 1.4L57.8 1.3L57.8 1.3L57.0 1.2L56.2 1.1L55.4 1.0L54.7 0.9L53.9 0.8L53.1 0.7L52.3 0.6L51.5 0.5L51.4 0.5L50.7 0.5L50.0 0.4L49.2 0.3L48.4 0.2L47.6 0.1L46.8 0.0L46.0 -0.1L45.3 -0.1L44.5 -0.2L44.3 -0.2L43.7 -0.3L42.9 -0.4L42.1 -0.4L41.3 -0.5L40.5 -0.6L39.8 -0.7L39.0 -0.7L38.2 -0.8L37.4 -0.9L36.6 -1.0L36.1 -1.0Z" fill="#bfe899"/>
<path d="M79.7 -1.0L80.5 -1.0L81.3 -1.0L82.1 -1.0L82.9 -1.0L83.7 -1.0L84.4 -1.0L85.2 -1.0L86.0 -1.0L86.8 -1.0L87.6 -1.0L88.4 -1.0L89.2 -1.0L89.9 -1.0L90.7 -1.0L91.5 -1.0L92.3 -1.0L93.1 -1.0L93.9 -1.0L94.6 -1.0L95.4 -1.0L96.2 -1.0L97.0 -1.0L97.8 -1.0L98.6 -1.0L99.3 -1.0L100.1 -1.0L100.9 -1.0L101.7 -1.0L102.5 -1.0L103.3 -1.0L104.0 -1.0L104.8 -1.0L105.6 -1.0L106.4 -1.0L107.2 -1.0L108.0 -1.0L108.7 -1.0L109.5 -1.0L110.3 -1.0L111.1 -1.0L111.9 -1.0L112.7 -1.0L113.5 -1.0L114.2 -1.0L115.0 -1.0L115.8 -1.0L116.6 -1.0L117.4 -1.0L118.2 -1.0L118.9 -1.0L119.7 -1.0L120.5 -1.0L121.3 -1.0L122.1 -1.0L122.9 -1.0L123.6 -1.0L124.4 -1.0L125.2 -1.0L126.0 -1.0L126.8 -1.0L127.6 -1.0L128.3 -1.0L129.1 -1.0L129.9 -1.0L130.7 -1.0L131.5 -1.0L132.3 -1.0L133.1 -1.0L133.8 -1.0L134.6 -1.0L135.4 -1.0L136.2 -1.0L137.0 -1.0L137.8 -1.0L138.5 -1.0L139.3 -1.0L140.1 -1.0L140.9 -1.0L141.7 -1.0L142.5 -1.0L143.2 -1.0L144.0 -1.0L144.8 -1.0L145.6 -1.0L146.4 -1.0L147.2 -1.0L147.9 -1.0L148.7 -1.0L149.5 -1.0L150.3 -1.0L151.1 -1.0L151.9 -1.0L152.6 -1.0L153.4 -1.0L154.2 -1.0L155.0 -1.0L155.0 -0.2L155.0 0.5L155.0 1.3L155.0 2.1L155.0 2.8L155.0 3.6L155.0 4.4L155.0 5.1L155.0 5.9L155.0 6.7L155.0 7.4L155.0 8.2L155.0 9.0L155.0 9.7L155.0 10.5L155.0 11.3L155.0 12.0L155.0 12.8L155.0 13.6L155.0 14.3L155.0 15.1L155.0 15.9L155.0 16.6L155.0 17.1L154.2 16.8L153.6 16.6L153.4 16.6L152.6 16.3L151.9 16.1L151.2 15.9L151.1 15.8L150.3 15.6L149.5 15.3L148.8 15.1L148.7 15.1L147.9 14.8L147.2 14.6L146.4 14.3L146.3 14.3L145.6 14.1L144.8 13.9L144.0 13.6L143.8 13.6L143.2 13.4L142.5 13.2L141.7 12.9L141.2 12.8L140.9 12.7L140.1 12.5L139.3 12.2L138.5 12.0L138.5 12.0L137.8 11.8L137.0 11.6L136.2 11.4L135.8 11.3L135.4 11.1L134.6 10.9L133.8 10.7L133.1 10.5L133.0 10.5L132.3 10.3L131.5 10.1L130.7 9.9L130.2 9.7L129.9 9.7L129.1 9.4L128.3 9.2L127.6 9.0L127.3 9.0L126.8 8.8L126.0 8.6L125.2 8.4L124.4 8.2L124.3 8.2L123.6 8.0L122.9 7.8L122.1 7.6L121.3 7.5L121.2 7.4L120.5 7.3L119.7 7.1L118.9 6.9L118.2 6.7L118.0 6.7L117.4 6.5L116.6 6.3L115.8 6.1L115.0 6.0L114.7 5.9L114.2 5.8L113.5 5.6L112.7 5.4L111.9 5.2L111.4 5.1L111.1 5.1L110.3 4.9L109.5 4.7L108.7 4.6L108.0 4.4L107.9 4.4L107.2 4.2L106.4 4.0L105.6 3.9L104.8 3.7L104.3 3.6L104.0 3.6L103.3 3.4L102.5 3.2L101.7 3.1L100.9 2.9L100.5 2.8L100.1 2.7L99.3 2.6L98.6 2.4L97.8 2.3L97.0 2.1L96.6 2.1L96.2 2.0L95.4 1.8L94.6 1.7L93.9 1.5L93.1 1.4L92.6 1.3L92.3 1.2L91.5 1.1L90.7 1.0L89.9 0.8L89.2 0.7L88.4 0.5L88.4 0.5L87.6 0.4L86.8 0.3L86.0 0.1L85.2 -0.0L84.4 -0.1L83.9 -0.2L83.7 -0.3L82.9 -0.4L82.1 -0.5L81.3 -0.7L80.5 -0.8L79.7 -0.9L79.3 -1.0Z" fill="#d2ec8d"/>
<path d="M108.7 -1.0L109.5 -1.0L110.3 -1.0L111.1 -1.0L111.9 -1.0L112.7 -1.0L113.5 -1.0L114.2 -1.0L115.0 -1.0L115.8 -1.0L116.6 -1.0L117.4 -1.0L118.2 -1.0L118.9 -1.0L119.7 -1.0L120.5 -1.0L121.3 -1.0L122.1 -1.0L122.9 -1.0L123.6 -1.0L124.4 -1.0L125.2 -1.0L126.0 -1.0L126.8 -1.0L127.6 -1.0L128.3 -1.0L129.1 -1.0L129.9 -1.0L130.7 -1.0L131.5 -1.0L132.3 -1.0L133.1 -1.0L133.8 -1.0L134.6 -1.0L135.4 -1.0L136.2 -1.0L137.0 -1.0L137.8 -1.0L138.5 -1.0L139.3 -1.0L140.1 -1.0L140.9 -1.0L141.7 -1.0L142.5 -1.0L143.2 -1.0L144.0 -1.0L144.8 -1.0L145.6 -1.0L146.4 -1.0L147.2 -1.0L147.9 -1.0L148.7 -1.0L149.5 -1.0L150.3 -1.0L151.1 -1.0L151.9 -1.0L152.6 -1.0L153.4 -1.0L154.2 -1.0L155.0 -1.0L155.0 -0.2L155.0 0.5L155.0 1.3L155.0 2.1L155.0 2.8L155.0 3.6L155.0 4.4L155.0 5.1L155.0 5.9L155.0 6.7L155.0 7.4L155.0 8.2L155.0 9.0L155.0 9.7L155.0 10.5L155.0 11.1L154.2 10.8L153.4 10.6L153.1 10.5L152.6 10.3L151.9 10.1L151.1 9.9L150.6 9.7L150.3 9.6L149.5 9.4L148.7 9.2L148.1 9.0L147.9 8.9L147.2 8.7L146.4 8.5L145.6 8.2L145.5 8.2L144.8 8.0L144.0 7.8L143.2 7.6L142.8 7.4L142.5 7.3L141.7 7.1L140.9 6.9L140.1 6.7L140.0 6.7L139.3 6.5L138.5 6.2L137.8 6.0L137.2 5.9L137.0 5.8L136.2 5.6L135.4 5.4L134.6 5.2L134.4 5.1L133.8 5.0L133.1 4.8L132.3 4.6L131.5 4.4L131.4 4.4L130.7 4.2L129.9 4.0L129.1 3.8L128.4 3.6L128.3 3.6L127.6 3.4L126.8 3.2L126.0 3.0L125.3 2.8L125.2 2.8L124.4 2.6L123.6 2.4L122.9 2.2L122.1 2.1L122.1 2.0L121.3 1.9L120.5 1.7L119.7 1.5L118.9 1.3L118.9 1.3L118.2 1.1L117.4 1.0L116.6 0.8L115.8 0.6L115.5 0.5L115.0 0.4L114.2 0.3L113.5 0.1L112.7 -0.1L112.0 -0.2L111.9 -0.3L111.1 -0.4L110.3 -0.6L109.5 -0.8L108.7 -0.9L108.4 -1.0Z" fill="#e4ee83"/>
<path d="M132.3 -1.0L133.1 -1.0L133.8 -1.0L134.6 -1.0L135.4 -1.0L136.2 -1.0L137.0 -1.0L137.8 -1.0L138.5 -1.0L139.3 -1.0L140.1 -1.0L140.9 -1.0L141.7 -1.0L142.5 -1.0L143.2 -1.0L144.0 -1.0L144.8 -1.0L145.6 -1.0L146.4 -1.0L147.2 -1.0L147.9 -1.0L148.7 -1.0L149.5 -1.0L150.3 -1.0L151.1 -1.0L151.9 -1.0L152.6 -1.0L153.4 -1.0L154.2 -1.0L155.0 -1.0L155.0 -0.2L155.0 0.5L155.0 1.3L155.0 2.1L155.0 2.8L155.0 3.6L155.0 4.4L155.0 5.1L155.0 5.3L154.5 5.1L154.2 5.1L153.4 4.8L152.6 4.6L151.9 4.4L151.9 4.4L151.1 4.1L150.3 3.9L149.5 3.7L149.2 3.6L148.7 3.5L147.9 3.2L147.2 3.0L146.5 2.8L146.4 2.8L145.6 2.6L144.8 2.3L144.0 2.1L143.8 2.1L143.2 1.9L142.5 1.7L141.7 1.5L141.0 1.3L140.9 1.3L140.1 1.1L139.3 0.9L138.5 0.7L138.1 0.5L137.8 0.5L137.0 0.2L136.2 0.0L135.4 -0.2L135.1 -0.2L134.6 -0.4L133.8 -0.6L133.1 -0.8L132.3 -0.9L132.1 -1.0Z" fill="#f6f182"/>
<line x1="56.60" y1="0" x2="56.60" y2="142.8" stroke="#fff" stroke-opacity="0.25" stroke-width="0.8"/><line x1="132.20" y1="0" x2="132.20" y2="142.8" stroke="#fff" stroke-opacity="0.25" stroke-width="0.8"/><line x1="0" y1="20.90" x2="154.0" y2="20.90" stroke="#fff" stroke-opacity="0.25" stroke-width="0.8"/><line x1="0" y1="55.70" x2="154.0" y2="55.70" stroke="#fff" stroke-opacity="0.25" stroke-width="0.8"/><line x1="0" y1="90.50" x2="154.0" y2="90.50" stroke="#fff" stroke-opacity="0.25" stroke-width="0.8"/><line x1="0" y1="125.50" x2="154.0" y2="125.50" stroke="#fff" stroke-opacity="0.25" stroke-width="0.8"/></g>
<g font-family="'Liberation Serif', serif"><circle cx="143.80" cy="35.50" r="3.15" fill="#4848f2" stroke="#000" stroke-width="0.8"/>
<circle cx="139.00" cy="33.80" r="3.15" fill="#7272f4" stroke="#000" stroke-width="0.8"/>
<circle cx="143.80" cy="52.00" r="3.15" fill="#a2a2f6" stroke="#000" stroke-width="0.8"/>
<circle cx="138.50" cy="66.40" r="3.15" fill="#dcdcfa" stroke="#000" stroke-width="0.8"/>
<circle cx="139.30" cy="37.20" r="3.15" fill="#ffffff" stroke="#000" stroke-width="0.8"/>
<text x="149.40" y="36.00" font-size="8.5" text-anchor="middle" dominant-baseline="central" style="" fill="#151515">5</text>
<text x="139.00" y="27.70" font-size="8.5" text-anchor="middle" dominant-baseline="central" style="" fill="#151515">4</text>
<text x="149.40" y="52.00" font-size="8.5" text-anchor="middle" dominant-baseline="central" style="" fill="#151515">3</text>
<text x="144.20" y="66.40" font-size="8.5" text-anchor="middle" dominant-baseline="central" style="" fill="#151515">2</text>
<text x="134.60" y="43.30" font-size="8.5" text-anchor="middle" dominant-baseline="central" style="" fill="#151515">1</text>
<polygon points="125.60,25.80 126.41,27.98 128.74,28.08 126.92,29.53 127.54,31.77 125.60,30.49 123.66,31.77 124.28,29.53 122.46,28.08 124.79,27.98" fill="#3c3ce4" stroke="#000" stroke-width="0.75" stroke-linejoin="miter"/>
<text x="118.00" y="23.40" font-size="9" text-anchor="middle" dominant-baseline="central" fill="#151515"><tspan font-style="italic" font-size="11.5">&#957;</tspan>1</text>
<polygon points="44.30,30.70 45.11,32.88 47.44,32.98 45.62,34.43 46.24,36.67 44.30,35.39 42.36,36.67 42.98,34.43 41.16,32.98 43.49,32.88" fill="#3c3ce4" stroke="#000" stroke-width="0.75" stroke-linejoin="miter"/>
<text x="37.10" y="27.90" font-size="9" text-anchor="middle" dominant-baseline="central" fill="#151515"><tspan font-style="italic" font-size="11.5">&#957;</tspan>2</text>
<polygon points="28.40,42.00 29.21,44.18 31.54,44.28 29.72,45.73 30.34,47.97 28.40,46.69 26.46,47.97 27.08,45.73 25.26,44.28 27.59,44.18" fill="#3c3ce4" stroke="#000" stroke-width="0.75" stroke-linejoin="miter"/>
<text x="21.40" y="39.00" font-size="9" text-anchor="middle" dominant-baseline="central" fill="#151515"><tspan font-style="italic" font-size="11.5">&#957;</tspan>3</text>
<polygon points="60.00,35.00 60.81,37.18 63.14,37.28 61.32,38.73 61.94,40.97 60.00,39.69 58.06,40.97 58.68,38.73 56.86,37.28 59.19,37.18" fill="#3c3ce4" stroke="#000" stroke-width="0.75" stroke-linejoin="miter"/>
<text x="67.50" y="44.20" font-size="9" text-anchor="middle" dominant-baseline="central" fill="#151515"><tspan font-style="italic" font-size="11.5">&#957;</tspan>4</text>
<polygon points="75.40,89.60 76.21,91.78 78.54,91.88 76.72,93.33 77.34,95.57 75.40,94.29 73.46,95.57 74.08,93.33 72.26,91.88 74.59,91.78" fill="#e83030" stroke="#000" stroke-width="0.75" stroke-linejoin="miter"/>
<text x="67.10" y="99.60" font-size="8.5" text-anchor="middle" dominant-baseline="central" style="" fill="#151515">AE</text>
<polygon points="128.80,110.50 129.61,112.68 131.94,112.78 130.12,114.23 130.74,116.47 128.80,115.19 126.86,116.47 127.48,114.23 125.66,112.78 127.99,112.68" fill="#40d040" stroke="#000" stroke-width="0.75" stroke-linejoin="miter"/>
<text x="134.50" y="118.90" font-size="8.5" text-anchor="middle" dominant-baseline="central" style="" fill="#151515">T</text></g>
</svg>
<svg class="ab" style="left:477px;top:168.8px;overflow:visible" width="152" height="142.8" viewBox="0 0 152 142.8">
<defs><clipPath id="cp477168"><rect x="0" y="0" width="152" height="142.8"/></clipPath></defs>
<g clip-path="url(#cp477168)"><rect x="-1" y="-1.00" width="154.0" height="1.35" fill="#84ccbd"/>
<rect x="-1" y="0.20" width="154.0" height="8.65" fill="#84c5bf"/>
<rect x="-1" y="8.70" width="154.0" height="8.65" fill="#86bfc1"/>
<rect x="-1" y="17.20" width="154.0" height="5.55" fill="#88b8c1"/>
<rect x="-1" y="22.60" width="154.0" height="5.50" fill="#8bb2c1"/>
<rect x="-1" y="27.95" width="154.0" height="5.00" fill="#8eabc1"/>
<rect x="-1" y="32.80" width="154.0" height="3.00" fill="#91a3c0"/>
<rect x="-1" y="35.65" width="154.0" height="3.00" fill="#959cbe"/>
<rect x="-1" y="38.50" width="154.0" height="2.45" fill="#9893bb"/>
<rect x="-1" y="40.80" width="154.0" height="1.55" fill="#9a8bb7"/>
<rect x="-1" y="42.20" width="154.0" height="1.15" fill="#9a82af"/>
<rect x="-1" y="43.20" width="154.0" height="2.15" fill="#9978a6"/>
<rect x="-1" y="45.20" width="154.0" height="1.15" fill="#9a82af"/>
<rect x="-1" y="46.20" width="154.0" height="1.40" fill="#9a8bb7"/>
<rect x="-1" y="47.45" width="154.0" height="1.85" fill="#9893bb"/>
<rect x="-1" y="49.15" width="154.0" height="2.50" fill="#959cbe"/>
<rect x="-1" y="51.50" width="154.0" height="2.50" fill="#91a3c0"/>
<rect x="-1" y="53.85" width="154.0" height="2.50" fill="#8eabc1"/>
<rect x="-1" y="56.20" width="154.0" height="4.85" fill="#8bb2c1"/>
<rect x="-1" y="60.90" width="154.0" height="4.85" fill="#88b8c1"/>
<rect x="-1" y="65.60" width="154.0" height="4.85" fill="#86bfc1"/>
<rect x="-1" y="70.30" width="154.0" height="6.40" fill="#84c5bf"/>
<rect x="-1" y="76.55" width="154.0" height="6.80" fill="#84ccbd"/>
<rect x="-1" y="83.20" width="154.0" height="6.85" fill="#89d3b9"/>
<rect x="-1" y="89.90" width="154.0" height="7.20" fill="#92d9b4"/>
<rect x="-1" y="96.95" width="154.0" height="7.30" fill="#9edead"/>
<rect x="-1" y="104.10" width="154.0" height="7.25" fill="#aee4a4"/>
<rect x="-1" y="111.20" width="154.0" height="9.25" fill="#bfe899"/>
<rect x="-1" y="120.30" width="154.0" height="9.25" fill="#d2ec8d"/>
<rect x="-1" y="129.40" width="154.0" height="9.70" fill="#e4ee83"/>
<rect x="-1" y="138.95" width="154.0" height="5.00" fill="#f6f182"/>
<line x1="55.40" y1="0" x2="55.40" y2="142.8" stroke="#fff" stroke-opacity="0.25" stroke-width="0.8"/><line x1="129.60" y1="0" x2="129.60" y2="142.8" stroke="#fff" stroke-opacity="0.25" stroke-width="0.8"/><line x1="0" y1="20.90" x2="152.0" y2="20.90" stroke="#fff" stroke-opacity="0.25" stroke-width="0.8"/><line x1="0" y1="55.70" x2="152.0" y2="55.70" stroke="#fff" stroke-opacity="0.25" stroke-width="0.8"/><line x1="0" y1="90.50" x2="152.0" y2="90.50" stroke="#fff" stroke-opacity="0.25" stroke-width="0.8"/><line x1="0" y1="125.50" x2="152.0" y2="125.50" stroke="#fff" stroke-opacity="0.25" stroke-width="0.8"/></g>
<g font-family="'Liberation Serif', serif"><circle cx="141.93" cy="35.50" r="3.15" fill="#4848f2" stroke="#000" stroke-width="0.8"/>
<circle cx="137.19" cy="33.80" r="3.15" fill="#7272f4" stroke="#000" stroke-width="0.8"/>
<circle cx="141.93" cy="52.00" r="3.15" fill="#a2a2f6" stroke="#000" stroke-width="0.8"/>
<circle cx="136.70" cy="66.40" r="3.15" fill="#dcdcfa" stroke="#000" stroke-width="0.8"/>
<circle cx="137.49" cy="37.20" r="3.15" fill="#ffffff" stroke="#000" stroke-width="0.8"/>
<text x="147.46" y="36.00" font-size="8.5" text-anchor="middle" dominant-baseline="central" style="" fill="#151515">5</text>
<text x="137.19" y="27.70" font-size="8.5" text-anchor="middle" dominant-baseline="central" style="" fill="#151515">4</text>
<text x="147.46" y="52.00" font-size="8.5" text-anchor="middle" dominant-baseline="central" style="" fill="#151515">3</text>
<text x="142.33" y="66.40" font-size="8.5" text-anchor="middle" dominant-baseline="central" style="" fill="#151515">2</text>
<text x="132.85" y="43.30" font-size="8.5" text-anchor="middle" dominant-baseline="central" style="" fill="#151515">1</text>
<polygon points="123.97,25.80 124.78,27.98 127.11,28.08 125.29,29.53 125.91,31.77 123.97,30.49 122.03,31.77 122.65,29.53 120.83,28.08 123.15,27.98" fill="#3c3ce4" stroke="#000" stroke-width="0.75" stroke-linejoin="miter"/>
<text x="116.47" y="23.40" font-size="9" text-anchor="middle" dominant-baseline="central" fill="#151515"><tspan font-style="italic" font-size="11.5">&#957;</tspan>1</text>
<polygon points="43.72,30.70 44.54,32.88 46.86,32.98 45.04,34.43 45.66,36.67 43.72,35.39 41.78,36.67 42.41,34.43 40.59,32.98 42.91,32.88" fill="#3c3ce4" stroke="#000" stroke-width="0.75" stroke-linejoin="miter"/>
<text x="36.62" y="27.90" font-size="9" text-anchor="middle" dominant-baseline="central" fill="#151515"><tspan font-style="italic" font-size="11.5">&#957;</tspan>2</text>
<polygon points="28.03,42.00 28.85,44.18 31.17,44.28 29.35,45.73 29.97,47.97 28.03,46.69 26.09,47.97 26.71,45.73 24.89,44.28 27.22,44.18" fill="#3c3ce4" stroke="#000" stroke-width="0.75" stroke-linejoin="miter"/>
<text x="21.12" y="39.00" font-size="9" text-anchor="middle" dominant-baseline="central" fill="#151515"><tspan font-style="italic" font-size="11.5">&#957;</tspan>3</text>
<polygon points="59.22,35.00 60.04,37.18 62.36,37.28 60.54,38.73 61.16,40.97 59.22,39.69 57.28,40.97 57.90,38.73 56.08,37.28 58.41,37.18" fill="#3c3ce4" stroke="#000" stroke-width="0.75" stroke-linejoin="miter"/>
<text x="66.62" y="44.20" font-size="9" text-anchor="middle" dominant-baseline="central" fill="#151515"><tspan font-style="italic" font-size="11.5">&#957;</tspan>4</text>
<polygon points="74.42,89.60 75.24,91.78 77.56,91.88 75.74,93.33 76.36,95.57 74.42,94.29 72.48,95.57 73.10,93.33 71.28,91.88 73.61,91.78" fill="#e83030" stroke="#000" stroke-width="0.75" stroke-linejoin="miter"/>
<text x="66.23" y="99.60" font-size="8.5" text-anchor="middle" dominant-baseline="central" style="" fill="#151515">AE</text>
<polygon points="127.13,110.50 127.94,112.68 130.27,112.78 128.45,114.23 129.07,116.47 127.13,115.19 125.19,116.47 125.81,114.23 123.99,112.78 126.31,112.68" fill="#40d040" stroke="#000" stroke-width="0.75" stroke-linejoin="miter"/>
<text x="132.75" y="118.90" font-size="8.5" text-anchor="middle" dominant-baseline="central" style="" fill="#151515">T</text></g>
</svg>
<svg class="ab" style="left:388px;top:5px" width="7" height="143"><rect x="0" y="135.85" width="7.00" height="7.45" fill="#9978a6"/>
<rect x="0" y="128.70" width="7.00" height="7.45" fill="#9a82af"/>
<rect x="0" y="121.55" width="7.00" height="7.45" fill="#9a8bb7"/>
<rect x="0" y="114.40" width="7.00" height="7.45" fill="#9893bb"/>
<rect x="0" y="107.25" width="7.00" height="7.45" fill="#959cbe"/>
<rect x="0" y="100.10" width="7.00" height="7.45" fill="#91a3c0"/>
<rect x="0" y="92.95" width="7.00" height="7.45" fill="#8eabc1"/>
<rect x="0" y="85.80" width="7.00" height="7.45" fill="#8bb2c1"/>
<rect x="0" y="78.65" width="7.00" height="7.45" fill="#88b8c1"/>
<rect x="0" y="71.50" width="7.00" height="7.45" fill="#86bfc1"/>
<rect x="0" y="64.35" width="7.00" height="7.45" fill="#84c5bf"/>
<rect x="0" y="57.20" width="7.00" height="7.45" fill="#84ccbd"/>
<rect x="0" y="50.05" width="7.00" height="7.45" fill="#89d3b9"/>
<rect x="0" y="42.90" width="7.00" height="7.45" fill="#92d9b4"/>
<rect x="0" y="35.75" width="7.00" height="7.45" fill="#9edead"/>
<rect x="0" y="28.60" width="7.00" height="7.45" fill="#aee4a4"/>
<rect x="0" y="21.45" width="7.00" height="7.45" fill="#bfe899"/>
<rect x="0" y="14.30" width="7.00" height="7.45" fill="#d2ec8d"/>
<rect x="0" y="7.15" width="7.00" height="7.45" fill="#e4ee83"/>
<rect x="0" y="0.00" width="7.00" height="7.45" fill="#f6f182"/></svg>
<div class="ab" style="left:388px;top:4px;width:10.8px;height:1.1px;background:#111"></div>
<div class="ab" style="left:388px;top:148px;width:10.8px;height:1.1px;background:#111"></div>
<svg class="ab" style="left:639px;top:5px" width="6.3" height="143"><rect x="0" y="135.85" width="6.30" height="7.45" fill="#9978a6"/>
<rect x="0" y="128.70" width="6.30" height="7.45" fill="#9a82af"/>
<rect x="0" y="121.55" width="6.30" height="7.45" fill="#9a8bb7"/>
<rect x="0" y="114.40" width="6.30" height="7.45" fill="#9893bb"/>
<rect x="0" y="107.25" width="6.30" height="7.45" fill="#959cbe"/>
<rect x="0" y="100.10" width="6.30" height="7.45" fill="#91a3c0"/>
<rect x="0" y="92.95" width="6.30" height="7.45" fill="#8eabc1"/>
<rect x="0" y="85.80" width="6.30" height="7.45" fill="#8bb2c1"/>
<rect x="0" y="78.65" width="6.30" height="7.45" fill="#88b8c1"/>
<rect x="0" y="71.50" width="6.30" height="7.45" fill="#86bfc1"/>
<rect x="0" y="64.35" width="6.30" height="7.45" fill="#84c5bf"/>
<rect x="0" y="57.20" width="6.30" height="7.45" fill="#84ccbd"/>
<rect x="0" y="50.05" width="6.30" height="7.45" fill="#89d3b9"/>
<rect x="0" y="42.90" width="6.30" height="7.45" fill="#92d9b4"/>
<rect x="0" y="35.75" width="6.30" height="7.45" fill="#9edead"/>
<rect x="0" y="28.60" width="6.30" height="7.45" fill="#aee4a4"/>
<rect x="0" y="21.45" width="6.30" height="7.45" fill="#bfe899"/>
<rect x="0" y="14.30" width="6.30" height="7.45" fill="#d2ec8d"/>
<rect x="0" y="7.15" width="6.30" height="7.45" fill="#e4ee83"/>
<rect x="0" y="0.00" width="6.30" height="7.45" fill="#f6f182"/></svg>
<div class="ab" style="left:639px;top:4px;width:10.1px;height:1.1px;background:#111"></div>
<div class="ab" style="left:639px;top:148px;width:10.1px;height:1.1px;background:#111"></div>
<svg class="ab" style="left:388px;top:168.8px" width="7" height="143"><rect x="0" y="135.85" width="7.00" height="7.45" fill="#9978a6"/>
<rect x="0" y="128.70" width="7.00" height="7.45" fill="#9a82af"/>
<rect x="0" y="121.55" width="7.00" height="7.45" fill="#9a8bb7"/>
<rect x="0" y="114.40" width="7.00" height="7.45" fill="#9893bb"/>
<rect x="0" y="107.25" width="7.00" height="7.45" fill="#959cbe"/>
<rect x="0" y="100.10" width="7.00" height="7.45" fill="#91a3c0"/>
<rect x="0" y="92.95" width="7.00" height="7.45" fill="#8eabc1"/>
<rect x="0" y="85.80" width="7.00" height="7.45" fill="#8bb2c1"/>
<rect x="0" y="78.65" width="7.00" height="7.45" fill="#88b8c1"/>
<rect x="0" y="71.50" width="7.00" height="7.45" fill="#86bfc1"/>
<rect x="0" y="64.35" width="7.00" height="7.45" fill="#84c5bf"/>
<rect x="0" y="57.20" width="7.00" height="7.45" fill="#84ccbd"/>
<rect x="0" y="50.05" width="7.00" height="7.45" fill="#89d3b9"/>
<rect x="0" y="42.90" width="7.00" height="7.45" fill="#92d9b4"/>
<rect x="0" y="35.75" width="7.00" height="7.45" fill="#9edead"/>
<rect x="0" y="28.60" width="7.00" height="7.45" fill="#aee4a4"/>
<rect x="0" y="21.45" width="7.00" height="7.45" fill="#bfe899"/>
<rect x="0" y="14.30" width="7.00" height="7.45" fill="#d2ec8d"/>
<rect x="0" y="7.15" width="7.00" height="7.45" fill="#e4ee83"/>
<rect x="0" y="0.00" width="7.00" height="7.45" fill="#f6f182"/></svg>
<div class="ab" style="left:388px;top:168px;width:10.8px;height:1.1px;background:#111"></div>
<div class="ab" style="left:388px;top:312px;width:10.8px;height:1.1px;background:#111"></div>
<svg class="ab" style="left:639.3px;top:168.8px" width="6.3" height="143"><rect x="0" y="135.85" width="6.30" height="7.45" fill="#9978a6"/>
<rect x="0" y="128.70" width="6.30" height="7.45" fill="#9a82af"/>
<rect x="0" y="121.55" width="6.30" height="7.45" fill="#9a8bb7"/>
<rect x="0" y="114.40" width="6.30" height="7.45" fill="#9893bb"/>
<rect x="0" y="107.25" width="6.30" height="7.45" fill="#959cbe"/>
<rect x="0" y="100.10" width="6.30" height="7.45" fill="#91a3c0"/>
<rect x="0" y="92.95" width="6.30" height="7.45" fill="#8eabc1"/>
<rect x="0" y="85.80" width="6.30" height="7.45" fill="#8bb2c1"/>
<rect x="0" y="78.65" width="6.30" height="7.45" fill="#88b8c1"/>
<rect x="0" y="71.50" width="6.30" height="7.45" fill="#86bfc1"/>
<rect x="0" y="64.35" width="6.30" height="7.45" fill="#84c5bf"/>
<rect x="0" y="57.20" width="6.30" height="7.45" fill="#84ccbd"/>
<rect x="0" y="50.05" width="6.30" height="7.45" fill="#89d3b9"/>
<rect x="0" y="42.90" width="6.30" height="7.45" fill="#92d9b4"/>
<rect x="0" y="35.75" width="6.30" height="7.45" fill="#9edead"/>
<rect x="0" y="28.60" width="6.30" height="7.45" fill="#aee4a4"/>
<rect x="0" y="21.45" width="6.30" height="7.45" fill="#bfe899"/>
<rect x="0" y="14.30" width="6.30" height="7.45" fill="#d2ec8d"/>
<rect x="0" y="7.15" width="6.30" height="7.45" fill="#e4ee83"/>
<rect x="0" y="0.00" width="6.30" height="7.45" fill="#f6f182"/></svg>
<div class="ab" style="left:639.3px;top:168px;width:10.1px;height:1.1px;background:#111"></div>
<div class="ab" style="left:639.3px;top:312px;width:10.1px;height:1.1px;background:#111"></div>
<svg class="ab" style="left:0;top:0" width="685" height="345"><text x="217.4" y="9.1" font-size="13.6" text-anchor="end" font-family="'Liberation Sans', sans-serif" font-style="normal" font-weight="normal" >0.2</text><text x="217.4" y="67.0" font-size="13.6" text-anchor="end" font-family="'Liberation Sans', sans-serif" font-style="normal" font-weight="normal" >0</text><text x="217.4" y="124.3" font-size="13.6" text-anchor="end" font-family="'Liberation Sans', sans-serif" font-style="normal" font-weight="normal" >-0.2</text><text x="217.4" y="194.5" font-size="13.6" text-anchor="end" font-family="'Liberation Sans', sans-serif" font-style="normal" font-weight="normal" >0.1</text><text x="217.4" y="229.4" font-size="13.6" text-anchor="end" font-family="'Liberation Sans', sans-serif" font-style="normal" font-weight="normal" >0</text><text x="217.4" y="265.0" font-size="13.6" text-anchor="end" font-family="'Liberation Sans', sans-serif" font-style="normal" font-weight="normal" >-0.1</text><text x="217.4" y="299.6" font-size="13.6" text-anchor="end" font-family="'Liberation Sans', sans-serif" font-style="normal" font-weight="normal" >-0.2</text><text x="280.2" y="327.3" font-size="13.6" text-anchor="middle" font-family="'Liberation Sans', sans-serif" font-style="normal" font-weight="normal" >0.7</text><text x="355.5" y="327.3" font-size="13.6" text-anchor="middle" font-family="'Liberation Sans', sans-serif" font-style="normal" font-weight="normal" >0.8</text><text x="532.7" y="327.3" font-size="13.6" text-anchor="middle" font-family="'Liberation Sans', sans-serif" font-style="normal" font-weight="normal" >0.7</text><text x="606.9" y="327.3" font-size="13.6" text-anchor="middle" font-family="'Liberation Sans', sans-serif" font-style="normal" font-weight="normal" >0.8</text><text x="400.2" y="9.3" font-size="12.4" text-anchor="start" font-family="'Liberation Sans', sans-serif" font-style="normal" font-weight="normal" >max</text><text x="400.2" y="152.7" font-size="12.4" text-anchor="start" font-family="'Liberation Sans', sans-serif" font-style="normal" font-weight="normal" >min</text><text x="651.3" y="9.3" font-size="12.4" text-anchor="start" font-family="'Liberation Sans', sans-serif" font-style="normal" font-weight="normal" >max</text><text x="651.3" y="152.7" font-size="12.4" text-anchor="start" font-family="'Liberation Sans', sans-serif" font-style="normal" font-weight="normal" >min</text><text x="400.2" y="173.1" font-size="12.4" text-anchor="start" font-family="'Liberation Sans', sans-serif" font-style="normal" font-weight="normal" >max</text><text x="400.2" y="316.5" font-size="12.4" text-anchor="start" font-family="'Liberation Sans', sans-serif" font-style="normal" font-weight="normal" >min</text><text x="651.3" y="173.1" font-size="12.4" text-anchor="start" font-family="'Liberation Sans', sans-serif" font-style="normal" font-weight="normal" >max</text><text x="651.3" y="316.5" font-size="12.4" text-anchor="start" font-family="'Liberation Sans', sans-serif" font-style="normal" font-weight="normal" >min</text><text x="176.2" y="12.3" font-size="17" text-anchor="start" font-family="'Liberation Sans', sans-serif" font-style="normal" font-weight="normal" >A</text><text x="445.5" y="12.3" font-size="17" text-anchor="start" font-family="'Liberation Sans', sans-serif" font-style="normal" font-weight="normal" >B</text><text x="174.7" y="179.4" font-size="17" text-anchor="start" font-family="'Liberation Sans', sans-serif" font-style="normal" font-weight="normal" >C</text><text x="445.5" y="179.4" font-size="17" text-anchor="start" font-family="'Liberation Sans', sans-serif" font-style="normal" font-weight="normal" >D</text><text transform="translate(155.5,120.4) scale(1.25,1)" x="0" y="0" font-size="18.5" font-family="'Liberation Serif', serif" font-style="italic">z</text><text x="165.5" y="113.2" font-size="13" text-anchor="start" font-family="'Liberation Serif', serif" font-style="normal" font-weight="normal" >c</text><text transform="translate(155.5,213.70000000000002) scale(1.25,1)" x="0" y="0" font-size="18.5" font-family="'Liberation Serif', serif" font-style="italic">z</text><text x="165.5" y="206.5" font-size="13" text-anchor="start" font-family="'Liberation Serif', serif" font-style="normal" font-weight="normal" >c</text><g stroke="#111" stroke-width="0.9"><line x1="406.6" y1="70.9" x2="406.6" y2="85.1"/><line x1="409.3" y1="70.9" x2="409.3" y2="85.1"/><line x1="426.6" y1="70.9" x2="426.6" y2="85.1"/><line x1="429.4" y1="70.9" x2="429.4" y2="85.1"/></g><polyline points="415.8,70.2 418,68.2 420.2,70.2" fill="none" stroke="#111" stroke-width="0.8"/><text x="411.6" y="82" font-size="15" text-anchor="start" font-family="'Liberation Serif', serif" font-style="normal" font-weight="bold" >G</text><text y="98.5" font-family="'Liberation Serif', serif"><tspan x="401.6" font-size="17" dy="0.3">(</tspan><tspan x="406.6" dy="-0.3" font-size="14.3">Nm</tspan><tspan x="429.6" font-size="17" dy="0.3">)</tspan></text><text y="78" font-family="'Liberation Serif', serif"><tspan x="651.5" font-size="14.5" font-style="italic">A</tspan><tspan x="661.6" font-size="17" dy="0.8">(</tspan><tspan x="667.2" dy="-0.8" font-size="14.5" font-style="italic">z</tspan><tspan x="673.6" dy="-5.8" font-size="10">r</tspan><tspan x="681.8" dy="6.6" font-size="17">)</tspan></text><text y="97.5" font-family="'Liberation Serif', serif"><tspan x="655.3" font-size="17" dy="0.3">(</tspan><tspan x="660.4" dy="-0.3" font-size="14.5">m</tspan><tspan x="673.8" font-size="17" dy="0.3">)</tspan></text><g stroke="#111" stroke-width="0.9"><line x1="406.6" y1="234.70000000000002" x2="406.6" y2="248.9"/><line x1="409.3" y1="234.70000000000002" x2="409.3" y2="248.9"/><line x1="426.6" y1="234.70000000000002" x2="426.6" y2="248.9"/><line x1="429.4" y1="234.70000000000002" x2="429.4" y2="248.9"/></g><polyline points="415.8,234.0 418,232.0 420.2,234.0" fill="none" stroke="#111" stroke-width="0.8"/><text x="411.6" y="245.8" font-size="15" text-anchor="start" font-family="'Liberation Serif', serif" font-style="normal" font-weight="bold" >G</text><text y="262.3" font-family="'Liberation Serif', serif"><tspan x="401.6" font-size="17" dy="0.3">(</tspan><tspan x="406.6" dy="-0.3" font-size="14.3">Nm</tspan><tspan x="429.6" font-size="17" dy="0.3">)</tspan></text><text y="241.8" font-family="'Liberation Serif', serif"><tspan x="651.5" font-size="14.5" font-style="italic">A</tspan><tspan x="661.6" font-size="17" dy="0.8">(</tspan><tspan x="667.2" dy="-0.8" font-size="14.5" font-style="italic">z</tspan><tspan x="673.6" dy="-5.8" font-size="10">r</tspan><tspan x="681.8" dy="6.6" font-size="17">)</tspan></text><text y="261.3" font-family="'Liberation Serif', serif"><tspan x="655.3" font-size="17" dy="0.3">(</tspan><tspan x="660.4" dy="-0.3" font-size="14.5">m</tspan><tspan x="673.8" font-size="17" dy="0.3">)</tspan></text><text y="341.5" font-family="'Liberation Serif', serif" fill="#505050"><tspan x="282.0" font-size="15" font-style="italic">x</tspan><tspan x="290.8" dy="-6" font-size="10">r</tspan><tspan x="299.4" dy="6.3" font-size="17">(</tspan><tspan x="304.4" dy="-0.3" font-size="14.5">m</tspan><tspan x="315.6" dy="0.3" font-size="17">)</tspan></text><text y="341.5" font-family="'Liberation Serif', serif" fill="#505050"><tspan x="534.0" font-size="15" font-style="italic">x</tspan><tspan x="542.8" dy="-6" font-size="10">r</tspan><tspan x="551.4" dy="6.3" font-size="17">(</tspan><tspan x="556.4" dy="-0.3" font-size="14.5">m</tspan><tspan x="567.6" dy="0.3" font-size="17">)</tspan></text><g transform="translate(187.6,94.3) rotate(-90)"><text y="0" font-family="'Liberation Serif', serif" fill="#505050"><tspan x="0" font-size="15" font-style="italic">z</tspan><tspan x="7.6" dy="-6" font-size="10">r</tspan><tspan x="16.2" dy="6.3" font-size="17">(</tspan><tspan x="21.2" dy="-0.3" font-size="14.5">m</tspan><tspan x="32.4" dy="0.3" font-size="17">)</tspan></text></g><g transform="translate(187.6,258.3) rotate(-90)"><text y="0" font-family="'Liberation Serif', serif" fill="#505050"><tspan x="0" font-size="15" font-style="italic">z</tspan><tspan x="7.6" dy="-6" font-size="10">r</tspan><tspan x="16.2" dy="6.3" font-size="17">(</tspan><tspan x="21.2" dy="-0.3" font-size="14.5">m</tspan><tspan x="32.4" dy="0.3" font-size="17">)</tspan></text></g></svg>
</body></html>
